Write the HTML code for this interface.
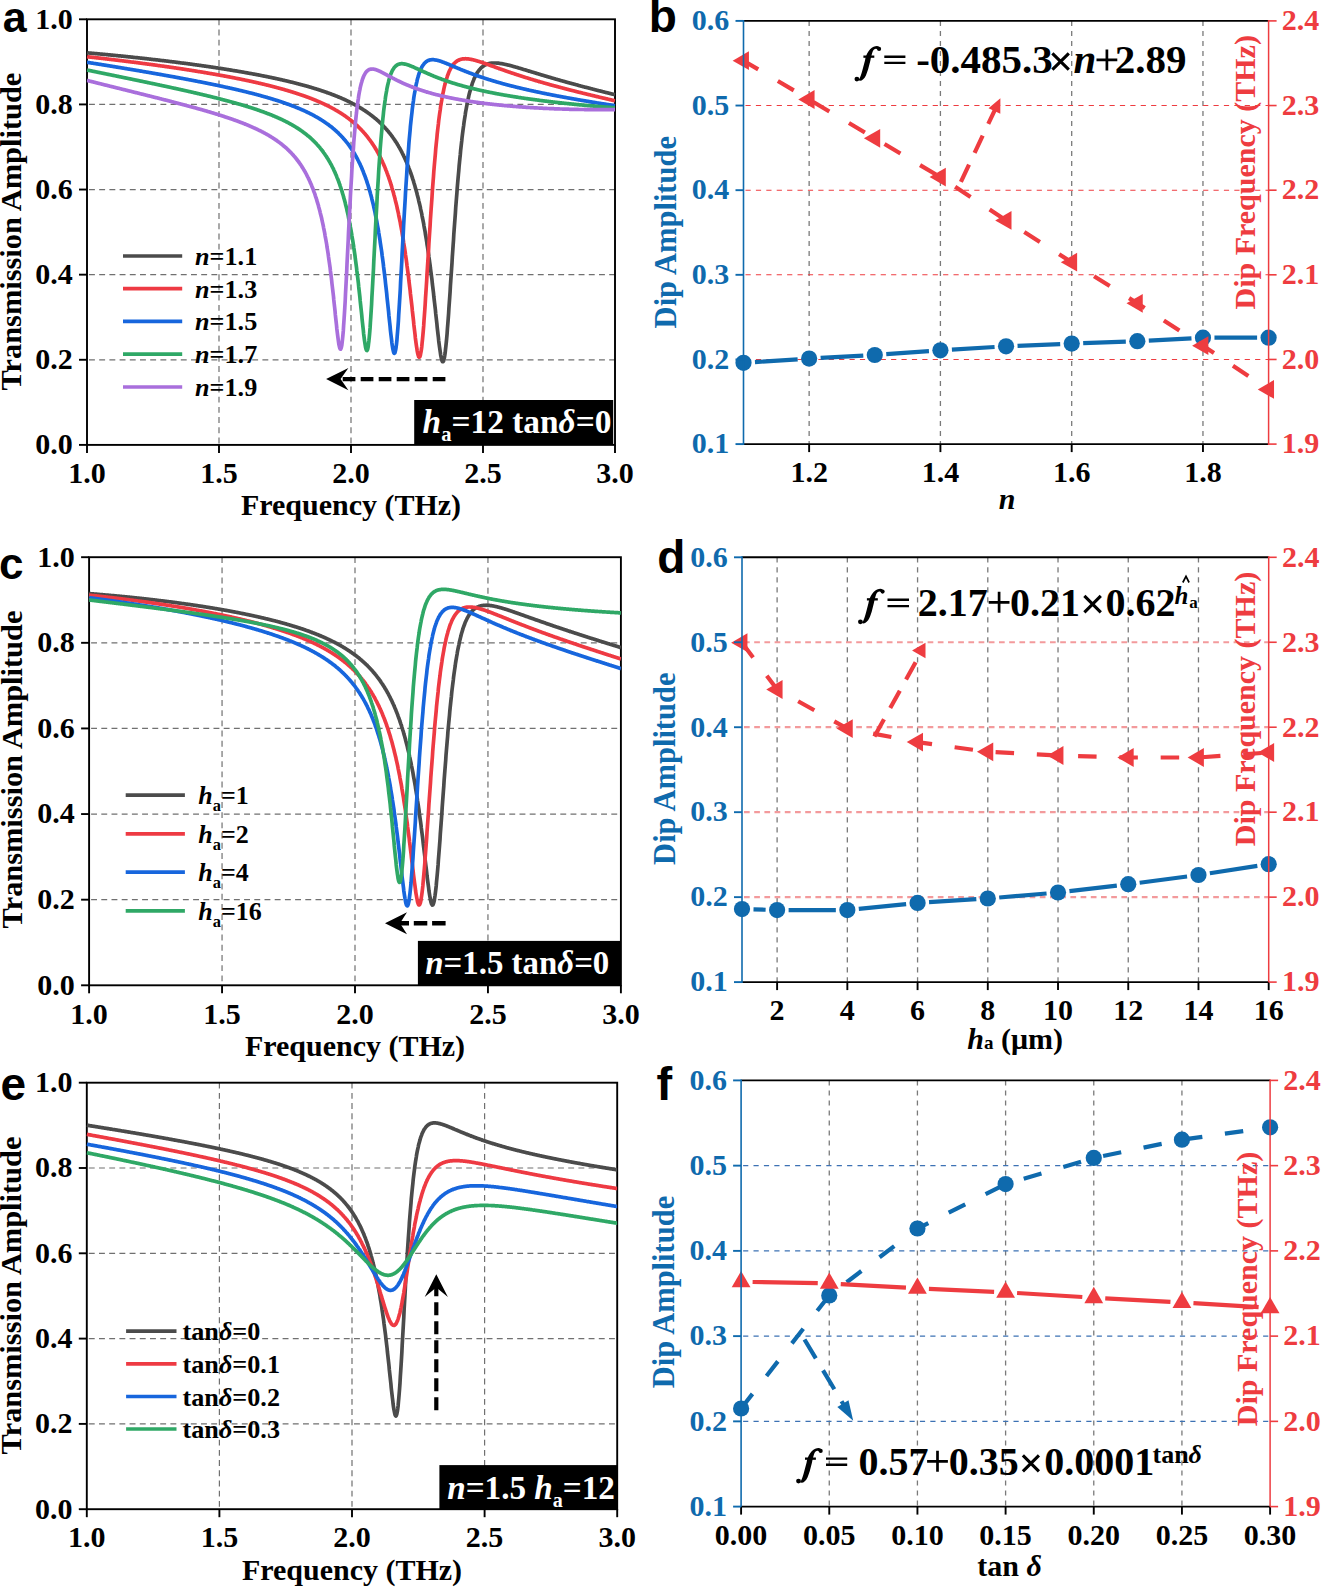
<!DOCTYPE html>
<html><head><meta charset="utf-8"><style>html,body{margin:0;padding:0;background:#fff;overflow:hidden}svg{display:block}</style></head><body>
<svg width="1321" height="1587" viewBox="0 0 1321 1587" font-family="Liberation Serif, serif" font-weight="bold">
<rect width="1321" height="1587" fill="#fff"/>
<line x1="219.00" y1="19.30" x2="219.00" y2="444.90" stroke="#707070" stroke-width="1.2" stroke-dasharray="5.9 4.3"/>
<line x1="351.00" y1="19.30" x2="351.00" y2="444.90" stroke="#707070" stroke-width="1.2" stroke-dasharray="5.9 4.3"/>
<line x1="483.00" y1="19.30" x2="483.00" y2="444.90" stroke="#707070" stroke-width="1.2" stroke-dasharray="5.9 4.3"/>
<line x1="89.00" y1="359.78" x2="615.00" y2="359.78" stroke="#707070" stroke-width="1.2" stroke-dasharray="5.9 4.3"/>
<line x1="89.00" y1="274.66" x2="615.00" y2="274.66" stroke="#707070" stroke-width="1.2" stroke-dasharray="5.9 4.3"/>
<line x1="89.00" y1="189.54" x2="615.00" y2="189.54" stroke="#707070" stroke-width="1.2" stroke-dasharray="5.9 4.3"/>
<line x1="89.00" y1="104.42" x2="615.00" y2="104.42" stroke="#707070" stroke-width="1.2" stroke-dasharray="5.9 4.3"/>
<clipPath id="clipa"><rect x="86.5" y="19.3" width="529.0" height="425.59999999999997"/></clipPath>
<rect x="87.00" y="19.30" width="528.00" height="425.60" fill="none" stroke="#000" stroke-width="1.9"/>
<g clip-path="url(#clipa)" fill="none" stroke-width="3.7" stroke-linejoin="round">
<polyline points="87.0,52.8 87.4,52.9 87.8,52.9 88.1,52.9 88.5,53.0 88.9,53.0 89.3,53.0 89.6,53.1 90.0,53.1 90.4,53.1 90.8,53.2 91.2,53.2 91.5,53.2 91.9,53.3 92.3,53.3 92.7,53.3 93.0,53.4 93.4,53.4 93.8,53.4 94.2,53.5 94.5,53.5 94.9,53.5 95.3,53.6 95.7,53.6 96.1,53.6 96.4,53.7 96.8,53.7 97.2,53.7 97.6,53.8 97.9,53.8 98.3,53.8 98.7,53.9 99.1,53.9 99.5,53.9 99.8,54.0 100.2,54.0 100.6,54.0 101.0,54.1 101.3,54.1 101.7,54.2 102.1,54.2 102.5,54.2 102.9,54.3 103.2,54.3 103.6,54.3 104.0,54.4 104.4,54.4 104.7,54.4 105.1,54.5 105.5,54.5 105.9,54.5 106.2,54.6 106.6,54.6 107.0,54.7 107.4,54.7 107.8,54.7 108.1,54.8 108.5,54.8 108.9,54.8 109.3,54.9 109.6,54.9 110.0,54.9 110.4,55.0 110.8,55.0 111.2,55.1 111.5,55.1 111.9,55.1 112.3,55.2 112.7,55.2 113.0,55.2 113.4,55.3 113.8,55.3 114.2,55.3 114.6,55.4 114.9,55.4 115.3,55.5 115.7,55.5 116.1,55.5 116.4,55.6 116.8,55.6 117.2,55.6 117.6,55.7 117.9,55.7 118.3,55.8 118.7,55.8 119.1,55.8 119.5,55.9 119.8,55.9 120.2,55.9 120.6,56.0 121.0,56.0 121.3,56.1 121.7,56.1 122.1,56.1 122.5,56.2 122.9,56.2 123.2,56.2 123.6,56.3 124.0,56.3 124.4,56.4 124.7,56.4 125.1,56.4 125.5,56.5 125.9,56.5 126.3,56.6 126.6,56.6 127.0,56.6 127.4,56.7 127.8,56.7 128.1,56.8 128.5,56.8 128.9,56.8 129.3,56.9 129.6,56.9 130.0,56.9 130.4,57.0 130.8,57.0 131.2,57.1 131.5,57.1 131.9,57.1 132.3,57.2 132.7,57.2 133.0,57.3 133.4,57.3 133.8,57.3 134.2,57.4 134.6,57.4 134.9,57.5 135.3,57.5 135.7,57.5 136.1,57.6 136.4,57.6 136.8,57.7 137.2,57.7 137.6,57.7 138.0,57.8 138.3,57.8 138.7,57.9 139.1,57.9 139.5,58.0 139.8,58.0 140.2,58.0 140.6,58.1 141.0,58.1 141.3,58.2 141.7,58.2 142.1,58.2 142.5,58.3 142.9,58.3 143.2,58.4 143.6,58.4 144.0,58.4 144.4,58.5 144.7,58.5 145.1,58.6 145.5,58.6 145.9,58.7 146.3,58.7 146.6,58.7 147.0,58.8 147.4,58.8 147.8,58.9 148.1,58.9 148.5,59.0 148.9,59.0 149.3,59.0 149.7,59.1 150.0,59.1 150.4,59.2 150.8,59.2 151.2,59.3 151.5,59.3 151.9,59.3 152.3,59.4 152.7,59.4 153.0,59.5 153.4,59.5 153.8,59.6 154.2,59.6 154.6,59.6 154.9,59.7 155.3,59.7 155.7,59.8 156.1,59.8 156.4,59.9 156.8,59.9 157.2,59.9 157.6,60.0 158.0,60.0 158.3,60.1 158.7,60.1 159.1,60.2 159.5,60.2 159.8,60.3 160.2,60.3 160.6,60.3 161.0,60.4 161.4,60.4 161.7,60.5 162.1,60.5 162.5,60.6 162.9,60.6 163.2,60.7 163.6,60.7 164.0,60.7 164.4,60.8 164.7,60.8 165.1,60.9 165.5,60.9 165.9,61.0 166.3,61.0 166.6,61.1 167.0,61.1 167.4,61.2 167.8,61.2 168.1,61.2 168.5,61.3 168.9,61.3 169.3,61.4 169.7,61.4 170.0,61.5 170.4,61.5 170.8,61.6 171.2,61.6 171.5,61.7 171.9,61.7 172.3,61.8 172.7,61.8 173.1,61.9 173.4,61.9 173.8,61.9 174.2,62.0 174.6,62.0 174.9,62.1 175.3,62.1 175.7,62.2 176.1,62.2 176.4,62.3 176.8,62.3 177.2,62.4 177.6,62.4 178.0,62.5 178.3,62.5 178.7,62.6 179.1,62.6 179.5,62.7 179.8,62.7 180.2,62.8 180.6,62.8 181.0,62.9 181.4,62.9 181.7,63.0 182.1,63.0 182.5,63.1 182.9,63.1 183.2,63.1 183.6,63.2 184.0,63.2 184.4,63.3 184.7,63.3 185.1,63.4 185.5,63.4 185.9,63.5 186.3,63.5 186.6,63.6 187.0,63.6 187.4,63.7 187.8,63.7 188.1,63.8 188.5,63.8 188.9,63.9 189.3,63.9 189.7,64.0 190.0,64.0 190.4,64.1 190.8,64.1 191.2,64.2 191.5,64.2 191.9,64.3 192.3,64.4 192.7,64.4 193.1,64.5 193.4,64.5 193.8,64.6 194.2,64.6 194.6,64.7 194.9,64.7 195.3,64.8 195.7,64.8 196.1,64.9 196.4,64.9 196.8,65.0 197.2,65.0 197.6,65.1 198.0,65.1 198.3,65.2 198.7,65.2 199.1,65.3 199.5,65.3 199.8,65.4 200.2,65.4 200.6,65.5 201.0,65.5 201.4,65.6 201.7,65.7 202.1,65.7 202.5,65.8 202.9,65.8 203.2,65.9 203.6,65.9 204.0,66.0 204.4,66.0 204.8,66.1 205.1,66.1 205.5,66.2 205.9,66.2 206.3,66.3 206.6,66.4 207.0,66.4 207.4,66.5 207.8,66.5 208.1,66.6 208.5,66.6 208.9,66.7 209.3,66.7 209.7,66.8 210.0,66.9 210.4,66.9 210.8,67.0 211.2,67.0 211.5,67.1 211.9,67.1 212.3,67.2 212.7,67.2 213.1,67.3 213.4,67.4 213.8,67.4 214.2,67.5 214.6,67.5 214.9,67.6 215.3,67.6 215.7,67.7 216.1,67.8 216.5,67.8 216.8,67.9 217.2,67.9 217.6,68.0 218.0,68.0 218.3,68.1 218.7,68.2 219.1,68.2 219.5,68.3 219.8,68.3 220.2,68.4 220.6,68.4 221.0,68.5 221.4,68.6 221.7,68.6 222.1,68.7 222.5,68.7 222.9,68.8 223.2,68.9 223.6,68.9 224.0,69.0 224.4,69.0 224.8,69.1 225.1,69.2 225.5,69.2 225.9,69.3 226.3,69.3 226.6,69.4 227.0,69.5 227.4,69.5 227.8,69.6 228.2,69.6 228.5,69.7 228.9,69.8 229.3,69.8 229.7,69.9 230.0,69.9 230.4,70.0 230.8,70.1 231.2,70.1 231.5,70.2 231.9,70.3 232.3,70.3 232.7,70.4 233.1,70.4 233.4,70.5 233.8,70.6 234.2,70.6 234.6,70.7 234.9,70.8 235.3,70.8 235.7,70.9 236.1,70.9 236.5,71.0 236.8,71.1 237.2,71.1 237.6,71.2 238.0,71.3 238.3,71.3 238.7,71.4 239.1,71.5 239.5,71.5 239.9,71.6 240.2,71.7 240.6,71.7 241.0,71.8 241.4,71.9 241.7,71.9 242.1,72.0 242.5,72.0 242.9,72.1 243.2,72.2 243.6,72.2 244.0,72.3 244.4,72.4 244.8,72.4 245.1,72.5 245.5,72.6 245.9,72.6 246.3,72.7 246.6,72.8 247.0,72.8 247.4,72.9 247.8,73.0 248.2,73.1 248.5,73.1 248.9,73.2 249.3,73.3 249.7,73.3 250.0,73.4 250.4,73.5 250.8,73.5 251.2,73.6 251.6,73.7 251.9,73.7 252.3,73.8 252.7,73.9 253.1,74.0 253.4,74.0 253.8,74.1 254.2,74.2 254.6,74.2 254.9,74.3 255.3,74.4 255.7,74.4 256.1,74.5 256.5,74.6 256.8,74.7 257.2,74.7 257.6,74.8 258.0,74.9 258.3,74.9 258.7,75.0 259.1,75.1 259.5,75.2 259.9,75.2 260.2,75.3 260.6,75.4 261.0,75.5 261.4,75.5 261.7,75.6 262.1,75.7 262.5,75.8 262.9,75.8 263.3,75.9 263.6,76.0 264.0,76.1 264.4,76.1 264.8,76.2 265.1,76.3 265.5,76.4 265.9,76.4 266.3,76.5 266.6,76.6 267.0,76.7 267.4,76.7 267.8,76.8 268.2,76.9 268.5,77.0 268.9,77.1 269.3,77.1 269.7,77.2 270.0,77.3 270.4,77.4 270.8,77.4 271.2,77.5 271.6,77.6 271.9,77.7 272.3,77.8 272.7,77.8 273.1,77.9 273.4,78.0 273.8,78.1 274.2,78.2 274.6,78.2 275.0,78.3 275.3,78.4 275.7,78.5 276.1,78.6 276.5,78.7 276.8,78.7 277.2,78.8 277.6,78.9 278.0,79.0 278.3,79.1 278.7,79.2 279.1,79.2 279.5,79.3 279.9,79.4 280.2,79.5 280.6,79.6 281.0,79.7 281.4,79.7 281.7,79.8 282.1,79.9 282.5,80.0 282.9,80.1 283.3,80.2 283.6,80.3 284.0,80.3 284.4,80.4 284.8,80.5 285.1,80.6 285.5,80.7 285.9,80.8 286.3,80.9 286.7,81.0 287.0,81.1 287.4,81.1 287.8,81.2 288.2,81.3 288.5,81.4 288.9,81.5 289.3,81.6 289.7,81.7 290.0,81.8 290.4,81.9 290.8,82.0 291.2,82.1 291.6,82.1 291.9,82.2 292.3,82.3 292.7,82.4 293.1,82.5 293.4,82.6 293.8,82.7 294.2,82.8 294.6,82.9 295.0,83.0 295.3,83.1 295.7,83.2 296.1,83.3 296.5,83.4 296.8,83.5 297.2,83.6 297.6,83.7 298.0,83.8 298.4,83.9 298.7,84.0 299.1,84.1 299.5,84.2 299.9,84.3 300.2,84.4 300.6,84.5 301.0,84.6 301.4,84.7 301.7,84.8 302.1,84.9 302.5,85.0 302.9,85.1 303.3,85.2 303.6,85.3 304.0,85.4 304.4,85.5 304.8,85.6 305.1,85.7 305.5,85.8 305.9,85.9 306.3,86.0 306.7,86.1 307.0,86.2 307.4,86.3 307.8,86.4 308.2,86.6 308.5,86.7 308.9,86.8 309.3,86.9 309.7,87.0 310.1,87.1 310.4,87.2 310.8,87.3 311.2,87.4 311.6,87.5 311.9,87.7 312.3,87.8 312.7,87.9 313.1,88.0 313.4,88.1 313.8,88.2 314.2,88.3 314.6,88.5 315.0,88.6 315.3,88.7 315.7,88.8 316.1,88.9 316.5,89.0 316.8,89.2 317.2,89.3 317.6,89.4 318.0,89.5 318.4,89.6 318.7,89.8 319.1,89.9 319.5,90.0 319.9,90.1 320.2,90.3 320.6,90.4 321.0,90.5 321.4,90.6 321.8,90.7 322.1,90.9 322.5,91.0 322.9,91.1 323.3,91.3 323.6,91.4 324.0,91.5 324.4,91.6 324.8,91.8 325.1,91.9 325.5,92.0 325.9,92.2 326.3,92.3 326.7,92.4 327.0,92.6 327.4,92.7 327.8,92.8 328.2,93.0 328.5,93.1 328.9,93.2 329.3,93.4 329.7,93.5 330.1,93.7 330.4,93.8 330.8,93.9 331.2,94.1 331.6,94.2 331.9,94.4 332.3,94.5 332.7,94.7 333.1,94.8 333.5,94.9 333.8,95.1 334.2,95.2 334.6,95.4 335.0,95.5 335.3,95.7 335.7,95.8 336.1,96.0 336.5,96.1 336.8,96.3 337.2,96.4 337.6,96.6 338.0,96.8 338.4,96.9 338.7,97.1 339.1,97.2 339.5,97.4 339.9,97.5 340.2,97.7 340.6,97.9 341.0,98.0 341.4,98.2 341.8,98.4 342.1,98.5 342.5,98.7 342.9,98.8 343.3,99.0 343.6,99.2 344.0,99.4 344.4,99.5 344.8,99.7 345.2,99.9 345.5,100.0 345.9,100.2 346.3,100.4 346.7,100.6 347.0,100.8 347.4,100.9 347.8,101.1 348.2,101.3 348.5,101.5 348.9,101.7 349.3,101.8 349.7,102.0 350.1,102.2 350.4,102.4 350.8,102.6 351.2,102.8 351.6,103.0 351.9,103.2 352.3,103.4 352.7,103.6 353.1,103.8 353.5,104.0 353.8,104.2 354.2,104.4 354.6,104.6 355.0,104.8 355.3,105.0 355.7,105.2 356.1,105.4 356.5,105.6 356.8,105.8 357.2,106.0 357.6,106.2 358.0,106.5 358.4,106.7 358.7,106.9 359.1,107.1 359.5,107.3 359.9,107.6 360.2,107.8 360.6,108.0 361.0,108.2 361.4,108.5 361.8,108.7 362.1,108.9 362.5,109.2 362.9,109.4 363.3,109.7 363.6,109.9 364.0,110.1 364.4,110.4 364.8,110.6 365.2,110.9 365.5,111.1 365.9,111.4 366.3,111.7 366.7,111.9 367.0,112.2 367.4,112.4 367.8,112.7 368.2,113.0 368.5,113.2 368.9,113.5 369.3,113.8 369.7,114.1 370.1,114.3 370.4,114.6 370.8,114.9 371.2,115.2 371.6,115.5 371.9,115.8 372.3,116.1 372.7,116.4 373.1,116.7 373.5,117.0 373.8,117.3 374.2,117.6 374.6,117.9 375.0,118.2 375.3,118.5 375.7,118.8 376.1,119.1 376.5,119.5 376.9,119.8 377.2,120.1 377.6,120.5 378.0,120.8 378.4,121.1 378.7,121.5 379.1,121.8 379.5,122.2 379.9,122.5 380.2,122.9 380.6,123.3 381.0,123.6 381.4,124.0 381.8,124.4 382.1,124.7 382.5,125.1 382.9,125.5 383.3,125.9 383.6,126.3 384.0,126.7 384.4,127.1 384.8,127.5 385.2,127.9 385.5,128.3 385.9,128.8 386.3,129.2 386.7,129.6 387.0,130.0 387.4,130.5 387.8,130.9 388.2,131.4 388.6,131.8 388.9,132.3 389.3,132.8 389.7,133.2 390.1,133.7 390.4,134.2 390.8,134.7 391.2,135.2 391.6,135.7 391.9,136.2 392.3,136.7 392.7,137.2 393.1,137.8 393.5,138.3 393.8,138.8 394.2,139.4 394.6,139.9 395.0,140.5 395.3,141.1 395.7,141.7 396.1,142.2 396.5,142.8 396.9,143.4 397.2,144.0 397.6,144.7 398.0,145.3 398.4,145.9 398.7,146.6 399.1,147.2 399.5,147.9 399.9,148.6 400.3,149.2 400.6,149.9 401.0,150.6 401.4,151.3 401.8,152.1 402.1,152.8 402.5,153.5 402.9,154.3 403.3,155.1 403.6,155.8 404.0,156.6 404.4,157.4 404.8,158.3 405.2,159.1 405.5,159.9 405.9,160.8 406.3,161.6 406.7,162.5 407.0,163.4 407.4,164.3 407.8,165.3 408.2,166.2 408.6,167.2 408.9,168.1 409.3,169.1 409.7,170.1 410.1,171.2 410.4,172.2 410.8,173.3 411.2,174.3 411.6,175.4 412.0,176.6 412.3,177.7 412.7,178.9 413.1,180.0 413.5,181.2 413.8,182.5 414.2,183.7 414.6,185.0 415.0,186.3 415.3,187.6 415.7,188.9 416.1,190.3 416.5,191.7 416.9,193.1 417.2,194.5 417.6,196.0 418.0,197.5 418.4,199.0 418.7,200.6 419.1,202.2 419.5,203.8 419.9,205.4 420.3,207.1 420.6,208.9 421.0,210.6 421.4,212.4 421.8,214.2 422.1,216.1 422.5,218.0 422.9,219.9 423.3,221.9 423.7,223.9 424.0,226.0 424.4,228.1 424.8,230.2 425.2,232.4 425.5,234.7 425.9,236.9 426.3,239.3 426.7,241.6 427.0,244.1 427.4,246.5 427.8,249.0 428.2,251.6 428.6,254.2 428.9,256.9 429.3,259.6 429.7,262.4 430.1,265.2 430.4,268.1 430.8,271.0 431.2,274.0 431.6,277.1 432.0,280.1 432.3,283.3 432.7,286.5 433.1,289.7 433.5,293.0 433.8,296.3 434.2,299.7 434.6,303.1 435.0,306.5 435.4,309.9 435.7,313.4 436.1,316.9 436.5,320.4 436.9,323.9 437.2,327.3 437.6,330.8 438.0,334.2 438.4,337.5 438.7,340.7 439.1,343.8 439.5,346.8 439.9,349.6 440.3,352.2 440.6,354.6 441.0,356.7 441.4,358.5 441.8,359.9 442.1,361.0 442.5,361.6 442.9,361.7 443.3,361.4 443.7,360.6 444.0,359.3 444.4,357.6 444.8,355.3 445.2,352.6 445.5,349.5 445.9,346.0 446.3,342.2 446.7,338.1 447.1,333.6 447.4,329.0 447.8,324.1 448.2,319.0 448.6,313.7 448.9,308.4 449.3,302.9 449.7,297.3 450.1,291.6 450.4,285.9 450.8,280.2 451.2,274.4 451.6,268.6 452.0,262.8 452.3,257.1 452.7,251.4 453.1,245.7 453.5,240.1 453.8,234.5 454.2,229.0 454.6,223.6 455.0,218.3 455.4,213.0 455.7,207.8 456.1,202.8 456.5,197.8 456.9,193.0 457.2,188.3 457.6,183.6 458.0,179.1 458.4,174.7 458.8,170.4 459.1,166.3 459.5,162.2 459.9,158.3 460.3,154.5 460.6,150.8 461.0,147.2 461.4,143.8 461.8,140.4 462.1,137.2 462.5,134.1 462.9,131.0 463.3,128.1 463.7,125.3 464.0,122.6 464.4,120.0 464.8,117.5 465.2,115.1 465.5,112.7 465.9,110.5 466.3,108.3 466.7,106.2 467.1,104.2 467.4,102.3 467.8,100.5 468.2,98.7 468.6,97.0 468.9,95.4 469.3,93.8 469.7,92.3 470.1,90.9 470.5,89.5 470.8,88.2 471.2,86.9 471.6,85.7 472.0,84.6 472.3,83.4 472.7,82.4 473.1,81.4 473.5,80.4 473.8,79.5 474.2,78.6 474.6,77.7 475.0,76.9 475.4,76.1 475.7,75.4 476.1,74.7 476.5,74.0 476.9,73.4 477.2,72.7 477.6,72.2 478.0,71.6 478.4,71.1 478.8,70.6 479.1,70.1 479.5,69.6 479.9,69.2 480.3,68.8 480.6,68.4 481.0,68.0 481.4,67.6 481.8,67.3 482.2,67.0 482.5,66.7 482.9,66.4 483.3,66.1 483.7,65.9 484.0,65.6 484.4,65.4 484.8,65.2 485.2,65.0 485.5,64.8 485.9,64.6 486.3,64.4 486.7,64.3 487.1,64.1 487.4,64.0 487.8,63.9 488.2,63.8 488.6,63.7 488.9,63.6 489.3,63.5 489.7,63.4 490.1,63.3 490.5,63.3 490.8,63.2 491.2,63.2 491.6,63.1 492.0,63.1 492.3,63.0 492.7,63.0 493.1,63.0 493.5,63.0 493.9,63.0 494.2,63.0 494.6,63.0 495.0,63.0 495.4,63.0 495.7,63.0 496.1,63.0 496.5,63.0 496.9,63.1 497.2,63.1 497.6,63.1 498.0,63.2 498.4,63.2 498.8,63.2 499.1,63.3 499.5,63.3 499.9,63.4 500.3,63.4 500.6,63.5 501.0,63.6 501.4,63.6 501.8,63.7 502.2,63.7 502.5,63.8 502.9,63.9 503.3,64.0 503.7,64.0 504.0,64.1 504.4,64.2 504.8,64.3 505.2,64.4 505.6,64.4 505.9,64.5 506.3,64.6 506.7,64.7 507.1,64.8 507.4,64.9 507.8,65.0 508.2,65.1 508.6,65.1 508.9,65.2 509.3,65.3 509.7,65.4 510.1,65.5 510.5,65.6 510.8,65.7 511.2,65.8 511.6,65.9 512.0,66.0 512.3,66.1 512.7,66.2 513.1,66.3 513.5,66.5 513.9,66.6 514.2,66.7 514.6,66.8 515.0,66.9 515.4,67.0 515.7,67.1 516.1,67.2 516.5,67.3 516.9,67.4 517.3,67.5 517.6,67.6 518.0,67.8 518.4,67.9 518.8,68.0 519.1,68.1 519.5,68.2 519.9,68.3 520.3,68.4 520.6,68.5 521.0,68.7 521.4,68.8 521.8,68.9 522.2,69.0 522.5,69.1 522.9,69.2 523.3,69.3 523.7,69.5 524.0,69.6 524.4,69.7 524.8,69.8 525.2,69.9 525.6,70.0 525.9,70.1 526.3,70.3 526.7,70.4 527.1,70.5 527.4,70.6 527.8,70.7 528.2,70.8 528.6,70.9 528.9,71.1 529.3,71.2 529.7,71.3 530.1,71.4 530.5,71.5 530.8,71.6 531.2,71.8 531.6,71.9 532.0,72.0 532.3,72.1 532.7,72.2 533.1,72.3 533.5,72.4 533.9,72.6 534.2,72.7 534.6,72.8 535.0,72.9 535.4,73.0 535.7,73.1 536.1,73.3 536.5,73.4 536.9,73.5 537.3,73.6 537.6,73.7 538.0,73.8 538.4,73.9 538.8,74.1 539.1,74.2 539.5,74.3 539.9,74.4 540.3,74.5 540.6,74.6 541.0,74.7 541.4,74.9 541.8,75.0 542.2,75.1 542.5,75.2 542.9,75.3 543.3,75.4 543.7,75.5 544.0,75.6 544.4,75.8 544.8,75.9 545.2,76.0 545.6,76.1 545.9,76.2 546.3,76.3 546.7,76.4 547.1,76.5 547.4,76.7 547.8,76.8 548.2,76.9 548.6,77.0 549.0,77.1 549.3,77.2 549.7,77.3 550.1,77.4 550.5,77.5 550.8,77.6 551.2,77.8 551.6,77.9 552.0,78.0 552.3,78.1 552.7,78.2 553.1,78.3 553.5,78.4 553.9,78.5 554.2,78.6 554.6,78.7 555.0,78.9 555.4,79.0 555.7,79.1 556.1,79.2 556.5,79.3 556.9,79.4 557.3,79.5 557.6,79.6 558.0,79.7 558.4,79.8 558.8,79.9 559.1,80.0 559.5,80.2 559.9,80.3 560.3,80.4 560.7,80.5 561.0,80.6 561.4,80.7 561.8,80.8 562.2,80.9 562.5,81.0 562.9,81.1 563.3,81.2 563.7,81.3 564.0,81.4 564.4,81.5 564.8,81.6 565.2,81.7 565.6,81.8 565.9,82.0 566.3,82.1 566.7,82.2 567.1,82.3 567.4,82.4 567.8,82.5 568.2,82.6 568.6,82.7 569.0,82.8 569.3,82.9 569.7,83.0 570.1,83.1 570.5,83.2 570.8,83.3 571.2,83.4 571.6,83.5 572.0,83.6 572.4,83.7 572.7,83.8 573.1,83.9 573.5,84.0 573.9,84.1 574.2,84.2 574.6,84.3 575.0,84.4 575.4,84.5 575.7,84.6 576.1,84.7 576.5,84.8 576.9,84.9 577.3,85.0 577.6,85.1 578.0,85.2 578.4,85.4 578.8,85.5 579.1,85.6 579.5,85.7 579.9,85.8 580.3,85.9 580.7,86.0 581.0,86.1 581.4,86.2 581.8,86.3 582.2,86.4 582.5,86.5 582.9,86.6 583.3,86.7 583.7,86.8 584.1,86.9 584.4,87.0 584.8,87.1 585.2,87.2 585.6,87.3 585.9,87.3 586.3,87.4 586.7,87.5 587.1,87.6 587.4,87.7 587.8,87.8 588.2,87.9 588.6,88.0 589.0,88.1 589.3,88.2 589.7,88.3 590.1,88.4 590.5,88.5 590.8,88.6 591.2,88.7 591.6,88.8 592.0,88.9 592.4,89.0 592.7,89.1 593.1,89.2 593.5,89.3 593.9,89.4 594.2,89.5 594.6,89.6 595.0,89.7 595.4,89.8 595.8,89.9 596.1,90.0 596.5,90.1 596.9,90.2 597.3,90.3 597.6,90.4 598.0,90.5 598.4,90.6 598.8,90.7 599.1,90.8 599.5,90.8 599.9,90.9 600.3,91.0 600.7,91.1 601.0,91.2 601.4,91.3 601.8,91.4 602.2,91.5 602.5,91.6 602.9,91.7 603.3,91.8 603.7,91.9 604.1,92.0 604.4,92.1 604.8,92.2 605.2,92.3 605.6,92.4 605.9,92.5 606.3,92.6 606.7,92.7 607.1,92.7 607.5,92.8 607.8,92.9 608.2,93.0 608.6,93.1 609.0,93.2 609.3,93.3 609.7,93.4 610.1,93.5 610.5,93.6 610.8,93.7 611.2,93.8 611.6,93.9 612.0,94.0 612.4,94.1 612.7,94.2 613.1,94.2 613.5,94.3 613.9,94.4 614.2,94.5 614.6,94.6 615.0,94.7" stroke="#4b4b4b"/>
<polyline points="87.0,56.7 87.4,56.8 87.8,56.8 88.1,56.8 88.5,56.9 88.9,56.9 89.3,57.0 89.6,57.0 90.0,57.1 90.4,57.1 90.8,57.1 91.2,57.2 91.5,57.2 91.9,57.3 92.3,57.3 92.7,57.4 93.0,57.4 93.4,57.4 93.8,57.5 94.2,57.5 94.5,57.6 94.9,57.6 95.3,57.6 95.7,57.7 96.1,57.7 96.4,57.8 96.8,57.8 97.2,57.9 97.6,57.9 97.9,57.9 98.3,58.0 98.7,58.0 99.1,58.1 99.5,58.1 99.8,58.2 100.2,58.2 100.6,58.2 101.0,58.3 101.3,58.3 101.7,58.4 102.1,58.4 102.5,58.5 102.9,58.5 103.2,58.5 103.6,58.6 104.0,58.6 104.4,58.7 104.7,58.7 105.1,58.8 105.5,58.8 105.9,58.9 106.2,58.9 106.6,58.9 107.0,59.0 107.4,59.0 107.8,59.1 108.1,59.1 108.5,59.2 108.9,59.2 109.3,59.3 109.6,59.3 110.0,59.3 110.4,59.4 110.8,59.4 111.2,59.5 111.5,59.5 111.9,59.6 112.3,59.6 112.7,59.7 113.0,59.7 113.4,59.7 113.8,59.8 114.2,59.8 114.6,59.9 114.9,59.9 115.3,60.0 115.7,60.0 116.1,60.1 116.4,60.1 116.8,60.1 117.2,60.2 117.6,60.2 117.9,60.3 118.3,60.3 118.7,60.4 119.1,60.4 119.5,60.5 119.8,60.5 120.2,60.6 120.6,60.6 121.0,60.7 121.3,60.7 121.7,60.7 122.1,60.8 122.5,60.8 122.9,60.9 123.2,60.9 123.6,61.0 124.0,61.0 124.4,61.1 124.7,61.1 125.1,61.2 125.5,61.2 125.9,61.3 126.3,61.3 126.6,61.3 127.0,61.4 127.4,61.4 127.8,61.5 128.1,61.5 128.5,61.6 128.9,61.6 129.3,61.7 129.6,61.7 130.0,61.8 130.4,61.8 130.8,61.9 131.2,61.9 131.5,62.0 131.9,62.0 132.3,62.1 132.7,62.1 133.0,62.2 133.4,62.2 133.8,62.2 134.2,62.3 134.6,62.3 134.9,62.4 135.3,62.4 135.7,62.5 136.1,62.5 136.4,62.6 136.8,62.6 137.2,62.7 137.6,62.7 138.0,62.8 138.3,62.8 138.7,62.9 139.1,62.9 139.5,63.0 139.8,63.0 140.2,63.1 140.6,63.1 141.0,63.2 141.3,63.2 141.7,63.3 142.1,63.3 142.5,63.4 142.9,63.4 143.2,63.5 143.6,63.5 144.0,63.6 144.4,63.6 144.7,63.7 145.1,63.7 145.5,63.8 145.9,63.8 146.3,63.9 146.6,63.9 147.0,64.0 147.4,64.0 147.8,64.1 148.1,64.1 148.5,64.2 148.9,64.2 149.3,64.3 149.7,64.3 150.0,64.4 150.4,64.4 150.8,64.5 151.2,64.5 151.5,64.6 151.9,64.6 152.3,64.7 152.7,64.7 153.0,64.8 153.4,64.8 153.8,64.9 154.2,64.9 154.6,65.0 154.9,65.0 155.3,65.1 155.7,65.1 156.1,65.2 156.4,65.2 156.8,65.3 157.2,65.3 157.6,65.4 158.0,65.4 158.3,65.5 158.7,65.6 159.1,65.6 159.5,65.7 159.8,65.7 160.2,65.8 160.6,65.8 161.0,65.9 161.4,65.9 161.7,66.0 162.1,66.0 162.5,66.1 162.9,66.1 163.2,66.2 163.6,66.2 164.0,66.3 164.4,66.3 164.7,66.4 165.1,66.5 165.5,66.5 165.9,66.6 166.3,66.6 166.6,66.7 167.0,66.7 167.4,66.8 167.8,66.8 168.1,66.9 168.5,66.9 168.9,67.0 169.3,67.0 169.7,67.1 170.0,67.2 170.4,67.2 170.8,67.3 171.2,67.3 171.5,67.4 171.9,67.4 172.3,67.5 172.7,67.5 173.1,67.6 173.4,67.6 173.8,67.7 174.2,67.8 174.6,67.8 174.9,67.9 175.3,67.9 175.7,68.0 176.1,68.0 176.4,68.1 176.8,68.2 177.2,68.2 177.6,68.3 178.0,68.3 178.3,68.4 178.7,68.4 179.1,68.5 179.5,68.5 179.8,68.6 180.2,68.7 180.6,68.7 181.0,68.8 181.4,68.8 181.7,68.9 182.1,68.9 182.5,69.0 182.9,69.1 183.2,69.1 183.6,69.2 184.0,69.2 184.4,69.3 184.7,69.3 185.1,69.4 185.5,69.5 185.9,69.5 186.3,69.6 186.6,69.6 187.0,69.7 187.4,69.8 187.8,69.8 188.1,69.9 188.5,69.9 188.9,70.0 189.3,70.0 189.7,70.1 190.0,70.2 190.4,70.2 190.8,70.3 191.2,70.3 191.5,70.4 191.9,70.5 192.3,70.5 192.7,70.6 193.1,70.6 193.4,70.7 193.8,70.8 194.2,70.8 194.6,70.9 194.9,70.9 195.3,71.0 195.7,71.1 196.1,71.1 196.4,71.2 196.8,71.3 197.2,71.3 197.6,71.4 198.0,71.4 198.3,71.5 198.7,71.6 199.1,71.6 199.5,71.7 199.8,71.7 200.2,71.8 200.6,71.9 201.0,71.9 201.4,72.0 201.7,72.1 202.1,72.1 202.5,72.2 202.9,72.2 203.2,72.3 203.6,72.4 204.0,72.4 204.4,72.5 204.8,72.6 205.1,72.6 205.5,72.7 205.9,72.7 206.3,72.8 206.6,72.9 207.0,72.9 207.4,73.0 207.8,73.1 208.1,73.1 208.5,73.2 208.9,73.3 209.3,73.3 209.7,73.4 210.0,73.5 210.4,73.5 210.8,73.6 211.2,73.6 211.5,73.7 211.9,73.8 212.3,73.8 212.7,73.9 213.1,74.0 213.4,74.0 213.8,74.1 214.2,74.2 214.6,74.2 214.9,74.3 215.3,74.4 215.7,74.4 216.1,74.5 216.5,74.6 216.8,74.6 217.2,74.7 217.6,74.8 218.0,74.8 218.3,74.9 218.7,75.0 219.1,75.0 219.5,75.1 219.8,75.2 220.2,75.3 220.6,75.3 221.0,75.4 221.4,75.5 221.7,75.5 222.1,75.6 222.5,75.7 222.9,75.7 223.2,75.8 223.6,75.9 224.0,75.9 224.4,76.0 224.8,76.1 225.1,76.2 225.5,76.2 225.9,76.3 226.3,76.4 226.6,76.4 227.0,76.5 227.4,76.6 227.8,76.7 228.2,76.7 228.5,76.8 228.9,76.9 229.3,76.9 229.7,77.0 230.0,77.1 230.4,77.2 230.8,77.2 231.2,77.3 231.5,77.4 231.9,77.4 232.3,77.5 232.7,77.6 233.1,77.7 233.4,77.7 233.8,77.8 234.2,77.9 234.6,78.0 234.9,78.0 235.3,78.1 235.7,78.2 236.1,78.3 236.5,78.3 236.8,78.4 237.2,78.5 237.6,78.6 238.0,78.6 238.3,78.7 238.7,78.8 239.1,78.9 239.5,78.9 239.9,79.0 240.2,79.1 240.6,79.2 241.0,79.2 241.4,79.3 241.7,79.4 242.1,79.5 242.5,79.6 242.9,79.6 243.2,79.7 243.6,79.8 244.0,79.9 244.4,79.9 244.8,80.0 245.1,80.1 245.5,80.2 245.9,80.3 246.3,80.3 246.6,80.4 247.0,80.5 247.4,80.6 247.8,80.7 248.2,80.7 248.5,80.8 248.9,80.9 249.3,81.0 249.7,81.1 250.0,81.1 250.4,81.2 250.8,81.3 251.2,81.4 251.6,81.5 251.9,81.6 252.3,81.6 252.7,81.7 253.1,81.8 253.4,81.9 253.8,82.0 254.2,82.1 254.6,82.1 254.9,82.2 255.3,82.3 255.7,82.4 256.1,82.5 256.5,82.6 256.8,82.7 257.2,82.7 257.6,82.8 258.0,82.9 258.3,83.0 258.7,83.1 259.1,83.2 259.5,83.3 259.9,83.4 260.2,83.4 260.6,83.5 261.0,83.6 261.4,83.7 261.7,83.8 262.1,83.9 262.5,84.0 262.9,84.1 263.3,84.2 263.6,84.2 264.0,84.3 264.4,84.4 264.8,84.5 265.1,84.6 265.5,84.7 265.9,84.8 266.3,84.9 266.6,85.0 267.0,85.1 267.4,85.2 267.8,85.2 268.2,85.3 268.5,85.4 268.9,85.5 269.3,85.6 269.7,85.7 270.0,85.8 270.4,85.9 270.8,86.0 271.2,86.1 271.6,86.2 271.9,86.3 272.3,86.4 272.7,86.5 273.1,86.6 273.4,86.7 273.8,86.8 274.2,86.9 274.6,87.0 275.0,87.1 275.3,87.2 275.7,87.3 276.1,87.4 276.5,87.5 276.8,87.6 277.2,87.7 277.6,87.8 278.0,87.9 278.3,88.0 278.7,88.1 279.1,88.2 279.5,88.3 279.9,88.4 280.2,88.5 280.6,88.6 281.0,88.7 281.4,88.8 281.7,88.9 282.1,89.0 282.5,89.1 282.9,89.2 283.3,89.3 283.6,89.4 284.0,89.5 284.4,89.7 284.8,89.8 285.1,89.9 285.5,90.0 285.9,90.1 286.3,90.2 286.7,90.3 287.0,90.4 287.4,90.5 287.8,90.6 288.2,90.8 288.5,90.9 288.9,91.0 289.3,91.1 289.7,91.2 290.0,91.3 290.4,91.4 290.8,91.6 291.2,91.7 291.6,91.8 291.9,91.9 292.3,92.0 292.7,92.1 293.1,92.3 293.4,92.4 293.8,92.5 294.2,92.6 294.6,92.7 295.0,92.8 295.3,93.0 295.7,93.1 296.1,93.2 296.5,93.3 296.8,93.5 297.2,93.6 297.6,93.7 298.0,93.8 298.4,94.0 298.7,94.1 299.1,94.2 299.5,94.3 299.9,94.5 300.2,94.6 300.6,94.7 301.0,94.8 301.4,95.0 301.7,95.1 302.1,95.2 302.5,95.4 302.9,95.5 303.3,95.6 303.6,95.8 304.0,95.9 304.4,96.0 304.8,96.2 305.1,96.3 305.5,96.4 305.9,96.6 306.3,96.7 306.7,96.8 307.0,97.0 307.4,97.1 307.8,97.3 308.2,97.4 308.5,97.5 308.9,97.7 309.3,97.8 309.7,98.0 310.1,98.1 310.4,98.3 310.8,98.4 311.2,98.5 311.6,98.7 311.9,98.8 312.3,99.0 312.7,99.1 313.1,99.3 313.4,99.4 313.8,99.6 314.2,99.7 314.6,99.9 315.0,100.1 315.3,100.2 315.7,100.4 316.1,100.5 316.5,100.7 316.8,100.8 317.2,101.0 317.6,101.2 318.0,101.3 318.4,101.5 318.7,101.6 319.1,101.8 319.5,102.0 319.9,102.1 320.2,102.3 320.6,102.5 321.0,102.6 321.4,102.8 321.8,103.0 322.1,103.1 322.5,103.3 322.9,103.5 323.3,103.7 323.6,103.8 324.0,104.0 324.4,104.2 324.8,104.4 325.1,104.6 325.5,104.7 325.9,104.9 326.3,105.1 326.7,105.3 327.0,105.5 327.4,105.7 327.8,105.8 328.2,106.0 328.5,106.2 328.9,106.4 329.3,106.6 329.7,106.8 330.1,107.0 330.4,107.2 330.8,107.4 331.2,107.6 331.6,107.8 331.9,108.0 332.3,108.2 332.7,108.4 333.1,108.6 333.5,108.8 333.8,109.0 334.2,109.2 334.6,109.4 335.0,109.7 335.3,109.9 335.7,110.1 336.1,110.3 336.5,110.5 336.8,110.7 337.2,111.0 337.6,111.2 338.0,111.4 338.4,111.6 338.7,111.9 339.1,112.1 339.5,112.3 339.9,112.6 340.2,112.8 340.6,113.0 341.0,113.3 341.4,113.5 341.8,113.8 342.1,114.0 342.5,114.3 342.9,114.5 343.3,114.8 343.6,115.0 344.0,115.3 344.4,115.5 344.8,115.8 345.2,116.1 345.5,116.3 345.9,116.6 346.3,116.9 346.7,117.1 347.0,117.4 347.4,117.7 347.8,117.9 348.2,118.2 348.5,118.5 348.9,118.8 349.3,119.1 349.7,119.4 350.1,119.7 350.4,120.0 350.8,120.3 351.2,120.6 351.6,120.9 351.9,121.2 352.3,121.5 352.7,121.8 353.1,122.1 353.5,122.4 353.8,122.8 354.2,123.1 354.6,123.4 355.0,123.7 355.3,124.1 355.7,124.4 356.1,124.7 356.5,125.1 356.8,125.4 357.2,125.8 357.6,126.1 358.0,126.5 358.4,126.9 358.7,127.2 359.1,127.6 359.5,128.0 359.9,128.4 360.2,128.7 360.6,129.1 361.0,129.5 361.4,129.9 361.8,130.3 362.1,130.7 362.5,131.1 362.9,131.5 363.3,131.9 363.6,132.4 364.0,132.8 364.4,133.2 364.8,133.6 365.2,134.1 365.5,134.5 365.9,135.0 366.3,135.4 366.7,135.9 367.0,136.4 367.4,136.8 367.8,137.3 368.2,137.8 368.5,138.3 368.9,138.8 369.3,139.3 369.7,139.8 370.1,140.3 370.4,140.8 370.8,141.4 371.2,141.9 371.6,142.4 371.9,143.0 372.3,143.5 372.7,144.1 373.1,144.7 373.5,145.3 373.8,145.8 374.2,146.4 374.6,147.0 375.0,147.7 375.3,148.3 375.7,148.9 376.1,149.5 376.5,150.2 376.9,150.8 377.2,151.5 377.6,152.2 378.0,152.9 378.4,153.6 378.7,154.3 379.1,155.0 379.5,155.7 379.9,156.4 380.2,157.2 380.6,158.0 381.0,158.7 381.4,159.5 381.8,160.3 382.1,161.1 382.5,161.9 382.9,162.8 383.3,163.6 383.6,164.5 384.0,165.4 384.4,166.2 384.8,167.1 385.2,168.1 385.5,169.0 385.9,170.0 386.3,170.9 386.7,171.9 387.0,172.9 387.4,173.9 387.8,175.0 388.2,176.0 388.6,177.1 388.9,178.2 389.3,179.3 389.7,180.4 390.1,181.6 390.4,182.7 390.8,183.9 391.2,185.2 391.6,186.4 391.9,187.7 392.3,189.0 392.7,190.3 393.1,191.6 393.5,193.0 393.8,194.4 394.2,195.8 394.6,197.2 395.0,198.7 395.3,200.2 395.7,201.7 396.1,203.3 396.5,204.9 396.9,206.5 397.2,208.2 397.6,209.8 398.0,211.6 398.4,213.3 398.7,215.1 399.1,217.0 399.5,218.8 399.9,220.8 400.3,222.7 400.6,224.7 401.0,226.7 401.4,228.8 401.8,230.9 402.1,233.1 402.5,235.3 402.9,237.6 403.3,239.9 403.6,242.2 404.0,244.7 404.4,247.1 404.8,249.6 405.2,252.2 405.5,254.8 405.9,257.4 406.3,260.1 406.7,262.9 407.0,265.7 407.4,268.6 407.8,271.5 408.2,274.5 408.6,277.5 408.9,280.6 409.3,283.8 409.7,287.0 410.1,290.2 410.4,293.5 410.8,296.8 411.2,300.1 411.6,303.5 412.0,306.9 412.3,310.4 412.7,313.8 413.1,317.3 413.5,320.7 413.8,324.2 414.2,327.6 414.6,330.9 415.0,334.2 415.3,337.4 415.7,340.5 416.1,343.4 416.5,346.2 416.9,348.7 417.2,351.0 417.6,353.0 418.0,354.6 418.4,355.9 418.7,356.8 419.1,357.2 419.5,357.2 419.9,356.6 420.3,355.6 420.6,354.0 421.0,352.0 421.4,349.4 421.8,346.4 422.1,343.0 422.5,339.2 422.9,335.0 423.3,330.5 423.7,325.7 424.0,320.6 424.4,315.3 424.8,309.8 425.2,304.2 425.5,298.4 425.9,292.5 426.3,286.5 426.7,280.4 427.0,274.3 427.4,268.1 427.8,261.9 428.2,255.8 428.6,249.6 428.9,243.5 429.3,237.5 429.7,231.4 430.1,225.5 430.4,219.6 430.8,213.9 431.2,208.2 431.6,202.6 432.0,197.1 432.3,191.8 432.7,186.5 433.1,181.4 433.5,176.4 433.8,171.6 434.2,166.9 434.6,162.3 435.0,157.8 435.4,153.5 435.7,149.3 436.1,145.3 436.5,141.4 436.9,137.6 437.2,134.0 437.6,130.5 438.0,127.1 438.4,123.8 438.7,120.7 439.1,117.7 439.5,114.8 439.9,112.1 440.3,109.4 440.6,106.8 441.0,104.4 441.4,102.0 441.8,99.8 442.1,97.7 442.5,95.6 442.9,93.6 443.3,91.8 443.7,90.0 444.0,88.3 444.4,86.6 444.8,85.1 445.2,83.6 445.5,82.2 445.9,80.8 446.3,79.5 446.7,78.3 447.1,77.1 447.4,76.0 447.8,75.0 448.2,74.0 448.6,73.0 448.9,72.1 449.3,71.2 449.7,70.4 450.1,69.6 450.4,68.9 450.8,68.2 451.2,67.6 451.6,66.9 452.0,66.3 452.3,65.8 452.7,65.2 453.1,64.8 453.5,64.3 453.8,63.8 454.2,63.4 454.6,63.0 455.0,62.7 455.4,62.3 455.7,62.0 456.1,61.7 456.5,61.4 456.9,61.1 457.2,60.9 457.6,60.7 458.0,60.4 458.4,60.2 458.8,60.1 459.1,59.9 459.5,59.7 459.9,59.6 460.3,59.5 460.6,59.4 461.0,59.3 461.4,59.2 461.8,59.1 462.1,59.0 462.5,58.9 462.9,58.9 463.3,58.8 463.7,58.8 464.0,58.8 464.4,58.8 464.8,58.8 465.2,58.7 465.5,58.7 465.9,58.8 466.3,58.8 466.7,58.8 467.1,58.8 467.4,58.8 467.8,58.9 468.2,58.9 468.6,59.0 468.9,59.0 469.3,59.1 469.7,59.1 470.1,59.2 470.5,59.3 470.8,59.3 471.2,59.4 471.6,59.5 472.0,59.6 472.3,59.6 472.7,59.7 473.1,59.8 473.5,59.9 473.8,60.0 474.2,60.1 474.6,60.2 475.0,60.3 475.4,60.4 475.7,60.5 476.1,60.6 476.5,60.7 476.9,60.8 477.2,61.0 477.6,61.1 478.0,61.2 478.4,61.3 478.8,61.4 479.1,61.5 479.5,61.7 479.9,61.8 480.3,61.9 480.6,62.0 481.0,62.1 481.4,62.3 481.8,62.4 482.2,62.5 482.5,62.7 482.9,62.8 483.3,62.9 483.7,63.0 484.0,63.2 484.4,63.3 484.8,63.4 485.2,63.6 485.5,63.7 485.9,63.8 486.3,64.0 486.7,64.1 487.1,64.2 487.4,64.4 487.8,64.5 488.2,64.6 488.6,64.8 488.9,64.9 489.3,65.0 489.7,65.2 490.1,65.3 490.5,65.4 490.8,65.6 491.2,65.7 491.6,65.9 492.0,66.0 492.3,66.1 492.7,66.3 493.1,66.4 493.5,66.5 493.9,66.7 494.2,66.8 494.6,66.9 495.0,67.1 495.4,67.2 495.7,67.4 496.1,67.5 496.5,67.6 496.9,67.8 497.2,67.9 497.6,68.0 498.0,68.2 498.4,68.3 498.8,68.4 499.1,68.6 499.5,68.7 499.9,68.8 500.3,69.0 500.6,69.1 501.0,69.2 501.4,69.4 501.8,69.5 502.2,69.6 502.5,69.8 502.9,69.9 503.3,70.0 503.7,70.2 504.0,70.3 504.4,70.4 504.8,70.6 505.2,70.7 505.6,70.8 505.9,71.0 506.3,71.1 506.7,71.2 507.1,71.4 507.4,71.5 507.8,71.6 508.2,71.8 508.6,71.9 508.9,72.0 509.3,72.1 509.7,72.3 510.1,72.4 510.5,72.5 510.8,72.7 511.2,72.8 511.6,72.9 512.0,73.0 512.3,73.2 512.7,73.3 513.1,73.4 513.5,73.5 513.9,73.7 514.2,73.8 514.6,73.9 515.0,74.1 515.4,74.2 515.7,74.3 516.1,74.4 516.5,74.6 516.9,74.7 517.3,74.8 517.6,74.9 518.0,75.0 518.4,75.2 518.8,75.3 519.1,75.4 519.5,75.5 519.9,75.7 520.3,75.8 520.6,75.9 521.0,76.0 521.4,76.1 521.8,76.3 522.2,76.4 522.5,76.5 522.9,76.6 523.3,76.7 523.7,76.9 524.0,77.0 524.4,77.1 524.8,77.2 525.2,77.3 525.6,77.5 525.9,77.6 526.3,77.7 526.7,77.8 527.1,77.9 527.4,78.0 527.8,78.2 528.2,78.3 528.6,78.4 528.9,78.5 529.3,78.6 529.7,78.7 530.1,78.9 530.5,79.0 530.8,79.1 531.2,79.2 531.6,79.3 532.0,79.4 532.3,79.5 532.7,79.7 533.1,79.8 533.5,79.9 533.9,80.0 534.2,80.1 534.6,80.2 535.0,80.3 535.4,80.4 535.7,80.6 536.1,80.7 536.5,80.8 536.9,80.9 537.3,81.0 537.6,81.1 538.0,81.2 538.4,81.3 538.8,81.4 539.1,81.6 539.5,81.7 539.9,81.8 540.3,81.9 540.6,82.0 541.0,82.1 541.4,82.2 541.8,82.3 542.2,82.4 542.5,82.5 542.9,82.6 543.3,82.8 543.7,82.9 544.0,83.0 544.4,83.1 544.8,83.2 545.2,83.3 545.6,83.4 545.9,83.5 546.3,83.6 546.7,83.7 547.1,83.8 547.4,83.9 547.8,84.0 548.2,84.1 548.6,84.2 549.0,84.3 549.3,84.5 549.7,84.6 550.1,84.7 550.5,84.8 550.8,84.9 551.2,85.0 551.6,85.1 552.0,85.2 552.3,85.3 552.7,85.4 553.1,85.5 553.5,85.6 553.9,85.7 554.2,85.8 554.6,85.9 555.0,86.0 555.4,86.1 555.7,86.2 556.1,86.3 556.5,86.4 556.9,86.5 557.3,86.6 557.6,86.7 558.0,86.8 558.4,86.9 558.8,87.0 559.1,87.1 559.5,87.2 559.9,87.3 560.3,87.4 560.7,87.5 561.0,87.6 561.4,87.7 561.8,87.8 562.2,87.9 562.5,88.0 562.9,88.1 563.3,88.2 563.7,88.3 564.0,88.4 564.4,88.5 564.8,88.6 565.2,88.7 565.6,88.8 565.9,88.9 566.3,89.0 566.7,89.1 567.1,89.2 567.4,89.3 567.8,89.4 568.2,89.5 568.6,89.6 569.0,89.7 569.3,89.8 569.7,89.9 570.1,90.0 570.5,90.1 570.8,90.2 571.2,90.3 571.6,90.4 572.0,90.5 572.4,90.5 572.7,90.6 573.1,90.7 573.5,90.8 573.9,90.9 574.2,91.0 574.6,91.1 575.0,91.2 575.4,91.3 575.7,91.4 576.1,91.5 576.5,91.6 576.9,91.7 577.3,91.8 577.6,91.9 578.0,92.0 578.4,92.1 578.8,92.2 579.1,92.3 579.5,92.3 579.9,92.4 580.3,92.5 580.7,92.6 581.0,92.7 581.4,92.8 581.8,92.9 582.2,93.0 582.5,93.1 582.9,93.2 583.3,93.3 583.7,93.4 584.1,93.5 584.4,93.6 584.8,93.6 585.2,93.7 585.6,93.8 585.9,93.9 586.3,94.0 586.7,94.1 587.1,94.2 587.4,94.3 587.8,94.4 588.2,94.5 588.6,94.6 589.0,94.7 589.3,94.7 589.7,94.8 590.1,94.9 590.5,95.0 590.8,95.1 591.2,95.2 591.6,95.3 592.0,95.4 592.4,95.5 592.7,95.6 593.1,95.7 593.5,95.7 593.9,95.8 594.2,95.9 594.6,96.0 595.0,96.1 595.4,96.2 595.8,96.3 596.1,96.4 596.5,96.5 596.9,96.6 597.3,96.6 597.6,96.7 598.0,96.8 598.4,96.9 598.8,97.0 599.1,97.1 599.5,97.2 599.9,97.3 600.3,97.4 600.7,97.4 601.0,97.5 601.4,97.6 601.8,97.7 602.2,97.8 602.5,97.9 602.9,98.0 603.3,98.1 603.7,98.2 604.1,98.2 604.4,98.3 604.8,98.4 605.2,98.5 605.6,98.6 605.9,98.7 606.3,98.8 606.7,98.9 607.1,98.9 607.5,99.0 607.8,99.1 608.2,99.2 608.6,99.3 609.0,99.4 609.3,99.5 609.7,99.6 610.1,99.6 610.5,99.7 610.8,99.8 611.2,99.9 611.6,100.0 612.0,100.1 612.4,100.2 612.7,100.3 613.1,100.3 613.5,100.4 613.9,100.5 614.2,100.6 614.6,100.7 615.0,100.8" stroke="#ee3a43"/>
<polyline points="87.0,62.3 87.4,62.3 87.8,62.4 88.1,62.5 88.5,62.5 88.9,62.6 89.3,62.6 89.6,62.7 90.0,62.8 90.4,62.8 90.8,62.9 91.2,62.9 91.5,63.0 91.9,63.1 92.3,63.1 92.7,63.2 93.0,63.2 93.4,63.3 93.8,63.4 94.2,63.4 94.5,63.5 94.9,63.5 95.3,63.6 95.7,63.7 96.1,63.7 96.4,63.8 96.8,63.8 97.2,63.9 97.6,64.0 97.9,64.0 98.3,64.1 98.7,64.1 99.1,64.2 99.5,64.3 99.8,64.3 100.2,64.4 100.6,64.4 101.0,64.5 101.3,64.6 101.7,64.6 102.1,64.7 102.5,64.8 102.9,64.8 103.2,64.9 103.6,64.9 104.0,65.0 104.4,65.1 104.7,65.1 105.1,65.2 105.5,65.2 105.9,65.3 106.2,65.4 106.6,65.4 107.0,65.5 107.4,65.5 107.8,65.6 108.1,65.7 108.5,65.7 108.9,65.8 109.3,65.9 109.6,65.9 110.0,66.0 110.4,66.0 110.8,66.1 111.2,66.2 111.5,66.2 111.9,66.3 112.3,66.3 112.7,66.4 113.0,66.5 113.4,66.5 113.8,66.6 114.2,66.7 114.6,66.7 114.9,66.8 115.3,66.8 115.7,66.9 116.1,67.0 116.4,67.0 116.8,67.1 117.2,67.1 117.6,67.2 117.9,67.3 118.3,67.3 118.7,67.4 119.1,67.5 119.5,67.5 119.8,67.6 120.2,67.6 120.6,67.7 121.0,67.8 121.3,67.8 121.7,67.9 122.1,68.0 122.5,68.0 122.9,68.1 123.2,68.1 123.6,68.2 124.0,68.3 124.4,68.3 124.7,68.4 125.1,68.5 125.5,68.5 125.9,68.6 126.3,68.6 126.6,68.7 127.0,68.8 127.4,68.8 127.8,68.9 128.1,69.0 128.5,69.0 128.9,69.1 129.3,69.1 129.6,69.2 130.0,69.3 130.4,69.3 130.8,69.4 131.2,69.5 131.5,69.5 131.9,69.6 132.3,69.7 132.7,69.7 133.0,69.8 133.4,69.8 133.8,69.9 134.2,70.0 134.6,70.0 134.9,70.1 135.3,70.2 135.7,70.2 136.1,70.3 136.4,70.4 136.8,70.4 137.2,70.5 137.6,70.5 138.0,70.6 138.3,70.7 138.7,70.7 139.1,70.8 139.5,70.9 139.8,70.9 140.2,71.0 140.6,71.1 141.0,71.1 141.3,71.2 141.7,71.2 142.1,71.3 142.5,71.4 142.9,71.4 143.2,71.5 143.6,71.6 144.0,71.6 144.4,71.7 144.7,71.8 145.1,71.8 145.5,71.9 145.9,72.0 146.3,72.0 146.6,72.1 147.0,72.2 147.4,72.2 147.8,72.3 148.1,72.3 148.5,72.4 148.9,72.5 149.3,72.5 149.7,72.6 150.0,72.7 150.4,72.7 150.8,72.8 151.2,72.9 151.5,72.9 151.9,73.0 152.3,73.1 152.7,73.1 153.0,73.2 153.4,73.3 153.8,73.3 154.2,73.4 154.6,73.5 154.9,73.5 155.3,73.6 155.7,73.7 156.1,73.7 156.4,73.8 156.8,73.9 157.2,73.9 157.6,74.0 158.0,74.1 158.3,74.1 158.7,74.2 159.1,74.2 159.5,74.3 159.8,74.4 160.2,74.4 160.6,74.5 161.0,74.6 161.4,74.6 161.7,74.7 162.1,74.8 162.5,74.8 162.9,74.9 163.2,75.0 163.6,75.0 164.0,75.1 164.4,75.2 164.7,75.3 165.1,75.3 165.5,75.4 165.9,75.5 166.3,75.5 166.6,75.6 167.0,75.7 167.4,75.7 167.8,75.8 168.1,75.9 168.5,75.9 168.9,76.0 169.3,76.1 169.7,76.1 170.0,76.2 170.4,76.3 170.8,76.3 171.2,76.4 171.5,76.5 171.9,76.5 172.3,76.6 172.7,76.7 173.1,76.7 173.4,76.8 173.8,76.9 174.2,76.9 174.6,77.0 174.9,77.1 175.3,77.2 175.7,77.2 176.1,77.3 176.4,77.4 176.8,77.4 177.2,77.5 177.6,77.6 178.0,77.6 178.3,77.7 178.7,77.8 179.1,77.8 179.5,77.9 179.8,78.0 180.2,78.1 180.6,78.1 181.0,78.2 181.4,78.3 181.7,78.3 182.1,78.4 182.5,78.5 182.9,78.5 183.2,78.6 183.6,78.7 184.0,78.8 184.4,78.8 184.7,78.9 185.1,79.0 185.5,79.0 185.9,79.1 186.3,79.2 186.6,79.3 187.0,79.3 187.4,79.4 187.8,79.5 188.1,79.5 188.5,79.6 188.9,79.7 189.3,79.8 189.7,79.8 190.0,79.9 190.4,80.0 190.8,80.0 191.2,80.1 191.5,80.2 191.9,80.3 192.3,80.3 192.7,80.4 193.1,80.5 193.4,80.5 193.8,80.6 194.2,80.7 194.6,80.8 194.9,80.8 195.3,80.9 195.7,81.0 196.1,81.1 196.4,81.1 196.8,81.2 197.2,81.3 197.6,81.4 198.0,81.4 198.3,81.5 198.7,81.6 199.1,81.6 199.5,81.7 199.8,81.8 200.2,81.9 200.6,81.9 201.0,82.0 201.4,82.1 201.7,82.2 202.1,82.2 202.5,82.3 202.9,82.4 203.2,82.5 203.6,82.5 204.0,82.6 204.4,82.7 204.8,82.8 205.1,82.8 205.5,82.9 205.9,83.0 206.3,83.1 206.6,83.1 207.0,83.2 207.4,83.3 207.8,83.4 208.1,83.5 208.5,83.5 208.9,83.6 209.3,83.7 209.7,83.8 210.0,83.8 210.4,83.9 210.8,84.0 211.2,84.1 211.5,84.1 211.9,84.2 212.3,84.3 212.7,84.4 213.1,84.5 213.4,84.5 213.8,84.6 214.2,84.7 214.6,84.8 214.9,84.8 215.3,84.9 215.7,85.0 216.1,85.1 216.5,85.2 216.8,85.2 217.2,85.3 217.6,85.4 218.0,85.5 218.3,85.6 218.7,85.6 219.1,85.7 219.5,85.8 219.8,85.9 220.2,86.0 220.6,86.0 221.0,86.1 221.4,86.2 221.7,86.3 222.1,86.4 222.5,86.4 222.9,86.5 223.2,86.6 223.6,86.7 224.0,86.8 224.4,86.9 224.8,86.9 225.1,87.0 225.5,87.1 225.9,87.2 226.3,87.3 226.6,87.4 227.0,87.4 227.4,87.5 227.8,87.6 228.2,87.7 228.5,87.8 228.9,87.9 229.3,87.9 229.7,88.0 230.0,88.1 230.4,88.2 230.8,88.3 231.2,88.4 231.5,88.4 231.9,88.5 232.3,88.6 232.7,88.7 233.1,88.8 233.4,88.9 233.8,89.0 234.2,89.0 234.6,89.1 234.9,89.2 235.3,89.3 235.7,89.4 236.1,89.5 236.5,89.6 236.8,89.7 237.2,89.7 237.6,89.8 238.0,89.9 238.3,90.0 238.7,90.1 239.1,90.2 239.5,90.3 239.9,90.4 240.2,90.5 240.6,90.5 241.0,90.6 241.4,90.7 241.7,90.8 242.1,90.9 242.5,91.0 242.9,91.1 243.2,91.2 243.6,91.3 244.0,91.4 244.4,91.5 244.8,91.5 245.1,91.6 245.5,91.7 245.9,91.8 246.3,91.9 246.6,92.0 247.0,92.1 247.4,92.2 247.8,92.3 248.2,92.4 248.5,92.5 248.9,92.6 249.3,92.7 249.7,92.8 250.0,92.9 250.4,93.0 250.8,93.0 251.2,93.1 251.6,93.2 251.9,93.3 252.3,93.4 252.7,93.5 253.1,93.6 253.4,93.7 253.8,93.8 254.2,93.9 254.6,94.0 254.9,94.1 255.3,94.2 255.7,94.3 256.1,94.4 256.5,94.5 256.8,94.6 257.2,94.7 257.6,94.8 258.0,94.9 258.3,95.0 258.7,95.1 259.1,95.2 259.5,95.3 259.9,95.4 260.2,95.5 260.6,95.6 261.0,95.7 261.4,95.8 261.7,96.0 262.1,96.1 262.5,96.2 262.9,96.3 263.3,96.4 263.6,96.5 264.0,96.6 264.4,96.7 264.8,96.8 265.1,96.9 265.5,97.0 265.9,97.1 266.3,97.2 266.6,97.3 267.0,97.4 267.4,97.6 267.8,97.7 268.2,97.8 268.5,97.9 268.9,98.0 269.3,98.1 269.7,98.2 270.0,98.3 270.4,98.4 270.8,98.6 271.2,98.7 271.6,98.8 271.9,98.9 272.3,99.0 272.7,99.1 273.1,99.2 273.4,99.4 273.8,99.5 274.2,99.6 274.6,99.7 275.0,99.8 275.3,99.9 275.7,100.1 276.1,100.2 276.5,100.3 276.8,100.4 277.2,100.5 277.6,100.7 278.0,100.8 278.3,100.9 278.7,101.0 279.1,101.2 279.5,101.3 279.9,101.4 280.2,101.5 280.6,101.7 281.0,101.8 281.4,101.9 281.7,102.0 282.1,102.2 282.5,102.3 282.9,102.4 283.3,102.5 283.6,102.7 284.0,102.8 284.4,102.9 284.8,103.1 285.1,103.2 285.5,103.3 285.9,103.5 286.3,103.6 286.7,103.7 287.0,103.9 287.4,104.0 287.8,104.1 288.2,104.3 288.5,104.4 288.9,104.5 289.3,104.7 289.7,104.8 290.0,105.0 290.4,105.1 290.8,105.2 291.2,105.4 291.6,105.5 291.9,105.7 292.3,105.8 292.7,106.0 293.1,106.1 293.4,106.3 293.8,106.4 294.2,106.5 294.6,106.7 295.0,106.8 295.3,107.0 295.7,107.1 296.1,107.3 296.5,107.5 296.8,107.6 297.2,107.8 297.6,107.9 298.0,108.1 298.4,108.2 298.7,108.4 299.1,108.5 299.5,108.7 299.9,108.9 300.2,109.0 300.6,109.2 301.0,109.3 301.4,109.5 301.7,109.7 302.1,109.8 302.5,110.0 302.9,110.2 303.3,110.3 303.6,110.5 304.0,110.7 304.4,110.9 304.8,111.0 305.1,111.2 305.5,111.4 305.9,111.6 306.3,111.7 306.7,111.9 307.0,112.1 307.4,112.3 307.8,112.5 308.2,112.6 308.5,112.8 308.9,113.0 309.3,113.2 309.7,113.4 310.1,113.6 310.4,113.8 310.8,114.0 311.2,114.1 311.6,114.3 311.9,114.5 312.3,114.7 312.7,114.9 313.1,115.1 313.4,115.3 313.8,115.5 314.2,115.7 314.6,115.9 315.0,116.2 315.3,116.4 315.7,116.6 316.1,116.8 316.5,117.0 316.8,117.2 317.2,117.4 317.6,117.6 318.0,117.9 318.4,118.1 318.7,118.3 319.1,118.5 319.5,118.8 319.9,119.0 320.2,119.2 320.6,119.5 321.0,119.7 321.4,119.9 321.8,120.2 322.1,120.4 322.5,120.6 322.9,120.9 323.3,121.1 323.6,121.4 324.0,121.6 324.4,121.9 324.8,122.1 325.1,122.4 325.5,122.7 325.9,122.9 326.3,123.2 326.7,123.5 327.0,123.7 327.4,124.0 327.8,124.3 328.2,124.5 328.5,124.8 328.9,125.1 329.3,125.4 329.7,125.7 330.1,126.0 330.4,126.3 330.8,126.5 331.2,126.8 331.6,127.1 331.9,127.4 332.3,127.8 332.7,128.1 333.1,128.4 333.5,128.7 333.8,129.0 334.2,129.3 334.6,129.7 335.0,130.0 335.3,130.3 335.7,130.7 336.1,131.0 336.5,131.3 336.8,131.7 337.2,132.0 337.6,132.4 338.0,132.8 338.4,133.1 338.7,133.5 339.1,133.9 339.5,134.2 339.9,134.6 340.2,135.0 340.6,135.4 341.0,135.8 341.4,136.2 341.8,136.6 342.1,137.0 342.5,137.4 342.9,137.8 343.3,138.2 343.6,138.7 344.0,139.1 344.4,139.5 344.8,140.0 345.2,140.4 345.5,140.9 345.9,141.3 346.3,141.8 346.7,142.3 347.0,142.7 347.4,143.2 347.8,143.7 348.2,144.2 348.5,144.7 348.9,145.2 349.3,145.8 349.7,146.3 350.1,146.8 350.4,147.4 350.8,147.9 351.2,148.5 351.6,149.0 351.9,149.6 352.3,150.2 352.7,150.8 353.1,151.4 353.5,152.0 353.8,152.6 354.2,153.2 354.6,153.9 355.0,154.5 355.3,155.2 355.7,155.8 356.1,156.5 356.5,157.2 356.8,157.9 357.2,158.6 357.6,159.3 358.0,160.1 358.4,160.8 358.7,161.6 359.1,162.3 359.5,163.1 359.9,163.9 360.2,164.7 360.6,165.5 361.0,166.4 361.4,167.2 361.8,168.1 362.1,169.0 362.5,169.9 362.9,170.8 363.3,171.8 363.6,172.7 364.0,173.7 364.4,174.7 364.8,175.7 365.2,176.7 365.5,177.8 365.9,178.8 366.3,179.9 366.7,181.0 367.0,182.2 367.4,183.3 367.8,184.5 368.2,185.7 368.5,186.9 368.9,188.2 369.3,189.4 369.7,190.8 370.1,192.1 370.4,193.4 370.8,194.8 371.2,196.3 371.6,197.7 371.9,199.2 372.3,200.7 372.7,202.3 373.1,203.9 373.5,205.5 373.8,207.1 374.2,208.8 374.6,210.6 375.0,212.3 375.3,214.2 375.7,216.0 376.1,217.9 376.5,219.9 376.9,221.9 377.2,223.9 377.6,226.0 378.0,228.1 378.4,230.3 378.7,232.5 379.1,234.8 379.5,237.2 379.9,239.6 380.2,242.1 380.6,244.6 381.0,247.2 381.4,249.8 381.8,252.5 382.1,255.3 382.5,258.1 382.9,261.0 383.3,264.0 383.6,267.0 384.0,270.1 384.4,273.3 384.8,276.5 385.2,279.8 385.5,283.1 385.9,286.5 386.3,290.0 386.7,293.5 387.0,297.1 387.4,300.7 387.8,304.4 388.2,308.1 388.6,311.8 388.9,315.5 389.3,319.2 389.7,322.9 390.1,326.5 390.4,330.1 390.8,333.6 391.2,336.9 391.6,340.1 391.9,343.0 392.3,345.7 392.7,348.1 393.1,350.1 393.5,351.7 393.8,352.8 394.2,353.3 394.6,353.3 395.0,352.7 395.3,351.4 395.7,349.6 396.1,347.1 396.5,343.9 396.9,340.3 397.2,336.1 397.6,331.4 398.0,326.3 398.4,320.8 398.7,314.9 399.1,308.8 399.5,302.4 399.9,295.9 400.3,289.1 400.6,282.2 401.0,275.2 401.4,268.2 401.8,261.1 402.1,253.9 402.5,246.8 402.9,239.8 403.3,232.7 403.6,225.8 404.0,219.0 404.4,212.2 404.8,205.6 405.2,199.1 405.5,192.8 405.9,186.6 406.3,180.6 406.7,174.7 407.0,169.1 407.4,163.6 407.8,158.3 408.2,153.2 408.6,148.2 408.9,143.5 409.3,138.9 409.7,134.6 410.1,130.4 410.4,126.4 410.8,122.6 411.2,118.9 411.6,115.4 412.0,112.1 412.3,108.9 412.7,105.9 413.1,103.1 413.5,100.4 413.8,97.8 414.2,95.3 414.6,93.0 415.0,90.8 415.3,88.8 415.7,86.8 416.1,85.0 416.5,83.2 416.9,81.6 417.2,80.0 417.6,78.5 418.0,77.2 418.4,75.9 418.7,74.6 419.1,73.5 419.5,72.4 419.9,71.4 420.3,70.5 420.6,69.6 421.0,68.7 421.4,68.0 421.8,67.2 422.1,66.5 422.5,65.9 422.9,65.3 423.3,64.8 423.7,64.3 424.0,63.8 424.4,63.4 424.8,62.9 425.2,62.6 425.5,62.2 425.9,61.9 426.3,61.6 426.7,61.4 427.0,61.1 427.4,60.9 427.8,60.7 428.2,60.5 428.6,60.4 428.9,60.2 429.3,60.1 429.7,60.0 430.1,59.9 430.4,59.9 430.8,59.8 431.2,59.8 431.6,59.7 432.0,59.7 432.3,59.7 432.7,59.7 433.1,59.7 433.5,59.7 433.8,59.7 434.2,59.8 434.6,59.8 435.0,59.9 435.4,59.9 435.7,60.0 436.1,60.1 436.5,60.1 436.9,60.2 437.2,60.3 437.6,60.4 438.0,60.5 438.4,60.6 438.7,60.7 439.1,60.8 439.5,60.9 439.9,61.0 440.3,61.2 440.6,61.3 441.0,61.4 441.4,61.5 441.8,61.7 442.1,61.8 442.5,62.0 442.9,62.1 443.3,62.2 443.7,62.4 444.0,62.5 444.4,62.7 444.8,62.8 445.2,63.0 445.5,63.1 445.9,63.3 446.3,63.4 446.7,63.6 447.1,63.7 447.4,63.9 447.8,64.0 448.2,64.2 448.6,64.3 448.9,64.5 449.3,64.7 449.7,64.8 450.1,65.0 450.4,65.1 450.8,65.3 451.2,65.4 451.6,65.6 452.0,65.8 452.3,65.9 452.7,66.1 453.1,66.2 453.5,66.4 453.8,66.6 454.2,66.7 454.6,66.9 455.0,67.0 455.4,67.2 455.7,67.4 456.1,67.5 456.5,67.7 456.9,67.8 457.2,68.0 457.6,68.1 458.0,68.3 458.4,68.5 458.8,68.6 459.1,68.8 459.5,68.9 459.9,69.1 460.3,69.2 460.6,69.4 461.0,69.6 461.4,69.7 461.8,69.9 462.1,70.0 462.5,70.2 462.9,70.3 463.3,70.5 463.7,70.6 464.0,70.8 464.4,70.9 464.8,71.1 465.2,71.2 465.5,71.4 465.9,71.5 466.3,71.7 466.7,71.8 467.1,72.0 467.4,72.1 467.8,72.3 468.2,72.4 468.6,72.5 468.9,72.7 469.3,72.8 469.7,73.0 470.1,73.1 470.5,73.3 470.8,73.4 471.2,73.5 471.6,73.7 472.0,73.8 472.3,74.0 472.7,74.1 473.1,74.2 473.5,74.4 473.8,74.5 474.2,74.6 474.6,74.8 475.0,74.9 475.4,75.1 475.7,75.2 476.1,75.3 476.5,75.5 476.9,75.6 477.2,75.7 477.6,75.9 478.0,76.0 478.4,76.1 478.8,76.3 479.1,76.4 479.5,76.5 479.9,76.6 480.3,76.8 480.6,76.9 481.0,77.0 481.4,77.2 481.8,77.3 482.2,77.4 482.5,77.5 482.9,77.7 483.3,77.8 483.7,77.9 484.0,78.0 484.4,78.2 484.8,78.3 485.2,78.4 485.5,78.5 485.9,78.6 486.3,78.8 486.7,78.9 487.1,79.0 487.4,79.1 487.8,79.2 488.2,79.4 488.6,79.5 488.9,79.6 489.3,79.7 489.7,79.8 490.1,79.9 490.5,80.1 490.8,80.2 491.2,80.3 491.6,80.4 492.0,80.5 492.3,80.6 492.7,80.7 493.1,80.9 493.5,81.0 493.9,81.1 494.2,81.2 494.6,81.3 495.0,81.4 495.4,81.5 495.7,81.6 496.1,81.8 496.5,81.9 496.9,82.0 497.2,82.1 497.6,82.2 498.0,82.3 498.4,82.4 498.8,82.5 499.1,82.6 499.5,82.7 499.9,82.8 500.3,82.9 500.6,83.0 501.0,83.2 501.4,83.3 501.8,83.4 502.2,83.5 502.5,83.6 502.9,83.7 503.3,83.8 503.7,83.9 504.0,84.0 504.4,84.1 504.8,84.2 505.2,84.3 505.6,84.4 505.9,84.5 506.3,84.6 506.7,84.7 507.1,84.8 507.4,84.9 507.8,85.0 508.2,85.1 508.6,85.2 508.9,85.3 509.3,85.4 509.7,85.5 510.1,85.6 510.5,85.7 510.8,85.8 511.2,85.9 511.6,86.0 512.0,86.1 512.3,86.2 512.7,86.2 513.1,86.3 513.5,86.4 513.9,86.5 514.2,86.6 514.6,86.7 515.0,86.8 515.4,86.9 515.7,87.0 516.1,87.1 516.5,87.2 516.9,87.3 517.3,87.4 517.6,87.5 518.0,87.6 518.4,87.6 518.8,87.7 519.1,87.8 519.5,87.9 519.9,88.0 520.3,88.1 520.6,88.2 521.0,88.3 521.4,88.4 521.8,88.5 522.2,88.5 522.5,88.6 522.9,88.7 523.3,88.8 523.7,88.9 524.0,89.0 524.4,89.1 524.8,89.2 525.2,89.2 525.6,89.3 525.9,89.4 526.3,89.5 526.7,89.6 527.1,89.7 527.4,89.8 527.8,89.8 528.2,89.9 528.6,90.0 528.9,90.1 529.3,90.2 529.7,90.3 530.1,90.4 530.5,90.4 530.8,90.5 531.2,90.6 531.6,90.7 532.0,90.8 532.3,90.9 532.7,90.9 533.1,91.0 533.5,91.1 533.9,91.2 534.2,91.3 534.6,91.3 535.0,91.4 535.4,91.5 535.7,91.6 536.1,91.7 536.5,91.8 536.9,91.8 537.3,91.9 537.6,92.0 538.0,92.1 538.4,92.2 538.8,92.2 539.1,92.3 539.5,92.4 539.9,92.5 540.3,92.5 540.6,92.6 541.0,92.7 541.4,92.8 541.8,92.9 542.2,92.9 542.5,93.0 542.9,93.1 543.3,93.2 543.7,93.3 544.0,93.3 544.4,93.4 544.8,93.5 545.2,93.6 545.6,93.6 545.9,93.7 546.3,93.8 546.7,93.9 547.1,93.9 547.4,94.0 547.8,94.1 548.2,94.2 548.6,94.2 549.0,94.3 549.3,94.4 549.7,94.5 550.1,94.5 550.5,94.6 550.8,94.7 551.2,94.8 551.6,94.8 552.0,94.9 552.3,95.0 552.7,95.1 553.1,95.1 553.5,95.2 553.9,95.3 554.2,95.4 554.6,95.4 555.0,95.5 555.4,95.6 555.7,95.6 556.1,95.7 556.5,95.8 556.9,95.9 557.3,95.9 557.6,96.0 558.0,96.1 558.4,96.1 558.8,96.2 559.1,96.3 559.5,96.4 559.9,96.4 560.3,96.5 560.7,96.6 561.0,96.6 561.4,96.7 561.8,96.8 562.2,96.9 562.5,96.9 562.9,97.0 563.3,97.1 563.7,97.1 564.0,97.2 564.4,97.3 564.8,97.3 565.2,97.4 565.6,97.5 565.9,97.5 566.3,97.6 566.7,97.7 567.1,97.8 567.4,97.8 567.8,97.9 568.2,98.0 568.6,98.0 569.0,98.1 569.3,98.2 569.7,98.2 570.1,98.3 570.5,98.4 570.8,98.4 571.2,98.5 571.6,98.6 572.0,98.6 572.4,98.7 572.7,98.8 573.1,98.8 573.5,98.9 573.9,99.0 574.2,99.0 574.6,99.1 575.0,99.2 575.4,99.2 575.7,99.3 576.1,99.4 576.5,99.4 576.9,99.5 577.3,99.6 577.6,99.6 578.0,99.7 578.4,99.8 578.8,99.8 579.1,99.9 579.5,100.0 579.9,100.0 580.3,100.1 580.7,100.2 581.0,100.2 581.4,100.3 581.8,100.3 582.2,100.4 582.5,100.5 582.9,100.5 583.3,100.6 583.7,100.7 584.1,100.7 584.4,100.8 584.8,100.9 585.2,100.9 585.6,101.0 585.9,101.0 586.3,101.1 586.7,101.2 587.1,101.2 587.4,101.3 587.8,101.4 588.2,101.4 588.6,101.5 589.0,101.6 589.3,101.6 589.7,101.7 590.1,101.7 590.5,101.8 590.8,101.9 591.2,101.9 591.6,102.0 592.0,102.1 592.4,102.1 592.7,102.2 593.1,102.2 593.5,102.3 593.9,102.4 594.2,102.4 594.6,102.5 595.0,102.5 595.4,102.6 595.8,102.7 596.1,102.7 596.5,102.8 596.9,102.9 597.3,102.9 597.6,103.0 598.0,103.0 598.4,103.1 598.8,103.2 599.1,103.2 599.5,103.3 599.9,103.3 600.3,103.4 600.7,103.5 601.0,103.5 601.4,103.6 601.8,103.6 602.2,103.7 602.5,103.8 602.9,103.8 603.3,103.9 603.7,103.9 604.1,104.0 604.4,104.1 604.8,104.1 605.2,104.2 605.6,104.2 605.9,104.3 606.3,104.4 606.7,104.4 607.1,104.5 607.5,104.5 607.8,104.6 608.2,104.7 608.6,104.7 609.0,104.8 609.3,104.8 609.7,104.9 610.1,104.9 610.5,105.0 610.8,105.1 611.2,105.1 611.6,105.2 612.0,105.2 612.4,105.3 612.7,105.4 613.1,105.4 613.5,105.5 613.9,105.5 614.2,105.6 614.6,105.6 615.0,105.7" stroke="#1766dd"/>
<polyline points="87.0,70.0 87.4,70.1 87.8,70.2 88.1,70.3 88.5,70.3 88.9,70.4 89.3,70.5 89.6,70.6 90.0,70.6 90.4,70.7 90.8,70.8 91.2,70.9 91.5,70.9 91.9,71.0 92.3,71.1 92.7,71.2 93.0,71.3 93.4,71.3 93.8,71.4 94.2,71.5 94.5,71.6 94.9,71.6 95.3,71.7 95.7,71.8 96.1,71.9 96.4,72.0 96.8,72.0 97.2,72.1 97.6,72.2 97.9,72.3 98.3,72.3 98.7,72.4 99.1,72.5 99.5,72.6 99.8,72.6 100.2,72.7 100.6,72.8 101.0,72.9 101.3,73.0 101.7,73.0 102.1,73.1 102.5,73.2 102.9,73.3 103.2,73.3 103.6,73.4 104.0,73.5 104.4,73.6 104.7,73.7 105.1,73.7 105.5,73.8 105.9,73.9 106.2,74.0 106.6,74.0 107.0,74.1 107.4,74.2 107.8,74.3 108.1,74.4 108.5,74.4 108.9,74.5 109.3,74.6 109.6,74.7 110.0,74.7 110.4,74.8 110.8,74.9 111.2,75.0 111.5,75.0 111.9,75.1 112.3,75.2 112.7,75.3 113.0,75.4 113.4,75.4 113.8,75.5 114.2,75.6 114.6,75.7 114.9,75.7 115.3,75.8 115.7,75.9 116.1,76.0 116.4,76.1 116.8,76.1 117.2,76.2 117.6,76.3 117.9,76.4 118.3,76.4 118.7,76.5 119.1,76.6 119.5,76.7 119.8,76.8 120.2,76.8 120.6,76.9 121.0,77.0 121.3,77.1 121.7,77.1 122.1,77.2 122.5,77.3 122.9,77.4 123.2,77.5 123.6,77.5 124.0,77.6 124.4,77.7 124.7,77.8 125.1,77.8 125.5,77.9 125.9,78.0 126.3,78.1 126.6,78.2 127.0,78.2 127.4,78.3 127.8,78.4 128.1,78.5 128.5,78.5 128.9,78.6 129.3,78.7 129.6,78.8 130.0,78.9 130.4,78.9 130.8,79.0 131.2,79.1 131.5,79.2 131.9,79.2 132.3,79.3 132.7,79.4 133.0,79.5 133.4,79.6 133.8,79.6 134.2,79.7 134.6,79.8 134.9,79.9 135.3,80.0 135.7,80.0 136.1,80.1 136.4,80.2 136.8,80.3 137.2,80.3 137.6,80.4 138.0,80.5 138.3,80.6 138.7,80.7 139.1,80.7 139.5,80.8 139.8,80.9 140.2,81.0 140.6,81.1 141.0,81.1 141.3,81.2 141.7,81.3 142.1,81.4 142.5,81.4 142.9,81.5 143.2,81.6 143.6,81.7 144.0,81.8 144.4,81.8 144.7,81.9 145.1,82.0 145.5,82.1 145.9,82.2 146.3,82.2 146.6,82.3 147.0,82.4 147.4,82.5 147.8,82.6 148.1,82.6 148.5,82.7 148.9,82.8 149.3,82.9 149.7,82.9 150.0,83.0 150.4,83.1 150.8,83.2 151.2,83.3 151.5,83.3 151.9,83.4 152.3,83.5 152.7,83.6 153.0,83.7 153.4,83.7 153.8,83.8 154.2,83.9 154.6,84.0 154.9,84.1 155.3,84.1 155.7,84.2 156.1,84.3 156.4,84.4 156.8,84.5 157.2,84.5 157.6,84.6 158.0,84.7 158.3,84.8 158.7,84.9 159.1,84.9 159.5,85.0 159.8,85.1 160.2,85.2 160.6,85.3 161.0,85.3 161.4,85.4 161.7,85.5 162.1,85.6 162.5,85.7 162.9,85.8 163.2,85.8 163.6,85.9 164.0,86.0 164.4,86.1 164.7,86.2 165.1,86.2 165.5,86.3 165.9,86.4 166.3,86.5 166.6,86.6 167.0,86.6 167.4,86.7 167.8,86.8 168.1,86.9 168.5,87.0 168.9,87.0 169.3,87.1 169.7,87.2 170.0,87.3 170.4,87.4 170.8,87.5 171.2,87.5 171.5,87.6 171.9,87.7 172.3,87.8 172.7,87.9 173.1,88.0 173.4,88.0 173.8,88.1 174.2,88.2 174.6,88.3 174.9,88.4 175.3,88.4 175.7,88.5 176.1,88.6 176.4,88.7 176.8,88.8 177.2,88.9 177.6,88.9 178.0,89.0 178.3,89.1 178.7,89.2 179.1,89.3 179.5,89.4 179.8,89.4 180.2,89.5 180.6,89.6 181.0,89.7 181.4,89.8 181.7,89.9 182.1,89.9 182.5,90.0 182.9,90.1 183.2,90.2 183.6,90.3 184.0,90.4 184.4,90.5 184.7,90.5 185.1,90.6 185.5,90.7 185.9,90.8 186.3,90.9 186.6,91.0 187.0,91.0 187.4,91.1 187.8,91.2 188.1,91.3 188.5,91.4 188.9,91.5 189.3,91.6 189.7,91.6 190.0,91.7 190.4,91.8 190.8,91.9 191.2,92.0 191.5,92.1 191.9,92.2 192.3,92.2 192.7,92.3 193.1,92.4 193.4,92.5 193.8,92.6 194.2,92.7 194.6,92.8 194.9,92.9 195.3,92.9 195.7,93.0 196.1,93.1 196.4,93.2 196.8,93.3 197.2,93.4 197.6,93.5 198.0,93.6 198.3,93.6 198.7,93.7 199.1,93.8 199.5,93.9 199.8,94.0 200.2,94.1 200.6,94.2 201.0,94.3 201.4,94.3 201.7,94.4 202.1,94.5 202.5,94.6 202.9,94.7 203.2,94.8 203.6,94.9 204.0,95.0 204.4,95.1 204.8,95.2 205.1,95.2 205.5,95.3 205.9,95.4 206.3,95.5 206.6,95.6 207.0,95.7 207.4,95.8 207.8,95.9 208.1,96.0 208.5,96.1 208.9,96.2 209.3,96.2 209.7,96.3 210.0,96.4 210.4,96.5 210.8,96.6 211.2,96.7 211.5,96.8 211.9,96.9 212.3,97.0 212.7,97.1 213.1,97.2 213.4,97.3 213.8,97.4 214.2,97.5 214.6,97.6 214.9,97.6 215.3,97.7 215.7,97.8 216.1,97.9 216.5,98.0 216.8,98.1 217.2,98.2 217.6,98.3 218.0,98.4 218.3,98.5 218.7,98.6 219.1,98.7 219.5,98.8 219.8,98.9 220.2,99.0 220.6,99.1 221.0,99.2 221.4,99.3 221.7,99.4 222.1,99.5 222.5,99.6 222.9,99.7 223.2,99.8 223.6,99.9 224.0,100.0 224.4,100.1 224.8,100.2 225.1,100.3 225.5,100.4 225.9,100.5 226.3,100.6 226.6,100.7 227.0,100.8 227.4,100.9 227.8,101.0 228.2,101.1 228.5,101.2 228.9,101.3 229.3,101.4 229.7,101.5 230.0,101.6 230.4,101.7 230.8,101.8 231.2,101.9 231.5,102.0 231.9,102.1 232.3,102.2 232.7,102.3 233.1,102.4 233.4,102.5 233.8,102.6 234.2,102.7 234.6,102.8 234.9,102.9 235.3,103.0 235.7,103.1 236.1,103.2 236.5,103.4 236.8,103.5 237.2,103.6 237.6,103.7 238.0,103.8 238.3,103.9 238.7,104.0 239.1,104.1 239.5,104.2 239.9,104.3 240.2,104.4 240.6,104.5 241.0,104.7 241.4,104.8 241.7,104.9 242.1,105.0 242.5,105.1 242.9,105.2 243.2,105.3 243.6,105.4 244.0,105.6 244.4,105.7 244.8,105.8 245.1,105.9 245.5,106.0 245.9,106.1 246.3,106.2 246.6,106.4 247.0,106.5 247.4,106.6 247.8,106.7 248.2,106.8 248.5,106.9 248.9,107.1 249.3,107.2 249.7,107.3 250.0,107.4 250.4,107.5 250.8,107.7 251.2,107.8 251.6,107.9 251.9,108.0 252.3,108.1 252.7,108.3 253.1,108.4 253.4,108.5 253.8,108.6 254.2,108.8 254.6,108.9 254.9,109.0 255.3,109.1 255.7,109.3 256.1,109.4 256.5,109.5 256.8,109.6 257.2,109.8 257.6,109.9 258.0,110.0 258.3,110.2 258.7,110.3 259.1,110.4 259.5,110.6 259.9,110.7 260.2,110.8 260.6,111.0 261.0,111.1 261.4,111.2 261.7,111.4 262.1,111.5 262.5,111.6 262.9,111.8 263.3,111.9 263.6,112.0 264.0,112.2 264.4,112.3 264.8,112.5 265.1,112.6 265.5,112.7 265.9,112.9 266.3,113.0 266.6,113.2 267.0,113.3 267.4,113.5 267.8,113.6 268.2,113.7 268.5,113.9 268.9,114.0 269.3,114.2 269.7,114.3 270.0,114.5 270.4,114.6 270.8,114.8 271.2,114.9 271.6,115.1 271.9,115.2 272.3,115.4 272.7,115.6 273.1,115.7 273.4,115.9 273.8,116.0 274.2,116.2 274.6,116.3 275.0,116.5 275.3,116.7 275.7,116.8 276.1,117.0 276.5,117.1 276.8,117.3 277.2,117.5 277.6,117.6 278.0,117.8 278.3,118.0 278.7,118.1 279.1,118.3 279.5,118.5 279.9,118.7 280.2,118.8 280.6,119.0 281.0,119.2 281.4,119.4 281.7,119.5 282.1,119.7 282.5,119.9 282.9,120.1 283.3,120.3 283.6,120.4 284.0,120.6 284.4,120.8 284.8,121.0 285.1,121.2 285.5,121.4 285.9,121.6 286.3,121.8 286.7,122.0 287.0,122.2 287.4,122.4 287.8,122.5 288.2,122.7 288.5,122.9 288.9,123.1 289.3,123.4 289.7,123.6 290.0,123.8 290.4,124.0 290.8,124.2 291.2,124.4 291.6,124.6 291.9,124.8 292.3,125.0 292.7,125.3 293.1,125.5 293.4,125.7 293.8,125.9 294.2,126.1 294.6,126.4 295.0,126.6 295.3,126.8 295.7,127.1 296.1,127.3 296.5,127.5 296.8,127.8 297.2,128.0 297.6,128.2 298.0,128.5 298.4,128.7 298.7,129.0 299.1,129.2 299.5,129.5 299.9,129.7 300.2,130.0 300.6,130.3 301.0,130.5 301.4,130.8 301.7,131.0 302.1,131.3 302.5,131.6 302.9,131.9 303.3,132.1 303.6,132.4 304.0,132.7 304.4,133.0 304.8,133.3 305.1,133.6 305.5,133.8 305.9,134.1 306.3,134.4 306.7,134.7 307.0,135.0 307.4,135.4 307.8,135.7 308.2,136.0 308.5,136.3 308.9,136.6 309.3,136.9 309.7,137.3 310.1,137.6 310.4,137.9 310.8,138.3 311.2,138.6 311.6,139.0 311.9,139.3 312.3,139.7 312.7,140.0 313.1,140.4 313.4,140.7 313.8,141.1 314.2,141.5 314.6,141.9 315.0,142.3 315.3,142.6 315.7,143.0 316.1,143.4 316.5,143.8 316.8,144.2 317.2,144.7 317.6,145.1 318.0,145.5 318.4,145.9 318.7,146.4 319.1,146.8 319.5,147.2 319.9,147.7 320.2,148.1 320.6,148.6 321.0,149.1 321.4,149.6 321.8,150.0 322.1,150.5 322.5,151.0 322.9,151.5 323.3,152.0 323.6,152.6 324.0,153.1 324.4,153.6 324.8,154.1 325.1,154.7 325.5,155.3 325.9,155.8 326.3,156.4 326.7,157.0 327.0,157.6 327.4,158.2 327.8,158.8 328.2,159.4 328.5,160.0 328.9,160.7 329.3,161.3 329.7,162.0 330.1,162.6 330.4,163.3 330.8,164.0 331.2,164.7 331.6,165.4 331.9,166.2 332.3,166.9 332.7,167.7 333.1,168.4 333.5,169.2 333.8,170.0 334.2,170.8 334.6,171.6 335.0,172.5 335.3,173.3 335.7,174.2 336.1,175.1 336.5,176.0 336.8,176.9 337.2,177.9 337.6,178.8 338.0,179.8 338.4,180.8 338.7,181.8 339.1,182.8 339.5,183.9 339.9,185.0 340.2,186.1 340.6,187.2 341.0,188.3 341.4,189.5 341.8,190.7 342.1,191.9 342.5,193.2 342.9,194.5 343.3,195.8 343.6,197.1 344.0,198.5 344.4,199.8 344.8,201.3 345.2,202.7 345.5,204.2 345.9,205.7 346.3,207.3 346.7,208.9 347.0,210.5 347.4,212.2 347.8,213.9 348.2,215.7 348.5,217.5 348.9,219.3 349.3,221.2 349.7,223.1 350.1,225.1 350.4,227.1 350.8,229.2 351.2,231.3 351.6,233.5 351.9,235.7 352.3,238.0 352.7,240.4 353.1,242.8 353.5,245.3 353.8,247.8 354.2,250.4 354.6,253.1 355.0,255.8 355.3,258.6 355.7,261.4 356.1,264.4 356.5,267.4 356.8,270.4 357.2,273.5 357.6,276.7 358.0,280.0 358.4,283.3 358.7,286.7 359.1,290.2 359.5,293.7 359.9,297.3 360.2,300.9 360.6,304.5 361.0,308.2 361.4,311.9 361.8,315.6 362.1,319.3 362.5,322.9 362.9,326.5 363.3,330.0 363.6,333.4 364.0,336.6 364.4,339.7 364.8,342.4 365.2,344.9 365.5,347.0 365.9,348.6 366.3,349.8 366.7,350.4 367.0,350.5 367.4,349.9 367.8,348.6 368.2,346.7 368.5,344.1 368.9,340.9 369.3,337.0 369.7,332.6 370.1,327.7 370.4,322.4 370.8,316.6 371.2,310.4 371.6,304.0 371.9,297.2 372.3,290.3 372.7,283.2 373.1,275.9 373.5,268.5 373.8,261.1 374.2,253.7 374.6,246.2 375.0,238.8 375.3,231.5 375.7,224.2 376.1,217.0 376.5,209.9 376.9,203.0 377.2,196.2 377.6,189.7 378.0,183.2 378.4,177.0 378.7,171.0 379.1,165.1 379.5,159.5 379.9,154.1 380.2,148.9 380.6,143.9 381.0,139.2 381.4,134.6 381.8,130.2 382.1,126.1 382.5,122.2 382.9,118.4 383.3,114.8 383.6,111.5 384.0,108.3 384.4,105.2 384.8,102.4 385.2,99.7 385.5,97.1 385.9,94.7 386.3,92.5 386.7,90.3 387.0,88.3 387.4,86.5 387.8,84.7 388.2,83.1 388.6,81.5 388.9,80.1 389.3,78.7 389.7,77.4 390.1,76.3 390.4,75.2 390.8,74.1 391.2,73.2 391.6,72.3 391.9,71.5 392.3,70.7 392.7,70.0 393.1,69.3 393.5,68.7 393.8,68.2 394.2,67.7 394.6,67.2 395.0,66.8 395.3,66.4 395.7,66.0 396.1,65.7 396.5,65.4 396.9,65.1 397.2,64.9 397.6,64.7 398.0,64.5 398.4,64.3 398.7,64.2 399.1,64.1 399.5,64.0 399.9,63.9 400.3,63.8 400.6,63.8 401.0,63.7 401.4,63.7 401.8,63.7 402.1,63.7 402.5,63.7 402.9,63.8 403.3,63.8 403.6,63.9 404.0,63.9 404.4,64.0 404.8,64.1 405.2,64.1 405.5,64.2 405.9,64.3 406.3,64.4 406.7,64.5 407.0,64.6 407.4,64.8 407.8,64.9 408.2,65.0 408.6,65.1 408.9,65.3 409.3,65.4 409.7,65.6 410.1,65.7 410.4,65.8 410.8,66.0 411.2,66.2 411.6,66.3 412.0,66.5 412.3,66.6 412.7,66.8 413.1,66.9 413.5,67.1 413.8,67.3 414.2,67.4 414.6,67.6 415.0,67.8 415.3,68.0 415.7,68.1 416.1,68.3 416.5,68.5 416.9,68.6 417.2,68.8 417.6,69.0 418.0,69.2 418.4,69.3 418.7,69.5 419.1,69.7 419.5,69.9 419.9,70.0 420.3,70.2 420.6,70.4 421.0,70.5 421.4,70.7 421.8,70.9 422.1,71.1 422.5,71.2 422.9,71.4 423.3,71.6 423.7,71.8 424.0,71.9 424.4,72.1 424.8,72.3 425.2,72.4 425.5,72.6 425.9,72.8 426.3,72.9 426.7,73.1 427.0,73.3 427.4,73.4 427.8,73.6 428.2,73.8 428.6,73.9 428.9,74.1 429.3,74.3 429.7,74.4 430.1,74.6 430.4,74.7 430.8,74.9 431.2,75.1 431.6,75.2 432.0,75.4 432.3,75.5 432.7,75.7 433.1,75.9 433.5,76.0 433.8,76.2 434.2,76.3 434.6,76.5 435.0,76.6 435.4,76.8 435.7,76.9 436.1,77.1 436.5,77.2 436.9,77.4 437.2,77.5 437.6,77.7 438.0,77.8 438.4,78.0 438.7,78.1 439.1,78.2 439.5,78.4 439.9,78.5 440.3,78.7 440.6,78.8 441.0,78.9 441.4,79.1 441.8,79.2 442.1,79.4 442.5,79.5 442.9,79.6 443.3,79.8 443.7,79.9 444.0,80.0 444.4,80.2 444.8,80.3 445.2,80.4 445.5,80.6 445.9,80.7 446.3,80.8 446.7,81.0 447.1,81.1 447.4,81.2 447.8,81.4 448.2,81.5 448.6,81.6 448.9,81.7 449.3,81.9 449.7,82.0 450.1,82.1 450.4,82.2 450.8,82.3 451.2,82.5 451.6,82.6 452.0,82.7 452.3,82.8 452.7,83.0 453.1,83.1 453.5,83.2 453.8,83.3 454.2,83.4 454.6,83.5 455.0,83.7 455.4,83.8 455.7,83.9 456.1,84.0 456.5,84.1 456.9,84.2 457.2,84.3 457.6,84.5 458.0,84.6 458.4,84.7 458.8,84.8 459.1,84.9 459.5,85.0 459.9,85.1 460.3,85.2 460.6,85.3 461.0,85.4 461.4,85.5 461.8,85.6 462.1,85.8 462.5,85.9 462.9,86.0 463.3,86.1 463.7,86.2 464.0,86.3 464.4,86.4 464.8,86.5 465.2,86.6 465.5,86.7 465.9,86.8 466.3,86.9 466.7,87.0 467.1,87.1 467.4,87.2 467.8,87.3 468.2,87.4 468.6,87.5 468.9,87.6 469.3,87.7 469.7,87.8 470.1,87.9 470.5,88.0 470.8,88.0 471.2,88.1 471.6,88.2 472.0,88.3 472.3,88.4 472.7,88.5 473.1,88.6 473.5,88.7 473.8,88.8 474.2,88.9 474.6,89.0 475.0,89.1 475.4,89.2 475.7,89.2 476.1,89.3 476.5,89.4 476.9,89.5 477.2,89.6 477.6,89.7 478.0,89.8 478.4,89.9 478.8,89.9 479.1,90.0 479.5,90.1 479.9,90.2 480.3,90.3 480.6,90.4 481.0,90.5 481.4,90.5 481.8,90.6 482.2,90.7 482.5,90.8 482.9,90.9 483.3,90.9 483.7,91.0 484.0,91.1 484.4,91.2 484.8,91.3 485.2,91.4 485.5,91.4 485.9,91.5 486.3,91.6 486.7,91.7 487.1,91.8 487.4,91.8 487.8,91.9 488.2,92.0 488.6,92.1 488.9,92.1 489.3,92.2 489.7,92.3 490.1,92.4 490.5,92.4 490.8,92.5 491.2,92.6 491.6,92.7 492.0,92.7 492.3,92.8 492.7,92.9 493.1,93.0 493.5,93.0 493.9,93.1 494.2,93.2 494.6,93.3 495.0,93.3 495.4,93.4 495.7,93.5 496.1,93.6 496.5,93.6 496.9,93.7 497.2,93.8 497.6,93.8 498.0,93.9 498.4,94.0 498.8,94.0 499.1,94.1 499.5,94.2 499.9,94.3 500.3,94.3 500.6,94.4 501.0,94.5 501.4,94.5 501.8,94.6 502.2,94.7 502.5,94.7 502.9,94.8 503.3,94.9 503.7,94.9 504.0,95.0 504.4,95.1 504.8,95.1 505.2,95.2 505.6,95.3 505.9,95.3 506.3,95.4 506.7,95.5 507.1,95.5 507.4,95.6 507.8,95.6 508.2,95.7 508.6,95.8 508.9,95.8 509.3,95.9 509.7,96.0 510.1,96.0 510.5,96.1 510.8,96.2 511.2,96.2 511.6,96.3 512.0,96.3 512.3,96.4 512.7,96.5 513.1,96.5 513.5,96.6 513.9,96.6 514.2,96.7 514.6,96.8 515.0,96.8 515.4,96.9 515.7,96.9 516.1,97.0 516.5,97.1 516.9,97.1 517.3,97.2 517.6,97.2 518.0,97.3 518.4,97.4 518.8,97.4 519.1,97.5 519.5,97.5 519.9,97.6 520.3,97.6 520.6,97.7 521.0,97.8 521.4,97.8 521.8,97.9 522.2,97.9 522.5,98.0 522.9,98.0 523.3,98.1 523.7,98.2 524.0,98.2 524.4,98.3 524.8,98.3 525.2,98.4 525.6,98.4 525.9,98.5 526.3,98.5 526.7,98.6 527.1,98.6 527.4,98.7 527.8,98.8 528.2,98.8 528.6,98.9 528.9,98.9 529.3,99.0 529.7,99.0 530.1,99.1 530.5,99.1 530.8,99.2 531.2,99.2 531.6,99.3 532.0,99.3 532.3,99.4 532.7,99.4 533.1,99.5 533.5,99.5 533.9,99.6 534.2,99.6 534.6,99.7 535.0,99.7 535.4,99.8 535.7,99.8 536.1,99.9 536.5,99.9 536.9,100.0 537.3,100.0 537.6,100.1 538.0,100.1 538.4,100.2 538.8,100.2 539.1,100.3 539.5,100.3 539.9,100.4 540.3,100.4 540.6,100.5 541.0,100.5 541.4,100.6 541.8,100.6 542.2,100.7 542.5,100.7 542.9,100.8 543.3,100.8 543.7,100.9 544.0,100.9 544.4,101.0 544.8,101.0 545.2,101.1 545.6,101.1 545.9,101.1 546.3,101.2 546.7,101.2 547.1,101.3 547.4,101.3 547.8,101.4 548.2,101.4 548.6,101.5 549.0,101.5 549.3,101.6 549.7,101.6 550.1,101.6 550.5,101.7 550.8,101.7 551.2,101.8 551.6,101.8 552.0,101.9 552.3,101.9 552.7,102.0 553.1,102.0 553.5,102.0 553.9,102.1 554.2,102.1 554.6,102.2 555.0,102.2 555.4,102.3 555.7,102.3 556.1,102.3 556.5,102.4 556.9,102.4 557.3,102.5 557.6,102.5 558.0,102.6 558.4,102.6 558.8,102.6 559.1,102.7 559.5,102.7 559.9,102.8 560.3,102.8 560.7,102.9 561.0,102.9 561.4,102.9 561.8,103.0 562.2,103.0 562.5,103.1 562.9,103.1 563.3,103.1 563.7,103.2 564.0,103.2 564.4,103.3 564.8,103.3 565.2,103.3 565.6,103.4 565.9,103.4 566.3,103.5 566.7,103.5 567.1,103.5 567.4,103.6 567.8,103.6 568.2,103.7 568.6,103.7 569.0,103.7 569.3,103.8 569.7,103.8 570.1,103.9 570.5,103.9 570.8,103.9 571.2,104.0 571.6,104.0 572.0,104.0 572.4,104.1 572.7,104.1 573.1,104.2 573.5,104.2 573.9,104.2 574.2,104.3 574.6,104.3 575.0,104.4 575.4,104.4 575.7,104.4 576.1,104.5 576.5,104.5 576.9,104.5 577.3,104.6 577.6,104.6 578.0,104.6 578.4,104.7 578.8,104.7 579.1,104.8 579.5,104.8 579.9,104.8 580.3,104.9 580.7,104.9 581.0,104.9 581.4,105.0 581.8,105.0 582.2,105.0 582.5,105.1 582.9,105.1 583.3,105.1 583.7,105.2 584.1,105.2 584.4,105.3 584.8,105.3 585.2,105.3 585.6,105.4 585.9,105.4 586.3,105.4 586.7,105.5 587.1,105.5 587.4,105.5 587.8,105.6 588.2,105.6 588.6,105.6 589.0,105.7 589.3,105.7 589.7,105.7 590.1,105.8 590.5,105.8 590.8,105.8 591.2,105.9 591.6,105.9 592.0,105.9 592.4,106.0 592.7,106.0 593.1,106.0 593.5,106.1 593.9,106.1 594.2,106.1 594.6,106.2 595.0,106.2 595.4,106.2 595.8,106.3 596.1,106.3 596.5,106.3 596.9,106.4 597.3,106.4 597.6,106.4 598.0,106.5 598.4,106.5 598.8,106.5 599.1,106.5 599.5,106.6 599.9,106.6 600.3,106.6 600.7,106.7 601.0,106.7 601.4,106.7 601.8,106.8 602.2,106.8 602.5,106.8 602.9,106.9 603.3,106.9 603.7,106.9 604.1,106.9 604.4,107.0 604.8,107.0 605.2,107.0 605.6,107.1 605.9,107.1 606.3,107.1 606.7,107.2 607.1,107.2 607.5,107.2 607.8,107.2 608.2,107.3 608.6,107.3 609.0,107.3 609.3,107.4 609.7,107.4 610.1,107.4 610.5,107.4 610.8,107.5 611.2,107.5 611.6,107.5 612.0,107.6 612.4,107.6 612.7,107.6 613.1,107.7 613.5,107.7 613.9,107.7 614.2,107.7 614.6,107.8 615.0,107.8" stroke="#2fa866"/>
<polyline points="87.0,80.4 87.4,80.5 87.8,80.6 88.1,80.7 88.5,80.8 88.9,80.9 89.3,81.0 89.6,81.1 90.0,81.2 90.4,81.3 90.8,81.4 91.2,81.5 91.5,81.6 91.9,81.7 92.3,81.7 92.7,81.8 93.0,81.9 93.4,82.0 93.8,82.1 94.2,82.2 94.5,82.3 94.9,82.4 95.3,82.5 95.7,82.6 96.1,82.7 96.4,82.8 96.8,82.9 97.2,83.0 97.6,83.1 97.9,83.2 98.3,83.3 98.7,83.4 99.1,83.5 99.5,83.5 99.8,83.6 100.2,83.7 100.6,83.8 101.0,83.9 101.3,84.0 101.7,84.1 102.1,84.2 102.5,84.3 102.9,84.4 103.2,84.5 103.6,84.6 104.0,84.7 104.4,84.8 104.7,84.9 105.1,85.0 105.5,85.1 105.9,85.1 106.2,85.2 106.6,85.3 107.0,85.4 107.4,85.5 107.8,85.6 108.1,85.7 108.5,85.8 108.9,85.9 109.3,86.0 109.6,86.1 110.0,86.2 110.4,86.3 110.8,86.4 111.2,86.5 111.5,86.6 111.9,86.7 112.3,86.7 112.7,86.8 113.0,86.9 113.4,87.0 113.8,87.1 114.2,87.2 114.6,87.3 114.9,87.4 115.3,87.5 115.7,87.6 116.1,87.7 116.4,87.8 116.8,87.9 117.2,88.0 117.6,88.1 117.9,88.2 118.3,88.2 118.7,88.3 119.1,88.4 119.5,88.5 119.8,88.6 120.2,88.7 120.6,88.8 121.0,88.9 121.3,89.0 121.7,89.1 122.1,89.2 122.5,89.3 122.9,89.4 123.2,89.5 123.6,89.6 124.0,89.6 124.4,89.7 124.7,89.8 125.1,89.9 125.5,90.0 125.9,90.1 126.3,90.2 126.6,90.3 127.0,90.4 127.4,90.5 127.8,90.6 128.1,90.7 128.5,90.8 128.9,90.9 129.3,91.0 129.6,91.1 130.0,91.1 130.4,91.2 130.8,91.3 131.2,91.4 131.5,91.5 131.9,91.6 132.3,91.7 132.7,91.8 133.0,91.9 133.4,92.0 133.8,92.1 134.2,92.2 134.6,92.3 134.9,92.4 135.3,92.5 135.7,92.6 136.1,92.6 136.4,92.7 136.8,92.8 137.2,92.9 137.6,93.0 138.0,93.1 138.3,93.2 138.7,93.3 139.1,93.4 139.5,93.5 139.8,93.6 140.2,93.7 140.6,93.8 141.0,93.9 141.3,94.0 141.7,94.1 142.1,94.2 142.5,94.2 142.9,94.3 143.2,94.4 143.6,94.5 144.0,94.6 144.4,94.7 144.7,94.8 145.1,94.9 145.5,95.0 145.9,95.1 146.3,95.2 146.6,95.3 147.0,95.4 147.4,95.5 147.8,95.6 148.1,95.7 148.5,95.8 148.9,95.8 149.3,95.9 149.7,96.0 150.0,96.1 150.4,96.2 150.8,96.3 151.2,96.4 151.5,96.5 151.9,96.6 152.3,96.7 152.7,96.8 153.0,96.9 153.4,97.0 153.8,97.1 154.2,97.2 154.6,97.3 154.9,97.4 155.3,97.5 155.7,97.6 156.1,97.7 156.4,97.7 156.8,97.8 157.2,97.9 157.6,98.0 158.0,98.1 158.3,98.2 158.7,98.3 159.1,98.4 159.5,98.5 159.8,98.6 160.2,98.7 160.6,98.8 161.0,98.9 161.4,99.0 161.7,99.1 162.1,99.2 162.5,99.3 162.9,99.4 163.2,99.5 163.6,99.6 164.0,99.7 164.4,99.8 164.7,99.9 165.1,99.9 165.5,100.0 165.9,100.1 166.3,100.2 166.6,100.3 167.0,100.4 167.4,100.5 167.8,100.6 168.1,100.7 168.5,100.8 168.9,100.9 169.3,101.0 169.7,101.1 170.0,101.2 170.4,101.3 170.8,101.4 171.2,101.5 171.5,101.6 171.9,101.7 172.3,101.8 172.7,101.9 173.1,102.0 173.4,102.1 173.8,102.2 174.2,102.3 174.6,102.4 174.9,102.5 175.3,102.6 175.7,102.7 176.1,102.8 176.4,102.9 176.8,103.0 177.2,103.1 177.6,103.2 178.0,103.3 178.3,103.4 178.7,103.5 179.1,103.6 179.5,103.7 179.8,103.8 180.2,103.9 180.6,104.0 181.0,104.1 181.4,104.2 181.7,104.3 182.1,104.4 182.5,104.5 182.9,104.6 183.2,104.7 183.6,104.8 184.0,104.9 184.4,105.0 184.7,105.1 185.1,105.2 185.5,105.3 185.9,105.4 186.3,105.5 186.6,105.6 187.0,105.7 187.4,105.8 187.8,105.9 188.1,106.0 188.5,106.1 188.9,106.2 189.3,106.3 189.7,106.4 190.0,106.5 190.4,106.6 190.8,106.7 191.2,106.8 191.5,106.9 191.9,107.0 192.3,107.1 192.7,107.2 193.1,107.3 193.4,107.4 193.8,107.5 194.2,107.6 194.6,107.7 194.9,107.8 195.3,107.9 195.7,108.0 196.1,108.1 196.4,108.2 196.8,108.4 197.2,108.5 197.6,108.6 198.0,108.7 198.3,108.8 198.7,108.9 199.1,109.0 199.5,109.1 199.8,109.2 200.2,109.3 200.6,109.4 201.0,109.5 201.4,109.6 201.7,109.7 202.1,109.8 202.5,109.9 202.9,110.1 203.2,110.2 203.6,110.3 204.0,110.4 204.4,110.5 204.8,110.6 205.1,110.7 205.5,110.8 205.9,110.9 206.3,111.0 206.6,111.1 207.0,111.3 207.4,111.4 207.8,111.5 208.1,111.6 208.5,111.7 208.9,111.8 209.3,111.9 209.7,112.0 210.0,112.1 210.4,112.3 210.8,112.4 211.2,112.5 211.5,112.6 211.9,112.7 212.3,112.8 212.7,112.9 213.1,113.1 213.4,113.2 213.8,113.3 214.2,113.4 214.6,113.5 214.9,113.6 215.3,113.7 215.7,113.9 216.1,114.0 216.5,114.1 216.8,114.2 217.2,114.3 217.6,114.4 218.0,114.6 218.3,114.7 218.7,114.8 219.1,114.9 219.5,115.0 219.8,115.2 220.2,115.3 220.6,115.4 221.0,115.5 221.4,115.6 221.7,115.8 222.1,115.9 222.5,116.0 222.9,116.1 223.2,116.2 223.6,116.4 224.0,116.5 224.4,116.6 224.8,116.7 225.1,116.9 225.5,117.0 225.9,117.1 226.3,117.2 226.6,117.4 227.0,117.5 227.4,117.6 227.8,117.7 228.2,117.9 228.5,118.0 228.9,118.1 229.3,118.2 229.7,118.4 230.0,118.5 230.4,118.6 230.8,118.8 231.2,118.9 231.5,119.0 231.9,119.2 232.3,119.3 232.7,119.4 233.1,119.6 233.4,119.7 233.8,119.8 234.2,120.0 234.6,120.1 234.9,120.2 235.3,120.4 235.7,120.5 236.1,120.6 236.5,120.8 236.8,120.9 237.2,121.0 237.6,121.2 238.0,121.3 238.3,121.5 238.7,121.6 239.1,121.7 239.5,121.9 239.9,122.0 240.2,122.2 240.6,122.3 241.0,122.5 241.4,122.6 241.7,122.8 242.1,122.9 242.5,123.0 242.9,123.2 243.2,123.3 243.6,123.5 244.0,123.6 244.4,123.8 244.8,123.9 245.1,124.1 245.5,124.2 245.9,124.4 246.3,124.6 246.6,124.7 247.0,124.9 247.4,125.0 247.8,125.2 248.2,125.3 248.5,125.5 248.9,125.6 249.3,125.8 249.7,126.0 250.0,126.1 250.4,126.3 250.8,126.5 251.2,126.6 251.6,126.8 251.9,127.0 252.3,127.1 252.7,127.3 253.1,127.5 253.4,127.6 253.8,127.8 254.2,128.0 254.6,128.1 254.9,128.3 255.3,128.5 255.7,128.7 256.1,128.8 256.5,129.0 256.8,129.2 257.2,129.4 257.6,129.6 258.0,129.7 258.3,129.9 258.7,130.1 259.1,130.3 259.5,130.5 259.9,130.7 260.2,130.8 260.6,131.0 261.0,131.2 261.4,131.4 261.7,131.6 262.1,131.8 262.5,132.0 262.9,132.2 263.3,132.4 263.6,132.6 264.0,132.8 264.4,133.0 264.8,133.2 265.1,133.4 265.5,133.6 265.9,133.8 266.3,134.0 266.6,134.3 267.0,134.5 267.4,134.7 267.8,134.9 268.2,135.1 268.5,135.3 268.9,135.6 269.3,135.8 269.7,136.0 270.0,136.2 270.4,136.5 270.8,136.7 271.2,136.9 271.6,137.2 271.9,137.4 272.3,137.6 272.7,137.9 273.1,138.1 273.4,138.4 273.8,138.6 274.2,138.9 274.6,139.1 275.0,139.4 275.3,139.6 275.7,139.9 276.1,140.1 276.5,140.4 276.8,140.6 277.2,140.9 277.6,141.2 278.0,141.5 278.3,141.7 278.7,142.0 279.1,142.3 279.5,142.6 279.9,142.8 280.2,143.1 280.6,143.4 281.0,143.7 281.4,144.0 281.7,144.3 282.1,144.6 282.5,144.9 282.9,145.2 283.3,145.5 283.6,145.9 284.0,146.2 284.4,146.5 284.8,146.8 285.1,147.1 285.5,147.5 285.9,147.8 286.3,148.1 286.7,148.5 287.0,148.8 287.4,149.2 287.8,149.5 288.2,149.9 288.5,150.3 288.9,150.6 289.3,151.0 289.7,151.4 290.0,151.8 290.4,152.1 290.8,152.5 291.2,152.9 291.6,153.3 291.9,153.7 292.3,154.1 292.7,154.5 293.1,155.0 293.4,155.4 293.8,155.8 294.2,156.3 294.6,156.7 295.0,157.1 295.3,157.6 295.7,158.1 296.1,158.5 296.5,159.0 296.8,159.5 297.2,160.0 297.6,160.5 298.0,161.0 298.4,161.5 298.7,162.0 299.1,162.5 299.5,163.0 299.9,163.6 300.2,164.1 300.6,164.7 301.0,165.2 301.4,165.8 301.7,166.4 302.1,167.0 302.5,167.6 302.9,168.2 303.3,168.8 303.6,169.4 304.0,170.1 304.4,170.7 304.8,171.4 305.1,172.0 305.5,172.7 305.9,173.4 306.3,174.1 306.7,174.8 307.0,175.6 307.4,176.3 307.8,177.1 308.2,177.8 308.5,178.6 308.9,179.4 309.3,180.2 309.7,181.1 310.1,181.9 310.4,182.8 310.8,183.6 311.2,184.5 311.6,185.4 311.9,186.4 312.3,187.3 312.7,188.3 313.1,189.3 313.4,190.3 313.8,191.3 314.2,192.4 314.6,193.4 315.0,194.5 315.3,195.6 315.7,196.8 316.1,198.0 316.5,199.1 316.8,200.4 317.2,201.6 317.6,202.9 318.0,204.2 318.4,205.5 318.7,206.9 319.1,208.3 319.5,209.7 319.9,211.2 320.2,212.6 320.6,214.2 321.0,215.7 321.4,217.3 321.8,219.0 322.1,220.7 322.5,222.4 322.9,224.2 323.3,226.0 323.6,227.8 324.0,229.7 324.4,231.7 324.8,233.7 325.1,235.8 325.5,237.9 325.9,240.0 326.3,242.3 326.7,244.5 327.0,246.9 327.4,249.3 327.8,251.7 328.2,254.2 328.5,256.8 328.9,259.5 329.3,262.2 329.7,265.0 330.1,267.8 330.4,270.7 330.8,273.7 331.2,276.8 331.6,279.9 331.9,283.1 332.3,286.4 332.7,289.7 333.1,293.1 333.5,296.5 333.8,300.0 334.2,303.6 334.6,307.1 335.0,310.7 335.3,314.4 335.7,318.0 336.1,321.5 336.5,325.1 336.8,328.5 337.2,331.9 337.6,335.1 338.0,338.1 338.4,340.9 338.7,343.3 339.1,345.4 339.5,347.1 339.9,348.3 340.2,349.0 340.6,349.1 341.0,348.5 341.4,347.2 341.8,345.3 342.1,342.7 342.5,339.4 342.9,335.4 343.3,330.9 343.6,325.8 344.0,320.2 344.4,314.2 344.8,307.7 345.2,301.0 345.5,294.0 345.9,286.7 346.3,279.2 346.7,271.6 347.0,264.0 347.4,256.2 347.8,248.4 348.2,240.7 348.5,233.0 348.9,225.3 349.3,217.8 349.7,210.4 350.1,203.1 350.4,196.1 350.8,189.2 351.2,182.5 351.6,176.0 351.9,169.7 352.3,163.7 352.7,157.9 353.1,152.3 353.5,147.0 353.8,141.9 354.2,137.0 354.6,132.4 355.0,128.1 355.3,123.9 355.7,120.0 356.1,116.3 356.5,112.8 356.8,109.5 357.2,106.4 357.6,103.5 358.0,100.8 358.4,98.2 358.7,95.9 359.1,93.6 359.5,91.5 359.9,89.6 360.2,87.8 360.6,86.1 361.0,84.5 361.4,83.1 361.8,81.7 362.1,80.5 362.5,79.3 362.9,78.3 363.3,77.3 363.6,76.4 364.0,75.5 364.4,74.8 364.8,74.1 365.2,73.4 365.5,72.9 365.9,72.3 366.3,71.9 366.7,71.4 367.0,71.1 367.4,70.7 367.8,70.4 368.2,70.2 368.5,69.9 368.9,69.7 369.3,69.5 369.7,69.4 370.1,69.3 370.4,69.2 370.8,69.1 371.2,69.1 371.6,69.0 371.9,69.0 372.3,69.0 372.7,69.0 373.1,69.1 373.5,69.1 373.8,69.2 374.2,69.3 374.6,69.3 375.0,69.4 375.3,69.5 375.7,69.7 376.1,69.8 376.5,69.9 376.9,70.0 377.2,70.2 377.6,70.3 378.0,70.5 378.4,70.7 378.7,70.8 379.1,71.0 379.5,71.2 379.9,71.3 380.2,71.5 380.6,71.7 381.0,71.9 381.4,72.1 381.8,72.3 382.1,72.5 382.5,72.7 382.9,72.9 383.3,73.1 383.6,73.3 384.0,73.5 384.4,73.7 384.8,73.9 385.2,74.1 385.5,74.3 385.9,74.5 386.3,74.7 386.7,74.9 387.0,75.1 387.4,75.3 387.8,75.5 388.2,75.7 388.6,75.9 388.9,76.1 389.3,76.3 389.7,76.5 390.1,76.7 390.4,76.9 390.8,77.1 391.2,77.3 391.6,77.5 391.9,77.7 392.3,77.9 392.7,78.1 393.1,78.3 393.5,78.5 393.8,78.7 394.2,78.9 394.6,79.1 395.0,79.3 395.3,79.5 395.7,79.7 396.1,79.9 396.5,80.1 396.9,80.3 397.2,80.4 397.6,80.6 398.0,80.8 398.4,81.0 398.7,81.2 399.1,81.4 399.5,81.5 399.9,81.7 400.3,81.9 400.6,82.1 401.0,82.3 401.4,82.4 401.8,82.6 402.1,82.8 402.5,83.0 402.9,83.1 403.3,83.3 403.6,83.5 404.0,83.6 404.4,83.8 404.8,84.0 405.2,84.1 405.5,84.3 405.9,84.5 406.3,84.6 406.7,84.8 407.0,84.9 407.4,85.1 407.8,85.3 408.2,85.4 408.6,85.6 408.9,85.7 409.3,85.9 409.7,86.0 410.1,86.2 410.4,86.3 410.8,86.5 411.2,86.6 411.6,86.8 412.0,86.9 412.3,87.1 412.7,87.2 413.1,87.4 413.5,87.5 413.8,87.6 414.2,87.8 414.6,87.9 415.0,88.1 415.3,88.2 415.7,88.3 416.1,88.5 416.5,88.6 416.9,88.7 417.2,88.9 417.6,89.0 418.0,89.1 418.4,89.3 418.7,89.4 419.1,89.5 419.5,89.7 419.9,89.8 420.3,89.9 420.6,90.0 421.0,90.2 421.4,90.3 421.8,90.4 422.1,90.5 422.5,90.7 422.9,90.8 423.3,90.9 423.7,91.0 424.0,91.1 424.4,91.3 424.8,91.4 425.2,91.5 425.5,91.6 425.9,91.7 426.3,91.8 426.7,91.9 427.0,92.1 427.4,92.2 427.8,92.3 428.2,92.4 428.6,92.5 428.9,92.6 429.3,92.7 429.7,92.8 430.1,92.9 430.4,93.0 430.8,93.1 431.2,93.3 431.6,93.4 432.0,93.5 432.3,93.6 432.7,93.7 433.1,93.8 433.5,93.9 433.8,94.0 434.2,94.1 434.6,94.2 435.0,94.3 435.4,94.4 435.7,94.5 436.1,94.6 436.5,94.7 436.9,94.8 437.2,94.8 437.6,94.9 438.0,95.0 438.4,95.1 438.7,95.2 439.1,95.3 439.5,95.4 439.9,95.5 440.3,95.6 440.6,95.7 441.0,95.8 441.4,95.9 441.8,95.9 442.1,96.0 442.5,96.1 442.9,96.2 443.3,96.3 443.7,96.4 444.0,96.5 444.4,96.6 444.8,96.6 445.2,96.7 445.5,96.8 445.9,96.9 446.3,97.0 446.7,97.1 447.1,97.1 447.4,97.2 447.8,97.3 448.2,97.4 448.6,97.5 448.9,97.5 449.3,97.6 449.7,97.7 450.1,97.8 450.4,97.9 450.8,97.9 451.2,98.0 451.6,98.1 452.0,98.2 452.3,98.2 452.7,98.3 453.1,98.4 453.5,98.5 453.8,98.5 454.2,98.6 454.6,98.7 455.0,98.8 455.4,98.8 455.7,98.9 456.1,99.0 456.5,99.0 456.9,99.1 457.2,99.2 457.6,99.2 458.0,99.3 458.4,99.4 458.8,99.5 459.1,99.5 459.5,99.6 459.9,99.7 460.3,99.7 460.6,99.8 461.0,99.9 461.4,99.9 461.8,100.0 462.1,100.1 462.5,100.1 462.9,100.2 463.3,100.2 463.7,100.3 464.0,100.4 464.4,100.4 464.8,100.5 465.2,100.6 465.5,100.6 465.9,100.7 466.3,100.7 466.7,100.8 467.1,100.9 467.4,100.9 467.8,101.0 468.2,101.1 468.6,101.1 468.9,101.2 469.3,101.2 469.7,101.3 470.1,101.3 470.5,101.4 470.8,101.5 471.2,101.5 471.6,101.6 472.0,101.6 472.3,101.7 472.7,101.7 473.1,101.8 473.5,101.9 473.8,101.9 474.2,102.0 474.6,102.0 475.0,102.1 475.4,102.1 475.7,102.2 476.1,102.2 476.5,102.3 476.9,102.3 477.2,102.4 477.6,102.4 478.0,102.5 478.4,102.6 478.8,102.6 479.1,102.7 479.5,102.7 479.9,102.8 480.3,102.8 480.6,102.9 481.0,102.9 481.4,103.0 481.8,103.0 482.2,103.1 482.5,103.1 482.9,103.2 483.3,103.2 483.7,103.2 484.0,103.3 484.4,103.3 484.8,103.4 485.2,103.4 485.5,103.5 485.9,103.5 486.3,103.6 486.7,103.6 487.1,103.7 487.4,103.7 487.8,103.8 488.2,103.8 488.6,103.9 488.9,103.9 489.3,103.9 489.7,104.0 490.1,104.0 490.5,104.1 490.8,104.1 491.2,104.2 491.6,104.2 492.0,104.2 492.3,104.3 492.7,104.3 493.1,104.4 493.5,104.4 493.9,104.5 494.2,104.5 494.6,104.5 495.0,104.6 495.4,104.6 495.7,104.7 496.1,104.7 496.5,104.7 496.9,104.8 497.2,104.8 497.6,104.9 498.0,104.9 498.4,104.9 498.8,105.0 499.1,105.0 499.5,105.1 499.9,105.1 500.3,105.1 500.6,105.2 501.0,105.2 501.4,105.2 501.8,105.3 502.2,105.3 502.5,105.4 502.9,105.4 503.3,105.4 503.7,105.5 504.0,105.5 504.4,105.5 504.8,105.6 505.2,105.6 505.6,105.6 505.9,105.7 506.3,105.7 506.7,105.7 507.1,105.8 507.4,105.8 507.8,105.8 508.2,105.9 508.6,105.9 508.9,105.9 509.3,106.0 509.7,106.0 510.1,106.0 510.5,106.1 510.8,106.1 511.2,106.1 511.6,106.2 512.0,106.2 512.3,106.2 512.7,106.3 513.1,106.3 513.5,106.3 513.9,106.4 514.2,106.4 514.6,106.4 515.0,106.5 515.4,106.5 515.7,106.5 516.1,106.5 516.5,106.6 516.9,106.6 517.3,106.6 517.6,106.7 518.0,106.7 518.4,106.7 518.8,106.8 519.1,106.8 519.5,106.8 519.9,106.8 520.3,106.9 520.6,106.9 521.0,106.9 521.4,106.9 521.8,107.0 522.2,107.0 522.5,107.0 522.9,107.1 523.3,107.1 523.7,107.1 524.0,107.1 524.4,107.2 524.8,107.2 525.2,107.2 525.6,107.2 525.9,107.3 526.3,107.3 526.7,107.3 527.1,107.3 527.4,107.4 527.8,107.4 528.2,107.4 528.6,107.4 528.9,107.5 529.3,107.5 529.7,107.5 530.1,107.5 530.5,107.6 530.8,107.6 531.2,107.6 531.6,107.6 532.0,107.7 532.3,107.7 532.7,107.7 533.1,107.7 533.5,107.7 533.9,107.8 534.2,107.8 534.6,107.8 535.0,107.8 535.4,107.9 535.7,107.9 536.1,107.9 536.5,107.9 536.9,107.9 537.3,108.0 537.6,108.0 538.0,108.0 538.4,108.0 538.8,108.0 539.1,108.1 539.5,108.1 539.9,108.1 540.3,108.1 540.6,108.1 541.0,108.2 541.4,108.2 541.8,108.2 542.2,108.2 542.5,108.2 542.9,108.3 543.3,108.3 543.7,108.3 544.0,108.3 544.4,108.3 544.8,108.4 545.2,108.4 545.6,108.4 545.9,108.4 546.3,108.4 546.7,108.4 547.1,108.5 547.4,108.5 547.8,108.5 548.2,108.5 548.6,108.5 549.0,108.5 549.3,108.6 549.7,108.6 550.1,108.6 550.5,108.6 550.8,108.6 551.2,108.6 551.6,108.7 552.0,108.7 552.3,108.7 552.7,108.7 553.1,108.7 553.5,108.7 553.9,108.7 554.2,108.8 554.6,108.8 555.0,108.8 555.4,108.8 555.7,108.8 556.1,108.8 556.5,108.8 556.9,108.9 557.3,108.9 557.6,108.9 558.0,108.9 558.4,108.9 558.8,108.9 559.1,108.9 559.5,109.0 559.9,109.0 560.3,109.0 560.7,109.0 561.0,109.0 561.4,109.0 561.8,109.0 562.2,109.0 562.5,109.1 562.9,109.1 563.3,109.1 563.7,109.1 564.0,109.1 564.4,109.1 564.8,109.1 565.2,109.1 565.6,109.1 565.9,109.2 566.3,109.2 566.7,109.2 567.1,109.2 567.4,109.2 567.8,109.2 568.2,109.2 568.6,109.2 569.0,109.2 569.3,109.3 569.7,109.3 570.1,109.3 570.5,109.3 570.8,109.3 571.2,109.3 571.6,109.3 572.0,109.3 572.4,109.3 572.7,109.3 573.1,109.3 573.5,109.4 573.9,109.4 574.2,109.4 574.6,109.4 575.0,109.4 575.4,109.4 575.7,109.4 576.1,109.4 576.5,109.4 576.9,109.4 577.3,109.4 577.6,109.4 578.0,109.4 578.4,109.5 578.8,109.5 579.1,109.5 579.5,109.5 579.9,109.5 580.3,109.5 580.7,109.5 581.0,109.5 581.4,109.5 581.8,109.5 582.2,109.5 582.5,109.5 582.9,109.5 583.3,109.5 583.7,109.5 584.1,109.5 584.4,109.6 584.8,109.6 585.2,109.6 585.6,109.6 585.9,109.6 586.3,109.6 586.7,109.6 587.1,109.6 587.4,109.6 587.8,109.6 588.2,109.6 588.6,109.6 589.0,109.6 589.3,109.6 589.7,109.6 590.1,109.6 590.5,109.6 590.8,109.6 591.2,109.6 591.6,109.6 592.0,109.6 592.4,109.6 592.7,109.6 593.1,109.6 593.5,109.7 593.9,109.7 594.2,109.7 594.6,109.7 595.0,109.7 595.4,109.7 595.8,109.7 596.1,109.7 596.5,109.7 596.9,109.7 597.3,109.7 597.6,109.7 598.0,109.7 598.4,109.7 598.8,109.7 599.1,109.7 599.5,109.7 599.9,109.7 600.3,109.7 600.7,109.7 601.0,109.7 601.4,109.7 601.8,109.7 602.2,109.7 602.5,109.7 602.9,109.7 603.3,109.7 603.7,109.7 604.1,109.7 604.4,109.7 604.8,109.7 605.2,109.7 605.6,109.7 605.9,109.7 606.3,109.7 606.7,109.7 607.1,109.7 607.5,109.7 607.8,109.7 608.2,109.7 608.6,109.7 609.0,109.7 609.3,109.7 609.7,109.7 610.1,109.7 610.5,109.7 610.8,109.7 611.2,109.7 611.6,109.7 612.0,109.7 612.4,109.7 612.7,109.7 613.1,109.7 613.5,109.6 613.9,109.6 614.2,109.6 614.6,109.6 615.0,109.6" stroke="#a96fdc"/>
</g>
<line x1="87.00" y1="444.90" x2="87.00" y2="452.90" stroke="#000" stroke-width="1.9"/>
<text x="87.00" y="483.10" font-size="30" text-anchor="middle" fill="#000" >1.0</text>
<line x1="219.00" y1="444.90" x2="219.00" y2="452.90" stroke="#000" stroke-width="1.9"/>
<text x="219.00" y="483.10" font-size="30" text-anchor="middle" fill="#000" >1.5</text>
<line x1="351.00" y1="444.90" x2="351.00" y2="452.90" stroke="#000" stroke-width="1.9"/>
<text x="351.00" y="483.10" font-size="30" text-anchor="middle" fill="#000" >2.0</text>
<line x1="483.00" y1="444.90" x2="483.00" y2="452.90" stroke="#000" stroke-width="1.9"/>
<text x="483.00" y="483.10" font-size="30" text-anchor="middle" fill="#000" >2.5</text>
<line x1="615.00" y1="444.90" x2="615.00" y2="452.90" stroke="#000" stroke-width="1.9"/>
<text x="615.00" y="483.10" font-size="30" text-anchor="middle" fill="#000" >3.0</text>
<line x1="79.00" y1="444.90" x2="87.00" y2="444.90" stroke="#000" stroke-width="1.9"/>
<text x="72.70" y="454.20" font-size="30" text-anchor="end" fill="#000" >0.0</text>
<line x1="79.00" y1="359.78" x2="87.00" y2="359.78" stroke="#000" stroke-width="1.9"/>
<text x="72.70" y="369.08" font-size="30" text-anchor="end" fill="#000" >0.2</text>
<line x1="79.00" y1="274.66" x2="87.00" y2="274.66" stroke="#000" stroke-width="1.9"/>
<text x="72.70" y="283.96" font-size="30" text-anchor="end" fill="#000" >0.4</text>
<line x1="79.00" y1="189.54" x2="87.00" y2="189.54" stroke="#000" stroke-width="1.9"/>
<text x="72.70" y="198.84" font-size="30" text-anchor="end" fill="#000" >0.6</text>
<line x1="79.00" y1="104.42" x2="87.00" y2="104.42" stroke="#000" stroke-width="1.9"/>
<text x="72.70" y="113.72" font-size="30" text-anchor="end" fill="#000" >0.8</text>
<line x1="79.00" y1="19.30" x2="87.00" y2="19.30" stroke="#000" stroke-width="1.9"/>
<text x="72.70" y="28.60" font-size="30" text-anchor="end" fill="#000" >1.0</text>
<text x="351.00" y="515.30" font-size="30" text-anchor="middle" fill="#000" >Frequency (THz)</text>
<text x="0" y="0" font-size="30.4" text-anchor="middle" transform="translate(20.80,231.60) rotate(-90)">Transmission Amplitude</text>
<line x1="123" y1="256" x2="182.2" y2="256" stroke="#4b4b4b" stroke-width="3.7"/>
<text x="195.0" y="265.00" font-size="26.2"><tspan font-style="italic">n</tspan>=1.1</text>
<line x1="123" y1="288.7" x2="182.2" y2="288.7" stroke="#ee3a43" stroke-width="3.7"/>
<text x="195.0" y="297.70" font-size="26.2"><tspan font-style="italic">n</tspan>=1.3</text>
<line x1="123" y1="321.3" x2="182.2" y2="321.3" stroke="#1766dd" stroke-width="3.7"/>
<text x="195.0" y="330.30" font-size="26.2"><tspan font-style="italic">n</tspan>=1.5</text>
<line x1="123" y1="354.1" x2="182.2" y2="354.1" stroke="#2fa866" stroke-width="3.7"/>
<text x="195.0" y="363.10" font-size="26.2"><tspan font-style="italic">n</tspan>=1.7</text>
<line x1="123" y1="387" x2="182.2" y2="387" stroke="#a96fdc" stroke-width="3.7"/>
<text x="195.0" y="396.00" font-size="26.2"><tspan font-style="italic">n</tspan>=1.9</text>
<rect x="414.2" y="400" width="199" height="44.9" fill="#000"/>
<text x="422.6" y="432.5" font-size="33.4" fill="#fff"><tspan font-style="italic">h</tspan><tspan font-size="20.5" dy="8.3">a</tspan><tspan dy="-8.3">=12 tan</tspan><tspan font-style="italic">δ</tspan>=0</text>
<text x="2.81" y="32.4" font-family="Liberation Sans, sans-serif" font-weight="bold" font-size="43">a</text>
<line x1="445.40" y1="379.10" x2="339.60" y2="379.10" stroke="#000" stroke-width="4.2" stroke-dasharray="12.7 5.3"/>
<polygon points="326.10,379.10 348.40,367.90 340.60,379.10 348.40,390.30" fill="#000"/>
<line x1="222.05" y1="557.20" x2="222.05" y2="985.30" stroke="#707070" stroke-width="1.2" stroke-dasharray="5.9 4.3"/>
<line x1="355.00" y1="557.20" x2="355.00" y2="985.30" stroke="#707070" stroke-width="1.2" stroke-dasharray="5.9 4.3"/>
<line x1="487.95" y1="557.20" x2="487.95" y2="985.30" stroke="#707070" stroke-width="1.2" stroke-dasharray="5.9 4.3"/>
<line x1="91.10" y1="899.68" x2="620.90" y2="899.68" stroke="#707070" stroke-width="1.2" stroke-dasharray="5.9 4.3"/>
<line x1="91.10" y1="814.06" x2="620.90" y2="814.06" stroke="#707070" stroke-width="1.2" stroke-dasharray="5.9 4.3"/>
<line x1="91.10" y1="728.44" x2="620.90" y2="728.44" stroke="#707070" stroke-width="1.2" stroke-dasharray="5.9 4.3"/>
<line x1="91.10" y1="642.82" x2="620.90" y2="642.82" stroke="#707070" stroke-width="1.2" stroke-dasharray="5.9 4.3"/>
<clipPath id="clipc"><rect x="88.6" y="557.2" width="532.8" height="428.0999999999999"/></clipPath>
<rect x="89.10" y="557.20" width="531.80" height="428.10" fill="none" stroke="#000" stroke-width="1.9"/>
<g clip-path="url(#clipc)" fill="none" stroke-width="3.7" stroke-linejoin="round">
<polyline points="89.1,593.6 89.5,593.6 89.9,593.7 90.2,593.7 90.6,593.7 91.0,593.8 91.4,593.8 91.8,593.8 92.1,593.8 92.5,593.9 92.9,593.9 93.3,593.9 93.7,594.0 94.0,594.0 94.4,594.0 94.8,594.1 95.2,594.1 95.6,594.1 95.9,594.2 96.3,594.2 96.7,594.2 97.1,594.2 97.5,594.3 97.8,594.3 98.2,594.3 98.6,594.4 99.0,594.4 99.4,594.4 99.7,594.5 100.1,594.5 100.5,594.5 100.9,594.6 101.3,594.6 101.6,594.6 102.0,594.7 102.4,594.7 102.8,594.7 103.2,594.8 103.5,594.8 103.9,594.8 104.3,594.9 104.7,594.9 105.1,594.9 105.4,595.0 105.8,595.0 106.2,595.0 106.6,595.1 107.0,595.1 107.3,595.1 107.7,595.2 108.1,595.2 108.5,595.2 108.9,595.3 109.2,595.3 109.6,595.3 110.0,595.4 110.4,595.4 110.8,595.4 111.1,595.5 111.5,595.5 111.9,595.5 112.3,595.6 112.7,595.6 113.0,595.6 113.4,595.7 113.8,595.7 114.2,595.7 114.6,595.8 114.9,595.8 115.3,595.8 115.7,595.9 116.1,595.9 116.5,596.0 116.8,596.0 117.2,596.0 117.6,596.1 118.0,596.1 118.4,596.1 118.8,596.2 119.1,596.2 119.5,596.2 119.9,596.3 120.3,596.3 120.7,596.3 121.0,596.4 121.4,596.4 121.8,596.5 122.2,596.5 122.6,596.5 122.9,596.6 123.3,596.6 123.7,596.6 124.1,596.7 124.5,596.7 124.8,596.8 125.2,596.8 125.6,596.8 126.0,596.9 126.4,596.9 126.7,596.9 127.1,597.0 127.5,597.0 127.9,597.1 128.3,597.1 128.6,597.1 129.0,597.2 129.4,597.2 129.8,597.2 130.2,597.3 130.5,597.3 130.9,597.4 131.3,597.4 131.7,597.4 132.1,597.5 132.4,597.5 132.8,597.6 133.2,597.6 133.6,597.6 134.0,597.7 134.3,597.7 134.7,597.8 135.1,597.8 135.5,597.8 135.9,597.9 136.2,597.9 136.6,598.0 137.0,598.0 137.4,598.0 137.8,598.1 138.1,598.1 138.5,598.2 138.9,598.2 139.3,598.2 139.7,598.3 140.0,598.3 140.4,598.4 140.8,598.4 141.2,598.4 141.6,598.5 141.9,598.5 142.3,598.6 142.7,598.6 143.1,598.6 143.5,598.7 143.8,598.7 144.2,598.8 144.6,598.8 145.0,598.9 145.4,598.9 145.7,598.9 146.1,599.0 146.5,599.0 146.9,599.1 147.3,599.1 147.6,599.2 148.0,599.2 148.4,599.2 148.8,599.3 149.2,599.3 149.5,599.4 149.9,599.4 150.3,599.5 150.7,599.5 151.1,599.5 151.4,599.6 151.8,599.6 152.2,599.7 152.6,599.7 153.0,599.8 153.3,599.8 153.7,599.8 154.1,599.9 154.5,599.9 154.9,600.0 155.2,600.0 155.6,600.1 156.0,600.1 156.4,600.2 156.8,600.2 157.1,600.3 157.5,600.3 157.9,600.3 158.3,600.4 158.7,600.4 159.0,600.5 159.4,600.5 159.8,600.6 160.2,600.6 160.6,600.7 160.9,600.7 161.3,600.8 161.7,600.8 162.1,600.8 162.5,600.9 162.8,600.9 163.2,601.0 163.6,601.0 164.0,601.1 164.4,601.1 164.7,601.2 165.1,601.2 165.5,601.3 165.9,601.3 166.3,601.4 166.6,601.4 167.0,601.5 167.4,601.5 167.8,601.6 168.2,601.6 168.5,601.7 168.9,601.7 169.3,601.8 169.7,601.8 170.1,601.9 170.4,601.9 170.8,601.9 171.2,602.0 171.6,602.0 172.0,602.1 172.3,602.1 172.7,602.2 173.1,602.2 173.5,602.3 173.9,602.3 174.2,602.4 174.6,602.4 175.0,602.5 175.4,602.5 175.8,602.6 176.1,602.6 176.5,602.7 176.9,602.7 177.3,602.8 177.7,602.8 178.1,602.9 178.4,603.0 178.8,603.0 179.2,603.1 179.6,603.1 180.0,603.2 180.3,603.2 180.7,603.3 181.1,603.3 181.5,603.4 181.9,603.4 182.2,603.5 182.6,603.5 183.0,603.6 183.4,603.6 183.8,603.7 184.1,603.7 184.5,603.8 184.9,603.8 185.3,603.9 185.7,603.9 186.0,604.0 186.4,604.1 186.8,604.1 187.2,604.2 187.6,604.2 187.9,604.3 188.3,604.3 188.7,604.4 189.1,604.4 189.5,604.5 189.8,604.5 190.2,604.6 190.6,604.7 191.0,604.7 191.4,604.8 191.7,604.8 192.1,604.9 192.5,604.9 192.9,605.0 193.3,605.0 193.6,605.1 194.0,605.2 194.4,605.2 194.8,605.3 195.2,605.3 195.5,605.4 195.9,605.4 196.3,605.5 196.7,605.6 197.1,605.6 197.4,605.7 197.8,605.7 198.2,605.8 198.6,605.8 199.0,605.9 199.3,606.0 199.7,606.0 200.1,606.1 200.5,606.1 200.9,606.2 201.2,606.2 201.6,606.3 202.0,606.4 202.4,606.4 202.8,606.5 203.1,606.5 203.5,606.6 203.9,606.7 204.3,606.7 204.7,606.8 205.0,606.8 205.4,606.9 205.8,607.0 206.2,607.0 206.6,607.1 206.9,607.1 207.3,607.2 207.7,607.3 208.1,607.3 208.5,607.4 208.8,607.4 209.2,607.5 209.6,607.6 210.0,607.6 210.4,607.7 210.7,607.8 211.1,607.8 211.5,607.9 211.9,607.9 212.3,608.0 212.6,608.1 213.0,608.1 213.4,608.2 213.8,608.3 214.2,608.3 214.5,608.4 214.9,608.5 215.3,608.5 215.7,608.6 216.1,608.6 216.4,608.7 216.8,608.8 217.2,608.8 217.6,608.9 218.0,609.0 218.3,609.0 218.7,609.1 219.1,609.2 219.5,609.2 219.9,609.3 220.2,609.4 220.6,609.4 221.0,609.5 221.4,609.6 221.8,609.6 222.1,609.7 222.5,609.8 222.9,609.8 223.3,609.9 223.7,610.0 224.0,610.0 224.4,610.1 224.8,610.2 225.2,610.2 225.6,610.3 225.9,610.4 226.3,610.4 226.7,610.5 227.1,610.6 227.5,610.6 227.8,610.7 228.2,610.8 228.6,610.9 229.0,610.9 229.4,611.0 229.7,611.1 230.1,611.1 230.5,611.2 230.9,611.3 231.3,611.3 231.6,611.4 232.0,611.5 232.4,611.6 232.8,611.6 233.2,611.7 233.5,611.8 233.9,611.8 234.3,611.9 234.7,612.0 235.1,612.1 235.4,612.1 235.8,612.2 236.2,612.3 236.6,612.4 237.0,612.4 237.4,612.5 237.7,612.6 238.1,612.7 238.5,612.7 238.9,612.8 239.3,612.9 239.6,613.0 240.0,613.0 240.4,613.1 240.8,613.2 241.2,613.3 241.5,613.3 241.9,613.4 242.3,613.5 242.7,613.6 243.1,613.6 243.4,613.7 243.8,613.8 244.2,613.9 244.6,613.9 245.0,614.0 245.3,614.1 245.7,614.2 246.1,614.3 246.5,614.3 246.9,614.4 247.2,614.5 247.6,614.6 248.0,614.7 248.4,614.7 248.8,614.8 249.1,614.9 249.5,615.0 249.9,615.1 250.3,615.1 250.7,615.2 251.0,615.3 251.4,615.4 251.8,615.5 252.2,615.5 252.6,615.6 252.9,615.7 253.3,615.8 253.7,615.9 254.1,616.0 254.5,616.0 254.8,616.1 255.2,616.2 255.6,616.3 256.0,616.4 256.4,616.5 256.7,616.6 257.1,616.6 257.5,616.7 257.9,616.8 258.3,616.9 258.6,617.0 259.0,617.1 259.4,617.2 259.8,617.2 260.2,617.3 260.5,617.4 260.9,617.5 261.3,617.6 261.7,617.7 262.1,617.8 262.4,617.9 262.8,617.9 263.2,618.0 263.6,618.1 264.0,618.2 264.3,618.3 264.7,618.4 265.1,618.5 265.5,618.6 265.9,618.7 266.2,618.8 266.6,618.8 267.0,618.9 267.4,619.0 267.8,619.1 268.1,619.2 268.5,619.3 268.9,619.4 269.3,619.5 269.7,619.6 270.0,619.7 270.4,619.8 270.8,619.9 271.2,620.0 271.6,620.1 271.9,620.2 272.3,620.3 272.7,620.4 273.1,620.5 273.5,620.5 273.8,620.6 274.2,620.7 274.6,620.8 275.0,620.9 275.4,621.0 275.7,621.1 276.1,621.2 276.5,621.3 276.9,621.4 277.3,621.5 277.6,621.6 278.0,621.7 278.4,621.8 278.8,621.9 279.2,622.0 279.5,622.1 279.9,622.3 280.3,622.4 280.7,622.5 281.1,622.6 281.4,622.7 281.8,622.8 282.2,622.9 282.6,623.0 283.0,623.1 283.3,623.2 283.7,623.3 284.1,623.4 284.5,623.5 284.9,623.6 285.2,623.7 285.6,623.8 286.0,623.9 286.4,624.1 286.8,624.2 287.1,624.3 287.5,624.4 287.9,624.5 288.3,624.6 288.7,624.7 289.0,624.8 289.4,624.9 289.8,625.1 290.2,625.2 290.6,625.3 290.9,625.4 291.3,625.5 291.7,625.6 292.1,625.7 292.5,625.9 292.8,626.0 293.2,626.1 293.6,626.2 294.0,626.3 294.4,626.4 294.7,626.6 295.1,626.7 295.5,626.8 295.9,626.9 296.3,627.0 296.7,627.2 297.0,627.3 297.4,627.4 297.8,627.5 298.2,627.6 298.6,627.8 298.9,627.9 299.3,628.0 299.7,628.1 300.1,628.3 300.5,628.4 300.8,628.5 301.2,628.6 301.6,628.8 302.0,628.9 302.4,629.0 302.7,629.1 303.1,629.3 303.5,629.4 303.9,629.5 304.3,629.7 304.6,629.8 305.0,629.9 305.4,630.1 305.8,630.2 306.2,630.3 306.5,630.5 306.9,630.6 307.3,630.7 307.7,630.9 308.1,631.0 308.4,631.1 308.8,631.3 309.2,631.4 309.6,631.6 310.0,631.7 310.3,631.8 310.7,632.0 311.1,632.1 311.5,632.3 311.9,632.4 312.2,632.6 312.6,632.7 313.0,632.8 313.4,633.0 313.8,633.1 314.1,633.3 314.5,633.4 314.9,633.6 315.3,633.7 315.7,633.9 316.0,634.0 316.4,634.2 316.8,634.3 317.2,634.5 317.6,634.6 317.9,634.8 318.3,634.9 318.7,635.1 319.1,635.3 319.5,635.4 319.8,635.6 320.2,635.7 320.6,635.9 321.0,636.0 321.4,636.2 321.7,636.4 322.1,636.5 322.5,636.7 322.9,636.9 323.3,637.0 323.6,637.2 324.0,637.4 324.4,637.5 324.8,637.7 325.2,637.9 325.5,638.0 325.9,638.2 326.3,638.4 326.7,638.6 327.1,638.7 327.4,638.9 327.8,639.1 328.2,639.3 328.6,639.4 329.0,639.6 329.3,639.8 329.7,640.0 330.1,640.2 330.5,640.3 330.9,640.5 331.2,640.7 331.6,640.9 332.0,641.1 332.4,641.3 332.8,641.5 333.1,641.7 333.5,641.8 333.9,642.0 334.3,642.2 334.7,642.4 335.0,642.6 335.4,642.8 335.8,643.0 336.2,643.2 336.6,643.4 336.9,643.6 337.3,643.8 337.7,644.0 338.1,644.2 338.5,644.5 338.8,644.7 339.2,644.9 339.6,645.1 340.0,645.3 340.4,645.5 340.7,645.7 341.1,645.9 341.5,646.2 341.9,646.4 342.3,646.6 342.6,646.8 343.0,647.1 343.4,647.3 343.8,647.5 344.2,647.7 344.5,648.0 344.9,648.2 345.3,648.4 345.7,648.7 346.1,648.9 346.4,649.2 346.8,649.4 347.2,649.6 347.6,649.9 348.0,650.1 348.3,650.4 348.7,650.6 349.1,650.9 349.5,651.1 349.9,651.4 350.2,651.6 350.6,651.9 351.0,652.2 351.4,652.4 351.8,652.7 352.1,653.0 352.5,653.2 352.9,653.5 353.3,653.8 353.7,654.0 354.0,654.3 354.4,654.6 354.8,654.9 355.2,655.2 355.6,655.4 356.0,655.7 356.3,656.0 356.7,656.3 357.1,656.6 357.5,656.9 357.9,657.2 358.2,657.5 358.6,657.8 359.0,658.1 359.4,658.4 359.8,658.8 360.1,659.1 360.5,659.4 360.9,659.7 361.3,660.0 361.7,660.4 362.0,660.7 362.4,661.0 362.8,661.4 363.2,661.7 363.6,662.0 363.9,662.4 364.3,662.7 364.7,663.1 365.1,663.4 365.5,663.8 365.8,664.2 366.2,664.5 366.6,664.9 367.0,665.3 367.4,665.6 367.7,666.0 368.1,666.4 368.5,666.8 368.9,667.2 369.3,667.6 369.6,668.0 370.0,668.4 370.4,668.8 370.8,669.2 371.2,669.6 371.5,670.0 371.9,670.4 372.3,670.9 372.7,671.3 373.1,671.7 373.4,672.2 373.8,672.6 374.2,673.1 374.6,673.5 375.0,674.0 375.3,674.4 375.7,674.9 376.1,675.4 376.5,675.9 376.9,676.4 377.2,676.8 377.6,677.3 378.0,677.8 378.4,678.3 378.8,678.9 379.1,679.4 379.5,679.9 379.9,680.4 380.3,681.0 380.7,681.5 381.0,682.1 381.4,682.6 381.8,683.2 382.2,683.8 382.6,684.3 382.9,684.9 383.3,685.5 383.7,686.1 384.1,686.7 384.5,687.3 384.8,688.0 385.2,688.6 385.6,689.2 386.0,689.9 386.4,690.5 386.7,691.2 387.1,691.9 387.5,692.6 387.9,693.2 388.3,693.9 388.6,694.7 389.0,695.4 389.4,696.1 389.8,696.8 390.2,697.6 390.5,698.4 390.9,699.1 391.3,699.9 391.7,700.7 392.1,701.5 392.4,702.3 392.8,703.1 393.2,704.0 393.6,704.8 394.0,705.7 394.3,706.6 394.7,707.5 395.1,708.4 395.5,709.3 395.9,710.2 396.2,711.2 396.6,712.1 397.0,713.1 397.4,714.1 397.8,715.1 398.1,716.1 398.5,717.2 398.9,718.2 399.3,719.3 399.7,720.4 400.0,721.5 400.4,722.6 400.8,723.8 401.2,724.9 401.6,726.1 401.9,727.3 402.3,728.5 402.7,729.8 403.1,731.0 403.5,732.3 403.8,733.6 404.2,735.0 404.6,736.3 405.0,737.7 405.4,739.1 405.7,740.5 406.1,742.0 406.5,743.5 406.9,745.0 407.3,746.5 407.6,748.1 408.0,749.7 408.4,751.3 408.8,752.9 409.2,754.6 409.5,756.3 409.9,758.0 410.3,759.8 410.7,761.6 411.1,763.5 411.4,765.3 411.8,767.2 412.2,769.2 412.6,771.2 413.0,773.2 413.3,775.2 413.7,777.3 414.1,779.4 414.5,781.6 414.9,783.8 415.3,786.1 415.6,788.4 416.0,790.7 416.4,793.1 416.8,795.5 417.2,798.0 417.5,800.5 417.9,803.0 418.3,805.6 418.7,808.3 419.1,810.9 419.4,813.7 419.8,816.5 420.2,819.3 420.6,822.1 421.0,825.0 421.3,828.0 421.7,831.0 422.1,834.0 422.5,837.1 422.9,840.2 423.2,843.3 423.6,846.5 424.0,849.7 424.4,852.9 424.8,856.2 425.1,859.4 425.5,862.7 425.9,865.9 426.3,869.1 426.7,872.4 427.0,875.6 427.4,878.7 427.8,881.8 428.2,884.8 428.6,887.6 428.9,890.4 429.3,893.0 429.7,895.5 430.1,897.7 430.5,899.7 430.8,901.5 431.2,902.9 431.6,904.0 432.0,904.7 432.4,905.1 432.7,905.0 433.1,904.5 433.5,903.6 433.9,902.2 434.3,900.5 434.6,898.3 435.0,895.8 435.4,892.8 435.8,889.6 436.2,886.0 436.5,882.2 436.9,878.1 437.3,873.8 437.7,869.3 438.1,864.7 438.4,859.8 438.8,854.9 439.2,849.8 439.6,844.7 440.0,839.5 440.3,834.2 440.7,828.8 441.1,823.5 441.5,818.1 441.9,812.7 442.2,807.3 442.6,801.9 443.0,796.5 443.4,791.2 443.8,785.9 444.1,780.7 444.5,775.5 444.9,770.4 445.3,765.3 445.7,760.3 446.0,755.4 446.4,750.6 446.8,745.8 447.2,741.1 447.6,736.6 447.9,732.1 448.3,727.7 448.7,723.4 449.1,719.2 449.5,715.1 449.8,711.2 450.2,707.3 450.6,703.5 451.0,699.8 451.4,696.2 451.7,692.8 452.1,689.4 452.5,686.1 452.9,682.9 453.3,679.9 453.6,676.9 454.0,674.0 454.4,671.2 454.8,668.5 455.2,665.9 455.5,663.4 455.9,660.9 456.3,658.6 456.7,656.3 457.1,654.1 457.4,652.0 457.8,649.9 458.2,648.0 458.6,646.1 459.0,644.3 459.3,642.5 459.7,640.8 460.1,639.2 460.5,637.6 460.9,636.1 461.2,634.7 461.6,633.3 462.0,631.9 462.4,630.6 462.8,629.4 463.1,628.2 463.5,627.1 463.9,626.0 464.3,625.0 464.7,624.0 465.0,623.0 465.4,622.1 465.8,621.2 466.2,620.3 466.6,619.5 466.9,618.8 467.3,618.0 467.7,617.3 468.1,616.6 468.5,616.0 468.8,615.3 469.2,614.8 469.6,614.2 470.0,613.6 470.4,613.1 470.7,612.6 471.1,612.2 471.5,611.7 471.9,611.3 472.3,610.9 472.6,610.5 473.0,610.1 473.4,609.8 473.8,609.5 474.2,609.1 474.6,608.8 474.9,608.6 475.3,608.3 475.7,608.0 476.1,607.8 476.5,607.6 476.8,607.4 477.2,607.2 477.6,607.0 478.0,606.8 478.4,606.7 478.7,606.5 479.1,606.4 479.5,606.2 479.9,606.1 480.3,606.0 480.6,605.9 481.0,605.8 481.4,605.7 481.8,605.6 482.2,605.6 482.5,605.5 482.9,605.5 483.3,605.4 483.7,605.4 484.1,605.3 484.4,605.3 484.8,605.3 485.2,605.3 485.6,605.3 486.0,605.2 486.3,605.2 486.7,605.3 487.1,605.3 487.5,605.3 487.9,605.3 488.2,605.3 488.6,605.4 489.0,605.4 489.4,605.4 489.8,605.5 490.1,605.5 490.5,605.6 490.9,605.6 491.3,605.7 491.7,605.7 492.0,605.8 492.4,605.8 492.8,605.9 493.2,606.0 493.6,606.0 493.9,606.1 494.3,606.2 494.7,606.3 495.1,606.4 495.5,606.4 495.8,606.5 496.2,606.6 496.6,606.7 497.0,606.8 497.4,606.9 497.7,607.0 498.1,607.1 498.5,607.2 498.9,607.3 499.3,607.4 499.6,607.5 500.0,607.6 500.4,607.7 500.8,607.8 501.2,607.9 501.5,608.0 501.9,608.1 502.3,608.2 502.7,608.3 503.1,608.5 503.4,608.6 503.8,608.7 504.2,608.8 504.6,608.9 505.0,609.0 505.3,609.2 505.7,609.3 506.1,609.4 506.5,609.5 506.9,609.6 507.2,609.8 507.6,609.9 508.0,610.0 508.4,610.1 508.8,610.3 509.1,610.4 509.5,610.5 509.9,610.6 510.3,610.8 510.7,610.9 511.0,611.0 511.4,611.2 511.8,611.3 512.2,611.4 512.6,611.5 512.9,611.7 513.3,611.8 513.7,611.9 514.1,612.1 514.5,612.2 514.8,612.3 515.2,612.5 515.6,612.6 516.0,612.7 516.4,612.9 516.7,613.0 517.1,613.1 517.5,613.3 517.9,613.4 518.3,613.5 518.6,613.7 519.0,613.8 519.4,613.9 519.8,614.1 520.2,614.2 520.5,614.3 520.9,614.5 521.3,614.6 521.7,614.7 522.1,614.9 522.4,615.0 522.8,615.1 523.2,615.3 523.6,615.4 524.0,615.6 524.3,615.7 524.7,615.8 525.1,616.0 525.5,616.1 525.9,616.2 526.2,616.4 526.6,616.5 527.0,616.6 527.4,616.8 527.8,616.9 528.1,617.0 528.5,617.2 528.9,617.3 529.3,617.5 529.7,617.6 530.0,617.7 530.4,617.9 530.8,618.0 531.2,618.1 531.6,618.3 531.9,618.4 532.3,618.5 532.7,618.7 533.1,618.8 533.5,618.9 533.9,619.1 534.2,619.2 534.6,619.3 535.0,619.5 535.4,619.6 535.8,619.7 536.1,619.9 536.5,620.0 536.9,620.1 537.3,620.3 537.7,620.4 538.0,620.5 538.4,620.7 538.8,620.8 539.2,620.9 539.6,621.1 539.9,621.2 540.3,621.3 540.7,621.5 541.1,621.6 541.5,621.7 541.8,621.9 542.2,622.0 542.6,622.1 543.0,622.3 543.4,622.4 543.7,622.5 544.1,622.7 544.5,622.8 544.9,622.9 545.3,623.1 545.6,623.2 546.0,623.3 546.4,623.5 546.8,623.6 547.2,623.7 547.5,623.9 547.9,624.0 548.3,624.1 548.7,624.3 549.1,624.4 549.4,624.5 549.8,624.7 550.2,624.8 550.6,624.9 551.0,625.0 551.3,625.2 551.7,625.3 552.1,625.4 552.5,625.6 552.9,625.7 553.2,625.8 553.6,626.0 554.0,626.1 554.4,626.2 554.8,626.3 555.1,626.5 555.5,626.6 555.9,626.7 556.3,626.9 556.7,627.0 557.0,627.1 557.4,627.2 557.8,627.4 558.2,627.5 558.6,627.6 558.9,627.8 559.3,627.9 559.7,628.0 560.1,628.1 560.5,628.3 560.8,628.4 561.2,628.5 561.6,628.7 562.0,628.8 562.4,628.9 562.7,629.0 563.1,629.2 563.5,629.3 563.9,629.4 564.3,629.5 564.6,629.7 565.0,629.8 565.4,629.9 565.8,630.0 566.2,630.2 566.5,630.3 566.9,630.4 567.3,630.6 567.7,630.7 568.1,630.8 568.4,630.9 568.8,631.1 569.2,631.2 569.6,631.3 570.0,631.4 570.3,631.6 570.7,631.7 571.1,631.8 571.5,631.9 571.9,632.1 572.2,632.2 572.6,632.3 573.0,632.4 573.4,632.6 573.8,632.7 574.1,632.8 574.5,632.9 574.9,633.1 575.3,633.2 575.7,633.3 576.0,633.4 576.4,633.5 576.8,633.7 577.2,633.8 577.6,633.9 577.9,634.0 578.3,634.2 578.7,634.3 579.1,634.4 579.5,634.5 579.8,634.7 580.2,634.8 580.6,634.9 581.0,635.0 581.4,635.2 581.7,635.3 582.1,635.4 582.5,635.5 582.9,635.6 583.3,635.8 583.6,635.9 584.0,636.0 584.4,636.1 584.8,636.3 585.2,636.4 585.5,636.5 585.9,636.6 586.3,636.7 586.7,636.9 587.1,637.0 587.4,637.1 587.8,637.2 588.2,637.3 588.6,637.5 589.0,637.6 589.3,637.7 589.7,637.8 590.1,638.0 590.5,638.1 590.9,638.2 591.2,638.3 591.6,638.4 592.0,638.6 592.4,638.7 592.8,638.8 593.2,638.9 593.5,639.0 593.9,639.2 594.3,639.3 594.7,639.4 595.1,639.5 595.4,639.6 595.8,639.8 596.2,639.9 596.6,640.0 597.0,640.1 597.3,640.2 597.7,640.4 598.1,640.5 598.5,640.6 598.9,640.7 599.2,640.8 599.6,641.0 600.0,641.1 600.4,641.2 600.8,641.3 601.1,641.4 601.5,641.6 601.9,641.7 602.3,641.8 602.7,641.9 603.0,642.0 603.4,642.2 603.8,642.3 604.2,642.4 604.6,642.5 604.9,642.6 605.3,642.8 605.7,642.9 606.1,643.0 606.5,643.1 606.8,643.2 607.2,643.3 607.6,643.5 608.0,643.6 608.4,643.7 608.7,643.8 609.1,643.9 609.5,644.1 609.9,644.2 610.3,644.3 610.6,644.4 611.0,644.5 611.4,644.7 611.8,644.8 612.2,644.9 612.5,645.0 612.9,645.1 613.3,645.2 613.7,645.4 614.1,645.5 614.4,645.6 614.8,645.7 615.2,645.8 615.6,645.9 616.0,646.1 616.3,646.2 616.7,646.3 617.1,646.4 617.5,646.5 617.9,646.7 618.2,646.8 618.6,646.9 619.0,647.0 619.4,647.1 619.8,647.2 620.1,647.4 620.5,647.5 620.9,647.6" stroke="#4b4b4b"/>
<polyline points="89.1,595.2 89.5,595.2 89.9,595.2 90.2,595.3 90.6,595.3 91.0,595.4 91.4,595.4 91.8,595.4 92.1,595.5 92.5,595.5 92.9,595.6 93.3,595.6 93.7,595.6 94.0,595.7 94.4,595.7 94.8,595.8 95.2,595.8 95.6,595.9 95.9,595.9 96.3,595.9 96.7,596.0 97.1,596.0 97.5,596.1 97.8,596.1 98.2,596.1 98.6,596.2 99.0,596.2 99.4,596.3 99.7,596.3 100.1,596.4 100.5,596.4 100.9,596.4 101.3,596.5 101.6,596.5 102.0,596.6 102.4,596.6 102.8,596.6 103.2,596.7 103.5,596.7 103.9,596.8 104.3,596.8 104.7,596.9 105.1,596.9 105.4,596.9 105.8,597.0 106.2,597.0 106.6,597.1 107.0,597.1 107.3,597.2 107.7,597.2 108.1,597.3 108.5,597.3 108.9,597.3 109.2,597.4 109.6,597.4 110.0,597.5 110.4,597.5 110.8,597.6 111.1,597.6 111.5,597.7 111.9,597.7 112.3,597.7 112.7,597.8 113.0,597.8 113.4,597.9 113.8,597.9 114.2,598.0 114.6,598.0 114.9,598.1 115.3,598.1 115.7,598.1 116.1,598.2 116.5,598.2 116.8,598.3 117.2,598.3 117.6,598.4 118.0,598.4 118.4,598.5 118.8,598.5 119.1,598.6 119.5,598.6 119.9,598.7 120.3,598.7 120.7,598.7 121.0,598.8 121.4,598.8 121.8,598.9 122.2,598.9 122.6,599.0 122.9,599.0 123.3,599.1 123.7,599.1 124.1,599.2 124.5,599.2 124.8,599.3 125.2,599.3 125.6,599.4 126.0,599.4 126.4,599.5 126.7,599.5 127.1,599.6 127.5,599.6 127.9,599.7 128.3,599.7 128.6,599.7 129.0,599.8 129.4,599.8 129.8,599.9 130.2,599.9 130.5,600.0 130.9,600.0 131.3,600.1 131.7,600.1 132.1,600.2 132.4,600.2 132.8,600.3 133.2,600.3 133.6,600.4 134.0,600.4 134.3,600.5 134.7,600.5 135.1,600.6 135.5,600.6 135.9,600.7 136.2,600.7 136.6,600.8 137.0,600.8 137.4,600.9 137.8,600.9 138.1,601.0 138.5,601.0 138.9,601.1 139.3,601.1 139.7,601.2 140.0,601.2 140.4,601.3 140.8,601.4 141.2,601.4 141.6,601.5 141.9,601.5 142.3,601.6 142.7,601.6 143.1,601.7 143.5,601.7 143.8,601.8 144.2,601.8 144.6,601.9 145.0,601.9 145.4,602.0 145.7,602.0 146.1,602.1 146.5,602.1 146.9,602.2 147.3,602.2 147.6,602.3 148.0,602.3 148.4,602.4 148.8,602.5 149.2,602.5 149.5,602.6 149.9,602.6 150.3,602.7 150.7,602.7 151.1,602.8 151.4,602.8 151.8,602.9 152.2,602.9 152.6,603.0 153.0,603.1 153.3,603.1 153.7,603.2 154.1,603.2 154.5,603.3 154.9,603.3 155.2,603.4 155.6,603.4 156.0,603.5 156.4,603.6 156.8,603.6 157.1,603.7 157.5,603.7 157.9,603.8 158.3,603.8 158.7,603.9 159.0,603.9 159.4,604.0 159.8,604.1 160.2,604.1 160.6,604.2 160.9,604.2 161.3,604.3 161.7,604.3 162.1,604.4 162.5,604.5 162.8,604.5 163.2,604.6 163.6,604.6 164.0,604.7 164.4,604.7 164.7,604.8 165.1,604.9 165.5,604.9 165.9,605.0 166.3,605.0 166.6,605.1 167.0,605.2 167.4,605.2 167.8,605.3 168.2,605.3 168.5,605.4 168.9,605.4 169.3,605.5 169.7,605.6 170.1,605.6 170.4,605.7 170.8,605.7 171.2,605.8 171.6,605.9 172.0,605.9 172.3,606.0 172.7,606.0 173.1,606.1 173.5,606.2 173.9,606.2 174.2,606.3 174.6,606.4 175.0,606.4 175.4,606.5 175.8,606.5 176.1,606.6 176.5,606.7 176.9,606.7 177.3,606.8 177.7,606.8 178.1,606.9 178.4,607.0 178.8,607.0 179.2,607.1 179.6,607.2 180.0,607.2 180.3,607.3 180.7,607.3 181.1,607.4 181.5,607.5 181.9,607.5 182.2,607.6 182.6,607.7 183.0,607.7 183.4,607.8 183.8,607.9 184.1,607.9 184.5,608.0 184.9,608.0 185.3,608.1 185.7,608.2 186.0,608.2 186.4,608.3 186.8,608.4 187.2,608.4 187.6,608.5 187.9,608.6 188.3,608.6 188.7,608.7 189.1,608.8 189.5,608.8 189.8,608.9 190.2,609.0 190.6,609.0 191.0,609.1 191.4,609.2 191.7,609.2 192.1,609.3 192.5,609.4 192.9,609.4 193.3,609.5 193.6,609.6 194.0,609.6 194.4,609.7 194.8,609.8 195.2,609.8 195.5,609.9 195.9,610.0 196.3,610.0 196.7,610.1 197.1,610.2 197.4,610.3 197.8,610.3 198.2,610.4 198.6,610.5 199.0,610.5 199.3,610.6 199.7,610.7 200.1,610.7 200.5,610.8 200.9,610.9 201.2,610.9 201.6,611.0 202.0,611.1 202.4,611.2 202.8,611.2 203.1,611.3 203.5,611.4 203.9,611.4 204.3,611.5 204.7,611.6 205.0,611.7 205.4,611.7 205.8,611.8 206.2,611.9 206.6,611.9 206.9,612.0 207.3,612.1 207.7,612.2 208.1,612.2 208.5,612.3 208.8,612.4 209.2,612.5 209.6,612.5 210.0,612.6 210.4,612.7 210.7,612.8 211.1,612.8 211.5,612.9 211.9,613.0 212.3,613.1 212.6,613.1 213.0,613.2 213.4,613.3 213.8,613.4 214.2,613.4 214.5,613.5 214.9,613.6 215.3,613.7 215.7,613.7 216.1,613.8 216.4,613.9 216.8,614.0 217.2,614.0 217.6,614.1 218.0,614.2 218.3,614.3 218.7,614.4 219.1,614.4 219.5,614.5 219.9,614.6 220.2,614.7 220.6,614.7 221.0,614.8 221.4,614.9 221.8,615.0 222.1,615.1 222.5,615.1 222.9,615.2 223.3,615.3 223.7,615.4 224.0,615.5 224.4,615.5 224.8,615.6 225.2,615.7 225.6,615.8 225.9,615.9 226.3,616.0 226.7,616.0 227.1,616.1 227.5,616.2 227.8,616.3 228.2,616.4 228.6,616.4 229.0,616.5 229.4,616.6 229.7,616.7 230.1,616.8 230.5,616.9 230.9,616.9 231.3,617.0 231.6,617.1 232.0,617.2 232.4,617.3 232.8,617.4 233.2,617.5 233.5,617.5 233.9,617.6 234.3,617.7 234.7,617.8 235.1,617.9 235.4,618.0 235.8,618.1 236.2,618.1 236.6,618.2 237.0,618.3 237.4,618.4 237.7,618.5 238.1,618.6 238.5,618.7 238.9,618.8 239.3,618.8 239.6,618.9 240.0,619.0 240.4,619.1 240.8,619.2 241.2,619.3 241.5,619.4 241.9,619.5 242.3,619.6 242.7,619.7 243.1,619.8 243.4,619.8 243.8,619.9 244.2,620.0 244.6,620.1 245.0,620.2 245.3,620.3 245.7,620.4 246.1,620.5 246.5,620.6 246.9,620.7 247.2,620.8 247.6,620.9 248.0,621.0 248.4,621.1 248.8,621.1 249.1,621.2 249.5,621.3 249.9,621.4 250.3,621.5 250.7,621.6 251.0,621.7 251.4,621.8 251.8,621.9 252.2,622.0 252.6,622.1 252.9,622.2 253.3,622.3 253.7,622.4 254.1,622.5 254.5,622.6 254.8,622.7 255.2,622.8 255.6,622.9 256.0,623.0 256.4,623.1 256.7,623.2 257.1,623.3 257.5,623.4 257.9,623.5 258.3,623.6 258.6,623.7 259.0,623.8 259.4,623.9 259.8,624.0 260.2,624.1 260.5,624.2 260.9,624.3 261.3,624.4 261.7,624.5 262.1,624.6 262.4,624.7 262.8,624.9 263.2,625.0 263.6,625.1 264.0,625.2 264.3,625.3 264.7,625.4 265.1,625.5 265.5,625.6 265.9,625.7 266.2,625.8 266.6,625.9 267.0,626.0 267.4,626.1 267.8,626.3 268.1,626.4 268.5,626.5 268.9,626.6 269.3,626.7 269.7,626.8 270.0,626.9 270.4,627.0 270.8,627.1 271.2,627.3 271.6,627.4 271.9,627.5 272.3,627.6 272.7,627.7 273.1,627.8 273.5,627.9 273.8,628.1 274.2,628.2 274.6,628.3 275.0,628.4 275.4,628.5 275.7,628.6 276.1,628.8 276.5,628.9 276.9,629.0 277.3,629.1 277.6,629.2 278.0,629.4 278.4,629.5 278.8,629.6 279.2,629.7 279.5,629.8 279.9,630.0 280.3,630.1 280.7,630.2 281.1,630.3 281.4,630.5 281.8,630.6 282.2,630.7 282.6,630.8 283.0,631.0 283.3,631.1 283.7,631.2 284.1,631.3 284.5,631.5 284.9,631.6 285.2,631.7 285.6,631.9 286.0,632.0 286.4,632.1 286.8,632.2 287.1,632.4 287.5,632.5 287.9,632.6 288.3,632.8 288.7,632.9 289.0,633.0 289.4,633.2 289.8,633.3 290.2,633.4 290.6,633.6 290.9,633.7 291.3,633.9 291.7,634.0 292.1,634.1 292.5,634.3 292.8,634.4 293.2,634.6 293.6,634.7 294.0,634.8 294.4,635.0 294.7,635.1 295.1,635.3 295.5,635.4 295.9,635.5 296.3,635.7 296.7,635.8 297.0,636.0 297.4,636.1 297.8,636.3 298.2,636.4 298.6,636.6 298.9,636.7 299.3,636.9 299.7,637.0 300.1,637.2 300.5,637.3 300.8,637.5 301.2,637.6 301.6,637.8 302.0,637.9 302.4,638.1 302.7,638.2 303.1,638.4 303.5,638.6 303.9,638.7 304.3,638.9 304.6,639.0 305.0,639.2 305.4,639.4 305.8,639.5 306.2,639.7 306.5,639.8 306.9,640.0 307.3,640.2 307.7,640.3 308.1,640.5 308.4,640.7 308.8,640.8 309.2,641.0 309.6,641.2 310.0,641.4 310.3,641.5 310.7,641.7 311.1,641.9 311.5,642.0 311.9,642.2 312.2,642.4 312.6,642.6 313.0,642.7 313.4,642.9 313.8,643.1 314.1,643.3 314.5,643.5 314.9,643.6 315.3,643.8 315.7,644.0 316.0,644.2 316.4,644.4 316.8,644.6 317.2,644.8 317.6,645.0 317.9,645.1 318.3,645.3 318.7,645.5 319.1,645.7 319.5,645.9 319.8,646.1 320.2,646.3 320.6,646.5 321.0,646.7 321.4,646.9 321.7,647.1 322.1,647.3 322.5,647.5 322.9,647.7 323.3,647.9 323.6,648.1 324.0,648.3 324.4,648.5 324.8,648.8 325.2,649.0 325.5,649.2 325.9,649.4 326.3,649.6 326.7,649.8 327.1,650.0 327.4,650.3 327.8,650.5 328.2,650.7 328.6,650.9 329.0,651.2 329.3,651.4 329.7,651.6 330.1,651.9 330.5,652.1 330.9,652.3 331.2,652.5 331.6,652.8 332.0,653.0 332.4,653.3 332.8,653.5 333.1,653.7 333.5,654.0 333.9,654.2 334.3,654.5 334.7,654.7 335.0,655.0 335.4,655.2 335.8,655.5 336.2,655.7 336.6,656.0 336.9,656.3 337.3,656.5 337.7,656.8 338.1,657.1 338.5,657.3 338.8,657.6 339.2,657.9 339.6,658.1 340.0,658.4 340.4,658.7 340.7,659.0 341.1,659.3 341.5,659.5 341.9,659.8 342.3,660.1 342.6,660.4 343.0,660.7 343.4,661.0 343.8,661.3 344.2,661.6 344.5,661.9 344.9,662.2 345.3,662.5 345.7,662.8 346.1,663.1 346.4,663.4 346.8,663.8 347.2,664.1 347.6,664.4 348.0,664.7 348.3,665.1 348.7,665.4 349.1,665.7 349.5,666.1 349.9,666.4 350.2,666.7 350.6,667.1 351.0,667.4 351.4,667.8 351.8,668.1 352.1,668.5 352.5,668.9 352.9,669.2 353.3,669.6 353.7,670.0 354.0,670.3 354.4,670.7 354.8,671.1 355.2,671.5 355.6,671.9 356.0,672.3 356.3,672.7 356.7,673.1 357.1,673.5 357.5,673.9 357.9,674.3 358.2,674.7 358.6,675.1 359.0,675.6 359.4,676.0 359.8,676.4 360.1,676.9 360.5,677.3 360.9,677.8 361.3,678.2 361.7,678.7 362.0,679.1 362.4,679.6 362.8,680.1 363.2,680.5 363.6,681.0 363.9,681.5 364.3,682.0 364.7,682.5 365.1,683.0 365.5,683.5 365.8,684.0 366.2,684.6 366.6,685.1 367.0,685.6 367.4,686.2 367.7,686.7 368.1,687.3 368.5,687.8 368.9,688.4 369.3,688.9 369.6,689.5 370.0,690.1 370.4,690.7 370.8,691.3 371.2,691.9 371.5,692.5 371.9,693.2 372.3,693.8 372.7,694.4 373.1,695.1 373.4,695.7 373.8,696.4 374.2,697.1 374.6,697.7 375.0,698.4 375.3,699.1 375.7,699.8 376.1,700.6 376.5,701.3 376.9,702.0 377.2,702.8 377.6,703.5 378.0,704.3 378.4,705.1 378.8,705.9 379.1,706.7 379.5,707.5 379.9,708.3 380.3,709.2 380.7,710.0 381.0,710.9 381.4,711.7 381.8,712.6 382.2,713.5 382.6,714.4 382.9,715.4 383.3,716.3 383.7,717.3 384.1,718.2 384.5,719.2 384.8,720.2 385.2,721.3 385.6,722.3 386.0,723.3 386.4,724.4 386.7,725.5 387.1,726.6 387.5,727.7 387.9,728.9 388.3,730.0 388.6,731.2 389.0,732.4 389.4,733.6 389.8,734.8 390.2,736.1 390.5,737.4 390.9,738.7 391.3,740.0 391.7,741.3 392.1,742.7 392.4,744.1 392.8,745.5 393.2,747.0 393.6,748.4 394.0,749.9 394.3,751.5 394.7,753.0 395.1,754.6 395.5,756.2 395.9,757.8 396.2,759.5 396.6,761.2 397.0,762.9 397.4,764.7 397.8,766.5 398.1,768.3 398.5,770.2 398.9,772.1 399.3,774.0 399.7,776.0 400.0,778.0 400.4,780.0 400.8,782.1 401.2,784.2 401.6,786.4 401.9,788.6 402.3,790.8 402.7,793.1 403.1,795.4 403.5,797.8 403.8,800.2 404.2,802.6 404.6,805.1 405.0,807.7 405.4,810.3 405.7,812.9 406.1,815.6 406.5,818.3 406.9,821.0 407.3,823.8 407.6,826.7 408.0,829.6 408.4,832.5 408.8,835.5 409.2,838.5 409.5,841.5 409.9,844.6 410.3,847.7 410.7,850.9 411.1,854.0 411.4,857.2 411.8,860.4 412.2,863.6 412.6,866.8 413.0,870.0 413.3,873.1 413.7,876.3 414.1,879.3 414.5,882.4 414.9,885.3 415.3,888.2 415.6,890.9 416.0,893.5 416.4,895.8 416.8,898.0 417.2,900.0 417.5,901.7 417.9,903.1 418.3,904.1 418.7,904.8 419.1,905.0 419.4,904.9 419.8,904.4 420.2,903.4 420.6,901.9 421.0,900.1 421.3,897.8 421.7,895.2 422.1,892.2 422.5,888.9 422.9,885.2 423.2,881.3 423.6,877.1 424.0,872.7 424.4,868.1 424.8,863.3 425.1,858.4 425.5,853.3 425.9,848.1 426.3,842.8 426.7,837.5 427.0,832.1 427.4,826.6 427.8,821.1 428.2,815.6 428.6,810.1 428.9,804.6 429.3,799.1 429.7,793.6 430.1,788.1 430.5,782.7 430.8,777.4 431.2,772.1 431.6,766.9 432.0,761.7 432.4,756.6 432.7,751.6 433.1,746.7 433.5,741.9 433.9,737.1 434.3,732.5 434.6,727.9 435.0,723.5 435.4,719.2 435.8,715.0 436.2,710.8 436.5,706.8 436.9,702.9 437.3,699.1 437.7,695.5 438.1,691.9 438.4,688.4 438.8,685.0 439.2,681.8 439.6,678.6 440.0,675.6 440.3,672.6 440.7,669.8 441.1,667.0 441.5,664.4 441.9,661.8 442.2,659.4 442.6,657.0 443.0,654.7 443.4,652.5 443.8,650.4 444.1,648.3 444.5,646.3 444.9,644.5 445.3,642.6 445.7,640.9 446.0,639.2 446.4,637.6 446.8,636.1 447.2,634.6 447.6,633.2 447.9,631.8 448.3,630.5 448.7,629.3 449.1,628.1 449.5,626.9 449.8,625.8 450.2,624.8 450.6,623.8 451.0,622.9 451.4,621.9 451.7,621.1 452.1,620.2 452.5,619.4 452.9,618.7 453.3,618.0 453.6,617.3 454.0,616.6 454.4,616.0 454.8,615.4 455.2,614.8 455.5,614.3 455.9,613.8 456.3,613.3 456.7,612.9 457.1,612.4 457.4,612.0 457.8,611.6 458.2,611.3 458.6,610.9 459.0,610.6 459.3,610.3 459.7,610.0 460.1,609.7 460.5,609.5 460.9,609.2 461.2,609.0 461.6,608.8 462.0,608.6 462.4,608.4 462.8,608.2 463.1,608.1 463.5,607.9 463.9,607.8 464.3,607.7 464.7,607.6 465.0,607.5 465.4,607.4 465.8,607.3 466.2,607.3 466.6,607.2 466.9,607.1 467.3,607.1 467.7,607.1 468.1,607.0 468.5,607.0 468.8,607.0 469.2,607.0 469.6,607.0 470.0,607.0 470.4,607.0 470.7,607.0 471.1,607.1 471.5,607.1 471.9,607.1 472.3,607.2 472.6,607.2 473.0,607.3 473.4,607.3 473.8,607.4 474.2,607.4 474.6,607.5 474.9,607.6 475.3,607.6 475.7,607.7 476.1,607.8 476.5,607.9 476.8,608.0 477.2,608.1 477.6,608.1 478.0,608.2 478.4,608.3 478.7,608.4 479.1,608.5 479.5,608.6 479.9,608.7 480.3,608.9 480.6,609.0 481.0,609.1 481.4,609.2 481.8,609.3 482.2,609.4 482.5,609.6 482.9,609.7 483.3,609.8 483.7,609.9 484.1,610.1 484.4,610.2 484.8,610.3 485.2,610.4 485.6,610.6 486.0,610.7 486.3,610.8 486.7,611.0 487.1,611.1 487.5,611.2 487.9,611.4 488.2,611.5 488.6,611.7 489.0,611.8 489.4,611.9 489.8,612.1 490.1,612.2 490.5,612.4 490.9,612.5 491.3,612.7 491.7,612.8 492.0,612.9 492.4,613.1 492.8,613.2 493.2,613.4 493.6,613.5 493.9,613.7 494.3,613.8 494.7,614.0 495.1,614.1 495.5,614.3 495.8,614.4 496.2,614.6 496.6,614.7 497.0,614.9 497.4,615.0 497.7,615.2 498.1,615.3 498.5,615.5 498.9,615.6 499.3,615.8 499.6,615.9 500.0,616.1 500.4,616.2 500.8,616.4 501.2,616.5 501.5,616.7 501.9,616.9 502.3,617.0 502.7,617.2 503.1,617.3 503.4,617.5 503.8,617.6 504.2,617.8 504.6,617.9 505.0,618.1 505.3,618.2 505.7,618.4 506.1,618.5 506.5,618.7 506.9,618.8 507.2,619.0 507.6,619.1 508.0,619.3 508.4,619.4 508.8,619.6 509.1,619.8 509.5,619.9 509.9,620.1 510.3,620.2 510.7,620.4 511.0,620.5 511.4,620.7 511.8,620.8 512.2,621.0 512.6,621.1 512.9,621.3 513.3,621.4 513.7,621.6 514.1,621.7 514.5,621.9 514.8,622.0 515.2,622.2 515.6,622.3 516.0,622.5 516.4,622.6 516.7,622.8 517.1,622.9 517.5,623.1 517.9,623.2 518.3,623.4 518.6,623.5 519.0,623.7 519.4,623.8 519.8,624.0 520.2,624.1 520.5,624.3 520.9,624.4 521.3,624.6 521.7,624.7 522.1,624.9 522.4,625.0 522.8,625.2 523.2,625.3 523.6,625.4 524.0,625.6 524.3,625.7 524.7,625.9 525.1,626.0 525.5,626.2 525.9,626.3 526.2,626.5 526.6,626.6 527.0,626.8 527.4,626.9 527.8,627.1 528.1,627.2 528.5,627.3 528.9,627.5 529.3,627.6 529.7,627.8 530.0,627.9 530.4,628.1 530.8,628.2 531.2,628.4 531.6,628.5 531.9,628.6 532.3,628.8 532.7,628.9 533.1,629.1 533.5,629.2 533.9,629.4 534.2,629.5 534.6,629.6 535.0,629.8 535.4,629.9 535.8,630.1 536.1,630.2 536.5,630.4 536.9,630.5 537.3,630.6 537.7,630.8 538.0,630.9 538.4,631.1 538.8,631.2 539.2,631.3 539.6,631.5 539.9,631.6 540.3,631.8 540.7,631.9 541.1,632.0 541.5,632.2 541.8,632.3 542.2,632.5 542.6,632.6 543.0,632.7 543.4,632.9 543.7,633.0 544.1,633.1 544.5,633.3 544.9,633.4 545.3,633.6 545.6,633.7 546.0,633.8 546.4,634.0 546.8,634.1 547.2,634.3 547.5,634.4 547.9,634.5 548.3,634.7 548.7,634.8 549.1,634.9 549.4,635.1 549.8,635.2 550.2,635.3 550.6,635.5 551.0,635.6 551.3,635.7 551.7,635.9 552.1,636.0 552.5,636.2 552.9,636.3 553.2,636.4 553.6,636.6 554.0,636.7 554.4,636.8 554.8,637.0 555.1,637.1 555.5,637.2 555.9,637.4 556.3,637.5 556.7,637.6 557.0,637.8 557.4,637.9 557.8,638.0 558.2,638.2 558.6,638.3 558.9,638.4 559.3,638.6 559.7,638.7 560.1,638.8 560.5,639.0 560.8,639.1 561.2,639.2 561.6,639.4 562.0,639.5 562.4,639.6 562.7,639.8 563.1,639.9 563.5,640.0 563.9,640.2 564.3,640.3 564.6,640.4 565.0,640.5 565.4,640.7 565.8,640.8 566.2,640.9 566.5,641.1 566.9,641.2 567.3,641.3 567.7,641.5 568.1,641.6 568.4,641.7 568.8,641.9 569.2,642.0 569.6,642.1 570.0,642.2 570.3,642.4 570.7,642.5 571.1,642.6 571.5,642.8 571.9,642.9 572.2,643.0 572.6,643.1 573.0,643.3 573.4,643.4 573.8,643.5 574.1,643.7 574.5,643.8 574.9,643.9 575.3,644.0 575.7,644.2 576.0,644.3 576.4,644.4 576.8,644.6 577.2,644.7 577.6,644.8 577.9,644.9 578.3,645.1 578.7,645.2 579.1,645.3 579.5,645.5 579.8,645.6 580.2,645.7 580.6,645.8 581.0,646.0 581.4,646.1 581.7,646.2 582.1,646.3 582.5,646.5 582.9,646.6 583.3,646.7 583.6,646.9 584.0,647.0 584.4,647.1 584.8,647.2 585.2,647.4 585.5,647.5 585.9,647.6 586.3,647.7 586.7,647.9 587.1,648.0 587.4,648.1 587.8,648.2 588.2,648.4 588.6,648.5 589.0,648.6 589.3,648.7 589.7,648.9 590.1,649.0 590.5,649.1 590.9,649.2 591.2,649.4 591.6,649.5 592.0,649.6 592.4,649.7 592.8,649.9 593.2,650.0 593.5,650.1 593.9,650.2 594.3,650.4 594.7,650.5 595.1,650.6 595.4,650.7 595.8,650.9 596.2,651.0 596.6,651.1 597.0,651.2 597.3,651.4 597.7,651.5 598.1,651.6 598.5,651.7 598.9,651.9 599.2,652.0 599.6,652.1 600.0,652.2 600.4,652.4 600.8,652.5 601.1,652.6 601.5,652.7 601.9,652.9 602.3,653.0 602.7,653.1 603.0,653.2 603.4,653.4 603.8,653.5 604.2,653.6 604.6,653.7 604.9,653.8 605.3,654.0 605.7,654.1 606.1,654.2 606.5,654.3 606.8,654.5 607.2,654.6 607.6,654.7 608.0,654.8 608.4,655.0 608.7,655.1 609.1,655.2 609.5,655.3 609.9,655.4 610.3,655.6 610.6,655.7 611.0,655.8 611.4,655.9 611.8,656.1 612.2,656.2 612.5,656.3 612.9,656.4 613.3,656.6 613.7,656.7 614.1,656.8 614.4,656.9 614.8,657.0 615.2,657.2 615.6,657.3 616.0,657.4 616.3,657.5 616.7,657.7 617.1,657.8 617.5,657.9 617.9,658.0 618.2,658.1 618.6,658.3 619.0,658.4 619.4,658.5 619.8,658.6 620.1,658.8 620.5,658.9 620.9,659.0" stroke="#ee3a43"/>
<polyline points="89.1,597.7 89.5,597.8 89.9,597.8 90.2,597.9 90.6,597.9 91.0,598.0 91.4,598.0 91.8,598.1 92.1,598.1 92.5,598.2 92.9,598.2 93.3,598.3 93.7,598.3 94.0,598.4 94.4,598.4 94.8,598.5 95.2,598.5 95.6,598.6 95.9,598.6 96.3,598.7 96.7,598.7 97.1,598.8 97.5,598.8 97.8,598.9 98.2,598.9 98.6,599.0 99.0,599.0 99.4,599.1 99.7,599.1 100.1,599.2 100.5,599.2 100.9,599.3 101.3,599.3 101.6,599.4 102.0,599.4 102.4,599.5 102.8,599.5 103.2,599.6 103.5,599.6 103.9,599.7 104.3,599.7 104.7,599.8 105.1,599.8 105.4,599.9 105.8,599.9 106.2,600.0 106.6,600.0 107.0,600.1 107.3,600.2 107.7,600.2 108.1,600.3 108.5,600.3 108.9,600.4 109.2,600.4 109.6,600.5 110.0,600.5 110.4,600.6 110.8,600.6 111.1,600.7 111.5,600.7 111.9,600.8 112.3,600.8 112.7,600.9 113.0,600.9 113.4,601.0 113.8,601.1 114.2,601.1 114.6,601.2 114.9,601.2 115.3,601.3 115.7,601.3 116.1,601.4 116.5,601.4 116.8,601.5 117.2,601.5 117.6,601.6 118.0,601.6 118.4,601.7 118.8,601.8 119.1,601.8 119.5,601.9 119.9,601.9 120.3,602.0 120.7,602.0 121.0,602.1 121.4,602.1 121.8,602.2 122.2,602.3 122.6,602.3 122.9,602.4 123.3,602.4 123.7,602.5 124.1,602.5 124.5,602.6 124.8,602.6 125.2,602.7 125.6,602.8 126.0,602.8 126.4,602.9 126.7,602.9 127.1,603.0 127.5,603.0 127.9,603.1 128.3,603.1 128.6,603.2 129.0,603.3 129.4,603.3 129.8,603.4 130.2,603.4 130.5,603.5 130.9,603.5 131.3,603.6 131.7,603.7 132.1,603.7 132.4,603.8 132.8,603.8 133.2,603.9 133.6,604.0 134.0,604.0 134.3,604.1 134.7,604.1 135.1,604.2 135.5,604.2 135.9,604.3 136.2,604.4 136.6,604.4 137.0,604.5 137.4,604.5 137.8,604.6 138.1,604.7 138.5,604.7 138.9,604.8 139.3,604.8 139.7,604.9 140.0,605.0 140.4,605.0 140.8,605.1 141.2,605.1 141.6,605.2 141.9,605.3 142.3,605.3 142.7,605.4 143.1,605.4 143.5,605.5 143.8,605.6 144.2,605.6 144.6,605.7 145.0,605.7 145.4,605.8 145.7,605.9 146.1,605.9 146.5,606.0 146.9,606.0 147.3,606.1 147.6,606.2 148.0,606.2 148.4,606.3 148.8,606.3 149.2,606.4 149.5,606.5 149.9,606.5 150.3,606.6 150.7,606.7 151.1,606.7 151.4,606.8 151.8,606.8 152.2,606.9 152.6,607.0 153.0,607.0 153.3,607.1 153.7,607.2 154.1,607.2 154.5,607.3 154.9,607.3 155.2,607.4 155.6,607.5 156.0,607.5 156.4,607.6 156.8,607.7 157.1,607.7 157.5,607.8 157.9,607.9 158.3,607.9 158.7,608.0 159.0,608.1 159.4,608.1 159.8,608.2 160.2,608.2 160.6,608.3 160.9,608.4 161.3,608.4 161.7,608.5 162.1,608.6 162.5,608.6 162.8,608.7 163.2,608.8 163.6,608.8 164.0,608.9 164.4,609.0 164.7,609.0 165.1,609.1 165.5,609.2 165.9,609.2 166.3,609.3 166.6,609.4 167.0,609.4 167.4,609.5 167.8,609.6 168.2,609.6 168.5,609.7 168.9,609.8 169.3,609.8 169.7,609.9 170.1,610.0 170.4,610.0 170.8,610.1 171.2,610.2 171.6,610.2 172.0,610.3 172.3,610.4 172.7,610.5 173.1,610.5 173.5,610.6 173.9,610.7 174.2,610.7 174.6,610.8 175.0,610.9 175.4,610.9 175.8,611.0 176.1,611.1 176.5,611.1 176.9,611.2 177.3,611.3 177.7,611.4 178.1,611.4 178.4,611.5 178.8,611.6 179.2,611.6 179.6,611.7 180.0,611.8 180.3,611.8 180.7,611.9 181.1,612.0 181.5,612.1 181.9,612.1 182.2,612.2 182.6,612.3 183.0,612.3 183.4,612.4 183.8,612.5 184.1,612.6 184.5,612.6 184.9,612.7 185.3,612.8 185.7,612.9 186.0,612.9 186.4,613.0 186.8,613.1 187.2,613.1 187.6,613.2 187.9,613.3 188.3,613.4 188.7,613.4 189.1,613.5 189.5,613.6 189.8,613.7 190.2,613.7 190.6,613.8 191.0,613.9 191.4,614.0 191.7,614.0 192.1,614.1 192.5,614.2 192.9,614.3 193.3,614.3 193.6,614.4 194.0,614.5 194.4,614.6 194.8,614.6 195.2,614.7 195.5,614.8 195.9,614.9 196.3,615.0 196.7,615.0 197.1,615.1 197.4,615.2 197.8,615.3 198.2,615.3 198.6,615.4 199.0,615.5 199.3,615.6 199.7,615.6 200.1,615.7 200.5,615.8 200.9,615.9 201.2,616.0 201.6,616.0 202.0,616.1 202.4,616.2 202.8,616.3 203.1,616.4 203.5,616.4 203.9,616.5 204.3,616.6 204.7,616.7 205.0,616.8 205.4,616.8 205.8,616.9 206.2,617.0 206.6,617.1 206.9,617.2 207.3,617.2 207.7,617.3 208.1,617.4 208.5,617.5 208.8,617.6 209.2,617.7 209.6,617.7 210.0,617.8 210.4,617.9 210.7,618.0 211.1,618.1 211.5,618.1 211.9,618.2 212.3,618.3 212.6,618.4 213.0,618.5 213.4,618.6 213.8,618.7 214.2,618.7 214.5,618.8 214.9,618.9 215.3,619.0 215.7,619.1 216.1,619.2 216.4,619.2 216.8,619.3 217.2,619.4 217.6,619.5 218.0,619.6 218.3,619.7 218.7,619.8 219.1,619.8 219.5,619.9 219.9,620.0 220.2,620.1 220.6,620.2 221.0,620.3 221.4,620.4 221.8,620.5 222.1,620.5 222.5,620.6 222.9,620.7 223.3,620.8 223.7,620.9 224.0,621.0 224.4,621.1 224.8,621.2 225.2,621.3 225.6,621.4 225.9,621.4 226.3,621.5 226.7,621.6 227.1,621.7 227.5,621.8 227.8,621.9 228.2,622.0 228.6,622.1 229.0,622.2 229.4,622.3 229.7,622.4 230.1,622.4 230.5,622.5 230.9,622.6 231.3,622.7 231.6,622.8 232.0,622.9 232.4,623.0 232.8,623.1 233.2,623.2 233.5,623.3 233.9,623.4 234.3,623.5 234.7,623.6 235.1,623.7 235.4,623.8 235.8,623.9 236.2,624.0 236.6,624.1 237.0,624.2 237.4,624.3 237.7,624.3 238.1,624.4 238.5,624.5 238.9,624.6 239.3,624.7 239.6,624.8 240.0,624.9 240.4,625.0 240.8,625.1 241.2,625.2 241.5,625.3 241.9,625.4 242.3,625.5 242.7,625.6 243.1,625.7 243.4,625.8 243.8,625.9 244.2,626.0 244.6,626.1 245.0,626.2 245.3,626.3 245.7,626.4 246.1,626.6 246.5,626.7 246.9,626.8 247.2,626.9 247.6,627.0 248.0,627.1 248.4,627.2 248.8,627.3 249.1,627.4 249.5,627.5 249.9,627.6 250.3,627.7 250.7,627.8 251.0,627.9 251.4,628.0 251.8,628.1 252.2,628.2 252.6,628.3 252.9,628.5 253.3,628.6 253.7,628.7 254.1,628.8 254.5,628.9 254.8,629.0 255.2,629.1 255.6,629.2 256.0,629.3 256.4,629.4 256.7,629.6 257.1,629.7 257.5,629.8 257.9,629.9 258.3,630.0 258.6,630.1 259.0,630.2 259.4,630.3 259.8,630.5 260.2,630.6 260.5,630.7 260.9,630.8 261.3,630.9 261.7,631.0 262.1,631.1 262.4,631.3 262.8,631.4 263.2,631.5 263.6,631.6 264.0,631.7 264.3,631.8 264.7,632.0 265.1,632.1 265.5,632.2 265.9,632.3 266.2,632.4 266.6,632.6 267.0,632.7 267.4,632.8 267.8,632.9 268.1,633.1 268.5,633.2 268.9,633.3 269.3,633.4 269.7,633.5 270.0,633.7 270.4,633.8 270.8,633.9 271.2,634.0 271.6,634.2 271.9,634.3 272.3,634.4 272.7,634.6 273.1,634.7 273.5,634.8 273.8,634.9 274.2,635.1 274.6,635.2 275.0,635.3 275.4,635.5 275.7,635.6 276.1,635.7 276.5,635.9 276.9,636.0 277.3,636.1 277.6,636.2 278.0,636.4 278.4,636.5 278.8,636.7 279.2,636.8 279.5,636.9 279.9,637.1 280.3,637.2 280.7,637.3 281.1,637.5 281.4,637.6 281.8,637.7 282.2,637.9 282.6,638.0 283.0,638.2 283.3,638.3 283.7,638.5 284.1,638.6 284.5,638.7 284.9,638.9 285.2,639.0 285.6,639.2 286.0,639.3 286.4,639.5 286.8,639.6 287.1,639.8 287.5,639.9 287.9,640.0 288.3,640.2 288.7,640.3 289.0,640.5 289.4,640.6 289.8,640.8 290.2,641.0 290.6,641.1 290.9,641.3 291.3,641.4 291.7,641.6 292.1,641.7 292.5,641.9 292.8,642.0 293.2,642.2 293.6,642.3 294.0,642.5 294.4,642.7 294.7,642.8 295.1,643.0 295.5,643.1 295.9,643.3 296.3,643.5 296.7,643.6 297.0,643.8 297.4,644.0 297.8,644.1 298.2,644.3 298.6,644.5 298.9,644.6 299.3,644.8 299.7,645.0 300.1,645.1 300.5,645.3 300.8,645.5 301.2,645.7 301.6,645.8 302.0,646.0 302.4,646.2 302.7,646.4 303.1,646.5 303.5,646.7 303.9,646.9 304.3,647.1 304.6,647.3 305.0,647.4 305.4,647.6 305.8,647.8 306.2,648.0 306.5,648.2 306.9,648.4 307.3,648.6 307.7,648.8 308.1,648.9 308.4,649.1 308.8,649.3 309.2,649.5 309.6,649.7 310.0,649.9 310.3,650.1 310.7,650.3 311.1,650.5 311.5,650.7 311.9,650.9 312.2,651.1 312.6,651.3 313.0,651.5 313.4,651.7 313.8,651.9 314.1,652.1 314.5,652.3 314.9,652.6 315.3,652.8 315.7,653.0 316.0,653.2 316.4,653.4 316.8,653.6 317.2,653.8 317.6,654.1 317.9,654.3 318.3,654.5 318.7,654.7 319.1,655.0 319.5,655.2 319.8,655.4 320.2,655.6 320.6,655.9 321.0,656.1 321.4,656.3 321.7,656.6 322.1,656.8 322.5,657.0 322.9,657.3 323.3,657.5 323.6,657.8 324.0,658.0 324.4,658.3 324.8,658.5 325.2,658.8 325.5,659.0 325.9,659.3 326.3,659.5 326.7,659.8 327.1,660.0 327.4,660.3 327.8,660.6 328.2,660.8 328.6,661.1 329.0,661.4 329.3,661.6 329.7,661.9 330.1,662.2 330.5,662.5 330.9,662.7 331.2,663.0 331.6,663.3 332.0,663.6 332.4,663.9 332.8,664.2 333.1,664.5 333.5,664.7 333.9,665.0 334.3,665.3 334.7,665.6 335.0,665.9 335.4,666.3 335.8,666.6 336.2,666.9 336.6,667.2 336.9,667.5 337.3,667.8 337.7,668.1 338.1,668.5 338.5,668.8 338.8,669.1 339.2,669.5 339.6,669.8 340.0,670.1 340.4,670.5 340.7,670.8 341.1,671.2 341.5,671.5 341.9,671.9 342.3,672.2 342.6,672.6 343.0,673.0 343.4,673.3 343.8,673.7 344.2,674.1 344.5,674.4 344.9,674.8 345.3,675.2 345.7,675.6 346.1,676.0 346.4,676.4 346.8,676.8 347.2,677.2 347.6,677.6 348.0,678.0 348.3,678.4 348.7,678.9 349.1,679.3 349.5,679.7 349.9,680.1 350.2,680.6 350.6,681.0 351.0,681.5 351.4,681.9 351.8,682.4 352.1,682.9 352.5,683.3 352.9,683.8 353.3,684.3 353.7,684.8 354.0,685.2 354.4,685.7 354.8,686.2 355.2,686.7 355.6,687.3 356.0,687.8 356.3,688.3 356.7,688.8 357.1,689.4 357.5,689.9 357.9,690.5 358.2,691.0 358.6,691.6 359.0,692.1 359.4,692.7 359.8,693.3 360.1,693.9 360.5,694.5 360.9,695.1 361.3,695.7 361.7,696.3 362.0,697.0 362.4,697.6 362.8,698.2 363.2,698.9 363.6,699.6 363.9,700.2 364.3,700.9 364.7,701.6 365.1,702.3 365.5,703.0 365.8,703.7 366.2,704.5 366.6,705.2 367.0,706.0 367.4,706.7 367.7,707.5 368.1,708.3 368.5,709.1 368.9,709.9 369.3,710.7 369.6,711.5 370.0,712.4 370.4,713.2 370.8,714.1 371.2,715.0 371.5,715.9 371.9,716.8 372.3,717.7 372.7,718.7 373.1,719.6 373.4,720.6 373.8,721.6 374.2,722.6 374.6,723.6 375.0,724.6 375.3,725.7 375.7,726.7 376.1,727.8 376.5,728.9 376.9,730.1 377.2,731.2 377.6,732.4 378.0,733.6 378.4,734.8 378.8,736.0 379.1,737.2 379.5,738.5 379.9,739.8 380.3,741.1 380.7,742.5 381.0,743.8 381.4,745.2 381.8,746.6 382.2,748.1 382.6,749.5 382.9,751.0 383.3,752.6 383.7,754.1 384.1,755.7 384.5,757.3 384.8,759.0 385.2,760.6 385.6,762.4 386.0,764.1 386.4,765.9 386.7,767.7 387.1,769.5 387.5,771.4 387.9,773.3 388.3,775.3 388.6,777.3 389.0,779.4 389.4,781.4 389.8,783.6 390.2,785.7 390.5,787.9 390.9,790.2 391.3,792.5 391.7,794.8 392.1,797.2 392.4,799.7 392.8,802.1 393.2,804.7 393.6,807.3 394.0,809.9 394.3,812.6 394.7,815.3 395.1,818.1 395.5,820.9 395.9,823.8 396.2,826.7 396.6,829.7 397.0,832.7 397.4,835.8 397.8,838.9 398.1,842.1 398.5,845.3 398.9,848.5 399.3,851.8 399.7,855.1 400.0,858.4 400.4,861.8 400.8,865.1 401.2,868.5 401.6,871.8 401.9,875.1 402.3,878.4 402.7,881.6 403.1,884.8 403.5,887.8 403.8,890.8 404.2,893.6 404.6,896.1 405.0,898.5 405.4,900.6 405.7,902.5 406.1,903.9 406.5,905.0 406.9,905.7 407.3,905.9 407.6,905.7 408.0,904.9 408.4,903.7 408.8,901.9 409.2,899.7 409.5,897.0 409.9,893.9 410.3,890.4 410.7,886.5 411.1,882.3 411.4,877.8 411.8,873.0 412.2,868.0 412.6,862.8 413.0,857.4 413.3,851.8 413.7,846.2 414.1,840.4 414.5,834.5 414.9,828.6 415.3,822.6 415.6,816.6 416.0,810.6 416.4,804.5 416.8,798.5 417.2,792.5 417.5,786.6 417.9,780.7 418.3,774.8 418.7,769.1 419.1,763.4 419.4,757.8 419.8,752.2 420.2,746.8 420.6,741.5 421.0,736.3 421.3,731.2 421.7,726.2 422.1,721.4 422.5,716.7 422.9,712.1 423.2,707.6 423.6,703.3 424.0,699.1 424.4,695.0 424.8,691.0 425.1,687.2 425.5,683.5 425.9,680.0 426.3,676.6 426.7,673.2 427.0,670.1 427.4,667.0 427.8,664.0 428.2,661.2 428.6,658.5 428.9,655.9 429.3,653.4 429.7,651.0 430.1,648.7 430.5,646.5 430.8,644.3 431.2,642.3 431.6,640.4 432.0,638.6 432.4,636.8 432.7,635.1 433.1,633.5 433.5,632.0 433.9,630.5 434.3,629.1 434.6,627.8 435.0,626.5 435.4,625.4 435.8,624.2 436.2,623.1 436.5,622.1 436.9,621.1 437.3,620.2 437.7,619.3 438.1,618.5 438.4,617.7 438.8,617.0 439.2,616.3 439.6,615.6 440.0,615.0 440.3,614.4 440.7,613.8 441.1,613.3 441.5,612.8 441.9,612.3 442.2,611.9 442.6,611.5 443.0,611.1 443.4,610.7 443.8,610.4 444.1,610.1 444.5,609.8 444.9,609.5 445.3,609.3 445.7,609.0 446.0,608.8 446.4,608.6 446.8,608.5 447.2,608.3 447.6,608.1 447.9,608.0 448.3,607.9 448.7,607.8 449.1,607.7 449.5,607.6 449.8,607.6 450.2,607.5 450.6,607.5 451.0,607.4 451.4,607.4 451.7,607.4 452.1,607.4 452.5,607.4 452.9,607.4 453.3,607.4 453.6,607.4 454.0,607.5 454.4,607.5 454.8,607.6 455.2,607.6 455.5,607.7 455.9,607.7 456.3,607.8 456.7,607.9 457.1,608.0 457.4,608.0 457.8,608.1 458.2,608.2 458.6,608.3 459.0,608.4 459.3,608.5 459.7,608.6 460.1,608.8 460.5,608.9 460.9,609.0 461.2,609.1 461.6,609.2 462.0,609.4 462.4,609.5 462.8,609.6 463.1,609.8 463.5,609.9 463.9,610.1 464.3,610.2 464.7,610.3 465.0,610.5 465.4,610.6 465.8,610.8 466.2,610.9 466.6,611.1 466.9,611.2 467.3,611.4 467.7,611.6 468.1,611.7 468.5,611.9 468.8,612.0 469.2,612.2 469.6,612.4 470.0,612.5 470.4,612.7 470.7,612.8 471.1,613.0 471.5,613.2 471.9,613.3 472.3,613.5 472.6,613.7 473.0,613.8 473.4,614.0 473.8,614.2 474.2,614.4 474.6,614.5 474.9,614.7 475.3,614.9 475.7,615.0 476.1,615.2 476.5,615.4 476.8,615.6 477.2,615.7 477.6,615.9 478.0,616.1 478.4,616.2 478.7,616.4 479.1,616.6 479.5,616.8 479.9,616.9 480.3,617.1 480.6,617.3 481.0,617.5 481.4,617.6 481.8,617.8 482.2,618.0 482.5,618.2 482.9,618.3 483.3,618.5 483.7,618.7 484.1,618.8 484.4,619.0 484.8,619.2 485.2,619.4 485.6,619.5 486.0,619.7 486.3,619.9 486.7,620.1 487.1,620.2 487.5,620.4 487.9,620.6 488.2,620.7 488.6,620.9 489.0,621.1 489.4,621.3 489.8,621.4 490.1,621.6 490.5,621.8 490.9,621.9 491.3,622.1 491.7,622.3 492.0,622.4 492.4,622.6 492.8,622.8 493.2,623.0 493.6,623.1 493.9,623.3 494.3,623.5 494.7,623.6 495.1,623.8 495.5,624.0 495.8,624.1 496.2,624.3 496.6,624.5 497.0,624.6 497.4,624.8 497.7,625.0 498.1,625.1 498.5,625.3 498.9,625.4 499.3,625.6 499.6,625.8 500.0,625.9 500.4,626.1 500.8,626.3 501.2,626.4 501.5,626.6 501.9,626.8 502.3,626.9 502.7,627.1 503.1,627.2 503.4,627.4 503.8,627.6 504.2,627.7 504.6,627.9 505.0,628.0 505.3,628.2 505.7,628.4 506.1,628.5 506.5,628.7 506.9,628.8 507.2,629.0 507.6,629.1 508.0,629.3 508.4,629.5 508.8,629.6 509.1,629.8 509.5,629.9 509.9,630.1 510.3,630.2 510.7,630.4 511.0,630.6 511.4,630.7 511.8,630.9 512.2,631.0 512.6,631.2 512.9,631.3 513.3,631.5 513.7,631.6 514.1,631.8 514.5,631.9 514.8,632.1 515.2,632.2 515.6,632.4 516.0,632.5 516.4,632.7 516.7,632.9 517.1,633.0 517.5,633.2 517.9,633.3 518.3,633.5 518.6,633.6 519.0,633.8 519.4,633.9 519.8,634.1 520.2,634.2 520.5,634.4 520.9,634.5 521.3,634.6 521.7,634.8 522.1,634.9 522.4,635.1 522.8,635.2 523.2,635.4 523.6,635.5 524.0,635.7 524.3,635.8 524.7,636.0 525.1,636.1 525.5,636.3 525.9,636.4 526.2,636.6 526.6,636.7 527.0,636.8 527.4,637.0 527.8,637.1 528.1,637.3 528.5,637.4 528.9,637.6 529.3,637.7 529.7,637.9 530.0,638.0 530.4,638.1 530.8,638.3 531.2,638.4 531.6,638.6 531.9,638.7 532.3,638.8 532.7,639.0 533.1,639.1 533.5,639.3 533.9,639.4 534.2,639.6 534.6,639.7 535.0,639.8 535.4,640.0 535.8,640.1 536.1,640.3 536.5,640.4 536.9,640.5 537.3,640.7 537.7,640.8 538.0,641.0 538.4,641.1 538.8,641.2 539.2,641.4 539.6,641.5 539.9,641.6 540.3,641.8 540.7,641.9 541.1,642.1 541.5,642.2 541.8,642.3 542.2,642.5 542.6,642.6 543.0,642.7 543.4,642.9 543.7,643.0 544.1,643.2 544.5,643.3 544.9,643.4 545.3,643.6 545.6,643.7 546.0,643.8 546.4,644.0 546.8,644.1 547.2,644.2 547.5,644.4 547.9,644.5 548.3,644.6 548.7,644.8 549.1,644.9 549.4,645.0 549.8,645.2 550.2,645.3 550.6,645.4 551.0,645.6 551.3,645.7 551.7,645.8 552.1,646.0 552.5,646.1 552.9,646.2 553.2,646.4 553.6,646.5 554.0,646.6 554.4,646.8 554.8,646.9 555.1,647.0 555.5,647.2 555.9,647.3 556.3,647.4 556.7,647.6 557.0,647.7 557.4,647.8 557.8,648.0 558.2,648.1 558.6,648.2 558.9,648.3 559.3,648.5 559.7,648.6 560.1,648.7 560.5,648.9 560.8,649.0 561.2,649.1 561.6,649.3 562.0,649.4 562.4,649.5 562.7,649.6 563.1,649.8 563.5,649.9 563.9,650.0 564.3,650.2 564.6,650.3 565.0,650.4 565.4,650.6 565.8,650.7 566.2,650.8 566.5,650.9 566.9,651.1 567.3,651.2 567.7,651.3 568.1,651.5 568.4,651.6 568.8,651.7 569.2,651.8 569.6,652.0 570.0,652.1 570.3,652.2 570.7,652.3 571.1,652.5 571.5,652.6 571.9,652.7 572.2,652.9 572.6,653.0 573.0,653.1 573.4,653.2 573.8,653.4 574.1,653.5 574.5,653.6 574.9,653.7 575.3,653.9 575.7,654.0 576.0,654.1 576.4,654.2 576.8,654.4 577.2,654.5 577.6,654.6 577.9,654.7 578.3,654.9 578.7,655.0 579.1,655.1 579.5,655.3 579.8,655.4 580.2,655.5 580.6,655.6 581.0,655.8 581.4,655.9 581.7,656.0 582.1,656.1 582.5,656.3 582.9,656.4 583.3,656.5 583.6,656.6 584.0,656.7 584.4,656.9 584.8,657.0 585.2,657.1 585.5,657.2 585.9,657.4 586.3,657.5 586.7,657.6 587.1,657.7 587.4,657.9 587.8,658.0 588.2,658.1 588.6,658.2 589.0,658.4 589.3,658.5 589.7,658.6 590.1,658.7 590.5,658.9 590.9,659.0 591.2,659.1 591.6,659.2 592.0,659.3 592.4,659.5 592.8,659.6 593.2,659.7 593.5,659.8 593.9,660.0 594.3,660.1 594.7,660.2 595.1,660.3 595.4,660.5 595.8,660.6 596.2,660.7 596.6,660.8 597.0,660.9 597.3,661.1 597.7,661.2 598.1,661.3 598.5,661.4 598.9,661.6 599.2,661.7 599.6,661.8 600.0,661.9 600.4,662.0 600.8,662.2 601.1,662.3 601.5,662.4 601.9,662.5 602.3,662.7 602.7,662.8 603.0,662.9 603.4,663.0 603.8,663.1 604.2,663.3 604.6,663.4 604.9,663.5 605.3,663.6 605.7,663.7 606.1,663.9 606.5,664.0 606.8,664.1 607.2,664.2 607.6,664.4 608.0,664.5 608.4,664.6 608.7,664.7 609.1,664.8 609.5,665.0 609.9,665.1 610.3,665.2 610.6,665.3 611.0,665.4 611.4,665.6 611.8,665.7 612.2,665.8 612.5,665.9 612.9,666.0 613.3,666.2 613.7,666.3 614.1,666.4 614.4,666.5 614.8,666.6 615.2,666.8 615.6,666.9 616.0,667.0 616.3,667.1 616.7,667.2 617.1,667.4 617.5,667.5 617.9,667.6 618.2,667.7 618.6,667.9 619.0,668.0 619.4,668.1 619.8,668.2 620.1,668.3 620.5,668.5 620.9,668.6" stroke="#1766dd"/>
<polyline points="89.1,600.0 89.5,600.0 89.9,600.1 90.2,600.1 90.6,600.1 91.0,600.2 91.4,600.2 91.8,600.3 92.1,600.3 92.5,600.4 92.9,600.4 93.3,600.5 93.7,600.5 94.0,600.6 94.4,600.6 94.8,600.7 95.2,600.7 95.6,600.7 95.9,600.8 96.3,600.8 96.7,600.9 97.1,600.9 97.5,601.0 97.8,601.0 98.2,601.1 98.6,601.1 99.0,601.2 99.4,601.2 99.7,601.3 100.1,601.3 100.5,601.4 100.9,601.4 101.3,601.4 101.6,601.5 102.0,601.5 102.4,601.6 102.8,601.6 103.2,601.7 103.5,601.7 103.9,601.8 104.3,601.8 104.7,601.9 105.1,601.9 105.4,602.0 105.8,602.0 106.2,602.0 106.6,602.1 107.0,602.1 107.3,602.2 107.7,602.2 108.1,602.3 108.5,602.3 108.9,602.4 109.2,602.4 109.6,602.5 110.0,602.5 110.4,602.6 110.8,602.6 111.1,602.6 111.5,602.7 111.9,602.7 112.3,602.8 112.7,602.8 113.0,602.9 113.4,602.9 113.8,603.0 114.2,603.0 114.6,603.1 114.9,603.1 115.3,603.2 115.7,603.2 116.1,603.3 116.5,603.3 116.8,603.3 117.2,603.4 117.6,603.4 118.0,603.5 118.4,603.5 118.8,603.6 119.1,603.6 119.5,603.7 119.9,603.7 120.3,603.8 120.7,603.8 121.0,603.9 121.4,603.9 121.8,603.9 122.2,604.0 122.6,604.0 122.9,604.1 123.3,604.1 123.7,604.2 124.1,604.2 124.5,604.3 124.8,604.3 125.2,604.4 125.6,604.4 126.0,604.5 126.4,604.5 126.7,604.6 127.1,604.6 127.5,604.7 127.9,604.7 128.3,604.7 128.6,604.8 129.0,604.8 129.4,604.9 129.8,604.9 130.2,605.0 130.5,605.0 130.9,605.1 131.3,605.1 131.7,605.2 132.1,605.2 132.4,605.3 132.8,605.3 133.2,605.4 133.6,605.4 134.0,605.5 134.3,605.5 134.7,605.5 135.1,605.6 135.5,605.6 135.9,605.7 136.2,605.7 136.6,605.8 137.0,605.8 137.4,605.9 137.8,605.9 138.1,606.0 138.5,606.0 138.9,606.1 139.3,606.1 139.7,606.2 140.0,606.2 140.4,606.3 140.8,606.3 141.2,606.3 141.6,606.4 141.9,606.4 142.3,606.5 142.7,606.5 143.1,606.6 143.5,606.6 143.8,606.7 144.2,606.7 144.6,606.8 145.0,606.8 145.4,606.9 145.7,606.9 146.1,607.0 146.5,607.0 146.9,607.1 147.3,607.1 147.6,607.2 148.0,607.2 148.4,607.3 148.8,607.3 149.2,607.3 149.5,607.4 149.9,607.4 150.3,607.5 150.7,607.5 151.1,607.6 151.4,607.6 151.8,607.7 152.2,607.7 152.6,607.8 153.0,607.8 153.3,607.9 153.7,607.9 154.1,608.0 154.5,608.0 154.9,608.1 155.2,608.1 155.6,608.2 156.0,608.2 156.4,608.3 156.8,608.3 157.1,608.4 157.5,608.4 157.9,608.5 158.3,608.5 158.7,608.6 159.0,608.6 159.4,608.7 159.8,608.7 160.2,608.8 160.6,608.8 160.9,608.8 161.3,608.9 161.7,608.9 162.1,609.0 162.5,609.0 162.8,609.1 163.2,609.1 163.6,609.2 164.0,609.2 164.4,609.3 164.7,609.3 165.1,609.4 165.5,609.4 165.9,609.5 166.3,609.5 166.6,609.6 167.0,609.6 167.4,609.7 167.8,609.7 168.2,609.8 168.5,609.8 168.9,609.9 169.3,609.9 169.7,610.0 170.1,610.0 170.4,610.1 170.8,610.1 171.2,610.2 171.6,610.2 172.0,610.3 172.3,610.3 172.7,610.4 173.1,610.4 173.5,610.5 173.9,610.5 174.2,610.6 174.6,610.6 175.0,610.7 175.4,610.7 175.8,610.8 176.1,610.8 176.5,610.9 176.9,610.9 177.3,611.0 177.7,611.0 178.1,611.1 178.4,611.1 178.8,611.2 179.2,611.2 179.6,611.3 180.0,611.3 180.3,611.4 180.7,611.4 181.1,611.5 181.5,611.5 181.9,611.6 182.2,611.6 182.6,611.7 183.0,611.7 183.4,611.8 183.8,611.8 184.1,611.9 184.5,611.9 184.9,612.0 185.3,612.0 185.7,612.1 186.0,612.2 186.4,612.2 186.8,612.3 187.2,612.3 187.6,612.4 187.9,612.4 188.3,612.5 188.7,612.5 189.1,612.6 189.5,612.6 189.8,612.7 190.2,612.7 190.6,612.8 191.0,612.8 191.4,612.9 191.7,612.9 192.1,613.0 192.5,613.0 192.9,613.1 193.3,613.1 193.6,613.2 194.0,613.2 194.4,613.3 194.8,613.4 195.2,613.4 195.5,613.5 195.9,613.5 196.3,613.6 196.7,613.6 197.1,613.7 197.4,613.7 197.8,613.8 198.2,613.8 198.6,613.9 199.0,613.9 199.3,614.0 199.7,614.0 200.1,614.1 200.5,614.2 200.9,614.2 201.2,614.3 201.6,614.3 202.0,614.4 202.4,614.4 202.8,614.5 203.1,614.5 203.5,614.6 203.9,614.6 204.3,614.7 204.7,614.7 205.0,614.8 205.4,614.9 205.8,614.9 206.2,615.0 206.6,615.0 206.9,615.1 207.3,615.1 207.7,615.2 208.1,615.2 208.5,615.3 208.8,615.4 209.2,615.4 209.6,615.5 210.0,615.5 210.4,615.6 210.7,615.6 211.1,615.7 211.5,615.7 211.9,615.8 212.3,615.9 212.6,615.9 213.0,616.0 213.4,616.0 213.8,616.1 214.2,616.1 214.5,616.2 214.9,616.3 215.3,616.3 215.7,616.4 216.1,616.4 216.4,616.5 216.8,616.5 217.2,616.6 217.6,616.7 218.0,616.7 218.3,616.8 218.7,616.8 219.1,616.9 219.5,616.9 219.9,617.0 220.2,617.1 220.6,617.1 221.0,617.2 221.4,617.2 221.8,617.3 222.1,617.4 222.5,617.4 222.9,617.5 223.3,617.5 223.7,617.6 224.0,617.7 224.4,617.7 224.8,617.8 225.2,617.8 225.6,617.9 225.9,618.0 226.3,618.0 226.7,618.1 227.1,618.1 227.5,618.2 227.8,618.3 228.2,618.3 228.6,618.4 229.0,618.4 229.4,618.5 229.7,618.6 230.1,618.6 230.5,618.7 230.9,618.7 231.3,618.8 231.6,618.9 232.0,618.9 232.4,619.0 232.8,619.1 233.2,619.1 233.5,619.2 233.9,619.2 234.3,619.3 234.7,619.4 235.1,619.4 235.4,619.5 235.8,619.6 236.2,619.6 236.6,619.7 237.0,619.8 237.4,619.8 237.7,619.9 238.1,619.9 238.5,620.0 238.9,620.1 239.3,620.1 239.6,620.2 240.0,620.3 240.4,620.3 240.8,620.4 241.2,620.5 241.5,620.5 241.9,620.6 242.3,620.7 242.7,620.7 243.1,620.8 243.4,620.9 243.8,620.9 244.2,621.0 244.6,621.1 245.0,621.1 245.3,621.2 245.7,621.3 246.1,621.3 246.5,621.4 246.9,621.5 247.2,621.5 247.6,621.6 248.0,621.7 248.4,621.7 248.8,621.8 249.1,621.9 249.5,622.0 249.9,622.0 250.3,622.1 250.7,622.2 251.0,622.2 251.4,622.3 251.8,622.4 252.2,622.5 252.6,622.5 252.9,622.6 253.3,622.7 253.7,622.7 254.1,622.8 254.5,622.9 254.8,623.0 255.2,623.0 255.6,623.1 256.0,623.2 256.4,623.2 256.7,623.3 257.1,623.4 257.5,623.5 257.9,623.5 258.3,623.6 258.6,623.7 259.0,623.8 259.4,623.8 259.8,623.9 260.2,624.0 260.5,624.1 260.9,624.2 261.3,624.2 261.7,624.3 262.1,624.4 262.4,624.5 262.8,624.5 263.2,624.6 263.6,624.7 264.0,624.8 264.3,624.9 264.7,624.9 265.1,625.0 265.5,625.1 265.9,625.2 266.2,625.3 266.6,625.3 267.0,625.4 267.4,625.5 267.8,625.6 268.1,625.7 268.5,625.7 268.9,625.8 269.3,625.9 269.7,626.0 270.0,626.1 270.4,626.2 270.8,626.2 271.2,626.3 271.6,626.4 271.9,626.5 272.3,626.6 272.7,626.7 273.1,626.8 273.5,626.8 273.8,626.9 274.2,627.0 274.6,627.1 275.0,627.2 275.4,627.3 275.7,627.4 276.1,627.5 276.5,627.5 276.9,627.6 277.3,627.7 277.6,627.8 278.0,627.9 278.4,628.0 278.8,628.1 279.2,628.2 279.5,628.3 279.9,628.4 280.3,628.5 280.7,628.6 281.1,628.7 281.4,628.7 281.8,628.8 282.2,628.9 282.6,629.0 283.0,629.1 283.3,629.2 283.7,629.3 284.1,629.4 284.5,629.5 284.9,629.6 285.2,629.7 285.6,629.8 286.0,629.9 286.4,630.0 286.8,630.1 287.1,630.2 287.5,630.3 287.9,630.4 288.3,630.5 288.7,630.6 289.0,630.7 289.4,630.9 289.8,631.0 290.2,631.1 290.6,631.2 290.9,631.3 291.3,631.4 291.7,631.5 292.1,631.6 292.5,631.7 292.8,631.8 293.2,631.9 293.6,632.1 294.0,632.2 294.4,632.3 294.7,632.4 295.1,632.5 295.5,632.6 295.9,632.7 296.3,632.9 296.7,633.0 297.0,633.1 297.4,633.2 297.8,633.3 298.2,633.4 298.6,633.6 298.9,633.7 299.3,633.8 299.7,633.9 300.1,634.1 300.5,634.2 300.8,634.3 301.2,634.4 301.6,634.6 302.0,634.7 302.4,634.8 302.7,634.9 303.1,635.1 303.5,635.2 303.9,635.3 304.3,635.5 304.6,635.6 305.0,635.7 305.4,635.9 305.8,636.0 306.2,636.1 306.5,636.3 306.9,636.4 307.3,636.5 307.7,636.7 308.1,636.8 308.4,637.0 308.8,637.1 309.2,637.3 309.6,637.4 310.0,637.6 310.3,637.7 310.7,637.8 311.1,638.0 311.5,638.2 311.9,638.3 312.2,638.5 312.6,638.6 313.0,638.8 313.4,638.9 313.8,639.1 314.1,639.2 314.5,639.4 314.9,639.6 315.3,639.7 315.7,639.9 316.0,640.0 316.4,640.2 316.8,640.4 317.2,640.6 317.6,640.7 317.9,640.9 318.3,641.1 318.7,641.2 319.1,641.4 319.5,641.6 319.8,641.8 320.2,642.0 320.6,642.1 321.0,642.3 321.4,642.5 321.7,642.7 322.1,642.9 322.5,643.1 322.9,643.3 323.3,643.5 323.6,643.6 324.0,643.8 324.4,644.0 324.8,644.2 325.2,644.4 325.5,644.6 325.9,644.9 326.3,645.1 326.7,645.3 327.1,645.5 327.4,645.7 327.8,645.9 328.2,646.1 328.6,646.3 329.0,646.6 329.3,646.8 329.7,647.0 330.1,647.2 330.5,647.5 330.9,647.7 331.2,647.9 331.6,648.2 332.0,648.4 332.4,648.7 332.8,648.9 333.1,649.2 333.5,649.4 333.9,649.7 334.3,649.9 334.7,650.2 335.0,650.4 335.4,650.7 335.8,651.0 336.2,651.2 336.6,651.5 336.9,651.8 337.3,652.0 337.7,652.3 338.1,652.6 338.5,652.9 338.8,653.2 339.2,653.5 339.6,653.8 340.0,654.1 340.4,654.4 340.7,654.7 341.1,655.0 341.5,655.3 341.9,655.6 342.3,656.0 342.6,656.3 343.0,656.6 343.4,657.0 343.8,657.3 344.2,657.6 344.5,658.0 344.9,658.3 345.3,658.7 345.7,659.0 346.1,659.4 346.4,659.8 346.8,660.2 347.2,660.5 347.6,660.9 348.0,661.3 348.3,661.7 348.7,662.1 349.1,662.5 349.5,662.9 349.9,663.3 350.2,663.8 350.6,664.2 351.0,664.6 351.4,665.1 351.8,665.5 352.1,666.0 352.5,666.4 352.9,666.9 353.3,667.4 353.7,667.9 354.0,668.3 354.4,668.8 354.8,669.3 355.2,669.9 355.6,670.4 356.0,670.9 356.3,671.4 356.7,672.0 357.1,672.5 357.5,673.1 357.9,673.7 358.2,674.2 358.6,674.8 359.0,675.4 359.4,676.0 359.8,676.7 360.1,677.3 360.5,677.9 360.9,678.6 361.3,679.2 361.7,679.9 362.0,680.6 362.4,681.3 362.8,682.0 363.2,682.7 363.6,683.5 363.9,684.2 364.3,685.0 364.7,685.7 365.1,686.5 365.5,687.3 365.8,688.2 366.2,689.0 366.6,689.8 367.0,690.7 367.4,691.6 367.7,692.5 368.1,693.4 368.5,694.4 368.9,695.3 369.3,696.3 369.6,697.3 370.0,698.3 370.4,699.3 370.8,700.4 371.2,701.5 371.5,702.6 371.9,703.7 372.3,704.9 372.7,706.0 373.1,707.2 373.4,708.5 373.8,709.7 374.2,711.0 374.6,712.3 375.0,713.7 375.3,715.0 375.7,716.4 376.1,717.9 376.5,719.3 376.9,720.8 377.2,722.4 377.6,724.0 378.0,725.6 378.4,727.2 378.8,728.9 379.1,730.6 379.5,732.4 379.9,734.2 380.3,736.1 380.7,738.0 381.0,739.9 381.4,741.9 381.8,744.0 382.2,746.1 382.6,748.2 382.9,750.5 383.3,752.7 383.7,755.0 384.1,757.4 384.5,759.9 384.8,762.4 385.2,764.9 385.6,767.5 386.0,770.2 386.4,773.0 386.7,775.8 387.1,778.7 387.5,781.7 387.9,784.7 388.3,787.8 388.6,791.0 389.0,794.2 389.4,797.6 389.8,801.0 390.2,804.4 390.5,807.9 390.9,811.5 391.3,815.2 391.7,818.9 392.1,822.7 392.4,826.5 392.8,830.4 393.2,834.3 393.6,838.2 394.0,842.1 394.3,846.0 394.7,849.9 395.1,853.7 395.5,857.5 395.9,861.1 396.2,864.7 396.6,868.0 397.0,871.1 397.4,874.0 397.8,876.5 398.1,878.7 398.5,880.4 398.9,881.7 399.3,882.4 399.7,882.5 400.0,882.1 400.4,881.0 400.8,879.3 401.2,876.9 401.6,873.9 401.9,870.4 402.3,866.3 402.7,861.8 403.1,856.8 403.5,851.4 403.8,845.6 404.2,839.6 404.6,833.3 405.0,826.8 405.4,820.1 405.7,813.3 406.1,806.4 406.5,799.4 406.9,792.4 407.3,785.4 407.6,778.4 408.0,771.5 408.4,764.6 408.8,757.8 409.2,751.1 409.5,744.6 409.9,738.1 410.3,731.8 410.7,725.6 411.1,719.6 411.4,713.8 411.8,708.1 412.2,702.6 412.6,697.3 413.0,692.2 413.3,687.2 413.7,682.4 414.1,677.9 414.5,673.4 414.9,669.2 415.3,665.1 415.6,661.2 416.0,657.5 416.4,653.9 416.8,650.5 417.2,647.2 417.5,644.1 417.9,641.2 418.3,638.3 418.7,635.6 419.1,633.1 419.4,630.6 419.8,628.3 420.2,626.1 420.6,624.0 421.0,622.0 421.3,620.1 421.7,618.3 422.1,616.6 422.5,615.0 422.9,613.4 423.2,612.0 423.6,610.6 424.0,609.3 424.4,608.1 424.8,606.9 425.1,605.8 425.5,604.7 425.9,603.7 426.3,602.8 426.7,601.9 427.0,601.1 427.4,600.3 427.8,599.5 428.2,598.8 428.6,598.1 428.9,597.5 429.3,596.9 429.7,596.4 430.1,595.8 430.5,595.3 430.8,594.9 431.2,594.4 431.6,594.0 432.0,593.6 432.4,593.3 432.7,592.9 433.1,592.6 433.5,592.3 433.9,592.0 434.3,591.8 434.6,591.5 435.0,591.3 435.4,591.1 435.8,590.9 436.2,590.7 436.5,590.6 436.9,590.4 437.3,590.3 437.7,590.2 438.1,590.0 438.4,589.9 438.8,589.8 439.2,589.8 439.6,589.7 440.0,589.6 440.3,589.6 440.7,589.5 441.1,589.5 441.5,589.4 441.9,589.4 442.2,589.4 442.6,589.4 443.0,589.4 443.4,589.3 443.8,589.3 444.1,589.4 444.5,589.4 444.9,589.4 445.3,589.4 445.7,589.4 446.0,589.4 446.4,589.5 446.8,589.5 447.2,589.6 447.6,589.6 447.9,589.6 448.3,589.7 448.7,589.7 449.1,589.8 449.5,589.8 449.8,589.9 450.2,590.0 450.6,590.0 451.0,590.1 451.4,590.2 451.7,590.2 452.1,590.3 452.5,590.4 452.9,590.4 453.3,590.5 453.6,590.6 454.0,590.7 454.4,590.7 454.8,590.8 455.2,590.9 455.5,591.0 455.9,591.1 456.3,591.1 456.7,591.2 457.1,591.3 457.4,591.4 457.8,591.5 458.2,591.6 458.6,591.6 459.0,591.7 459.3,591.8 459.7,591.9 460.1,592.0 460.5,592.1 460.9,592.2 461.2,592.3 461.6,592.4 462.0,592.4 462.4,592.5 462.8,592.6 463.1,592.7 463.5,592.8 463.9,592.9 464.3,593.0 464.7,593.1 465.0,593.2 465.4,593.3 465.8,593.3 466.2,593.4 466.6,593.5 466.9,593.6 467.3,593.7 467.7,593.8 468.1,593.9 468.5,594.0 468.8,594.1 469.2,594.2 469.6,594.3 470.0,594.3 470.4,594.4 470.7,594.5 471.1,594.6 471.5,594.7 471.9,594.8 472.3,594.9 472.6,595.0 473.0,595.1 473.4,595.1 473.8,595.2 474.2,595.3 474.6,595.4 474.9,595.5 475.3,595.6 475.7,595.7 476.1,595.8 476.5,595.8 476.8,595.9 477.2,596.0 477.6,596.1 478.0,596.2 478.4,596.3 478.7,596.4 479.1,596.4 479.5,596.5 479.9,596.6 480.3,596.7 480.6,596.8 481.0,596.9 481.4,596.9 481.8,597.0 482.2,597.1 482.5,597.2 482.9,597.3 483.3,597.4 483.7,597.4 484.1,597.5 484.4,597.6 484.8,597.7 485.2,597.8 485.6,597.8 486.0,597.9 486.3,598.0 486.7,598.1 487.1,598.1 487.5,598.2 487.9,598.3 488.2,598.4 488.6,598.5 489.0,598.5 489.4,598.6 489.8,598.7 490.1,598.8 490.5,598.8 490.9,598.9 491.3,599.0 491.7,599.1 492.0,599.1 492.4,599.2 492.8,599.3 493.2,599.4 493.6,599.4 493.9,599.5 494.3,599.6 494.7,599.6 495.1,599.7 495.5,599.8 495.8,599.9 496.2,599.9 496.6,600.0 497.0,600.1 497.4,600.1 497.7,600.2 498.1,600.3 498.5,600.3 498.9,600.4 499.3,600.5 499.6,600.5 500.0,600.6 500.4,600.7 500.8,600.8 501.2,600.8 501.5,600.9 501.9,601.0 502.3,601.0 502.7,601.1 503.1,601.1 503.4,601.2 503.8,601.3 504.2,601.3 504.6,601.4 505.0,601.5 505.3,601.5 505.7,601.6 506.1,601.7 506.5,601.7 506.9,601.8 507.2,601.8 507.6,601.9 508.0,602.0 508.4,602.0 508.8,602.1 509.1,602.2 509.5,602.2 509.9,602.3 510.3,602.3 510.7,602.4 511.0,602.5 511.4,602.5 511.8,602.6 512.2,602.6 512.6,602.7 512.9,602.8 513.3,602.8 513.7,602.9 514.1,602.9 514.5,603.0 514.8,603.0 515.2,603.1 515.6,603.2 516.0,603.2 516.4,603.3 516.7,603.3 517.1,603.4 517.5,603.4 517.9,603.5 518.3,603.5 518.6,603.6 519.0,603.7 519.4,603.7 519.8,603.8 520.2,603.8 520.5,603.9 520.9,603.9 521.3,604.0 521.7,604.0 522.1,604.1 522.4,604.1 522.8,604.2 523.2,604.2 523.6,604.3 524.0,604.3 524.3,604.4 524.7,604.4 525.1,604.5 525.5,604.5 525.9,604.6 526.2,604.7 526.6,604.7 527.0,604.8 527.4,604.8 527.8,604.9 528.1,604.9 528.5,604.9 528.9,605.0 529.3,605.0 529.7,605.1 530.0,605.1 530.4,605.2 530.8,605.2 531.2,605.3 531.6,605.3 531.9,605.4 532.3,605.4 532.7,605.5 533.1,605.5 533.5,605.6 533.9,605.6 534.2,605.7 534.6,605.7 535.0,605.8 535.4,605.8 535.8,605.9 536.1,605.9 536.5,605.9 536.9,606.0 537.3,606.0 537.7,606.1 538.0,606.1 538.4,606.2 538.8,606.2 539.2,606.3 539.6,606.3 539.9,606.3 540.3,606.4 540.7,606.4 541.1,606.5 541.5,606.5 541.8,606.6 542.2,606.6 542.6,606.6 543.0,606.7 543.4,606.7 543.7,606.8 544.1,606.8 544.5,606.9 544.9,606.9 545.3,606.9 545.6,607.0 546.0,607.0 546.4,607.1 546.8,607.1 547.2,607.1 547.5,607.2 547.9,607.2 548.3,607.3 548.7,607.3 549.1,607.3 549.4,607.4 549.8,607.4 550.2,607.5 550.6,607.5 551.0,607.5 551.3,607.6 551.7,607.6 552.1,607.7 552.5,607.7 552.9,607.7 553.2,607.8 553.6,607.8 554.0,607.9 554.4,607.9 554.8,607.9 555.1,608.0 555.5,608.0 555.9,608.0 556.3,608.1 556.7,608.1 557.0,608.2 557.4,608.2 557.8,608.2 558.2,608.3 558.6,608.3 558.9,608.3 559.3,608.4 559.7,608.4 560.1,608.4 560.5,608.5 560.8,608.5 561.2,608.6 561.6,608.6 562.0,608.6 562.4,608.7 562.7,608.7 563.1,608.7 563.5,608.8 563.9,608.8 564.3,608.8 564.6,608.9 565.0,608.9 565.4,608.9 565.8,609.0 566.2,609.0 566.5,609.0 566.9,609.1 567.3,609.1 567.7,609.1 568.1,609.2 568.4,609.2 568.8,609.2 569.2,609.3 569.6,609.3 570.0,609.3 570.3,609.4 570.7,609.4 571.1,609.4 571.5,609.5 571.9,609.5 572.2,609.5 572.6,609.6 573.0,609.6 573.4,609.6 573.8,609.7 574.1,609.7 574.5,609.7 574.9,609.8 575.3,609.8 575.7,609.8 576.0,609.9 576.4,609.9 576.8,609.9 577.2,609.9 577.6,610.0 577.9,610.0 578.3,610.0 578.7,610.1 579.1,610.1 579.5,610.1 579.8,610.2 580.2,610.2 580.6,610.2 581.0,610.2 581.4,610.3 581.7,610.3 582.1,610.3 582.5,610.4 582.9,610.4 583.3,610.4 583.6,610.5 584.0,610.5 584.4,610.5 584.8,610.5 585.2,610.6 585.5,610.6 585.9,610.6 586.3,610.7 586.7,610.7 587.1,610.7 587.4,610.7 587.8,610.8 588.2,610.8 588.6,610.8 589.0,610.8 589.3,610.9 589.7,610.9 590.1,610.9 590.5,611.0 590.9,611.0 591.2,611.0 591.6,611.0 592.0,611.1 592.4,611.1 592.8,611.1 593.2,611.1 593.5,611.2 593.9,611.2 594.3,611.2 594.7,611.3 595.1,611.3 595.4,611.3 595.8,611.3 596.2,611.4 596.6,611.4 597.0,611.4 597.3,611.4 597.7,611.5 598.1,611.5 598.5,611.5 598.9,611.5 599.2,611.6 599.6,611.6 600.0,611.6 600.4,611.6 600.8,611.7 601.1,611.7 601.5,611.7 601.9,611.7 602.3,611.8 602.7,611.8 603.0,611.8 603.4,611.8 603.8,611.9 604.2,611.9 604.6,611.9 604.9,611.9 605.3,612.0 605.7,612.0 606.1,612.0 606.5,612.0 606.8,612.1 607.2,612.1 607.6,612.1 608.0,612.1 608.4,612.1 608.7,612.2 609.1,612.2 609.5,612.2 609.9,612.2 610.3,612.3 610.6,612.3 611.0,612.3 611.4,612.3 611.8,612.4 612.2,612.4 612.5,612.4 612.9,612.4 613.3,612.4 613.7,612.5 614.1,612.5 614.4,612.5 614.8,612.5 615.2,612.6 615.6,612.6 616.0,612.6 616.3,612.6 616.7,612.6 617.1,612.7 617.5,612.7 617.9,612.7 618.2,612.7 618.6,612.8 619.0,612.8 619.4,612.8 619.8,612.8 620.1,612.8 620.5,612.9 620.9,612.9" stroke="#2fa866"/>
</g>
<line x1="89.10" y1="985.30" x2="89.10" y2="993.30" stroke="#000" stroke-width="1.9"/>
<text x="89.10" y="1023.50" font-size="30" text-anchor="middle" fill="#000" >1.0</text>
<line x1="222.05" y1="985.30" x2="222.05" y2="993.30" stroke="#000" stroke-width="1.9"/>
<text x="222.05" y="1023.50" font-size="30" text-anchor="middle" fill="#000" >1.5</text>
<line x1="355.00" y1="985.30" x2="355.00" y2="993.30" stroke="#000" stroke-width="1.9"/>
<text x="355.00" y="1023.50" font-size="30" text-anchor="middle" fill="#000" >2.0</text>
<line x1="487.95" y1="985.30" x2="487.95" y2="993.30" stroke="#000" stroke-width="1.9"/>
<text x="487.95" y="1023.50" font-size="30" text-anchor="middle" fill="#000" >2.5</text>
<line x1="620.90" y1="985.30" x2="620.90" y2="993.30" stroke="#000" stroke-width="1.9"/>
<text x="620.90" y="1023.50" font-size="30" text-anchor="middle" fill="#000" >3.0</text>
<line x1="81.10" y1="985.30" x2="89.10" y2="985.30" stroke="#000" stroke-width="1.9"/>
<text x="74.80" y="994.60" font-size="30" text-anchor="end" fill="#000" >0.0</text>
<line x1="81.10" y1="899.68" x2="89.10" y2="899.68" stroke="#000" stroke-width="1.9"/>
<text x="74.80" y="908.98" font-size="30" text-anchor="end" fill="#000" >0.2</text>
<line x1="81.10" y1="814.06" x2="89.10" y2="814.06" stroke="#000" stroke-width="1.9"/>
<text x="74.80" y="823.36" font-size="30" text-anchor="end" fill="#000" >0.4</text>
<line x1="81.10" y1="728.44" x2="89.10" y2="728.44" stroke="#000" stroke-width="1.9"/>
<text x="74.80" y="737.74" font-size="30" text-anchor="end" fill="#000" >0.6</text>
<line x1="81.10" y1="642.82" x2="89.10" y2="642.82" stroke="#000" stroke-width="1.9"/>
<text x="74.80" y="652.12" font-size="30" text-anchor="end" fill="#000" >0.8</text>
<line x1="81.10" y1="557.20" x2="89.10" y2="557.20" stroke="#000" stroke-width="1.9"/>
<text x="74.80" y="566.50" font-size="30" text-anchor="end" fill="#000" >1.0</text>
<text x="355.00" y="1055.70" font-size="30" text-anchor="middle" fill="#000" >Frequency (THz)</text>
<text x="0" y="0" font-size="30.4" text-anchor="middle" transform="translate(21.70,769.50) rotate(-90)">Transmission Amplitude</text>
<line x1="125.7" y1="795.2" x2="184.9" y2="795.2" stroke="#4b4b4b" stroke-width="3.7"/>
<text x="198.2" y="804.20" font-size="26"><tspan font-style="italic">h</tspan><tspan font-size="16.5" dy="7">a</tspan><tspan dy="-7">=1</tspan></text>
<line x1="125.7" y1="833.8" x2="184.9" y2="833.8" stroke="#ee3a43" stroke-width="3.7"/>
<text x="198.2" y="842.80" font-size="26"><tspan font-style="italic">h</tspan><tspan font-size="16.5" dy="7">a</tspan><tspan dy="-7">=2</tspan></text>
<line x1="125.7" y1="872.2" x2="184.9" y2="872.2" stroke="#1766dd" stroke-width="3.7"/>
<text x="198.2" y="881.20" font-size="26"><tspan font-style="italic">h</tspan><tspan font-size="16.5" dy="7">a</tspan><tspan dy="-7">=4</tspan></text>
<line x1="125.7" y1="910.8" x2="184.9" y2="910.8" stroke="#2fa866" stroke-width="3.7"/>
<text x="198.2" y="919.80" font-size="26"><tspan font-style="italic">h</tspan><tspan font-size="16.5" dy="7">a</tspan><tspan dy="-7">=16</tspan></text>
<line x1="445.60" y1="923.20" x2="399.00" y2="923.20" stroke="#000" stroke-width="4.4" stroke-dasharray="13.5 4.8"/>
<polygon points="385.00,923.20 407.00,912.20 400.00,923.20 407.00,934.20" fill="#000"/>
<rect x="417.9" y="940.9" width="203" height="44.4" fill="#000"/>
<text x="425.2" y="974.3" font-size="32.9" fill="#fff"><tspan font-style="italic">n</tspan>=1.5 tan<tspan font-style="italic">δ</tspan>=0</text>
<text x="-0.96" y="579.4" font-family="Liberation Sans, sans-serif" font-weight="bold" font-size="44">c</text>
<line x1="219.40" y1="1082.70" x2="219.40" y2="1509.20" stroke="#707070" stroke-width="1.2" stroke-dasharray="5.9 4.3"/>
<line x1="352.00" y1="1082.70" x2="352.00" y2="1509.20" stroke="#707070" stroke-width="1.2" stroke-dasharray="5.9 4.3"/>
<line x1="484.60" y1="1082.70" x2="484.60" y2="1509.20" stroke="#707070" stroke-width="1.2" stroke-dasharray="5.9 4.3"/>
<line x1="88.80" y1="1423.90" x2="617.20" y2="1423.90" stroke="#707070" stroke-width="1.2" stroke-dasharray="5.9 4.3"/>
<line x1="88.80" y1="1338.60" x2="617.20" y2="1338.60" stroke="#707070" stroke-width="1.2" stroke-dasharray="5.9 4.3"/>
<line x1="88.80" y1="1253.30" x2="617.20" y2="1253.30" stroke="#707070" stroke-width="1.2" stroke-dasharray="5.9 4.3"/>
<line x1="88.80" y1="1168.00" x2="617.20" y2="1168.00" stroke="#707070" stroke-width="1.2" stroke-dasharray="5.9 4.3"/>
<clipPath id="clipe"><rect x="86.3" y="1082.7" width="531.4000000000001" height="426.5"/></clipPath>
<rect x="86.80" y="1082.70" width="530.40" height="426.50" fill="none" stroke="#000" stroke-width="1.9"/>
<g clip-path="url(#clipe)" fill="none" stroke-width="3.7" stroke-linejoin="round">
<polyline points="86.8,1125.2 87.2,1125.3 87.6,1125.3 87.9,1125.4 88.3,1125.4 88.7,1125.5 89.1,1125.6 89.5,1125.6 89.8,1125.7 90.2,1125.8 90.6,1125.8 91.0,1125.9 91.3,1125.9 91.7,1126.0 92.1,1126.1 92.5,1126.1 92.9,1126.2 93.2,1126.2 93.6,1126.3 94.0,1126.4 94.4,1126.4 94.8,1126.5 95.1,1126.5 95.5,1126.6 95.9,1126.7 96.3,1126.7 96.7,1126.8 97.0,1126.8 97.4,1126.9 97.8,1127.0 98.2,1127.0 98.6,1127.1 98.9,1127.1 99.3,1127.2 99.7,1127.3 100.1,1127.3 100.4,1127.4 100.8,1127.5 101.2,1127.5 101.6,1127.6 102.0,1127.6 102.3,1127.7 102.7,1127.8 103.1,1127.8 103.5,1127.9 103.9,1127.9 104.2,1128.0 104.6,1128.1 105.0,1128.1 105.4,1128.2 105.8,1128.3 106.1,1128.3 106.5,1128.4 106.9,1128.4 107.3,1128.5 107.7,1128.6 108.0,1128.6 108.4,1128.7 108.8,1128.7 109.2,1128.8 109.5,1128.9 109.9,1128.9 110.3,1129.0 110.7,1129.1 111.1,1129.1 111.4,1129.2 111.8,1129.2 112.2,1129.3 112.6,1129.4 113.0,1129.4 113.3,1129.5 113.7,1129.5 114.1,1129.6 114.5,1129.7 114.9,1129.7 115.2,1129.8 115.6,1129.9 116.0,1129.9 116.4,1130.0 116.8,1130.0 117.1,1130.1 117.5,1130.2 117.9,1130.2 118.3,1130.3 118.6,1130.4 119.0,1130.4 119.4,1130.5 119.8,1130.5 120.2,1130.6 120.5,1130.7 120.9,1130.7 121.3,1130.8 121.7,1130.9 122.1,1130.9 122.4,1131.0 122.8,1131.0 123.2,1131.1 123.6,1131.2 124.0,1131.2 124.3,1131.3 124.7,1131.4 125.1,1131.4 125.5,1131.5 125.9,1131.6 126.2,1131.6 126.6,1131.7 127.0,1131.7 127.4,1131.8 127.7,1131.9 128.1,1131.9 128.5,1132.0 128.9,1132.1 129.3,1132.1 129.6,1132.2 130.0,1132.2 130.4,1132.3 130.8,1132.4 131.2,1132.4 131.5,1132.5 131.9,1132.6 132.3,1132.6 132.7,1132.7 133.1,1132.8 133.4,1132.8 133.8,1132.9 134.2,1132.9 134.6,1133.0 134.9,1133.1 135.3,1133.1 135.7,1133.2 136.1,1133.3 136.5,1133.3 136.8,1133.4 137.2,1133.5 137.6,1133.5 138.0,1133.6 138.4,1133.7 138.7,1133.7 139.1,1133.8 139.5,1133.8 139.9,1133.9 140.3,1134.0 140.6,1134.0 141.0,1134.1 141.4,1134.2 141.8,1134.2 142.2,1134.3 142.5,1134.4 142.9,1134.4 143.3,1134.5 143.7,1134.6 144.0,1134.6 144.4,1134.7 144.8,1134.8 145.2,1134.8 145.6,1134.9 145.9,1135.0 146.3,1135.0 146.7,1135.1 147.1,1135.1 147.5,1135.2 147.8,1135.3 148.2,1135.3 148.6,1135.4 149.0,1135.5 149.4,1135.5 149.7,1135.6 150.1,1135.7 150.5,1135.7 150.9,1135.8 151.3,1135.9 151.6,1135.9 152.0,1136.0 152.4,1136.1 152.8,1136.1 153.1,1136.2 153.5,1136.3 153.9,1136.3 154.3,1136.4 154.7,1136.5 155.0,1136.5 155.4,1136.6 155.8,1136.7 156.2,1136.7 156.6,1136.8 156.9,1136.9 157.3,1136.9 157.7,1137.0 158.1,1137.1 158.5,1137.1 158.8,1137.2 159.2,1137.3 159.6,1137.3 160.0,1137.4 160.4,1137.5 160.7,1137.5 161.1,1137.6 161.5,1137.7 161.9,1137.7 162.2,1137.8 162.6,1137.9 163.0,1137.9 163.4,1138.0 163.8,1138.1 164.1,1138.1 164.5,1138.2 164.9,1138.3 165.3,1138.3 165.7,1138.4 166.0,1138.5 166.4,1138.5 166.8,1138.6 167.2,1138.7 167.6,1138.7 167.9,1138.8 168.3,1138.9 168.7,1139.0 169.1,1139.0 169.4,1139.1 169.8,1139.2 170.2,1139.2 170.6,1139.3 171.0,1139.4 171.3,1139.4 171.7,1139.5 172.1,1139.6 172.5,1139.6 172.9,1139.7 173.2,1139.8 173.6,1139.8 174.0,1139.9 174.4,1140.0 174.8,1140.1 175.1,1140.1 175.5,1140.2 175.9,1140.3 176.3,1140.3 176.7,1140.4 177.0,1140.5 177.4,1140.5 177.8,1140.6 178.2,1140.7 178.5,1140.8 178.9,1140.8 179.3,1140.9 179.7,1141.0 180.1,1141.0 180.4,1141.1 180.8,1141.2 181.2,1141.2 181.6,1141.3 182.0,1141.4 182.3,1141.5 182.7,1141.5 183.1,1141.6 183.5,1141.7 183.9,1141.7 184.2,1141.8 184.6,1141.9 185.0,1142.0 185.4,1142.0 185.8,1142.1 186.1,1142.2 186.5,1142.2 186.9,1142.3 187.3,1142.4 187.6,1142.5 188.0,1142.5 188.4,1142.6 188.8,1142.7 189.2,1142.8 189.5,1142.8 189.9,1142.9 190.3,1143.0 190.7,1143.0 191.1,1143.1 191.4,1143.2 191.8,1143.3 192.2,1143.3 192.6,1143.4 193.0,1143.5 193.3,1143.6 193.7,1143.6 194.1,1143.7 194.5,1143.8 194.9,1143.8 195.2,1143.9 195.6,1144.0 196.0,1144.1 196.4,1144.1 196.7,1144.2 197.1,1144.3 197.5,1144.4 197.9,1144.4 198.3,1144.5 198.6,1144.6 199.0,1144.7 199.4,1144.7 199.8,1144.8 200.2,1144.9 200.5,1145.0 200.9,1145.0 201.3,1145.1 201.7,1145.2 202.1,1145.3 202.4,1145.3 202.8,1145.4 203.2,1145.5 203.6,1145.6 204.0,1145.6 204.3,1145.7 204.7,1145.8 205.1,1145.9 205.5,1145.9 205.8,1146.0 206.2,1146.1 206.6,1146.2 207.0,1146.3 207.4,1146.3 207.7,1146.4 208.1,1146.5 208.5,1146.6 208.9,1146.6 209.3,1146.7 209.6,1146.8 210.0,1146.9 210.4,1147.0 210.8,1147.0 211.2,1147.1 211.5,1147.2 211.9,1147.3 212.3,1147.3 212.7,1147.4 213.0,1147.5 213.4,1147.6 213.8,1147.7 214.2,1147.7 214.6,1147.8 214.9,1147.9 215.3,1148.0 215.7,1148.1 216.1,1148.1 216.5,1148.2 216.8,1148.3 217.2,1148.4 217.6,1148.5 218.0,1148.5 218.4,1148.6 218.7,1148.7 219.1,1148.8 219.5,1148.9 219.9,1148.9 220.3,1149.0 220.6,1149.1 221.0,1149.2 221.4,1149.3 221.8,1149.4 222.1,1149.4 222.5,1149.5 222.9,1149.6 223.3,1149.7 223.7,1149.8 224.0,1149.8 224.4,1149.9 224.8,1150.0 225.2,1150.1 225.6,1150.2 225.9,1150.3 226.3,1150.3 226.7,1150.4 227.1,1150.5 227.5,1150.6 227.8,1150.7 228.2,1150.8 228.6,1150.9 229.0,1150.9 229.4,1151.0 229.7,1151.1 230.1,1151.2 230.5,1151.3 230.9,1151.4 231.2,1151.5 231.6,1151.5 232.0,1151.6 232.4,1151.7 232.8,1151.8 233.1,1151.9 233.5,1152.0 233.9,1152.1 234.3,1152.1 234.7,1152.2 235.0,1152.3 235.4,1152.4 235.8,1152.5 236.2,1152.6 236.6,1152.7 236.9,1152.8 237.3,1152.8 237.7,1152.9 238.1,1153.0 238.5,1153.1 238.8,1153.2 239.2,1153.3 239.6,1153.4 240.0,1153.5 240.3,1153.6 240.7,1153.7 241.1,1153.7 241.5,1153.8 241.9,1153.9 242.2,1154.0 242.6,1154.1 243.0,1154.2 243.4,1154.3 243.8,1154.4 244.1,1154.5 244.5,1154.6 244.9,1154.7 245.3,1154.8 245.7,1154.9 246.0,1155.0 246.4,1155.0 246.8,1155.1 247.2,1155.2 247.6,1155.3 247.9,1155.4 248.3,1155.5 248.7,1155.6 249.1,1155.7 249.4,1155.8 249.8,1155.9 250.2,1156.0 250.6,1156.1 251.0,1156.2 251.3,1156.3 251.7,1156.4 252.1,1156.5 252.5,1156.6 252.9,1156.7 253.2,1156.8 253.6,1156.9 254.0,1157.0 254.4,1157.1 254.8,1157.2 255.1,1157.3 255.5,1157.4 255.9,1157.5 256.3,1157.6 256.6,1157.7 257.0,1157.8 257.4,1157.9 257.8,1158.0 258.2,1158.1 258.5,1158.2 258.9,1158.3 259.3,1158.4 259.7,1158.5 260.1,1158.6 260.4,1158.7 260.8,1158.8 261.2,1158.9 261.6,1159.0 262.0,1159.1 262.3,1159.2 262.7,1159.3 263.1,1159.4 263.5,1159.6 263.9,1159.7 264.2,1159.8 264.6,1159.9 265.0,1160.0 265.4,1160.1 265.7,1160.2 266.1,1160.3 266.5,1160.4 266.9,1160.5 267.3,1160.6 267.6,1160.8 268.0,1160.9 268.4,1161.0 268.8,1161.1 269.2,1161.2 269.5,1161.3 269.9,1161.4 270.3,1161.5 270.7,1161.7 271.1,1161.8 271.4,1161.9 271.8,1162.0 272.2,1162.1 272.6,1162.2 273.0,1162.3 273.3,1162.5 273.7,1162.6 274.1,1162.7 274.5,1162.8 274.8,1162.9 275.2,1163.0 275.6,1163.2 276.0,1163.3 276.4,1163.4 276.7,1163.5 277.1,1163.7 277.5,1163.8 277.9,1163.9 278.3,1164.0 278.6,1164.1 279.0,1164.3 279.4,1164.4 279.8,1164.5 280.2,1164.6 280.5,1164.8 280.9,1164.9 281.3,1165.0 281.7,1165.1 282.1,1165.3 282.4,1165.4 282.8,1165.5 283.2,1165.7 283.6,1165.8 283.9,1165.9 284.3,1166.1 284.7,1166.2 285.1,1166.3 285.5,1166.4 285.8,1166.6 286.2,1166.7 286.6,1166.8 287.0,1167.0 287.4,1167.1 287.7,1167.3 288.1,1167.4 288.5,1167.5 288.9,1167.7 289.3,1167.8 289.6,1167.9 290.0,1168.1 290.4,1168.2 290.8,1168.4 291.1,1168.5 291.5,1168.7 291.9,1168.8 292.3,1168.9 292.7,1169.1 293.0,1169.2 293.4,1169.4 293.8,1169.5 294.2,1169.7 294.6,1169.8 294.9,1170.0 295.3,1170.1 295.7,1170.3 296.1,1170.4 296.5,1170.6 296.8,1170.7 297.2,1170.9 297.6,1171.0 298.0,1171.2 298.4,1171.4 298.7,1171.5 299.1,1171.7 299.5,1171.8 299.9,1172.0 300.2,1172.2 300.6,1172.3 301.0,1172.5 301.4,1172.7 301.8,1172.8 302.1,1173.0 302.5,1173.1 302.9,1173.3 303.3,1173.5 303.7,1173.7 304.0,1173.8 304.4,1174.0 304.8,1174.2 305.2,1174.3 305.6,1174.5 305.9,1174.7 306.3,1174.9 306.7,1175.1 307.1,1175.2 307.5,1175.4 307.8,1175.6 308.2,1175.8 308.6,1176.0 309.0,1176.1 309.3,1176.3 309.7,1176.5 310.1,1176.7 310.5,1176.9 310.9,1177.1 311.2,1177.3 311.6,1177.5 312.0,1177.7 312.4,1177.9 312.8,1178.1 313.1,1178.3 313.5,1178.5 313.9,1178.7 314.3,1178.9 314.7,1179.1 315.0,1179.3 315.4,1179.5 315.8,1179.7 316.2,1179.9 316.6,1180.1 316.9,1180.3 317.3,1180.6 317.7,1180.8 318.1,1181.0 318.4,1181.2 318.8,1181.4 319.2,1181.7 319.6,1181.9 320.0,1182.1 320.3,1182.3 320.7,1182.6 321.1,1182.8 321.5,1183.0 321.9,1183.3 322.2,1183.5 322.6,1183.8 323.0,1184.0 323.4,1184.2 323.8,1184.5 324.1,1184.7 324.5,1185.0 324.9,1185.2 325.3,1185.5 325.7,1185.8 326.0,1186.0 326.4,1186.3 326.8,1186.5 327.2,1186.8 327.5,1187.1 327.9,1187.4 328.3,1187.6 328.7,1187.9 329.1,1188.2 329.4,1188.5 329.8,1188.7 330.2,1189.0 330.6,1189.3 331.0,1189.6 331.3,1189.9 331.7,1190.2 332.1,1190.5 332.5,1190.8 332.9,1191.1 333.2,1191.4 333.6,1191.7 334.0,1192.0 334.4,1192.4 334.7,1192.7 335.1,1193.0 335.5,1193.3 335.9,1193.7 336.3,1194.0 336.6,1194.3 337.0,1194.7 337.4,1195.0 337.8,1195.4 338.2,1195.7 338.5,1196.1 338.9,1196.5 339.3,1196.8 339.7,1197.2 340.1,1197.6 340.4,1197.9 340.8,1198.3 341.2,1198.7 341.6,1199.1 342.0,1199.5 342.3,1199.9 342.7,1200.3 343.1,1200.7 343.5,1201.1 343.8,1201.5 344.2,1202.0 344.6,1202.4 345.0,1202.8 345.4,1203.3 345.7,1203.7 346.1,1204.2 346.5,1204.6 346.9,1205.1 347.3,1205.6 347.6,1206.0 348.0,1206.5 348.4,1207.0 348.8,1207.5 349.2,1208.0 349.5,1208.5 349.9,1209.0 350.3,1209.5 350.7,1210.1 351.1,1210.6 351.4,1211.1 351.8,1211.7 352.2,1212.2 352.6,1212.8 352.9,1213.4 353.3,1214.0 353.7,1214.6 354.1,1215.2 354.5,1215.8 354.8,1216.4 355.2,1217.0 355.6,1217.6 356.0,1218.3 356.4,1219.0 356.7,1219.6 357.1,1220.3 357.5,1221.0 357.9,1221.7 358.3,1222.4 358.6,1223.1 359.0,1223.8 359.4,1224.6 359.8,1225.3 360.2,1226.1 360.5,1226.9 360.9,1227.7 361.3,1228.5 361.7,1229.3 362.0,1230.2 362.4,1231.0 362.8,1231.9 363.2,1232.8 363.6,1233.7 363.9,1234.6 364.3,1235.5 364.7,1236.5 365.1,1237.4 365.5,1238.4 365.8,1239.4 366.2,1240.4 366.6,1241.5 367.0,1242.5 367.4,1243.6 367.7,1244.7 368.1,1245.9 368.5,1247.0 368.9,1248.2 369.3,1249.4 369.6,1250.6 370.0,1251.8 370.4,1253.1 370.8,1254.4 371.1,1255.7 371.5,1257.1 371.9,1258.4 372.3,1259.9 372.7,1261.3 373.0,1262.8 373.4,1264.3 373.8,1265.8 374.2,1267.4 374.6,1269.0 374.9,1270.6 375.3,1272.3 375.7,1274.0 376.1,1275.7 376.5,1277.5 376.8,1279.4 377.2,1281.2 377.6,1283.1 378.0,1285.1 378.3,1287.1 378.7,1289.2 379.1,1291.3 379.5,1293.4 379.9,1295.6 380.2,1297.9 380.6,1300.2 381.0,1302.5 381.4,1305.0 381.8,1307.4 382.1,1310.0 382.5,1312.5 382.9,1315.2 383.3,1317.9 383.7,1320.7 384.0,1323.5 384.4,1326.4 384.8,1329.4 385.2,1332.4 385.6,1335.5 385.9,1338.6 386.3,1341.8 386.7,1345.1 387.1,1348.4 387.4,1351.8 387.8,1355.3 388.2,1358.7 388.6,1362.3 389.0,1365.9 389.3,1369.5 389.7,1373.1 390.1,1376.7 390.5,1380.4 390.9,1384.0 391.2,1387.6 391.6,1391.1 392.0,1394.5 392.4,1397.9 392.8,1401.1 393.1,1404.1 393.5,1406.9 393.9,1409.4 394.3,1411.5 394.7,1413.4 395.0,1414.7 395.4,1415.6 395.8,1416.0 396.2,1415.8 396.5,1415.1 396.9,1413.7 397.3,1411.7 397.7,1409.1 398.1,1406.0 398.4,1402.3 398.8,1398.1 399.2,1393.4 399.6,1388.3 400.0,1382.9 400.3,1377.1 400.7,1371.1 401.1,1364.8 401.5,1358.3 401.9,1351.6 402.2,1344.9 402.6,1338.0 403.0,1331.0 403.4,1324.0 403.8,1317.0 404.1,1310.0 404.5,1303.0 404.9,1296.1 405.3,1289.2 405.6,1282.5 406.0,1275.8 406.4,1269.3 406.8,1262.9 407.2,1256.6 407.5,1250.5 407.9,1244.5 408.3,1238.7 408.7,1233.1 409.1,1227.6 409.4,1222.4 409.8,1217.3 410.2,1212.4 410.6,1207.6 411.0,1203.1 411.3,1198.7 411.7,1194.6 412.1,1190.6 412.5,1186.7 412.9,1183.1 413.2,1179.6 413.6,1176.2 414.0,1173.1 414.4,1170.0 414.7,1167.2 415.1,1164.4 415.5,1161.8 415.9,1159.4 416.3,1157.0 416.6,1154.8 417.0,1152.7 417.4,1150.7 417.8,1148.9 418.2,1147.1 418.5,1145.4 418.9,1143.8 419.3,1142.4 419.7,1140.9 420.1,1139.6 420.4,1138.4 420.8,1137.2 421.2,1136.1 421.6,1135.1 421.9,1134.1 422.3,1133.2 422.7,1132.3 423.1,1131.5 423.5,1130.8 423.8,1130.1 424.2,1129.4 424.6,1128.8 425.0,1128.3 425.4,1127.7 425.7,1127.2 426.1,1126.8 426.5,1126.4 426.9,1126.0 427.3,1125.6 427.6,1125.3 428.0,1125.0 428.4,1124.7 428.8,1124.5 429.2,1124.2 429.5,1124.0 429.9,1123.8 430.3,1123.7 430.7,1123.5 431.0,1123.4 431.4,1123.3 431.8,1123.2 432.2,1123.1 432.6,1123.0 432.9,1123.0 433.3,1122.9 433.7,1122.9 434.1,1122.9 434.5,1122.9 434.8,1122.9 435.2,1122.9 435.6,1122.9 436.0,1123.0 436.4,1123.0 436.7,1123.0 437.1,1123.1 437.5,1123.2 437.9,1123.2 438.3,1123.3 438.6,1123.4 439.0,1123.5 439.4,1123.6 439.8,1123.6 440.1,1123.7 440.5,1123.9 440.9,1124.0 441.3,1124.1 441.7,1124.2 442.0,1124.3 442.4,1124.4 442.8,1124.6 443.2,1124.7 443.6,1124.8 443.9,1124.9 444.3,1125.1 444.7,1125.2 445.1,1125.4 445.5,1125.5 445.8,1125.6 446.2,1125.8 446.6,1125.9 447.0,1126.1 447.4,1126.2 447.7,1126.4 448.1,1126.5 448.5,1126.7 448.9,1126.8 449.2,1127.0 449.6,1127.2 450.0,1127.3 450.4,1127.5 450.8,1127.6 451.1,1127.8 451.5,1127.9 451.9,1128.1 452.3,1128.3 452.7,1128.4 453.0,1128.6 453.4,1128.7 453.8,1128.9 454.2,1129.1 454.6,1129.2 454.9,1129.4 455.3,1129.6 455.7,1129.7 456.1,1129.9 456.4,1130.0 456.8,1130.2 457.2,1130.4 457.6,1130.5 458.0,1130.7 458.3,1130.8 458.7,1131.0 459.1,1131.2 459.5,1131.3 459.9,1131.5 460.2,1131.6 460.6,1131.8 461.0,1132.0 461.4,1132.1 461.8,1132.3 462.1,1132.4 462.5,1132.6 462.9,1132.7 463.3,1132.9 463.7,1133.1 464.0,1133.2 464.4,1133.4 464.8,1133.5 465.2,1133.7 465.5,1133.8 465.9,1134.0 466.3,1134.1 466.7,1134.3 467.1,1134.4 467.4,1134.6 467.8,1134.7 468.2,1134.9 468.6,1135.0 469.0,1135.2 469.3,1135.3 469.7,1135.5 470.1,1135.6 470.5,1135.8 470.9,1135.9 471.2,1136.1 471.6,1136.2 472.0,1136.4 472.4,1136.5 472.8,1136.6 473.1,1136.8 473.5,1136.9 473.9,1137.1 474.3,1137.2 474.6,1137.4 475.0,1137.5 475.4,1137.6 475.8,1137.8 476.2,1137.9 476.5,1138.1 476.9,1138.2 477.3,1138.3 477.7,1138.5 478.1,1138.6 478.4,1138.7 478.8,1138.9 479.2,1139.0 479.6,1139.1 480.0,1139.3 480.3,1139.4 480.7,1139.5 481.1,1139.7 481.5,1139.8 481.9,1139.9 482.2,1140.1 482.6,1140.2 483.0,1140.3 483.4,1140.5 483.7,1140.6 484.1,1140.7 484.5,1140.9 484.9,1141.0 485.3,1141.1 485.6,1141.2 486.0,1141.4 486.4,1141.5 486.8,1141.6 487.2,1141.7 487.5,1141.9 487.9,1142.0 488.3,1142.1 488.7,1142.2 489.1,1142.4 489.4,1142.5 489.8,1142.6 490.2,1142.7 490.6,1142.8 491.0,1143.0 491.3,1143.1 491.7,1143.2 492.1,1143.3 492.5,1143.4 492.8,1143.6 493.2,1143.7 493.6,1143.8 494.0,1143.9 494.4,1144.0 494.7,1144.1 495.1,1144.3 495.5,1144.4 495.9,1144.5 496.3,1144.6 496.6,1144.7 497.0,1144.8 497.4,1144.9 497.8,1145.1 498.2,1145.2 498.5,1145.3 498.9,1145.4 499.3,1145.5 499.7,1145.6 500.0,1145.7 500.4,1145.8 500.8,1145.9 501.2,1146.1 501.6,1146.2 501.9,1146.3 502.3,1146.4 502.7,1146.5 503.1,1146.6 503.5,1146.7 503.8,1146.8 504.2,1146.9 504.6,1147.0 505.0,1147.1 505.4,1147.2 505.7,1147.3 506.1,1147.5 506.5,1147.6 506.9,1147.7 507.3,1147.8 507.6,1147.9 508.0,1148.0 508.4,1148.1 508.8,1148.2 509.1,1148.3 509.5,1148.4 509.9,1148.5 510.3,1148.6 510.7,1148.7 511.0,1148.8 511.4,1148.9 511.8,1149.0 512.2,1149.1 512.6,1149.2 512.9,1149.3 513.3,1149.4 513.7,1149.5 514.1,1149.6 514.5,1149.7 514.8,1149.8 515.2,1149.9 515.6,1150.0 516.0,1150.1 516.4,1150.2 516.7,1150.3 517.1,1150.4 517.5,1150.5 517.9,1150.6 518.2,1150.6 518.6,1150.7 519.0,1150.8 519.4,1150.9 519.8,1151.0 520.1,1151.1 520.5,1151.2 520.9,1151.3 521.3,1151.4 521.7,1151.5 522.0,1151.6 522.4,1151.7 522.8,1151.8 523.2,1151.9 523.6,1152.0 523.9,1152.0 524.3,1152.1 524.7,1152.2 525.1,1152.3 525.5,1152.4 525.8,1152.5 526.2,1152.6 526.6,1152.7 527.0,1152.8 527.3,1152.9 527.7,1152.9 528.1,1153.0 528.5,1153.1 528.9,1153.2 529.2,1153.3 529.6,1153.4 530.0,1153.5 530.4,1153.6 530.8,1153.7 531.1,1153.7 531.5,1153.8 531.9,1153.9 532.3,1154.0 532.7,1154.1 533.0,1154.2 533.4,1154.3 533.8,1154.3 534.2,1154.4 534.6,1154.5 534.9,1154.6 535.3,1154.7 535.7,1154.8 536.1,1154.9 536.4,1154.9 536.8,1155.0 537.2,1155.1 537.6,1155.2 538.0,1155.3 538.3,1155.4 538.7,1155.4 539.1,1155.5 539.5,1155.6 539.9,1155.7 540.2,1155.8 540.6,1155.9 541.0,1155.9 541.4,1156.0 541.8,1156.1 542.1,1156.2 542.5,1156.3 542.9,1156.3 543.3,1156.4 543.6,1156.5 544.0,1156.6 544.4,1156.7 544.8,1156.7 545.2,1156.8 545.5,1156.9 545.9,1157.0 546.3,1157.1 546.7,1157.1 547.1,1157.2 547.4,1157.3 547.8,1157.4 548.2,1157.5 548.6,1157.5 549.0,1157.6 549.3,1157.7 549.7,1157.8 550.1,1157.8 550.5,1157.9 550.9,1158.0 551.2,1158.1 551.6,1158.2 552.0,1158.2 552.4,1158.3 552.7,1158.4 553.1,1158.5 553.5,1158.5 553.9,1158.6 554.3,1158.7 554.6,1158.8 555.0,1158.8 555.4,1158.9 555.8,1159.0 556.2,1159.1 556.5,1159.2 556.9,1159.2 557.3,1159.3 557.7,1159.4 558.1,1159.5 558.4,1159.5 558.8,1159.6 559.2,1159.7 559.6,1159.8 560.0,1159.8 560.3,1159.9 560.7,1160.0 561.1,1160.0 561.5,1160.1 561.8,1160.2 562.2,1160.3 562.6,1160.3 563.0,1160.4 563.4,1160.5 563.7,1160.6 564.1,1160.6 564.5,1160.7 564.9,1160.8 565.3,1160.8 565.6,1160.9 566.0,1161.0 566.4,1161.1 566.8,1161.1 567.2,1161.2 567.5,1161.3 567.9,1161.4 568.3,1161.4 568.7,1161.5 569.1,1161.6 569.4,1161.6 569.8,1161.7 570.2,1161.8 570.6,1161.8 570.9,1161.9 571.3,1162.0 571.7,1162.1 572.1,1162.1 572.5,1162.2 572.8,1162.3 573.2,1162.3 573.6,1162.4 574.0,1162.5 574.4,1162.6 574.7,1162.6 575.1,1162.7 575.5,1162.8 575.9,1162.8 576.3,1162.9 576.6,1163.0 577.0,1163.0 577.4,1163.1 577.8,1163.2 578.1,1163.2 578.5,1163.3 578.9,1163.4 579.3,1163.4 579.7,1163.5 580.0,1163.6 580.4,1163.6 580.8,1163.7 581.2,1163.8 581.6,1163.9 581.9,1163.9 582.3,1164.0 582.7,1164.1 583.1,1164.1 583.5,1164.2 583.8,1164.3 584.2,1164.3 584.6,1164.4 585.0,1164.5 585.4,1164.5 585.7,1164.6 586.1,1164.7 586.5,1164.7 586.9,1164.8 587.2,1164.9 587.6,1164.9 588.0,1165.0 588.4,1165.1 588.8,1165.1 589.1,1165.2 589.5,1165.3 589.9,1165.3 590.3,1165.4 590.7,1165.4 591.0,1165.5 591.4,1165.6 591.8,1165.6 592.2,1165.7 592.6,1165.8 592.9,1165.8 593.3,1165.9 593.7,1166.0 594.1,1166.0 594.5,1166.1 594.8,1166.2 595.2,1166.2 595.6,1166.3 596.0,1166.4 596.3,1166.4 596.7,1166.5 597.1,1166.5 597.5,1166.6 597.9,1166.7 598.2,1166.7 598.6,1166.8 599.0,1166.9 599.4,1166.9 599.8,1167.0 600.1,1167.1 600.5,1167.1 600.9,1167.2 601.3,1167.2 601.7,1167.3 602.0,1167.4 602.4,1167.4 602.8,1167.5 603.2,1167.6 603.6,1167.6 603.9,1167.7 604.3,1167.7 604.7,1167.8 605.1,1167.9 605.4,1167.9 605.8,1168.0 606.2,1168.1 606.6,1168.1 607.0,1168.2 607.3,1168.2 607.7,1168.3 608.1,1168.4 608.5,1168.4 608.9,1168.5 609.2,1168.6 609.6,1168.6 610.0,1168.7 610.4,1168.7 610.8,1168.8 611.1,1168.9 611.5,1168.9 611.9,1169.0 612.3,1169.0 612.7,1169.1 613.0,1169.2 613.4,1169.2 613.8,1169.3 614.2,1169.3 614.5,1169.4 614.9,1169.5 615.3,1169.5 615.7,1169.6 616.1,1169.7 616.4,1169.7 616.8,1169.8 617.2,1169.8" stroke="#4b4b4b"/>
<polyline points="86.8,1134.3 87.2,1134.4 87.6,1134.5 87.9,1134.5 88.3,1134.6 88.7,1134.7 89.1,1134.7 89.5,1134.8 89.8,1134.9 90.2,1134.9 90.6,1135.0 91.0,1135.1 91.3,1135.2 91.7,1135.2 92.1,1135.3 92.5,1135.4 92.9,1135.4 93.2,1135.5 93.6,1135.6 94.0,1135.6 94.4,1135.7 94.8,1135.8 95.1,1135.8 95.5,1135.9 95.9,1136.0 96.3,1136.1 96.7,1136.1 97.0,1136.2 97.4,1136.3 97.8,1136.3 98.2,1136.4 98.6,1136.5 98.9,1136.5 99.3,1136.6 99.7,1136.7 100.1,1136.8 100.4,1136.8 100.8,1136.9 101.2,1137.0 101.6,1137.0 102.0,1137.1 102.3,1137.2 102.7,1137.2 103.1,1137.3 103.5,1137.4 103.9,1137.5 104.2,1137.5 104.6,1137.6 105.0,1137.7 105.4,1137.7 105.8,1137.8 106.1,1137.9 106.5,1137.9 106.9,1138.0 107.3,1138.1 107.7,1138.2 108.0,1138.2 108.4,1138.3 108.8,1138.4 109.2,1138.4 109.5,1138.5 109.9,1138.6 110.3,1138.6 110.7,1138.7 111.1,1138.8 111.4,1138.9 111.8,1138.9 112.2,1139.0 112.6,1139.1 113.0,1139.1 113.3,1139.2 113.7,1139.3 114.1,1139.4 114.5,1139.4 114.9,1139.5 115.2,1139.6 115.6,1139.6 116.0,1139.7 116.4,1139.8 116.8,1139.8 117.1,1139.9 117.5,1140.0 117.9,1140.1 118.3,1140.1 118.6,1140.2 119.0,1140.3 119.4,1140.3 119.8,1140.4 120.2,1140.5 120.5,1140.6 120.9,1140.6 121.3,1140.7 121.7,1140.8 122.1,1140.8 122.4,1140.9 122.8,1141.0 123.2,1141.1 123.6,1141.1 124.0,1141.2 124.3,1141.3 124.7,1141.3 125.1,1141.4 125.5,1141.5 125.9,1141.6 126.2,1141.6 126.6,1141.7 127.0,1141.8 127.4,1141.8 127.7,1141.9 128.1,1142.0 128.5,1142.1 128.9,1142.1 129.3,1142.2 129.6,1142.3 130.0,1142.3 130.4,1142.4 130.8,1142.5 131.2,1142.6 131.5,1142.6 131.9,1142.7 132.3,1142.8 132.7,1142.8 133.1,1142.9 133.4,1143.0 133.8,1143.1 134.2,1143.1 134.6,1143.2 134.9,1143.3 135.3,1143.3 135.7,1143.4 136.1,1143.5 136.5,1143.6 136.8,1143.6 137.2,1143.7 137.6,1143.8 138.0,1143.9 138.4,1143.9 138.7,1144.0 139.1,1144.1 139.5,1144.1 139.9,1144.2 140.3,1144.3 140.6,1144.4 141.0,1144.4 141.4,1144.5 141.8,1144.6 142.2,1144.7 142.5,1144.7 142.9,1144.8 143.3,1144.9 143.7,1144.9 144.0,1145.0 144.4,1145.1 144.8,1145.2 145.2,1145.2 145.6,1145.3 145.9,1145.4 146.3,1145.5 146.7,1145.5 147.1,1145.6 147.5,1145.7 147.8,1145.8 148.2,1145.8 148.6,1145.9 149.0,1146.0 149.4,1146.0 149.7,1146.1 150.1,1146.2 150.5,1146.3 150.9,1146.3 151.3,1146.4 151.6,1146.5 152.0,1146.6 152.4,1146.6 152.8,1146.7 153.1,1146.8 153.5,1146.9 153.9,1146.9 154.3,1147.0 154.7,1147.1 155.0,1147.2 155.4,1147.2 155.8,1147.3 156.2,1147.4 156.6,1147.5 156.9,1147.5 157.3,1147.6 157.7,1147.7 158.1,1147.8 158.5,1147.8 158.8,1147.9 159.2,1148.0 159.6,1148.1 160.0,1148.1 160.4,1148.2 160.7,1148.3 161.1,1148.4 161.5,1148.4 161.9,1148.5 162.2,1148.6 162.6,1148.7 163.0,1148.7 163.4,1148.8 163.8,1148.9 164.1,1149.0 164.5,1149.0 164.9,1149.1 165.3,1149.2 165.7,1149.3 166.0,1149.3 166.4,1149.4 166.8,1149.5 167.2,1149.6 167.6,1149.6 167.9,1149.7 168.3,1149.8 168.7,1149.9 169.1,1149.9 169.4,1150.0 169.8,1150.1 170.2,1150.2 170.6,1150.3 171.0,1150.3 171.3,1150.4 171.7,1150.5 172.1,1150.6 172.5,1150.6 172.9,1150.7 173.2,1150.8 173.6,1150.9 174.0,1150.9 174.4,1151.0 174.8,1151.1 175.1,1151.2 175.5,1151.3 175.9,1151.3 176.3,1151.4 176.7,1151.5 177.0,1151.6 177.4,1151.6 177.8,1151.7 178.2,1151.8 178.5,1151.9 178.9,1152.0 179.3,1152.0 179.7,1152.1 180.1,1152.2 180.4,1152.3 180.8,1152.3 181.2,1152.4 181.6,1152.5 182.0,1152.6 182.3,1152.7 182.7,1152.7 183.1,1152.8 183.5,1152.9 183.9,1153.0 184.2,1153.1 184.6,1153.1 185.0,1153.2 185.4,1153.3 185.8,1153.4 186.1,1153.5 186.5,1153.5 186.9,1153.6 187.3,1153.7 187.6,1153.8 188.0,1153.8 188.4,1153.9 188.8,1154.0 189.2,1154.1 189.5,1154.2 189.9,1154.2 190.3,1154.3 190.7,1154.4 191.1,1154.5 191.4,1154.6 191.8,1154.7 192.2,1154.7 192.6,1154.8 193.0,1154.9 193.3,1155.0 193.7,1155.1 194.1,1155.1 194.5,1155.2 194.9,1155.3 195.2,1155.4 195.6,1155.5 196.0,1155.5 196.4,1155.6 196.7,1155.7 197.1,1155.8 197.5,1155.9 197.9,1156.0 198.3,1156.0 198.6,1156.1 199.0,1156.2 199.4,1156.3 199.8,1156.4 200.2,1156.4 200.5,1156.5 200.9,1156.6 201.3,1156.7 201.7,1156.8 202.1,1156.9 202.4,1156.9 202.8,1157.0 203.2,1157.1 203.6,1157.2 204.0,1157.3 204.3,1157.4 204.7,1157.4 205.1,1157.5 205.5,1157.6 205.8,1157.7 206.2,1157.8 206.6,1157.9 207.0,1158.0 207.4,1158.0 207.7,1158.1 208.1,1158.2 208.5,1158.3 208.9,1158.4 209.3,1158.5 209.6,1158.5 210.0,1158.6 210.4,1158.7 210.8,1158.8 211.2,1158.9 211.5,1159.0 211.9,1159.1 212.3,1159.2 212.7,1159.2 213.0,1159.3 213.4,1159.4 213.8,1159.5 214.2,1159.6 214.6,1159.7 214.9,1159.8 215.3,1159.8 215.7,1159.9 216.1,1160.0 216.5,1160.1 216.8,1160.2 217.2,1160.3 217.6,1160.4 218.0,1160.5 218.4,1160.5 218.7,1160.6 219.1,1160.7 219.5,1160.8 219.9,1160.9 220.3,1161.0 220.6,1161.1 221.0,1161.2 221.4,1161.3 221.8,1161.3 222.1,1161.4 222.5,1161.5 222.9,1161.6 223.3,1161.7 223.7,1161.8 224.0,1161.9 224.4,1162.0 224.8,1162.1 225.2,1162.2 225.6,1162.3 225.9,1162.3 226.3,1162.4 226.7,1162.5 227.1,1162.6 227.5,1162.7 227.8,1162.8 228.2,1162.9 228.6,1163.0 229.0,1163.1 229.4,1163.2 229.7,1163.3 230.1,1163.4 230.5,1163.5 230.9,1163.5 231.2,1163.6 231.6,1163.7 232.0,1163.8 232.4,1163.9 232.8,1164.0 233.1,1164.1 233.5,1164.2 233.9,1164.3 234.3,1164.4 234.7,1164.5 235.0,1164.6 235.4,1164.7 235.8,1164.8 236.2,1164.9 236.6,1165.0 236.9,1165.1 237.3,1165.2 237.7,1165.3 238.1,1165.4 238.5,1165.5 238.8,1165.5 239.2,1165.6 239.6,1165.7 240.0,1165.8 240.3,1165.9 240.7,1166.0 241.1,1166.1 241.5,1166.2 241.9,1166.3 242.2,1166.4 242.6,1166.5 243.0,1166.6 243.4,1166.7 243.8,1166.8 244.1,1166.9 244.5,1167.0 244.9,1167.1 245.3,1167.2 245.7,1167.3 246.0,1167.4 246.4,1167.5 246.8,1167.6 247.2,1167.7 247.6,1167.9 247.9,1168.0 248.3,1168.1 248.7,1168.2 249.1,1168.3 249.4,1168.4 249.8,1168.5 250.2,1168.6 250.6,1168.7 251.0,1168.8 251.3,1168.9 251.7,1169.0 252.1,1169.1 252.5,1169.2 252.9,1169.3 253.2,1169.4 253.6,1169.5 254.0,1169.6 254.4,1169.7 254.8,1169.8 255.1,1170.0 255.5,1170.1 255.9,1170.2 256.3,1170.3 256.6,1170.4 257.0,1170.5 257.4,1170.6 257.8,1170.7 258.2,1170.8 258.5,1170.9 258.9,1171.1 259.3,1171.2 259.7,1171.3 260.1,1171.4 260.4,1171.5 260.8,1171.6 261.2,1171.7 261.6,1171.8 262.0,1172.0 262.3,1172.1 262.7,1172.2 263.1,1172.3 263.5,1172.4 263.9,1172.5 264.2,1172.6 264.6,1172.8 265.0,1172.9 265.4,1173.0 265.7,1173.1 266.1,1173.2 266.5,1173.3 266.9,1173.5 267.3,1173.6 267.6,1173.7 268.0,1173.8 268.4,1173.9 268.8,1174.1 269.2,1174.2 269.5,1174.3 269.9,1174.4 270.3,1174.5 270.7,1174.7 271.1,1174.8 271.4,1174.9 271.8,1175.0 272.2,1175.2 272.6,1175.3 273.0,1175.4 273.3,1175.5 273.7,1175.7 274.1,1175.8 274.5,1175.9 274.8,1176.0 275.2,1176.2 275.6,1176.3 276.0,1176.4 276.4,1176.5 276.7,1176.7 277.1,1176.8 277.5,1176.9 277.9,1177.1 278.3,1177.2 278.6,1177.3 279.0,1177.5 279.4,1177.6 279.8,1177.7 280.2,1177.9 280.5,1178.0 280.9,1178.1 281.3,1178.3 281.7,1178.4 282.1,1178.5 282.4,1178.7 282.8,1178.8 283.2,1179.0 283.6,1179.1 283.9,1179.2 284.3,1179.4 284.7,1179.5 285.1,1179.7 285.5,1179.8 285.8,1179.9 286.2,1180.1 286.6,1180.2 287.0,1180.4 287.4,1180.5 287.7,1180.7 288.1,1180.8 288.5,1181.0 288.9,1181.1 289.3,1181.3 289.6,1181.4 290.0,1181.6 290.4,1181.7 290.8,1181.9 291.1,1182.0 291.5,1182.2 291.9,1182.3 292.3,1182.5 292.7,1182.6 293.0,1182.8 293.4,1182.9 293.8,1183.1 294.2,1183.2 294.6,1183.4 294.9,1183.6 295.3,1183.7 295.7,1183.9 296.1,1184.0 296.5,1184.2 296.8,1184.4 297.2,1184.5 297.6,1184.7 298.0,1184.9 298.4,1185.0 298.7,1185.2 299.1,1185.4 299.5,1185.5 299.9,1185.7 300.2,1185.9 300.6,1186.1 301.0,1186.2 301.4,1186.4 301.8,1186.6 302.1,1186.8 302.5,1186.9 302.9,1187.1 303.3,1187.3 303.7,1187.5 304.0,1187.6 304.4,1187.8 304.8,1188.0 305.2,1188.2 305.6,1188.4 305.9,1188.6 306.3,1188.8 306.7,1188.9 307.1,1189.1 307.5,1189.3 307.8,1189.5 308.2,1189.7 308.6,1189.9 309.0,1190.1 309.3,1190.3 309.7,1190.5 310.1,1190.7 310.5,1190.9 310.9,1191.1 311.2,1191.3 311.6,1191.5 312.0,1191.7 312.4,1191.9 312.8,1192.1 313.1,1192.3 313.5,1192.6 313.9,1192.8 314.3,1193.0 314.7,1193.2 315.0,1193.4 315.4,1193.6 315.8,1193.9 316.2,1194.1 316.6,1194.3 316.9,1194.5 317.3,1194.7 317.7,1195.0 318.1,1195.2 318.4,1195.4 318.8,1195.7 319.2,1195.9 319.6,1196.1 320.0,1196.4 320.3,1196.6 320.7,1196.9 321.1,1197.1 321.5,1197.4 321.9,1197.6 322.2,1197.9 322.6,1198.1 323.0,1198.4 323.4,1198.6 323.8,1198.9 324.1,1199.1 324.5,1199.4 324.9,1199.7 325.3,1199.9 325.7,1200.2 326.0,1200.5 326.4,1200.7 326.8,1201.0 327.2,1201.3 327.5,1201.6 327.9,1201.8 328.3,1202.1 328.7,1202.4 329.1,1202.7 329.4,1203.0 329.8,1203.3 330.2,1203.6 330.6,1203.9 331.0,1204.2 331.3,1204.5 331.7,1204.8 332.1,1205.1 332.5,1205.4 332.9,1205.7 333.2,1206.1 333.6,1206.4 334.0,1206.7 334.4,1207.0 334.7,1207.4 335.1,1207.7 335.5,1208.0 335.9,1208.4 336.3,1208.7 336.6,1209.1 337.0,1209.4 337.4,1209.8 337.8,1210.1 338.2,1210.5 338.5,1210.8 338.9,1211.2 339.3,1211.6 339.7,1211.9 340.1,1212.3 340.4,1212.7 340.8,1213.1 341.2,1213.5 341.6,1213.9 342.0,1214.3 342.3,1214.7 342.7,1215.1 343.1,1215.5 343.5,1215.9 343.8,1216.3 344.2,1216.8 344.6,1217.2 345.0,1217.6 345.4,1218.1 345.7,1218.5 346.1,1219.0 346.5,1219.4 346.9,1219.9 347.3,1220.3 347.6,1220.8 348.0,1221.3 348.4,1221.8 348.8,1222.2 349.2,1222.7 349.5,1223.2 349.9,1223.7 350.3,1224.2 350.7,1224.7 351.1,1225.3 351.4,1225.8 351.8,1226.3 352.2,1226.9 352.6,1227.4 352.9,1228.0 353.3,1228.5 353.7,1229.1 354.1,1229.7 354.5,1230.2 354.8,1230.8 355.2,1231.4 355.6,1232.0 356.0,1232.6 356.4,1233.2 356.7,1233.9 357.1,1234.5 357.5,1235.1 357.9,1235.8 358.3,1236.4 358.6,1237.1 359.0,1237.8 359.4,1238.5 359.8,1239.2 360.2,1239.9 360.5,1240.6 360.9,1241.3 361.3,1242.0 361.7,1242.7 362.0,1243.5 362.4,1244.3 362.8,1245.0 363.2,1245.8 363.6,1246.6 363.9,1247.4 364.3,1248.2 364.7,1249.0 365.1,1249.8 365.5,1250.7 365.8,1251.5 366.2,1252.4 366.6,1253.2 367.0,1254.1 367.4,1255.0 367.7,1255.9 368.1,1256.9 368.5,1257.8 368.9,1258.7 369.3,1259.7 369.6,1260.6 370.0,1261.6 370.4,1262.6 370.8,1263.6 371.1,1264.6 371.5,1265.7 371.9,1266.7 372.3,1267.7 372.7,1268.8 373.0,1269.9 373.4,1271.0 373.8,1272.1 374.2,1273.2 374.6,1274.3 374.9,1275.4 375.3,1276.6 375.7,1277.7 376.1,1278.9 376.5,1280.1 376.8,1281.3 377.2,1282.5 377.6,1283.7 378.0,1284.9 378.3,1286.1 378.7,1287.3 379.1,1288.6 379.5,1289.8 379.9,1291.1 380.2,1292.3 380.6,1293.6 381.0,1294.8 381.4,1296.1 381.8,1297.4 382.1,1298.6 382.5,1299.9 382.9,1301.2 383.3,1302.4 383.7,1303.7 384.0,1304.9 384.4,1306.1 384.8,1307.3 385.2,1308.5 385.6,1309.7 385.9,1310.9 386.3,1312.0 386.7,1313.1 387.1,1314.2 387.4,1315.3 387.8,1316.3 388.2,1317.3 388.6,1318.2 389.0,1319.1 389.3,1320.0 389.7,1320.8 390.1,1321.6 390.5,1322.2 390.9,1322.9 391.2,1323.5 391.6,1324.0 392.0,1324.4 392.4,1324.7 392.8,1325.0 393.1,1325.2 393.5,1325.3 393.9,1325.3 394.3,1325.3 394.7,1325.1 395.0,1324.8 395.4,1324.5 395.8,1324.0 396.2,1323.5 396.5,1322.8 396.9,1322.0 397.3,1321.2 397.7,1320.2 398.1,1319.1 398.4,1318.0 398.8,1316.7 399.2,1315.4 399.6,1313.9 400.0,1312.4 400.3,1310.8 400.7,1309.0 401.1,1307.3 401.5,1305.4 401.9,1303.4 402.2,1301.4 402.6,1299.4 403.0,1297.2 403.4,1295.0 403.8,1292.8 404.1,1290.5 404.5,1288.2 404.9,1285.8 405.3,1283.4 405.6,1281.0 406.0,1278.6 406.4,1276.1 406.8,1273.6 407.2,1271.2 407.5,1268.7 407.9,1266.2 408.3,1263.7 408.7,1261.2 409.1,1258.8 409.4,1256.3 409.8,1253.9 410.2,1251.4 410.6,1249.1 411.0,1246.7 411.3,1244.3 411.7,1242.0 412.1,1239.7 412.5,1237.5 412.9,1235.3 413.2,1233.1 413.6,1230.9 414.0,1228.8 414.4,1226.8 414.7,1224.7 415.1,1222.7 415.5,1220.8 415.9,1218.9 416.3,1217.0 416.6,1215.2 417.0,1213.4 417.4,1211.7 417.8,1210.0 418.2,1208.3 418.5,1206.7 418.9,1205.1 419.3,1203.6 419.7,1202.1 420.1,1200.7 420.4,1199.3 420.8,1197.9 421.2,1196.6 421.6,1195.3 421.9,1194.0 422.3,1192.8 422.7,1191.6 423.1,1190.4 423.5,1189.3 423.8,1188.2 424.2,1187.2 424.6,1186.2 425.0,1185.2 425.4,1184.2 425.7,1183.3 426.1,1182.4 426.5,1181.6 426.9,1180.7 427.3,1179.9 427.6,1179.1 428.0,1178.4 428.4,1177.6 428.8,1176.9 429.2,1176.3 429.5,1175.6 429.9,1175.0 430.3,1174.3 430.7,1173.7 431.0,1173.2 431.4,1172.6 431.8,1172.1 432.2,1171.6 432.6,1171.1 432.9,1170.6 433.3,1170.1 433.7,1169.7 434.1,1169.3 434.5,1168.8 434.8,1168.4 435.2,1168.1 435.6,1167.7 436.0,1167.3 436.4,1167.0 436.7,1166.7 437.1,1166.4 437.5,1166.1 437.9,1165.8 438.3,1165.5 438.6,1165.2 439.0,1165.0 439.4,1164.7 439.8,1164.5 440.1,1164.2 440.5,1164.0 440.9,1163.8 441.3,1163.6 441.7,1163.4 442.0,1163.3 442.4,1163.1 442.8,1162.9 443.2,1162.8 443.6,1162.6 443.9,1162.5 444.3,1162.3 444.7,1162.2 445.1,1162.1 445.5,1162.0 445.8,1161.8 446.2,1161.7 446.6,1161.6 447.0,1161.6 447.4,1161.5 447.7,1161.4 448.1,1161.3 448.5,1161.2 448.9,1161.2 449.2,1161.1 449.6,1161.0 450.0,1161.0 450.4,1160.9 450.8,1160.9 451.1,1160.9 451.5,1160.8 451.9,1160.8 452.3,1160.8 452.7,1160.7 453.0,1160.7 453.4,1160.7 453.8,1160.7 454.2,1160.6 454.6,1160.6 454.9,1160.6 455.3,1160.6 455.7,1160.6 456.1,1160.6 456.4,1160.6 456.8,1160.6 457.2,1160.6 457.6,1160.6 458.0,1160.7 458.3,1160.7 458.7,1160.7 459.1,1160.7 459.5,1160.7 459.9,1160.8 460.2,1160.8 460.6,1160.8 461.0,1160.8 461.4,1160.9 461.8,1160.9 462.1,1160.9 462.5,1161.0 462.9,1161.0 463.3,1161.0 463.7,1161.1 464.0,1161.1 464.4,1161.2 464.8,1161.2 465.2,1161.2 465.5,1161.3 465.9,1161.3 466.3,1161.4 466.7,1161.4 467.1,1161.5 467.4,1161.5 467.8,1161.6 468.2,1161.6 468.6,1161.7 469.0,1161.7 469.3,1161.8 469.7,1161.9 470.1,1161.9 470.5,1162.0 470.9,1162.0 471.2,1162.1 471.6,1162.2 472.0,1162.2 472.4,1162.3 472.8,1162.3 473.1,1162.4 473.5,1162.5 473.9,1162.5 474.3,1162.6 474.6,1162.7 475.0,1162.7 475.4,1162.8 475.8,1162.9 476.2,1162.9 476.5,1163.0 476.9,1163.1 477.3,1163.1 477.7,1163.2 478.1,1163.3 478.4,1163.3 478.8,1163.4 479.2,1163.5 479.6,1163.6 480.0,1163.6 480.3,1163.7 480.7,1163.8 481.1,1163.8 481.5,1163.9 481.9,1164.0 482.2,1164.1 482.6,1164.1 483.0,1164.2 483.4,1164.3 483.7,1164.4 484.1,1164.4 484.5,1164.5 484.9,1164.6 485.3,1164.7 485.6,1164.7 486.0,1164.8 486.4,1164.9 486.8,1165.0 487.2,1165.0 487.5,1165.1 487.9,1165.2 488.3,1165.3 488.7,1165.3 489.1,1165.4 489.4,1165.5 489.8,1165.6 490.2,1165.6 490.6,1165.7 491.0,1165.8 491.3,1165.9 491.7,1166.0 492.1,1166.0 492.5,1166.1 492.8,1166.2 493.2,1166.3 493.6,1166.3 494.0,1166.4 494.4,1166.5 494.7,1166.6 495.1,1166.7 495.5,1166.7 495.9,1166.8 496.3,1166.9 496.6,1167.0 497.0,1167.0 497.4,1167.1 497.8,1167.2 498.2,1167.3 498.5,1167.4 498.9,1167.4 499.3,1167.5 499.7,1167.6 500.0,1167.7 500.4,1167.7 500.8,1167.8 501.2,1167.9 501.6,1168.0 501.9,1168.1 502.3,1168.1 502.7,1168.2 503.1,1168.3 503.5,1168.4 503.8,1168.4 504.2,1168.5 504.6,1168.6 505.0,1168.7 505.4,1168.8 505.7,1168.8 506.1,1168.9 506.5,1169.0 506.9,1169.1 507.3,1169.1 507.6,1169.2 508.0,1169.3 508.4,1169.4 508.8,1169.5 509.1,1169.5 509.5,1169.6 509.9,1169.7 510.3,1169.8 510.7,1169.8 511.0,1169.9 511.4,1170.0 511.8,1170.1 512.2,1170.2 512.6,1170.2 512.9,1170.3 513.3,1170.4 513.7,1170.5 514.1,1170.5 514.5,1170.6 514.8,1170.7 515.2,1170.8 515.6,1170.8 516.0,1170.9 516.4,1171.0 516.7,1171.1 517.1,1171.1 517.5,1171.2 517.9,1171.3 518.2,1171.4 518.6,1171.4 519.0,1171.5 519.4,1171.6 519.8,1171.7 520.1,1171.7 520.5,1171.8 520.9,1171.9 521.3,1172.0 521.7,1172.1 522.0,1172.1 522.4,1172.2 522.8,1172.3 523.2,1172.3 523.6,1172.4 523.9,1172.5 524.3,1172.6 524.7,1172.6 525.1,1172.7 525.5,1172.8 525.8,1172.9 526.2,1172.9 526.6,1173.0 527.0,1173.1 527.3,1173.2 527.7,1173.2 528.1,1173.3 528.5,1173.4 528.9,1173.5 529.2,1173.5 529.6,1173.6 530.0,1173.7 530.4,1173.8 530.8,1173.8 531.1,1173.9 531.5,1174.0 531.9,1174.0 532.3,1174.1 532.7,1174.2 533.0,1174.3 533.4,1174.3 533.8,1174.4 534.2,1174.5 534.6,1174.6 534.9,1174.6 535.3,1174.7 535.7,1174.8 536.1,1174.8 536.4,1174.9 536.8,1175.0 537.2,1175.1 537.6,1175.1 538.0,1175.2 538.3,1175.3 538.7,1175.3 539.1,1175.4 539.5,1175.5 539.9,1175.6 540.2,1175.6 540.6,1175.7 541.0,1175.8 541.4,1175.8 541.8,1175.9 542.1,1176.0 542.5,1176.1 542.9,1176.1 543.3,1176.2 543.6,1176.3 544.0,1176.3 544.4,1176.4 544.8,1176.5 545.2,1176.5 545.5,1176.6 545.9,1176.7 546.3,1176.8 546.7,1176.8 547.1,1176.9 547.4,1177.0 547.8,1177.0 548.2,1177.1 548.6,1177.2 549.0,1177.2 549.3,1177.3 549.7,1177.4 550.1,1177.4 550.5,1177.5 550.9,1177.6 551.2,1177.7 551.6,1177.7 552.0,1177.8 552.4,1177.9 552.7,1177.9 553.1,1178.0 553.5,1178.1 553.9,1178.1 554.3,1178.2 554.6,1178.3 555.0,1178.3 555.4,1178.4 555.8,1178.5 556.2,1178.5 556.5,1178.6 556.9,1178.7 557.3,1178.7 557.7,1178.8 558.1,1178.9 558.4,1178.9 558.8,1179.0 559.2,1179.1 559.6,1179.1 560.0,1179.2 560.3,1179.3 560.7,1179.3 561.1,1179.4 561.5,1179.5 561.8,1179.5 562.2,1179.6 562.6,1179.7 563.0,1179.7 563.4,1179.8 563.7,1179.9 564.1,1179.9 564.5,1180.0 564.9,1180.1 565.3,1180.1 565.6,1180.2 566.0,1180.3 566.4,1180.3 566.8,1180.4 567.2,1180.5 567.5,1180.5 567.9,1180.6 568.3,1180.7 568.7,1180.7 569.1,1180.8 569.4,1180.9 569.8,1180.9 570.2,1181.0 570.6,1181.0 570.9,1181.1 571.3,1181.2 571.7,1181.2 572.1,1181.3 572.5,1181.4 572.8,1181.4 573.2,1181.5 573.6,1181.6 574.0,1181.6 574.4,1181.7 574.7,1181.8 575.1,1181.8 575.5,1181.9 575.9,1181.9 576.3,1182.0 576.6,1182.1 577.0,1182.1 577.4,1182.2 577.8,1182.3 578.1,1182.3 578.5,1182.4 578.9,1182.5 579.3,1182.5 579.7,1182.6 580.0,1182.6 580.4,1182.7 580.8,1182.8 581.2,1182.8 581.6,1182.9 581.9,1183.0 582.3,1183.0 582.7,1183.1 583.1,1183.1 583.5,1183.2 583.8,1183.3 584.2,1183.3 584.6,1183.4 585.0,1183.5 585.4,1183.5 585.7,1183.6 586.1,1183.6 586.5,1183.7 586.9,1183.8 587.2,1183.8 587.6,1183.9 588.0,1184.0 588.4,1184.0 588.8,1184.1 589.1,1184.1 589.5,1184.2 589.9,1184.3 590.3,1184.3 590.7,1184.4 591.0,1184.4 591.4,1184.5 591.8,1184.6 592.2,1184.6 592.6,1184.7 592.9,1184.8 593.3,1184.8 593.7,1184.9 594.1,1184.9 594.5,1185.0 594.8,1185.1 595.2,1185.1 595.6,1185.2 596.0,1185.2 596.3,1185.3 596.7,1185.4 597.1,1185.4 597.5,1185.5 597.9,1185.5 598.2,1185.6 598.6,1185.7 599.0,1185.7 599.4,1185.8 599.8,1185.8 600.1,1185.9 600.5,1186.0 600.9,1186.0 601.3,1186.1 601.7,1186.1 602.0,1186.2 602.4,1186.3 602.8,1186.3 603.2,1186.4 603.6,1186.4 603.9,1186.5 604.3,1186.6 604.7,1186.6 605.1,1186.7 605.4,1186.7 605.8,1186.8 606.2,1186.9 606.6,1186.9 607.0,1187.0 607.3,1187.0 607.7,1187.1 608.1,1187.1 608.5,1187.2 608.9,1187.3 609.2,1187.3 609.6,1187.4 610.0,1187.4 610.4,1187.5 610.8,1187.6 611.1,1187.6 611.5,1187.7 611.9,1187.7 612.3,1187.8 612.7,1187.8 613.0,1187.9 613.4,1188.0 613.8,1188.0 614.2,1188.1 614.5,1188.1 614.9,1188.2 615.3,1188.3 615.7,1188.3 616.1,1188.4 616.4,1188.4 616.8,1188.5 617.2,1188.5" stroke="#ee3a43"/>
<polyline points="86.8,1144.2 87.2,1144.3 87.6,1144.3 87.9,1144.4 88.3,1144.5 88.7,1144.5 89.1,1144.6 89.5,1144.7 89.8,1144.7 90.2,1144.8 90.6,1144.9 91.0,1144.9 91.3,1145.0 91.7,1145.1 92.1,1145.2 92.5,1145.2 92.9,1145.3 93.2,1145.4 93.6,1145.4 94.0,1145.5 94.4,1145.6 94.8,1145.6 95.1,1145.7 95.5,1145.8 95.9,1145.8 96.3,1145.9 96.7,1146.0 97.0,1146.0 97.4,1146.1 97.8,1146.2 98.2,1146.3 98.6,1146.3 98.9,1146.4 99.3,1146.5 99.7,1146.5 100.1,1146.6 100.4,1146.7 100.8,1146.7 101.2,1146.8 101.6,1146.9 102.0,1146.9 102.3,1147.0 102.7,1147.1 103.1,1147.2 103.5,1147.2 103.9,1147.3 104.2,1147.4 104.6,1147.4 105.0,1147.5 105.4,1147.6 105.8,1147.6 106.1,1147.7 106.5,1147.8 106.9,1147.9 107.3,1147.9 107.7,1148.0 108.0,1148.1 108.4,1148.1 108.8,1148.2 109.2,1148.3 109.5,1148.3 109.9,1148.4 110.3,1148.5 110.7,1148.6 111.1,1148.6 111.4,1148.7 111.8,1148.8 112.2,1148.8 112.6,1148.9 113.0,1149.0 113.3,1149.0 113.7,1149.1 114.1,1149.2 114.5,1149.3 114.9,1149.3 115.2,1149.4 115.6,1149.5 116.0,1149.5 116.4,1149.6 116.8,1149.7 117.1,1149.8 117.5,1149.8 117.9,1149.9 118.3,1150.0 118.6,1150.0 119.0,1150.1 119.4,1150.2 119.8,1150.2 120.2,1150.3 120.5,1150.4 120.9,1150.5 121.3,1150.5 121.7,1150.6 122.1,1150.7 122.4,1150.7 122.8,1150.8 123.2,1150.9 123.6,1151.0 124.0,1151.0 124.3,1151.1 124.7,1151.2 125.1,1151.2 125.5,1151.3 125.9,1151.4 126.2,1151.5 126.6,1151.5 127.0,1151.6 127.4,1151.7 127.7,1151.8 128.1,1151.8 128.5,1151.9 128.9,1152.0 129.3,1152.0 129.6,1152.1 130.0,1152.2 130.4,1152.3 130.8,1152.3 131.2,1152.4 131.5,1152.5 131.9,1152.5 132.3,1152.6 132.7,1152.7 133.1,1152.8 133.4,1152.8 133.8,1152.9 134.2,1153.0 134.6,1153.1 134.9,1153.1 135.3,1153.2 135.7,1153.3 136.1,1153.3 136.5,1153.4 136.8,1153.5 137.2,1153.6 137.6,1153.6 138.0,1153.7 138.4,1153.8 138.7,1153.9 139.1,1153.9 139.5,1154.0 139.9,1154.1 140.3,1154.2 140.6,1154.2 141.0,1154.3 141.4,1154.4 141.8,1154.4 142.2,1154.5 142.5,1154.6 142.9,1154.7 143.3,1154.7 143.7,1154.8 144.0,1154.9 144.4,1155.0 144.8,1155.0 145.2,1155.1 145.6,1155.2 145.9,1155.3 146.3,1155.3 146.7,1155.4 147.1,1155.5 147.5,1155.6 147.8,1155.6 148.2,1155.7 148.6,1155.8 149.0,1155.9 149.4,1155.9 149.7,1156.0 150.1,1156.1 150.5,1156.2 150.9,1156.2 151.3,1156.3 151.6,1156.4 152.0,1156.5 152.4,1156.5 152.8,1156.6 153.1,1156.7 153.5,1156.8 153.9,1156.8 154.3,1156.9 154.7,1157.0 155.0,1157.1 155.4,1157.1 155.8,1157.2 156.2,1157.3 156.6,1157.4 156.9,1157.4 157.3,1157.5 157.7,1157.6 158.1,1157.7 158.5,1157.7 158.8,1157.8 159.2,1157.9 159.6,1158.0 160.0,1158.1 160.4,1158.1 160.7,1158.2 161.1,1158.3 161.5,1158.4 161.9,1158.4 162.2,1158.5 162.6,1158.6 163.0,1158.7 163.4,1158.7 163.8,1158.8 164.1,1158.9 164.5,1159.0 164.9,1159.1 165.3,1159.1 165.7,1159.2 166.0,1159.3 166.4,1159.4 166.8,1159.4 167.2,1159.5 167.6,1159.6 167.9,1159.7 168.3,1159.8 168.7,1159.8 169.1,1159.9 169.4,1160.0 169.8,1160.1 170.2,1160.1 170.6,1160.2 171.0,1160.3 171.3,1160.4 171.7,1160.5 172.1,1160.5 172.5,1160.6 172.9,1160.7 173.2,1160.8 173.6,1160.9 174.0,1160.9 174.4,1161.0 174.8,1161.1 175.1,1161.2 175.5,1161.3 175.9,1161.3 176.3,1161.4 176.7,1161.5 177.0,1161.6 177.4,1161.7 177.8,1161.7 178.2,1161.8 178.5,1161.9 178.9,1162.0 179.3,1162.1 179.7,1162.1 180.1,1162.2 180.4,1162.3 180.8,1162.4 181.2,1162.5 181.6,1162.5 182.0,1162.6 182.3,1162.7 182.7,1162.8 183.1,1162.9 183.5,1162.9 183.9,1163.0 184.2,1163.1 184.6,1163.2 185.0,1163.3 185.4,1163.4 185.8,1163.4 186.1,1163.5 186.5,1163.6 186.9,1163.7 187.3,1163.8 187.6,1163.9 188.0,1163.9 188.4,1164.0 188.8,1164.1 189.2,1164.2 189.5,1164.3 189.9,1164.3 190.3,1164.4 190.7,1164.5 191.1,1164.6 191.4,1164.7 191.8,1164.8 192.2,1164.8 192.6,1164.9 193.0,1165.0 193.3,1165.1 193.7,1165.2 194.1,1165.3 194.5,1165.4 194.9,1165.4 195.2,1165.5 195.6,1165.6 196.0,1165.7 196.4,1165.8 196.7,1165.9 197.1,1165.9 197.5,1166.0 197.9,1166.1 198.3,1166.2 198.6,1166.3 199.0,1166.4 199.4,1166.5 199.8,1166.5 200.2,1166.6 200.5,1166.7 200.9,1166.8 201.3,1166.9 201.7,1167.0 202.1,1167.1 202.4,1167.2 202.8,1167.2 203.2,1167.3 203.6,1167.4 204.0,1167.5 204.3,1167.6 204.7,1167.7 205.1,1167.8 205.5,1167.9 205.8,1167.9 206.2,1168.0 206.6,1168.1 207.0,1168.2 207.4,1168.3 207.7,1168.4 208.1,1168.5 208.5,1168.6 208.9,1168.7 209.3,1168.7 209.6,1168.8 210.0,1168.9 210.4,1169.0 210.8,1169.1 211.2,1169.2 211.5,1169.3 211.9,1169.4 212.3,1169.5 212.7,1169.6 213.0,1169.6 213.4,1169.7 213.8,1169.8 214.2,1169.9 214.6,1170.0 214.9,1170.1 215.3,1170.2 215.7,1170.3 216.1,1170.4 216.5,1170.5 216.8,1170.6 217.2,1170.7 217.6,1170.7 218.0,1170.8 218.4,1170.9 218.7,1171.0 219.1,1171.1 219.5,1171.2 219.9,1171.3 220.3,1171.4 220.6,1171.5 221.0,1171.6 221.4,1171.7 221.8,1171.8 222.1,1171.9 222.5,1172.0 222.9,1172.1 223.3,1172.2 223.7,1172.2 224.0,1172.3 224.4,1172.4 224.8,1172.5 225.2,1172.6 225.6,1172.7 225.9,1172.8 226.3,1172.9 226.7,1173.0 227.1,1173.1 227.5,1173.2 227.8,1173.3 228.2,1173.4 228.6,1173.5 229.0,1173.6 229.4,1173.7 229.7,1173.8 230.1,1173.9 230.5,1174.0 230.9,1174.1 231.2,1174.2 231.6,1174.3 232.0,1174.4 232.4,1174.5 232.8,1174.6 233.1,1174.7 233.5,1174.8 233.9,1174.9 234.3,1175.0 234.7,1175.1 235.0,1175.2 235.4,1175.3 235.8,1175.4 236.2,1175.5 236.6,1175.6 236.9,1175.7 237.3,1175.8 237.7,1175.9 238.1,1176.0 238.5,1176.1 238.8,1176.2 239.2,1176.3 239.6,1176.4 240.0,1176.5 240.3,1176.6 240.7,1176.7 241.1,1176.8 241.5,1177.0 241.9,1177.1 242.2,1177.2 242.6,1177.3 243.0,1177.4 243.4,1177.5 243.8,1177.6 244.1,1177.7 244.5,1177.8 244.9,1177.9 245.3,1178.0 245.7,1178.1 246.0,1178.2 246.4,1178.3 246.8,1178.5 247.2,1178.6 247.6,1178.7 247.9,1178.8 248.3,1178.9 248.7,1179.0 249.1,1179.1 249.4,1179.2 249.8,1179.3 250.2,1179.5 250.6,1179.6 251.0,1179.7 251.3,1179.8 251.7,1179.9 252.1,1180.0 252.5,1180.1 252.9,1180.2 253.2,1180.4 253.6,1180.5 254.0,1180.6 254.4,1180.7 254.8,1180.8 255.1,1180.9 255.5,1181.0 255.9,1181.2 256.3,1181.3 256.6,1181.4 257.0,1181.5 257.4,1181.6 257.8,1181.8 258.2,1181.9 258.5,1182.0 258.9,1182.1 259.3,1182.2 259.7,1182.3 260.1,1182.5 260.4,1182.6 260.8,1182.7 261.2,1182.8 261.6,1183.0 262.0,1183.1 262.3,1183.2 262.7,1183.3 263.1,1183.4 263.5,1183.6 263.9,1183.7 264.2,1183.8 264.6,1183.9 265.0,1184.1 265.4,1184.2 265.7,1184.3 266.1,1184.4 266.5,1184.6 266.9,1184.7 267.3,1184.8 267.6,1185.0 268.0,1185.1 268.4,1185.2 268.8,1185.3 269.2,1185.5 269.5,1185.6 269.9,1185.7 270.3,1185.9 270.7,1186.0 271.1,1186.1 271.4,1186.3 271.8,1186.4 272.2,1186.5 272.6,1186.7 273.0,1186.8 273.3,1186.9 273.7,1187.1 274.1,1187.2 274.5,1187.3 274.8,1187.5 275.2,1187.6 275.6,1187.8 276.0,1187.9 276.4,1188.0 276.7,1188.2 277.1,1188.3 277.5,1188.5 277.9,1188.6 278.3,1188.7 278.6,1188.9 279.0,1189.0 279.4,1189.2 279.8,1189.3 280.2,1189.5 280.5,1189.6 280.9,1189.7 281.3,1189.9 281.7,1190.0 282.1,1190.2 282.4,1190.3 282.8,1190.5 283.2,1190.6 283.6,1190.8 283.9,1190.9 284.3,1191.1 284.7,1191.2 285.1,1191.4 285.5,1191.5 285.8,1191.7 286.2,1191.9 286.6,1192.0 287.0,1192.2 287.4,1192.3 287.7,1192.5 288.1,1192.6 288.5,1192.8 288.9,1193.0 289.3,1193.1 289.6,1193.3 290.0,1193.4 290.4,1193.6 290.8,1193.8 291.1,1193.9 291.5,1194.1 291.9,1194.3 292.3,1194.4 292.7,1194.6 293.0,1194.8 293.4,1194.9 293.8,1195.1 294.2,1195.3 294.6,1195.5 294.9,1195.6 295.3,1195.8 295.7,1196.0 296.1,1196.1 296.5,1196.3 296.8,1196.5 297.2,1196.7 297.6,1196.9 298.0,1197.0 298.4,1197.2 298.7,1197.4 299.1,1197.6 299.5,1197.8 299.9,1197.9 300.2,1198.1 300.6,1198.3 301.0,1198.5 301.4,1198.7 301.8,1198.9 302.1,1199.1 302.5,1199.3 302.9,1199.5 303.3,1199.6 303.7,1199.8 304.0,1200.0 304.4,1200.2 304.8,1200.4 305.2,1200.6 305.6,1200.8 305.9,1201.0 306.3,1201.2 306.7,1201.4 307.1,1201.6 307.5,1201.8 307.8,1202.1 308.2,1202.3 308.6,1202.5 309.0,1202.7 309.3,1202.9 309.7,1203.1 310.1,1203.3 310.5,1203.5 310.9,1203.8 311.2,1204.0 311.6,1204.2 312.0,1204.4 312.4,1204.6 312.8,1204.9 313.1,1205.1 313.5,1205.3 313.9,1205.5 314.3,1205.8 314.7,1206.0 315.0,1206.2 315.4,1206.5 315.8,1206.7 316.2,1206.9 316.6,1207.2 316.9,1207.4 317.3,1207.6 317.7,1207.9 318.1,1208.1 318.4,1208.4 318.8,1208.6 319.2,1208.9 319.6,1209.1 320.0,1209.4 320.3,1209.6 320.7,1209.9 321.1,1210.1 321.5,1210.4 321.9,1210.7 322.2,1210.9 322.6,1211.2 323.0,1211.5 323.4,1211.7 323.8,1212.0 324.1,1212.3 324.5,1212.5 324.9,1212.8 325.3,1213.1 325.7,1213.4 326.0,1213.7 326.4,1214.0 326.8,1214.2 327.2,1214.5 327.5,1214.8 327.9,1215.1 328.3,1215.4 328.7,1215.7 329.1,1216.0 329.4,1216.3 329.8,1216.6 330.2,1216.9 330.6,1217.2 331.0,1217.5 331.3,1217.8 331.7,1218.2 332.1,1218.5 332.5,1218.8 332.9,1219.1 333.2,1219.4 333.6,1219.8 334.0,1220.1 334.4,1220.4 334.7,1220.8 335.1,1221.1 335.5,1221.4 335.9,1221.8 336.3,1222.1 336.6,1222.5 337.0,1222.8 337.4,1223.2 337.8,1223.5 338.2,1223.9 338.5,1224.3 338.9,1224.6 339.3,1225.0 339.7,1225.4 340.1,1225.7 340.4,1226.1 340.8,1226.5 341.2,1226.9 341.6,1227.3 342.0,1227.7 342.3,1228.0 342.7,1228.4 343.1,1228.8 343.5,1229.2 343.8,1229.7 344.2,1230.1 344.6,1230.5 345.0,1230.9 345.4,1231.3 345.7,1231.7 346.1,1232.2 346.5,1232.6 346.9,1233.0 347.3,1233.4 347.6,1233.9 348.0,1234.3 348.4,1234.8 348.8,1235.2 349.2,1235.7 349.5,1236.1 349.9,1236.6 350.3,1237.1 350.7,1237.5 351.1,1238.0 351.4,1238.5 351.8,1239.0 352.2,1239.4 352.6,1239.9 352.9,1240.4 353.3,1240.9 353.7,1241.4 354.1,1241.9 354.5,1242.4 354.8,1242.9 355.2,1243.4 355.6,1244.0 356.0,1244.5 356.4,1245.0 356.7,1245.5 357.1,1246.1 357.5,1246.6 357.9,1247.1 358.3,1247.7 358.6,1248.2 359.0,1248.8 359.4,1249.3 359.8,1249.9 360.2,1250.5 360.5,1251.0 360.9,1251.6 361.3,1252.2 361.7,1252.8 362.0,1253.3 362.4,1253.9 362.8,1254.5 363.2,1255.1 363.6,1255.7 363.9,1256.3 364.3,1256.9 364.7,1257.5 365.1,1258.1 365.5,1258.7 365.8,1259.3 366.2,1259.9 366.6,1260.5 367.0,1261.2 367.4,1261.8 367.7,1262.4 368.1,1263.0 368.5,1263.6 368.9,1264.3 369.3,1264.9 369.6,1265.5 370.0,1266.1 370.4,1266.8 370.8,1267.4 371.1,1268.0 371.5,1268.7 371.9,1269.3 372.3,1269.9 372.7,1270.5 373.0,1271.2 373.4,1271.8 373.8,1272.4 374.2,1273.0 374.6,1273.6 374.9,1274.3 375.3,1274.9 375.7,1275.5 376.1,1276.1 376.5,1276.7 376.8,1277.3 377.2,1277.8 377.6,1278.4 378.0,1279.0 378.3,1279.6 378.7,1280.1 379.1,1280.7 379.5,1281.2 379.9,1281.7 380.2,1282.3 380.6,1282.8 381.0,1283.3 381.4,1283.8 381.8,1284.2 382.1,1284.7 382.5,1285.2 382.9,1285.6 383.3,1286.0 383.7,1286.4 384.0,1286.8 384.4,1287.2 384.8,1287.5 385.2,1287.9 385.6,1288.2 385.9,1288.5 386.3,1288.8 386.7,1289.0 387.1,1289.3 387.4,1289.5 387.8,1289.7 388.2,1289.8 388.6,1290.0 389.0,1290.1 389.3,1290.2 389.7,1290.3 390.1,1290.3 390.5,1290.3 390.9,1290.3 391.2,1290.3 391.6,1290.2 392.0,1290.1 392.4,1290.0 392.8,1289.9 393.1,1289.7 393.5,1289.5 393.9,1289.2 394.3,1289.0 394.7,1288.7 395.0,1288.4 395.4,1288.0 395.8,1287.6 396.2,1287.2 396.5,1286.8 396.9,1286.3 397.3,1285.8 397.7,1285.3 398.1,1284.8 398.4,1284.2 398.8,1283.6 399.2,1282.9 399.6,1282.3 400.0,1281.6 400.3,1280.9 400.7,1280.2 401.1,1279.4 401.5,1278.6 401.9,1277.8 402.2,1277.0 402.6,1276.2 403.0,1275.3 403.4,1274.5 403.8,1273.6 404.1,1272.6 404.5,1271.7 404.9,1270.8 405.3,1269.8 405.6,1268.8 406.0,1267.9 406.4,1266.9 406.8,1265.9 407.2,1264.8 407.5,1263.8 407.9,1262.8 408.3,1261.7 408.7,1260.7 409.1,1259.6 409.4,1258.6 409.8,1257.5 410.2,1256.5 410.6,1255.4 411.0,1254.3 411.3,1253.3 411.7,1252.2 412.1,1251.1 412.5,1250.1 412.9,1249.0 413.2,1248.0 413.6,1246.9 414.0,1245.9 414.4,1244.8 414.7,1243.8 415.1,1242.7 415.5,1241.7 415.9,1240.7 416.3,1239.7 416.6,1238.7 417.0,1237.7 417.4,1236.7 417.8,1235.7 418.2,1234.7 418.5,1233.8 418.9,1232.8 419.3,1231.9 419.7,1231.0 420.1,1230.0 420.4,1229.1 420.8,1228.2 421.2,1227.3 421.6,1226.5 421.9,1225.6 422.3,1224.8 422.7,1223.9 423.1,1223.1 423.5,1222.3 423.8,1221.5 424.2,1220.7 424.6,1219.9 425.0,1219.1 425.4,1218.4 425.7,1217.6 426.1,1216.9 426.5,1216.2 426.9,1215.5 427.3,1214.8 427.6,1214.1 428.0,1213.4 428.4,1212.7 428.8,1212.1 429.2,1211.5 429.5,1210.8 429.9,1210.2 430.3,1209.6 430.7,1209.0 431.0,1208.4 431.4,1207.9 431.8,1207.3 432.2,1206.8 432.6,1206.2 432.9,1205.7 433.3,1205.2 433.7,1204.7 434.1,1204.2 434.5,1203.7 434.8,1203.2 435.2,1202.7 435.6,1202.3 436.0,1201.8 436.4,1201.4 436.7,1201.0 437.1,1200.6 437.5,1200.1 437.9,1199.7 438.3,1199.3 438.6,1199.0 439.0,1198.6 439.4,1198.2 439.8,1197.9 440.1,1197.5 440.5,1197.2 440.9,1196.8 441.3,1196.5 441.7,1196.2 442.0,1195.9 442.4,1195.6 442.8,1195.3 443.2,1195.0 443.6,1194.7 443.9,1194.4 444.3,1194.1 444.7,1193.9 445.1,1193.6 445.5,1193.3 445.8,1193.1 446.2,1192.9 446.6,1192.6 447.0,1192.4 447.4,1192.2 447.7,1191.9 448.1,1191.7 448.5,1191.5 448.9,1191.3 449.2,1191.1 449.6,1190.9 450.0,1190.7 450.4,1190.6 450.8,1190.4 451.1,1190.2 451.5,1190.0 451.9,1189.9 452.3,1189.7 452.7,1189.6 453.0,1189.4 453.4,1189.3 453.8,1189.1 454.2,1189.0 454.6,1188.9 454.9,1188.7 455.3,1188.6 455.7,1188.5 456.1,1188.4 456.4,1188.2 456.8,1188.1 457.2,1188.0 457.6,1187.9 458.0,1187.8 458.3,1187.7 458.7,1187.6 459.1,1187.5 459.5,1187.4 459.9,1187.3 460.2,1187.3 460.6,1187.2 461.0,1187.1 461.4,1187.0 461.8,1187.0 462.1,1186.9 462.5,1186.8 462.9,1186.8 463.3,1186.7 463.7,1186.6 464.0,1186.6 464.4,1186.5 464.8,1186.5 465.2,1186.4 465.5,1186.4 465.9,1186.3 466.3,1186.3 466.7,1186.2 467.1,1186.2 467.4,1186.2 467.8,1186.1 468.2,1186.1 468.6,1186.1 469.0,1186.0 469.3,1186.0 469.7,1186.0 470.1,1185.9 470.5,1185.9 470.9,1185.9 471.2,1185.9 471.6,1185.9 472.0,1185.8 472.4,1185.8 472.8,1185.8 473.1,1185.8 473.5,1185.8 473.9,1185.8 474.3,1185.8 474.6,1185.8 475.0,1185.8 475.4,1185.8 475.8,1185.8 476.2,1185.8 476.5,1185.8 476.9,1185.8 477.3,1185.8 477.7,1185.8 478.1,1185.8 478.4,1185.8 478.8,1185.8 479.2,1185.8 479.6,1185.8 480.0,1185.8 480.3,1185.8 480.7,1185.8 481.1,1185.8 481.5,1185.9 481.9,1185.9 482.2,1185.9 482.6,1185.9 483.0,1185.9 483.4,1185.9 483.7,1186.0 484.1,1186.0 484.5,1186.0 484.9,1186.0 485.3,1186.1 485.6,1186.1 486.0,1186.1 486.4,1186.1 486.8,1186.2 487.2,1186.2 487.5,1186.2 487.9,1186.2 488.3,1186.3 488.7,1186.3 489.1,1186.3 489.4,1186.4 489.8,1186.4 490.2,1186.4 490.6,1186.5 491.0,1186.5 491.3,1186.5 491.7,1186.6 492.1,1186.6 492.5,1186.6 492.8,1186.7 493.2,1186.7 493.6,1186.7 494.0,1186.8 494.4,1186.8 494.7,1186.9 495.1,1186.9 495.5,1186.9 495.9,1187.0 496.3,1187.0 496.6,1187.1 497.0,1187.1 497.4,1187.1 497.8,1187.2 498.2,1187.2 498.5,1187.3 498.9,1187.3 499.3,1187.4 499.7,1187.4 500.0,1187.5 500.4,1187.5 500.8,1187.5 501.2,1187.6 501.6,1187.6 501.9,1187.7 502.3,1187.7 502.7,1187.8 503.1,1187.8 503.5,1187.9 503.8,1187.9 504.2,1188.0 504.6,1188.0 505.0,1188.1 505.4,1188.1 505.7,1188.2 506.1,1188.2 506.5,1188.3 506.9,1188.3 507.3,1188.4 507.6,1188.4 508.0,1188.5 508.4,1188.5 508.8,1188.6 509.1,1188.6 509.5,1188.7 509.9,1188.7 510.3,1188.8 510.7,1188.9 511.0,1188.9 511.4,1189.0 511.8,1189.0 512.2,1189.1 512.6,1189.1 512.9,1189.2 513.3,1189.2 513.7,1189.3 514.1,1189.3 514.5,1189.4 514.8,1189.5 515.2,1189.5 515.6,1189.6 516.0,1189.6 516.4,1189.7 516.7,1189.7 517.1,1189.8 517.5,1189.9 517.9,1189.9 518.2,1190.0 518.6,1190.0 519.0,1190.1 519.4,1190.1 519.8,1190.2 520.1,1190.3 520.5,1190.3 520.9,1190.4 521.3,1190.4 521.7,1190.5 522.0,1190.6 522.4,1190.6 522.8,1190.7 523.2,1190.7 523.6,1190.8 523.9,1190.9 524.3,1190.9 524.7,1191.0 525.1,1191.0 525.5,1191.1 525.8,1191.2 526.2,1191.2 526.6,1191.3 527.0,1191.3 527.3,1191.4 527.7,1191.5 528.1,1191.5 528.5,1191.6 528.9,1191.6 529.2,1191.7 529.6,1191.8 530.0,1191.8 530.4,1191.9 530.8,1191.9 531.1,1192.0 531.5,1192.1 531.9,1192.1 532.3,1192.2 532.7,1192.3 533.0,1192.3 533.4,1192.4 533.8,1192.4 534.2,1192.5 534.6,1192.6 534.9,1192.6 535.3,1192.7 535.7,1192.8 536.1,1192.8 536.4,1192.9 536.8,1192.9 537.2,1193.0 537.6,1193.1 538.0,1193.1 538.3,1193.2 538.7,1193.3 539.1,1193.3 539.5,1193.4 539.9,1193.4 540.2,1193.5 540.6,1193.6 541.0,1193.6 541.4,1193.7 541.8,1193.8 542.1,1193.8 542.5,1193.9 542.9,1194.0 543.3,1194.0 543.6,1194.1 544.0,1194.1 544.4,1194.2 544.8,1194.3 545.2,1194.3 545.5,1194.4 545.9,1194.5 546.3,1194.5 546.7,1194.6 547.1,1194.7 547.4,1194.7 547.8,1194.8 548.2,1194.8 548.6,1194.9 549.0,1195.0 549.3,1195.0 549.7,1195.1 550.1,1195.2 550.5,1195.2 550.9,1195.3 551.2,1195.4 551.6,1195.4 552.0,1195.5 552.4,1195.6 552.7,1195.6 553.1,1195.7 553.5,1195.7 553.9,1195.8 554.3,1195.9 554.6,1195.9 555.0,1196.0 555.4,1196.1 555.8,1196.1 556.2,1196.2 556.5,1196.3 556.9,1196.3 557.3,1196.4 557.7,1196.5 558.1,1196.5 558.4,1196.6 558.8,1196.6 559.2,1196.7 559.6,1196.8 560.0,1196.8 560.3,1196.9 560.7,1197.0 561.1,1197.0 561.5,1197.1 561.8,1197.2 562.2,1197.2 562.6,1197.3 563.0,1197.4 563.4,1197.4 563.7,1197.5 564.1,1197.6 564.5,1197.6 564.9,1197.7 565.3,1197.7 565.6,1197.8 566.0,1197.9 566.4,1197.9 566.8,1198.0 567.2,1198.1 567.5,1198.1 567.9,1198.2 568.3,1198.3 568.7,1198.3 569.1,1198.4 569.4,1198.5 569.8,1198.5 570.2,1198.6 570.6,1198.6 570.9,1198.7 571.3,1198.8 571.7,1198.8 572.1,1198.9 572.5,1199.0 572.8,1199.0 573.2,1199.1 573.6,1199.2 574.0,1199.2 574.4,1199.3 574.7,1199.4 575.1,1199.4 575.5,1199.5 575.9,1199.6 576.3,1199.6 576.6,1199.7 577.0,1199.7 577.4,1199.8 577.8,1199.9 578.1,1199.9 578.5,1200.0 578.9,1200.1 579.3,1200.1 579.7,1200.2 580.0,1200.3 580.4,1200.3 580.8,1200.4 581.2,1200.5 581.6,1200.5 581.9,1200.6 582.3,1200.7 582.7,1200.7 583.1,1200.8 583.5,1200.8 583.8,1200.9 584.2,1201.0 584.6,1201.0 585.0,1201.1 585.4,1201.2 585.7,1201.2 586.1,1201.3 586.5,1201.4 586.9,1201.4 587.2,1201.5 587.6,1201.6 588.0,1201.6 588.4,1201.7 588.8,1201.7 589.1,1201.8 589.5,1201.9 589.9,1201.9 590.3,1202.0 590.7,1202.1 591.0,1202.1 591.4,1202.2 591.8,1202.3 592.2,1202.3 592.6,1202.4 592.9,1202.5 593.3,1202.5 593.7,1202.6 594.1,1202.6 594.5,1202.7 594.8,1202.8 595.2,1202.8 595.6,1202.9 596.0,1203.0 596.3,1203.0 596.7,1203.1 597.1,1203.2 597.5,1203.2 597.9,1203.3 598.2,1203.4 598.6,1203.4 599.0,1203.5 599.4,1203.5 599.8,1203.6 600.1,1203.7 600.5,1203.7 600.9,1203.8 601.3,1203.9 601.7,1203.9 602.0,1204.0 602.4,1204.1 602.8,1204.1 603.2,1204.2 603.6,1204.3 603.9,1204.3 604.3,1204.4 604.7,1204.4 605.1,1204.5 605.4,1204.6 605.8,1204.6 606.2,1204.7 606.6,1204.8 607.0,1204.8 607.3,1204.9 607.7,1205.0 608.1,1205.0 608.5,1205.1 608.9,1205.1 609.2,1205.2 609.6,1205.3 610.0,1205.3 610.4,1205.4 610.8,1205.5 611.1,1205.5 611.5,1205.6 611.9,1205.7 612.3,1205.7 612.7,1205.8 613.0,1205.8 613.4,1205.9 613.8,1206.0 614.2,1206.0 614.5,1206.1 614.9,1206.2 615.3,1206.2 615.7,1206.3 616.1,1206.4 616.4,1206.4 616.8,1206.5 617.2,1206.5" stroke="#1766dd"/>
<polyline points="86.8,1152.7 87.2,1152.8 87.6,1152.9 87.9,1153.0 88.3,1153.0 88.7,1153.1 89.1,1153.2 89.5,1153.3 89.8,1153.3 90.2,1153.4 90.6,1153.5 91.0,1153.6 91.3,1153.7 91.7,1153.7 92.1,1153.8 92.5,1153.9 92.9,1154.0 93.2,1154.0 93.6,1154.1 94.0,1154.2 94.4,1154.3 94.8,1154.4 95.1,1154.4 95.5,1154.5 95.9,1154.6 96.3,1154.7 96.7,1154.7 97.0,1154.8 97.4,1154.9 97.8,1155.0 98.2,1155.1 98.6,1155.1 98.9,1155.2 99.3,1155.3 99.7,1155.4 100.1,1155.4 100.4,1155.5 100.8,1155.6 101.2,1155.7 101.6,1155.8 102.0,1155.8 102.3,1155.9 102.7,1156.0 103.1,1156.1 103.5,1156.1 103.9,1156.2 104.2,1156.3 104.6,1156.4 105.0,1156.5 105.4,1156.5 105.8,1156.6 106.1,1156.7 106.5,1156.8 106.9,1156.8 107.3,1156.9 107.7,1157.0 108.0,1157.1 108.4,1157.2 108.8,1157.2 109.2,1157.3 109.5,1157.4 109.9,1157.5 110.3,1157.6 110.7,1157.6 111.1,1157.7 111.4,1157.8 111.8,1157.9 112.2,1158.0 112.6,1158.0 113.0,1158.1 113.3,1158.2 113.7,1158.3 114.1,1158.3 114.5,1158.4 114.9,1158.5 115.2,1158.6 115.6,1158.7 116.0,1158.7 116.4,1158.8 116.8,1158.9 117.1,1159.0 117.5,1159.1 117.9,1159.1 118.3,1159.2 118.6,1159.3 119.0,1159.4 119.4,1159.5 119.8,1159.5 120.2,1159.6 120.5,1159.7 120.9,1159.8 121.3,1159.9 121.7,1159.9 122.1,1160.0 122.4,1160.1 122.8,1160.2 123.2,1160.3 123.6,1160.3 124.0,1160.4 124.3,1160.5 124.7,1160.6 125.1,1160.7 125.5,1160.7 125.9,1160.8 126.2,1160.9 126.6,1161.0 127.0,1161.1 127.4,1161.1 127.7,1161.2 128.1,1161.3 128.5,1161.4 128.9,1161.5 129.3,1161.5 129.6,1161.6 130.0,1161.7 130.4,1161.8 130.8,1161.9 131.2,1161.9 131.5,1162.0 131.9,1162.1 132.3,1162.2 132.7,1162.3 133.1,1162.3 133.4,1162.4 133.8,1162.5 134.2,1162.6 134.6,1162.7 134.9,1162.7 135.3,1162.8 135.7,1162.9 136.1,1163.0 136.5,1163.1 136.8,1163.2 137.2,1163.2 137.6,1163.3 138.0,1163.4 138.4,1163.5 138.7,1163.6 139.1,1163.6 139.5,1163.7 139.9,1163.8 140.3,1163.9 140.6,1164.0 141.0,1164.1 141.4,1164.1 141.8,1164.2 142.2,1164.3 142.5,1164.4 142.9,1164.5 143.3,1164.5 143.7,1164.6 144.0,1164.7 144.4,1164.8 144.8,1164.9 145.2,1165.0 145.6,1165.0 145.9,1165.1 146.3,1165.2 146.7,1165.3 147.1,1165.4 147.5,1165.4 147.8,1165.5 148.2,1165.6 148.6,1165.7 149.0,1165.8 149.4,1165.9 149.7,1165.9 150.1,1166.0 150.5,1166.1 150.9,1166.2 151.3,1166.3 151.6,1166.4 152.0,1166.4 152.4,1166.5 152.8,1166.6 153.1,1166.7 153.5,1166.8 153.9,1166.9 154.3,1166.9 154.7,1167.0 155.0,1167.1 155.4,1167.2 155.8,1167.3 156.2,1167.4 156.6,1167.4 156.9,1167.5 157.3,1167.6 157.7,1167.7 158.1,1167.8 158.5,1167.9 158.8,1168.0 159.2,1168.0 159.6,1168.1 160.0,1168.2 160.4,1168.3 160.7,1168.4 161.1,1168.5 161.5,1168.5 161.9,1168.6 162.2,1168.7 162.6,1168.8 163.0,1168.9 163.4,1169.0 163.8,1169.1 164.1,1169.1 164.5,1169.2 164.9,1169.3 165.3,1169.4 165.7,1169.5 166.0,1169.6 166.4,1169.7 166.8,1169.7 167.2,1169.8 167.6,1169.9 167.9,1170.0 168.3,1170.1 168.7,1170.2 169.1,1170.3 169.4,1170.3 169.8,1170.4 170.2,1170.5 170.6,1170.6 171.0,1170.7 171.3,1170.8 171.7,1170.9 172.1,1170.9 172.5,1171.0 172.9,1171.1 173.2,1171.2 173.6,1171.3 174.0,1171.4 174.4,1171.5 174.8,1171.6 175.1,1171.6 175.5,1171.7 175.9,1171.8 176.3,1171.9 176.7,1172.0 177.0,1172.1 177.4,1172.2 177.8,1172.3 178.2,1172.3 178.5,1172.4 178.9,1172.5 179.3,1172.6 179.7,1172.7 180.1,1172.8 180.4,1172.9 180.8,1173.0 181.2,1173.0 181.6,1173.1 182.0,1173.2 182.3,1173.3 182.7,1173.4 183.1,1173.5 183.5,1173.6 183.9,1173.7 184.2,1173.8 184.6,1173.8 185.0,1173.9 185.4,1174.0 185.8,1174.1 186.1,1174.2 186.5,1174.3 186.9,1174.4 187.3,1174.5 187.6,1174.6 188.0,1174.7 188.4,1174.7 188.8,1174.8 189.2,1174.9 189.5,1175.0 189.9,1175.1 190.3,1175.2 190.7,1175.3 191.1,1175.4 191.4,1175.5 191.8,1175.6 192.2,1175.7 192.6,1175.7 193.0,1175.8 193.3,1175.9 193.7,1176.0 194.1,1176.1 194.5,1176.2 194.9,1176.3 195.2,1176.4 195.6,1176.5 196.0,1176.6 196.4,1176.7 196.7,1176.8 197.1,1176.9 197.5,1176.9 197.9,1177.0 198.3,1177.1 198.6,1177.2 199.0,1177.3 199.4,1177.4 199.8,1177.5 200.2,1177.6 200.5,1177.7 200.9,1177.8 201.3,1177.9 201.7,1178.0 202.1,1178.1 202.4,1178.2 202.8,1178.3 203.2,1178.3 203.6,1178.4 204.0,1178.5 204.3,1178.6 204.7,1178.7 205.1,1178.8 205.5,1178.9 205.8,1179.0 206.2,1179.1 206.6,1179.2 207.0,1179.3 207.4,1179.4 207.7,1179.5 208.1,1179.6 208.5,1179.7 208.9,1179.8 209.3,1179.9 209.6,1180.0 210.0,1180.1 210.4,1180.2 210.8,1180.3 211.2,1180.4 211.5,1180.5 211.9,1180.6 212.3,1180.7 212.7,1180.8 213.0,1180.8 213.4,1180.9 213.8,1181.0 214.2,1181.1 214.6,1181.2 214.9,1181.3 215.3,1181.4 215.7,1181.5 216.1,1181.6 216.5,1181.7 216.8,1181.8 217.2,1181.9 217.6,1182.0 218.0,1182.1 218.4,1182.2 218.7,1182.3 219.1,1182.4 219.5,1182.5 219.9,1182.6 220.3,1182.7 220.6,1182.8 221.0,1182.9 221.4,1183.0 221.8,1183.1 222.1,1183.2 222.5,1183.3 222.9,1183.4 223.3,1183.5 223.7,1183.6 224.0,1183.8 224.4,1183.9 224.8,1184.0 225.2,1184.1 225.6,1184.2 225.9,1184.3 226.3,1184.4 226.7,1184.5 227.1,1184.6 227.5,1184.7 227.8,1184.8 228.2,1184.9 228.6,1185.0 229.0,1185.1 229.4,1185.2 229.7,1185.3 230.1,1185.4 230.5,1185.5 230.9,1185.6 231.2,1185.7 231.6,1185.8 232.0,1185.9 232.4,1186.1 232.8,1186.2 233.1,1186.3 233.5,1186.4 233.9,1186.5 234.3,1186.6 234.7,1186.7 235.0,1186.8 235.4,1186.9 235.8,1187.0 236.2,1187.1 236.6,1187.2 236.9,1187.3 237.3,1187.5 237.7,1187.6 238.1,1187.7 238.5,1187.8 238.8,1187.9 239.2,1188.0 239.6,1188.1 240.0,1188.2 240.3,1188.3 240.7,1188.4 241.1,1188.6 241.5,1188.7 241.9,1188.8 242.2,1188.9 242.6,1189.0 243.0,1189.1 243.4,1189.2 243.8,1189.3 244.1,1189.5 244.5,1189.6 244.9,1189.7 245.3,1189.8 245.7,1189.9 246.0,1190.0 246.4,1190.1 246.8,1190.3 247.2,1190.4 247.6,1190.5 247.9,1190.6 248.3,1190.7 248.7,1190.8 249.1,1191.0 249.4,1191.1 249.8,1191.2 250.2,1191.3 250.6,1191.4 251.0,1191.5 251.3,1191.7 251.7,1191.8 252.1,1191.9 252.5,1192.0 252.9,1192.1 253.2,1192.3 253.6,1192.4 254.0,1192.5 254.4,1192.6 254.8,1192.7 255.1,1192.9 255.5,1193.0 255.9,1193.1 256.3,1193.2 256.6,1193.4 257.0,1193.5 257.4,1193.6 257.8,1193.7 258.2,1193.9 258.5,1194.0 258.9,1194.1 259.3,1194.2 259.7,1194.4 260.1,1194.5 260.4,1194.6 260.8,1194.7 261.2,1194.9 261.6,1195.0 262.0,1195.1 262.3,1195.2 262.7,1195.4 263.1,1195.5 263.5,1195.6 263.9,1195.8 264.2,1195.9 264.6,1196.0 265.0,1196.1 265.4,1196.3 265.7,1196.4 266.1,1196.5 266.5,1196.7 266.9,1196.8 267.3,1196.9 267.6,1197.1 268.0,1197.2 268.4,1197.3 268.8,1197.5 269.2,1197.6 269.5,1197.7 269.9,1197.9 270.3,1198.0 270.7,1198.1 271.1,1198.3 271.4,1198.4 271.8,1198.6 272.2,1198.7 272.6,1198.8 273.0,1199.0 273.3,1199.1 273.7,1199.3 274.1,1199.4 274.5,1199.5 274.8,1199.7 275.2,1199.8 275.6,1200.0 276.0,1200.1 276.4,1200.3 276.7,1200.4 277.1,1200.5 277.5,1200.7 277.9,1200.8 278.3,1201.0 278.6,1201.1 279.0,1201.3 279.4,1201.4 279.8,1201.6 280.2,1201.7 280.5,1201.9 280.9,1202.0 281.3,1202.2 281.7,1202.3 282.1,1202.5 282.4,1202.6 282.8,1202.8 283.2,1202.9 283.6,1203.1 283.9,1203.2 284.3,1203.4 284.7,1203.5 285.1,1203.7 285.5,1203.9 285.8,1204.0 286.2,1204.2 286.6,1204.3 287.0,1204.5 287.4,1204.6 287.7,1204.8 288.1,1205.0 288.5,1205.1 288.9,1205.3 289.3,1205.4 289.6,1205.6 290.0,1205.8 290.4,1205.9 290.8,1206.1 291.1,1206.3 291.5,1206.4 291.9,1206.6 292.3,1206.8 292.7,1206.9 293.0,1207.1 293.4,1207.3 293.8,1207.5 294.2,1207.6 294.6,1207.8 294.9,1208.0 295.3,1208.1 295.7,1208.3 296.1,1208.5 296.5,1208.7 296.8,1208.8 297.2,1209.0 297.6,1209.2 298.0,1209.4 298.4,1209.6 298.7,1209.7 299.1,1209.9 299.5,1210.1 299.9,1210.3 300.2,1210.5 300.6,1210.7 301.0,1210.8 301.4,1211.0 301.8,1211.2 302.1,1211.4 302.5,1211.6 302.9,1211.8 303.3,1212.0 303.7,1212.2 304.0,1212.4 304.4,1212.5 304.8,1212.7 305.2,1212.9 305.6,1213.1 305.9,1213.3 306.3,1213.5 306.7,1213.7 307.1,1213.9 307.5,1214.1 307.8,1214.3 308.2,1214.5 308.6,1214.7 309.0,1214.9 309.3,1215.1 309.7,1215.3 310.1,1215.6 310.5,1215.8 310.9,1216.0 311.2,1216.2 311.6,1216.4 312.0,1216.6 312.4,1216.8 312.8,1217.0 313.1,1217.3 313.5,1217.5 313.9,1217.7 314.3,1217.9 314.7,1218.1 315.0,1218.4 315.4,1218.6 315.8,1218.8 316.2,1219.0 316.6,1219.3 316.9,1219.5 317.3,1219.7 317.7,1219.9 318.1,1220.2 318.4,1220.4 318.8,1220.6 319.2,1220.9 319.6,1221.1 320.0,1221.4 320.3,1221.6 320.7,1221.8 321.1,1222.1 321.5,1222.3 321.9,1222.6 322.2,1222.8 322.6,1223.1 323.0,1223.3 323.4,1223.6 323.8,1223.8 324.1,1224.1 324.5,1224.3 324.9,1224.6 325.3,1224.8 325.7,1225.1 326.0,1225.3 326.4,1225.6 326.8,1225.9 327.2,1226.1 327.5,1226.4 327.9,1226.7 328.3,1226.9 328.7,1227.2 329.1,1227.5 329.4,1227.7 329.8,1228.0 330.2,1228.3 330.6,1228.6 331.0,1228.8 331.3,1229.1 331.7,1229.4 332.1,1229.7 332.5,1230.0 332.9,1230.3 333.2,1230.5 333.6,1230.8 334.0,1231.1 334.4,1231.4 334.7,1231.7 335.1,1232.0 335.5,1232.3 335.9,1232.6 336.3,1232.9 336.6,1233.2 337.0,1233.5 337.4,1233.8 337.8,1234.1 338.2,1234.4 338.5,1234.8 338.9,1235.1 339.3,1235.4 339.7,1235.7 340.1,1236.0 340.4,1236.3 340.8,1236.7 341.2,1237.0 341.6,1237.3 342.0,1237.6 342.3,1238.0 342.7,1238.3 343.1,1238.6 343.5,1239.0 343.8,1239.3 344.2,1239.6 344.6,1240.0 345.0,1240.3 345.4,1240.6 345.7,1241.0 346.1,1241.3 346.5,1241.7 346.9,1242.0 347.3,1242.4 347.6,1242.7 348.0,1243.1 348.4,1243.4 348.8,1243.8 349.2,1244.2 349.5,1244.5 349.9,1244.9 350.3,1245.2 350.7,1245.6 351.1,1246.0 351.4,1246.3 351.8,1246.7 352.2,1247.1 352.6,1247.4 352.9,1247.8 353.3,1248.2 353.7,1248.6 354.1,1248.9 354.5,1249.3 354.8,1249.7 355.2,1250.1 355.6,1250.4 356.0,1250.8 356.4,1251.2 356.7,1251.6 357.1,1252.0 357.5,1252.4 357.9,1252.7 358.3,1253.1 358.6,1253.5 359.0,1253.9 359.4,1254.3 359.8,1254.7 360.2,1255.1 360.5,1255.4 360.9,1255.8 361.3,1256.2 361.7,1256.6 362.0,1257.0 362.4,1257.4 362.8,1257.8 363.2,1258.2 363.6,1258.5 363.9,1258.9 364.3,1259.3 364.7,1259.7 365.1,1260.1 365.5,1260.5 365.8,1260.9 366.2,1261.2 366.6,1261.6 367.0,1262.0 367.4,1262.4 367.7,1262.7 368.1,1263.1 368.5,1263.5 368.9,1263.9 369.3,1264.2 369.6,1264.6 370.0,1264.9 370.4,1265.3 370.8,1265.7 371.1,1266.0 371.5,1266.4 371.9,1266.7 372.3,1267.0 372.7,1267.4 373.0,1267.7 373.4,1268.0 373.8,1268.4 374.2,1268.7 374.6,1269.0 374.9,1269.3 375.3,1269.6 375.7,1269.9 376.1,1270.2 376.5,1270.5 376.8,1270.8 377.2,1271.0 377.6,1271.3 378.0,1271.6 378.3,1271.8 378.7,1272.1 379.1,1272.3 379.5,1272.5 379.9,1272.8 380.2,1273.0 380.6,1273.2 381.0,1273.4 381.4,1273.6 381.8,1273.8 382.1,1273.9 382.5,1274.1 382.9,1274.3 383.3,1274.4 383.7,1274.5 384.0,1274.7 384.4,1274.8 384.8,1274.9 385.2,1275.0 385.6,1275.0 385.9,1275.1 386.3,1275.2 386.7,1275.2 387.1,1275.2 387.4,1275.3 387.8,1275.3 388.2,1275.3 388.6,1275.3 389.0,1275.2 389.3,1275.2 389.7,1275.1 390.1,1275.1 390.5,1275.0 390.9,1274.9 391.2,1274.8 391.6,1274.7 392.0,1274.6 392.4,1274.4 392.8,1274.3 393.1,1274.1 393.5,1273.9 393.9,1273.8 394.3,1273.5 394.7,1273.3 395.0,1273.1 395.4,1272.9 395.8,1272.6 396.2,1272.3 396.5,1272.1 396.9,1271.8 397.3,1271.5 397.7,1271.1 398.1,1270.8 398.4,1270.5 398.8,1270.1 399.2,1269.8 399.6,1269.4 400.0,1269.0 400.3,1268.6 400.7,1268.2 401.1,1267.8 401.5,1267.4 401.9,1266.9 402.2,1266.5 402.6,1266.0 403.0,1265.6 403.4,1265.1 403.8,1264.6 404.1,1264.1 404.5,1263.7 404.9,1263.2 405.3,1262.6 405.6,1262.1 406.0,1261.6 406.4,1261.1 406.8,1260.5 407.2,1260.0 407.5,1259.5 407.9,1258.9 408.3,1258.4 408.7,1257.8 409.1,1257.2 409.4,1256.7 409.8,1256.1 410.2,1255.5 410.6,1255.0 411.0,1254.4 411.3,1253.8 411.7,1253.2 412.1,1252.6 412.5,1252.1 412.9,1251.5 413.2,1250.9 413.6,1250.3 414.0,1249.7 414.4,1249.1 414.7,1248.5 415.1,1248.0 415.5,1247.4 415.9,1246.8 416.3,1246.2 416.6,1245.6 417.0,1245.1 417.4,1244.5 417.8,1243.9 418.2,1243.3 418.5,1242.8 418.9,1242.2 419.3,1241.6 419.7,1241.1 420.1,1240.5 420.4,1240.0 420.8,1239.4 421.2,1238.9 421.6,1238.3 421.9,1237.8 422.3,1237.2 422.7,1236.7 423.1,1236.2 423.5,1235.7 423.8,1235.2 424.2,1234.6 424.6,1234.1 425.0,1233.6 425.4,1233.1 425.7,1232.6 426.1,1232.1 426.5,1231.7 426.9,1231.2 427.3,1230.7 427.6,1230.2 428.0,1229.8 428.4,1229.3 428.8,1228.9 429.2,1228.4 429.5,1228.0 429.9,1227.5 430.3,1227.1 430.7,1226.7 431.0,1226.3 431.4,1225.9 431.8,1225.4 432.2,1225.0 432.6,1224.6 432.9,1224.3 433.3,1223.9 433.7,1223.5 434.1,1223.1 434.5,1222.7 434.8,1222.4 435.2,1222.0 435.6,1221.7 436.0,1221.3 436.4,1221.0 436.7,1220.6 437.1,1220.3 437.5,1220.0 437.9,1219.6 438.3,1219.3 438.6,1219.0 439.0,1218.7 439.4,1218.4 439.8,1218.1 440.1,1217.8 440.5,1217.5 440.9,1217.2 441.3,1216.9 441.7,1216.7 442.0,1216.4 442.4,1216.1 442.8,1215.9 443.2,1215.6 443.6,1215.4 443.9,1215.1 444.3,1214.9 444.7,1214.6 445.1,1214.4 445.5,1214.2 445.8,1213.9 446.2,1213.7 446.6,1213.5 447.0,1213.3 447.4,1213.1 447.7,1212.9 448.1,1212.7 448.5,1212.5 448.9,1212.3 449.2,1212.1 449.6,1211.9 450.0,1211.7 450.4,1211.5 450.8,1211.4 451.1,1211.2 451.5,1211.0 451.9,1210.9 452.3,1210.7 452.7,1210.5 453.0,1210.4 453.4,1210.2 453.8,1210.1 454.2,1209.9 454.6,1209.8 454.9,1209.6 455.3,1209.5 455.7,1209.4 456.1,1209.2 456.4,1209.1 456.8,1209.0 457.2,1208.9 457.6,1208.8 458.0,1208.6 458.3,1208.5 458.7,1208.4 459.1,1208.3 459.5,1208.2 459.9,1208.1 460.2,1208.0 460.6,1207.9 461.0,1207.8 461.4,1207.7 461.8,1207.6 462.1,1207.5 462.5,1207.4 462.9,1207.4 463.3,1207.3 463.7,1207.2 464.0,1207.1 464.4,1207.0 464.8,1207.0 465.2,1206.9 465.5,1206.8 465.9,1206.8 466.3,1206.7 466.7,1206.6 467.1,1206.6 467.4,1206.5 467.8,1206.5 468.2,1206.4 468.6,1206.3 469.0,1206.3 469.3,1206.2 469.7,1206.2 470.1,1206.1 470.5,1206.1 470.9,1206.1 471.2,1206.0 471.6,1206.0 472.0,1205.9 472.4,1205.9 472.8,1205.9 473.1,1205.8 473.5,1205.8 473.9,1205.8 474.3,1205.7 474.6,1205.7 475.0,1205.7 475.4,1205.7 475.8,1205.6 476.2,1205.6 476.5,1205.6 476.9,1205.6 477.3,1205.5 477.7,1205.5 478.1,1205.5 478.4,1205.5 478.8,1205.5 479.2,1205.5 479.6,1205.5 480.0,1205.4 480.3,1205.4 480.7,1205.4 481.1,1205.4 481.5,1205.4 481.9,1205.4 482.2,1205.4 482.6,1205.4 483.0,1205.4 483.4,1205.4 483.7,1205.4 484.1,1205.4 484.5,1205.4 484.9,1205.4 485.3,1205.4 485.6,1205.4 486.0,1205.4 486.4,1205.4 486.8,1205.4 487.2,1205.4 487.5,1205.4 487.9,1205.4 488.3,1205.5 488.7,1205.5 489.1,1205.5 489.4,1205.5 489.8,1205.5 490.2,1205.5 490.6,1205.5 491.0,1205.5 491.3,1205.6 491.7,1205.6 492.1,1205.6 492.5,1205.6 492.8,1205.6 493.2,1205.7 493.6,1205.7 494.0,1205.7 494.4,1205.7 494.7,1205.7 495.1,1205.8 495.5,1205.8 495.9,1205.8 496.3,1205.8 496.6,1205.9 497.0,1205.9 497.4,1205.9 497.8,1205.9 498.2,1206.0 498.5,1206.0 498.9,1206.0 499.3,1206.0 499.7,1206.1 500.0,1206.1 500.4,1206.1 500.8,1206.2 501.2,1206.2 501.6,1206.2 501.9,1206.3 502.3,1206.3 502.7,1206.3 503.1,1206.4 503.5,1206.4 503.8,1206.4 504.2,1206.5 504.6,1206.5 505.0,1206.5 505.4,1206.6 505.7,1206.6 506.1,1206.6 506.5,1206.7 506.9,1206.7 507.3,1206.8 507.6,1206.8 508.0,1206.8 508.4,1206.9 508.8,1206.9 509.1,1206.9 509.5,1207.0 509.9,1207.0 510.3,1207.1 510.7,1207.1 511.0,1207.1 511.4,1207.2 511.8,1207.2 512.2,1207.3 512.6,1207.3 512.9,1207.4 513.3,1207.4 513.7,1207.4 514.1,1207.5 514.5,1207.5 514.8,1207.6 515.2,1207.6 515.6,1207.7 516.0,1207.7 516.4,1207.8 516.7,1207.8 517.1,1207.9 517.5,1207.9 517.9,1207.9 518.2,1208.0 518.6,1208.0 519.0,1208.1 519.4,1208.1 519.8,1208.2 520.1,1208.2 520.5,1208.3 520.9,1208.3 521.3,1208.4 521.7,1208.4 522.0,1208.5 522.4,1208.5 522.8,1208.6 523.2,1208.6 523.6,1208.7 523.9,1208.7 524.3,1208.8 524.7,1208.8 525.1,1208.9 525.5,1208.9 525.8,1209.0 526.2,1209.0 526.6,1209.1 527.0,1209.1 527.3,1209.2 527.7,1209.2 528.1,1209.3 528.5,1209.3 528.9,1209.4 529.2,1209.4 529.6,1209.5 530.0,1209.5 530.4,1209.6 530.8,1209.6 531.1,1209.7 531.5,1209.7 531.9,1209.8 532.3,1209.9 532.7,1209.9 533.0,1210.0 533.4,1210.0 533.8,1210.1 534.2,1210.1 534.6,1210.2 534.9,1210.2 535.3,1210.3 535.7,1210.3 536.1,1210.4 536.4,1210.5 536.8,1210.5 537.2,1210.6 537.6,1210.6 538.0,1210.7 538.3,1210.7 538.7,1210.8 539.1,1210.8 539.5,1210.9 539.9,1211.0 540.2,1211.0 540.6,1211.1 541.0,1211.1 541.4,1211.2 541.8,1211.2 542.1,1211.3 542.5,1211.3 542.9,1211.4 543.3,1211.5 543.6,1211.5 544.0,1211.6 544.4,1211.6 544.8,1211.7 545.2,1211.7 545.5,1211.8 545.9,1211.9 546.3,1211.9 546.7,1212.0 547.1,1212.0 547.4,1212.1 547.8,1212.1 548.2,1212.2 548.6,1212.3 549.0,1212.3 549.3,1212.4 549.7,1212.4 550.1,1212.5 550.5,1212.6 550.9,1212.6 551.2,1212.7 551.6,1212.7 552.0,1212.8 552.4,1212.8 552.7,1212.9 553.1,1213.0 553.5,1213.0 553.9,1213.1 554.3,1213.1 554.6,1213.2 555.0,1213.3 555.4,1213.3 555.8,1213.4 556.2,1213.4 556.5,1213.5 556.9,1213.5 557.3,1213.6 557.7,1213.7 558.1,1213.7 558.4,1213.8 558.8,1213.8 559.2,1213.9 559.6,1214.0 560.0,1214.0 560.3,1214.1 560.7,1214.1 561.1,1214.2 561.5,1214.3 561.8,1214.3 562.2,1214.4 562.6,1214.4 563.0,1214.5 563.4,1214.6 563.7,1214.6 564.1,1214.7 564.5,1214.7 564.9,1214.8 565.3,1214.9 565.6,1214.9 566.0,1215.0 566.4,1215.0 566.8,1215.1 567.2,1215.2 567.5,1215.2 567.9,1215.3 568.3,1215.3 568.7,1215.4 569.1,1215.5 569.4,1215.5 569.8,1215.6 570.2,1215.6 570.6,1215.7 570.9,1215.8 571.3,1215.8 571.7,1215.9 572.1,1215.9 572.5,1216.0 572.8,1216.1 573.2,1216.1 573.6,1216.2 574.0,1216.3 574.4,1216.3 574.7,1216.4 575.1,1216.4 575.5,1216.5 575.9,1216.6 576.3,1216.6 576.6,1216.7 577.0,1216.7 577.4,1216.8 577.8,1216.9 578.1,1216.9 578.5,1217.0 578.9,1217.0 579.3,1217.1 579.7,1217.2 580.0,1217.2 580.4,1217.3 580.8,1217.3 581.2,1217.4 581.6,1217.5 581.9,1217.5 582.3,1217.6 582.7,1217.7 583.1,1217.7 583.5,1217.8 583.8,1217.8 584.2,1217.9 584.6,1218.0 585.0,1218.0 585.4,1218.1 585.7,1218.1 586.1,1218.2 586.5,1218.3 586.9,1218.3 587.2,1218.4 587.6,1218.4 588.0,1218.5 588.4,1218.6 588.8,1218.6 589.1,1218.7 589.5,1218.8 589.9,1218.8 590.3,1218.9 590.7,1218.9 591.0,1219.0 591.4,1219.1 591.8,1219.1 592.2,1219.2 592.6,1219.2 592.9,1219.3 593.3,1219.4 593.7,1219.4 594.1,1219.5 594.5,1219.5 594.8,1219.6 595.2,1219.7 595.6,1219.7 596.0,1219.8 596.3,1219.9 596.7,1219.9 597.1,1220.0 597.5,1220.0 597.9,1220.1 598.2,1220.2 598.6,1220.2 599.0,1220.3 599.4,1220.3 599.8,1220.4 600.1,1220.5 600.5,1220.5 600.9,1220.6 601.3,1220.7 601.7,1220.7 602.0,1220.8 602.4,1220.8 602.8,1220.9 603.2,1221.0 603.6,1221.0 603.9,1221.1 604.3,1221.1 604.7,1221.2 605.1,1221.3 605.4,1221.3 605.8,1221.4 606.2,1221.4 606.6,1221.5 607.0,1221.6 607.3,1221.6 607.7,1221.7 608.1,1221.8 608.5,1221.8 608.9,1221.9 609.2,1221.9 609.6,1222.0 610.0,1222.1 610.4,1222.1 610.8,1222.2 611.1,1222.2 611.5,1222.3 611.9,1222.4 612.3,1222.4 612.7,1222.5 613.0,1222.6 613.4,1222.6 613.8,1222.7 614.2,1222.7 614.5,1222.8 614.9,1222.9 615.3,1222.9 615.7,1223.0 616.1,1223.0 616.4,1223.1 616.8,1223.2 617.2,1223.2" stroke="#2fa866"/>
</g>
<line x1="86.80" y1="1509.20" x2="86.80" y2="1517.20" stroke="#000" stroke-width="1.9"/>
<text x="86.80" y="1547.40" font-size="30" text-anchor="middle" fill="#000" >1.0</text>
<line x1="219.40" y1="1509.20" x2="219.40" y2="1517.20" stroke="#000" stroke-width="1.9"/>
<text x="219.40" y="1547.40" font-size="30" text-anchor="middle" fill="#000" >1.5</text>
<line x1="352.00" y1="1509.20" x2="352.00" y2="1517.20" stroke="#000" stroke-width="1.9"/>
<text x="352.00" y="1547.40" font-size="30" text-anchor="middle" fill="#000" >2.0</text>
<line x1="484.60" y1="1509.20" x2="484.60" y2="1517.20" stroke="#000" stroke-width="1.9"/>
<text x="484.60" y="1547.40" font-size="30" text-anchor="middle" fill="#000" >2.5</text>
<line x1="617.20" y1="1509.20" x2="617.20" y2="1517.20" stroke="#000" stroke-width="1.9"/>
<text x="617.20" y="1547.40" font-size="30" text-anchor="middle" fill="#000" >3.0</text>
<line x1="78.80" y1="1509.20" x2="86.80" y2="1509.20" stroke="#000" stroke-width="1.9"/>
<text x="72.50" y="1518.50" font-size="30" text-anchor="end" fill="#000" >0.0</text>
<line x1="78.80" y1="1423.90" x2="86.80" y2="1423.90" stroke="#000" stroke-width="1.9"/>
<text x="72.50" y="1433.20" font-size="30" text-anchor="end" fill="#000" >0.2</text>
<line x1="78.80" y1="1338.60" x2="86.80" y2="1338.60" stroke="#000" stroke-width="1.9"/>
<text x="72.50" y="1347.90" font-size="30" text-anchor="end" fill="#000" >0.4</text>
<line x1="78.80" y1="1253.30" x2="86.80" y2="1253.30" stroke="#000" stroke-width="1.9"/>
<text x="72.50" y="1262.60" font-size="30" text-anchor="end" fill="#000" >0.6</text>
<line x1="78.80" y1="1168.00" x2="86.80" y2="1168.00" stroke="#000" stroke-width="1.9"/>
<text x="72.50" y="1177.30" font-size="30" text-anchor="end" fill="#000" >0.8</text>
<line x1="78.80" y1="1082.70" x2="86.80" y2="1082.70" stroke="#000" stroke-width="1.9"/>
<text x="72.50" y="1092.00" font-size="30" text-anchor="end" fill="#000" >1.0</text>
<text x="352.00" y="1579.60" font-size="30" text-anchor="middle" fill="#000" >Frequency (THz)</text>
<text x="0" y="0" font-size="30.4" text-anchor="middle" transform="translate(21.30,1295.50) rotate(-90)">Transmission Amplitude</text>
<line x1="126.1" y1="1331.1" x2="176.5" y2="1331.1" stroke="#4b4b4b" stroke-width="3.7"/>
<text x="182.5" y="1340.10" font-size="26.2">tan<tspan font-style="italic">δ</tspan>=0</text>
<line x1="126.1" y1="1363.8" x2="176.5" y2="1363.8" stroke="#ee3a43" stroke-width="3.7"/>
<text x="182.5" y="1372.80" font-size="26.2">tan<tspan font-style="italic">δ</tspan>=0.1</text>
<line x1="126.1" y1="1396.5" x2="176.5" y2="1396.5" stroke="#1766dd" stroke-width="3.7"/>
<text x="182.5" y="1405.50" font-size="26.2">tan<tspan font-style="italic">δ</tspan>=0.2</text>
<line x1="126.1" y1="1429" x2="176.5" y2="1429" stroke="#2fa866" stroke-width="3.7"/>
<text x="182.5" y="1438.00" font-size="26.2">tan<tspan font-style="italic">δ</tspan>=0.3</text>
<line x1="436.30" y1="1410.30" x2="436.30" y2="1286.40" stroke="#000" stroke-width="4.2" stroke-dasharray="13 6"/>
<polygon points="436.30,1274.20 447.90,1296.90 436.30,1287.40 424.70,1296.90" fill="#000"/>
<rect x="439.4" y="1465.1" width="178" height="44.1" fill="#000"/>
<text x="447.2" y="1498.5" font-size="33.2" fill="#fff"><tspan font-style="italic">n</tspan>=1.5 <tspan font-style="italic">h</tspan><tspan font-size="20" dy="8">a</tspan><tspan dy="-8">=12</tspan></text>
<text x="0.46" y="1099.6" font-family="Liberation Sans, sans-serif" font-weight="bold" font-size="46">e</text>
<line x1="809.14" y1="20.90" x2="809.14" y2="444.10" stroke="#7a7a7a" stroke-width="1.3" stroke-dasharray="5.1 4.9"/>
<line x1="940.41" y1="20.90" x2="940.41" y2="444.10" stroke="#7a7a7a" stroke-width="1.3" stroke-dasharray="5.1 4.9"/>
<line x1="1071.69" y1="20.90" x2="1071.69" y2="444.10" stroke="#7a7a7a" stroke-width="1.3" stroke-dasharray="5.1 4.9"/>
<line x1="1202.96" y1="20.90" x2="1202.96" y2="444.10" stroke="#7a7a7a" stroke-width="1.3" stroke-dasharray="5.1 4.9"/>
<line x1="745.50" y1="359.46" x2="1268.60" y2="359.46" stroke="#ee3c40" stroke-width="1.1" stroke-dasharray="5.2 5.2"/>
<line x1="745.50" y1="274.82" x2="1268.60" y2="274.82" stroke="#ee3c40" stroke-width="1.1" stroke-dasharray="5.2 5.2"/>
<line x1="745.50" y1="190.18" x2="1268.60" y2="190.18" stroke="#ee3c40" stroke-width="1.1" stroke-dasharray="5.2 5.2"/>
<line x1="745.50" y1="105.54" x2="1268.60" y2="105.54" stroke="#ee3c40" stroke-width="1.1" stroke-dasharray="5.2 5.2"/>
<line x1="754.98" y1="362.07" x2="797.66" y2="359.33" stroke="#0f6aad" stroke-width="4.2"/>
<line x1="820.62" y1="357.97" x2="863.29" y2="355.63" stroke="#0f6aad" stroke-width="4.2"/>
<line x1="886.25" y1="354.18" x2="928.94" y2="351.12" stroke="#0f6aad" stroke-width="4.2"/>
<line x1="951.89" y1="349.60" x2="994.57" y2="347.00" stroke="#0f6aad" stroke-width="4.2"/>
<line x1="1017.54" y1="345.83" x2="1060.20" y2="344.07" stroke="#0f6aad" stroke-width="4.2"/>
<line x1="1083.18" y1="343.18" x2="1125.83" y2="341.62" stroke="#0f6aad" stroke-width="4.2"/>
<line x1="1148.81" y1="340.59" x2="1191.48" y2="338.31" stroke="#0f6aad" stroke-width="4.2"/>
<line x1="1214.46" y1="337.70" x2="1257.10" y2="337.70" stroke="#0f6aad" stroke-width="4.2"/>
<circle cx="743.50" cy="362.80" r="8.1" fill="#0f6aad"/>
<circle cx="809.14" cy="358.60" r="8.1" fill="#0f6aad"/>
<circle cx="874.77" cy="355.00" r="8.1" fill="#0f6aad"/>
<circle cx="940.41" cy="350.30" r="8.1" fill="#0f6aad"/>
<circle cx="1006.05" cy="346.30" r="8.1" fill="#0f6aad"/>
<circle cx="1071.69" cy="343.60" r="8.1" fill="#0f6aad"/>
<circle cx="1137.33" cy="341.20" r="8.1" fill="#0f6aad"/>
<circle cx="1202.96" cy="337.70" r="8.1" fill="#0f6aad"/>
<circle cx="1268.60" cy="337.70" r="8.1" fill="#0f6aad"/>
<path d="M743.50,60.70 L809.14,99.50 L874.77,138.30 L940.41,177.10 L1006.05,220.40 L1071.69,262.20 L1137.33,303.30 L1202.96,345.70 L1268.60,389.40" fill="none" stroke="#ee3c40" stroke-width="4.2" stroke-dasharray="18.5 22.8" stroke-dashoffset="1.4"/>
<polygon points="732.65,60.70 748.93,51.30 748.93,70.10" fill="#ee3c40"/>
<polygon points="798.28,99.50 814.56,90.10 814.56,108.90" fill="#ee3c40"/>
<polygon points="863.92,138.30 880.20,128.90 880.20,147.70" fill="#ee3c40"/>
<polygon points="929.56,177.10 945.84,167.70 945.84,186.50" fill="#ee3c40"/>
<polygon points="995.20,220.40 1011.48,211.00 1011.48,229.80" fill="#ee3c40"/>
<polygon points="1060.83,262.20 1077.11,252.80 1077.11,271.60" fill="#ee3c40"/>
<polygon points="1126.47,303.30 1142.75,293.90 1142.75,312.70" fill="#ee3c40"/>
<polygon points="1192.11,345.70 1208.39,336.30 1208.39,355.10" fill="#ee3c40"/>
<polygon points="1257.75,389.40 1274.03,380.00 1274.03,398.80" fill="#ee3c40"/>
<line x1="960.90" y1="181.80" x2="995.27" y2="109.15" stroke="#ee3c40" stroke-width="4.2" stroke-dasharray="19 13"/>
<polygon points="1000.40,98.30 1000.29,113.73 988.54,108.18" fill="#ee3c40"/>
<line x1="743.50" y1="20.90" x2="1268.60" y2="20.90" stroke="#000" stroke-width="1.9"/>
<line x1="743.50" y1="444.10" x2="1268.60" y2="444.10" stroke="#000" stroke-width="1.9"/>
<line x1="743.50" y1="19.90" x2="743.50" y2="445.10" stroke="#0f6aad" stroke-width="1.6"/>
<line x1="1268.60" y1="19.90" x2="1268.60" y2="445.10" stroke="#ee3c40" stroke-width="1.5"/>
<line x1="809.14" y1="444.10" x2="809.14" y2="452.10" stroke="#000" stroke-width="1.9"/>
<text x="809.14" y="482.30" font-size="30" text-anchor="middle" fill="#000" >1.2</text>
<line x1="940.41" y1="444.10" x2="940.41" y2="452.10" stroke="#000" stroke-width="1.9"/>
<text x="940.41" y="482.30" font-size="30" text-anchor="middle" fill="#000" >1.4</text>
<line x1="1071.69" y1="444.10" x2="1071.69" y2="452.10" stroke="#000" stroke-width="1.9"/>
<text x="1071.69" y="482.30" font-size="30" text-anchor="middle" fill="#000" >1.6</text>
<line x1="1202.96" y1="444.10" x2="1202.96" y2="452.10" stroke="#000" stroke-width="1.9"/>
<text x="1202.96" y="482.30" font-size="30" text-anchor="middle" fill="#000" >1.8</text>
<line x1="735.50" y1="444.10" x2="743.50" y2="444.10" stroke="#0f6aad" stroke-width="1.9"/>
<text x="729.30" y="453.40" font-size="30" text-anchor="end" fill="#0f6aad" >0.1</text>
<line x1="735.50" y1="359.46" x2="743.50" y2="359.46" stroke="#0f6aad" stroke-width="1.9"/>
<text x="729.30" y="368.76" font-size="30" text-anchor="end" fill="#0f6aad" >0.2</text>
<line x1="735.50" y1="274.82" x2="743.50" y2="274.82" stroke="#0f6aad" stroke-width="1.9"/>
<text x="729.30" y="284.12" font-size="30" text-anchor="end" fill="#0f6aad" >0.3</text>
<line x1="735.50" y1="190.18" x2="743.50" y2="190.18" stroke="#0f6aad" stroke-width="1.9"/>
<text x="729.30" y="199.48" font-size="30" text-anchor="end" fill="#0f6aad" >0.4</text>
<line x1="735.50" y1="105.54" x2="743.50" y2="105.54" stroke="#0f6aad" stroke-width="1.9"/>
<text x="729.30" y="114.84" font-size="30" text-anchor="end" fill="#0f6aad" >0.5</text>
<line x1="735.50" y1="20.90" x2="743.50" y2="20.90" stroke="#0f6aad" stroke-width="1.9"/>
<text x="729.30" y="30.20" font-size="30" text-anchor="end" fill="#0f6aad" >0.6</text>
<line x1="1268.60" y1="444.10" x2="1276.60" y2="444.10" stroke="#ee3c40" stroke-width="1.6"/>
<text x="1281.80" y="453.40" font-size="30" text-anchor="start" fill="#ee3c40" >1.9</text>
<line x1="1268.60" y1="359.46" x2="1276.60" y2="359.46" stroke="#ee3c40" stroke-width="1.6"/>
<text x="1281.80" y="368.76" font-size="30" text-anchor="start" fill="#ee3c40" >2.0</text>
<line x1="1268.60" y1="274.82" x2="1276.60" y2="274.82" stroke="#ee3c40" stroke-width="1.6"/>
<text x="1281.80" y="284.12" font-size="30" text-anchor="start" fill="#ee3c40" >2.1</text>
<line x1="1268.60" y1="190.18" x2="1276.60" y2="190.18" stroke="#ee3c40" stroke-width="1.6"/>
<text x="1281.80" y="199.48" font-size="30" text-anchor="start" fill="#ee3c40" >2.2</text>
<line x1="1268.60" y1="105.54" x2="1276.60" y2="105.54" stroke="#ee3c40" stroke-width="1.6"/>
<text x="1281.80" y="114.84" font-size="30" text-anchor="start" fill="#ee3c40" >2.3</text>
<line x1="1268.60" y1="20.90" x2="1276.60" y2="20.90" stroke="#ee3c40" stroke-width="1.6"/>
<text x="1281.80" y="30.20" font-size="30" text-anchor="start" fill="#ee3c40" >2.4</text>
<text x="0" y="0" font-size="30.5" text-anchor="middle" fill="#0f6aad" transform="translate(676.30,232.20) rotate(-90)">Dip Amplitude</text>
<text x="0" y="0" font-size="30" text-anchor="middle" fill="#ee3c40" transform="translate(1255.30,172.30) rotate(-90)">Dip Frequency (THz)</text>
<text x="998.80" y="508.80" font-size="30" text-anchor="start" fill="#000" ><tspan font-style="italic">n</tspan></text>
<g transform="translate(854.50,46.00) scale(1.0)" fill="#000"><path d="M4.0,34.3 C6.5,35.6 9.5,33.5 11.4,29.4 C12.5,26.8 13.2,24.5 13.7,23.1 L15.9,14.4 C16.5,11.5 17.0,9.0 18.0,6.0 C19.0,3.4 20.5,2.6 22.0,2.9 L24.0,3.8 L24.6,0.8 C23.5,-0.3 21.5,-0.2 19.1,0.8 C16.8,1.9 14.2,4.5 12.8,7.2 C11.8,9.0 11.0,11.5 10.5,14.4 L8.7,21.2 C7.9,24.5 7.1,27.0 6.3,29.5 C5.6,31.5 4.8,33.0 3.9,34.0 Z"/><circle cx="24.6" cy="2.9" r="2.05"/><circle cx="2.4" cy="33.1" r="2.4"/><rect x="8.9" y="9.5" width="10.9" height="2.3"/></g>
<path d="M884.30,56.80 H905.40 M884.30,62.90 H905.40" stroke="#000" stroke-width="2.4" fill="none"/>
<text x="916.16" y="73.20" font-size="41" fill="#000" >-0.485.3</text>
<path d="M1052.38,53.28 L1068.81,69.72 M1068.81,53.28 L1052.38,69.72" stroke="#000" stroke-width="3.1" fill="none"/>
<text x="1073.58" y="73.20" font-size="41" font-style="italic" fill="#000" >n</text>
<path d="M1096.50,59.90 H1117.30 M1106.90,49.40 V70.40" stroke="#000" stroke-width="2.7" fill="none"/>
<text x="1114.86" y="73.20" font-size="41" fill="#000" >2.89</text>
<text x="648.71" y="32.3" font-family="Liberation Sans, sans-serif" font-weight="bold" font-size="46">b</text>
<line x1="777.11" y1="557.30" x2="777.11" y2="982.10" stroke="#7a7a7a" stroke-width="1.3" stroke-dasharray="5.1 4.9"/>
<line x1="847.34" y1="557.30" x2="847.34" y2="982.10" stroke="#7a7a7a" stroke-width="1.3" stroke-dasharray="5.1 4.9"/>
<line x1="917.57" y1="557.30" x2="917.57" y2="982.10" stroke="#7a7a7a" stroke-width="1.3" stroke-dasharray="5.1 4.9"/>
<line x1="987.79" y1="557.30" x2="987.79" y2="982.10" stroke="#7a7a7a" stroke-width="1.3" stroke-dasharray="5.1 4.9"/>
<line x1="1058.02" y1="557.30" x2="1058.02" y2="982.10" stroke="#7a7a7a" stroke-width="1.3" stroke-dasharray="5.1 4.9"/>
<line x1="1128.25" y1="557.30" x2="1128.25" y2="982.10" stroke="#7a7a7a" stroke-width="1.3" stroke-dasharray="5.1 4.9"/>
<line x1="1198.47" y1="557.30" x2="1198.47" y2="982.10" stroke="#7a7a7a" stroke-width="1.3" stroke-dasharray="5.1 4.9"/>
<line x1="744.00" y1="897.14" x2="1268.70" y2="897.14" stroke="#f39a9c" stroke-width="2.2" stroke-dasharray="5.7 4.5"/>
<line x1="744.00" y1="812.18" x2="1268.70" y2="812.18" stroke="#f39a9c" stroke-width="2.2" stroke-dasharray="5.7 4.5"/>
<line x1="744.00" y1="727.22" x2="1268.70" y2="727.22" stroke="#f39a9c" stroke-width="2.2" stroke-dasharray="5.7 4.5"/>
<line x1="744.00" y1="642.26" x2="1268.70" y2="642.26" stroke="#f39a9c" stroke-width="2.2" stroke-dasharray="5.7 4.5"/>
<path d="M742.00,642.70 L777.11,689.50 L847.34,728.60 L917.57,742.10 L987.79,751.80 L1058.02,755.50 L1128.25,757.50 L1198.47,757.50 L1268.70,752.50" fill="none" stroke="#ee3c40" stroke-width="4.2" stroke-dasharray="18.5 22.8" stroke-dashoffset="0"/>
<polygon points="731.15,642.70 747.43,633.30 747.43,652.10" fill="#ee3c40"/>
<polygon points="766.26,689.50 782.54,680.10 782.54,698.90" fill="#ee3c40"/>
<polygon points="836.49,728.60 852.77,719.20 852.77,738.00" fill="#ee3c40"/>
<polygon points="906.71,742.10 922.99,732.70 922.99,751.50" fill="#ee3c40"/>
<polygon points="976.94,751.80 993.22,742.40 993.22,761.20" fill="#ee3c40"/>
<polygon points="1047.17,755.50 1063.45,746.10 1063.45,764.90" fill="#ee3c40"/>
<polygon points="1117.39,757.50 1133.67,748.10 1133.67,766.90" fill="#ee3c40"/>
<polygon points="1187.62,757.50 1203.90,748.10 1203.90,766.90" fill="#ee3c40"/>
<polygon points="1257.85,752.50 1274.13,743.10 1274.13,761.90" fill="#ee3c40"/>
<line x1="874.4" y1="736.6" x2="918.3" y2="657.5" stroke="#ee3c40" stroke-width="4.2" stroke-dasharray="19.8 12.8"/>
<polygon points="912.05,650.40 925.47,642.65 925.47,658.15" fill="#ee3c40"/>
<line x1="753.50" y1="909.43" x2="765.62" y2="909.77" stroke="#0f6aad" stroke-width="4.2"/>
<line x1="788.61" y1="910.10" x2="835.84" y2="910.10" stroke="#0f6aad" stroke-width="4.2"/>
<line x1="858.78" y1="908.93" x2="906.13" y2="904.07" stroke="#0f6aad" stroke-width="4.2"/>
<line x1="929.04" y1="902.18" x2="976.32" y2="899.22" stroke="#0f6aad" stroke-width="4.2"/>
<line x1="999.25" y1="897.52" x2="1046.56" y2="893.48" stroke="#0f6aad" stroke-width="4.2"/>
<line x1="1069.44" y1="891.15" x2="1116.83" y2="885.55" stroke="#0f6aad" stroke-width="4.2"/>
<line x1="1139.65" y1="882.71" x2="1187.07" y2="876.49" stroke="#0f6aad" stroke-width="4.2"/>
<line x1="1209.84" y1="873.25" x2="1257.33" y2="865.95" stroke="#0f6aad" stroke-width="4.2"/>
<circle cx="742.00" cy="909.10" r="8.1" fill="#0f6aad"/>
<circle cx="777.11" cy="910.10" r="8.1" fill="#0f6aad"/>
<circle cx="847.34" cy="910.10" r="8.1" fill="#0f6aad"/>
<circle cx="917.57" cy="902.90" r="8.1" fill="#0f6aad"/>
<circle cx="987.79" cy="898.50" r="8.1" fill="#0f6aad"/>
<circle cx="1058.02" cy="892.50" r="8.1" fill="#0f6aad"/>
<circle cx="1128.25" cy="884.20" r="8.1" fill="#0f6aad"/>
<circle cx="1198.47" cy="875.00" r="8.1" fill="#0f6aad"/>
<circle cx="1268.70" cy="864.20" r="8.1" fill="#0f6aad"/>
<line x1="742.00" y1="557.30" x2="1268.70" y2="557.30" stroke="#000" stroke-width="1.9"/>
<line x1="742.00" y1="982.10" x2="1268.70" y2="982.10" stroke="#000" stroke-width="1.9"/>
<line x1="742.00" y1="556.30" x2="742.00" y2="983.10" stroke="#0f6aad" stroke-width="1.6"/>
<line x1="1268.70" y1="556.30" x2="1268.70" y2="983.10" stroke="#ee3c40" stroke-width="1.5"/>
<line x1="777.11" y1="982.10" x2="777.11" y2="990.10" stroke="#000" stroke-width="1.9"/>
<text x="777.11" y="1020.30" font-size="30" text-anchor="middle" fill="#000" >2</text>
<line x1="847.34" y1="982.10" x2="847.34" y2="990.10" stroke="#000" stroke-width="1.9"/>
<text x="847.34" y="1020.30" font-size="30" text-anchor="middle" fill="#000" >4</text>
<line x1="917.57" y1="982.10" x2="917.57" y2="990.10" stroke="#000" stroke-width="1.9"/>
<text x="917.57" y="1020.30" font-size="30" text-anchor="middle" fill="#000" >6</text>
<line x1="987.79" y1="982.10" x2="987.79" y2="990.10" stroke="#000" stroke-width="1.9"/>
<text x="987.79" y="1020.30" font-size="30" text-anchor="middle" fill="#000" >8</text>
<line x1="1058.02" y1="982.10" x2="1058.02" y2="990.10" stroke="#000" stroke-width="1.9"/>
<text x="1058.02" y="1020.30" font-size="30" text-anchor="middle" fill="#000" >10</text>
<line x1="1128.25" y1="982.10" x2="1128.25" y2="990.10" stroke="#000" stroke-width="1.9"/>
<text x="1128.25" y="1020.30" font-size="30" text-anchor="middle" fill="#000" >12</text>
<line x1="1198.47" y1="982.10" x2="1198.47" y2="990.10" stroke="#000" stroke-width="1.9"/>
<text x="1198.47" y="1020.30" font-size="30" text-anchor="middle" fill="#000" >14</text>
<line x1="1268.70" y1="982.10" x2="1268.70" y2="990.10" stroke="#000" stroke-width="1.9"/>
<text x="1268.70" y="1020.30" font-size="30" text-anchor="middle" fill="#000" >16</text>
<line x1="734.00" y1="982.10" x2="742.00" y2="982.10" stroke="#0f6aad" stroke-width="1.9"/>
<text x="727.80" y="991.40" font-size="30" text-anchor="end" fill="#0f6aad" >0.1</text>
<line x1="734.00" y1="897.14" x2="742.00" y2="897.14" stroke="#0f6aad" stroke-width="1.9"/>
<text x="727.80" y="906.44" font-size="30" text-anchor="end" fill="#0f6aad" >0.2</text>
<line x1="734.00" y1="812.18" x2="742.00" y2="812.18" stroke="#0f6aad" stroke-width="1.9"/>
<text x="727.80" y="821.48" font-size="30" text-anchor="end" fill="#0f6aad" >0.3</text>
<line x1="734.00" y1="727.22" x2="742.00" y2="727.22" stroke="#0f6aad" stroke-width="1.9"/>
<text x="727.80" y="736.52" font-size="30" text-anchor="end" fill="#0f6aad" >0.4</text>
<line x1="734.00" y1="642.26" x2="742.00" y2="642.26" stroke="#0f6aad" stroke-width="1.9"/>
<text x="727.80" y="651.56" font-size="30" text-anchor="end" fill="#0f6aad" >0.5</text>
<line x1="734.00" y1="557.30" x2="742.00" y2="557.30" stroke="#0f6aad" stroke-width="1.9"/>
<text x="727.80" y="566.60" font-size="30" text-anchor="end" fill="#0f6aad" >0.6</text>
<line x1="1268.70" y1="982.10" x2="1276.70" y2="982.10" stroke="#ee3c40" stroke-width="1.6"/>
<text x="1281.90" y="991.40" font-size="30" text-anchor="start" fill="#ee3c40" >1.9</text>
<line x1="1268.70" y1="897.14" x2="1276.70" y2="897.14" stroke="#ee3c40" stroke-width="1.6"/>
<text x="1281.90" y="906.44" font-size="30" text-anchor="start" fill="#ee3c40" >2.0</text>
<line x1="1268.70" y1="812.18" x2="1276.70" y2="812.18" stroke="#ee3c40" stroke-width="1.6"/>
<text x="1281.90" y="821.48" font-size="30" text-anchor="start" fill="#ee3c40" >2.1</text>
<line x1="1268.70" y1="727.22" x2="1276.70" y2="727.22" stroke="#ee3c40" stroke-width="1.6"/>
<text x="1281.90" y="736.52" font-size="30" text-anchor="start" fill="#ee3c40" >2.2</text>
<line x1="1268.70" y1="642.26" x2="1276.70" y2="642.26" stroke="#ee3c40" stroke-width="1.6"/>
<text x="1281.90" y="651.56" font-size="30" text-anchor="start" fill="#ee3c40" >2.3</text>
<line x1="1268.70" y1="557.30" x2="1276.70" y2="557.30" stroke="#ee3c40" stroke-width="1.6"/>
<text x="1281.90" y="566.60" font-size="30" text-anchor="start" fill="#ee3c40" >2.4</text>
<text x="0" y="0" font-size="30.5" text-anchor="middle" fill="#0f6aad" transform="translate(674.80,768.70) rotate(-90)">Dip Amplitude</text>
<text x="0" y="0" font-size="30" text-anchor="middle" fill="#ee3c40" transform="translate(1255.40,709.00) rotate(-90)">Dip Frequency (THz)</text>
<text x="967.3" y="1049.4" font-size="30"><tspan font-style="italic">h</tspan><tspan font-size="19">a</tspan> (μm)</text>
<g transform="translate(858.00,588.70) scale(1.0)" fill="#000"><path d="M4.0,34.3 C6.5,35.6 9.5,33.5 11.4,29.4 C12.5,26.8 13.2,24.5 13.7,23.1 L15.9,14.4 C16.5,11.5 17.0,9.0 18.0,6.0 C19.0,3.4 20.5,2.6 22.0,2.9 L24.0,3.8 L24.6,0.8 C23.5,-0.3 21.5,-0.2 19.1,0.8 C16.8,1.9 14.2,4.5 12.8,7.2 C11.8,9.0 11.0,11.5 10.5,14.4 L8.7,21.2 C7.9,24.5 7.1,27.0 6.3,29.5 C5.6,31.5 4.8,33.0 3.9,34.0 Z"/><circle cx="24.6" cy="2.9" r="2.05"/><circle cx="2.4" cy="33.1" r="2.4"/><rect x="8.9" y="9.5" width="10.9" height="2.3"/></g>
<path d="M887.50,599.70 H909.00 M887.50,606.10 H909.00" stroke="#000" stroke-width="2.4" fill="none"/>
<text x="917.80" y="615.60" font-size="40" fill="#000" >2.17</text>
<path d="M988.70,602.30 H1009.50 M999.10,591.80 V612.80" stroke="#000" stroke-width="2.7" fill="none"/>
<text x="1010.10" y="615.60" font-size="40" fill="#000" >0.21</text>
<path d="M1084.38,595.88 L1100.81,612.32 M1100.81,595.88 L1084.38,612.32" stroke="#000" stroke-width="3.1" fill="none"/>
<text x="1105.50" y="615.60" font-size="40" fill="#000" >0.62</text>
<text x="1174.40" y="603.70" font-size="25" font-style="italic" fill="#000" >h</text>
<text x="1189.35" y="607.50" font-size="17" fill="#000" >a</text>
<polyline points="1182.8,582.5 1186,576.4 1189.1,582.5" fill="none" stroke="#000" stroke-width="1.7"/>
<text x="657.16" y="572.6" font-family="Liberation Sans, sans-serif" font-weight="bold" font-size="46">d</text>
<line x1="829.27" y1="1080.40" x2="829.27" y2="1506.60" stroke="#7a7a7a" stroke-width="1.3" stroke-dasharray="5.1 4.9"/>
<line x1="917.43" y1="1080.40" x2="917.43" y2="1506.60" stroke="#7a7a7a" stroke-width="1.3" stroke-dasharray="5.1 4.9"/>
<line x1="1005.60" y1="1080.40" x2="1005.60" y2="1506.60" stroke="#7a7a7a" stroke-width="1.3" stroke-dasharray="5.1 4.9"/>
<line x1="1093.77" y1="1080.40" x2="1093.77" y2="1506.60" stroke="#7a7a7a" stroke-width="1.3" stroke-dasharray="5.1 4.9"/>
<line x1="1181.93" y1="1080.40" x2="1181.93" y2="1506.60" stroke="#7a7a7a" stroke-width="1.3" stroke-dasharray="5.1 4.9"/>
<line x1="743.10" y1="1421.36" x2="1270.10" y2="1421.36" stroke="#3d72b4" stroke-width="1.1" stroke-dasharray="5.2 5.2"/>
<line x1="743.10" y1="1336.12" x2="1270.10" y2="1336.12" stroke="#3d72b4" stroke-width="1.1" stroke-dasharray="5.2 5.2"/>
<line x1="743.10" y1="1250.88" x2="1270.10" y2="1250.88" stroke="#3d72b4" stroke-width="1.1" stroke-dasharray="5.2 5.2"/>
<line x1="743.10" y1="1165.64" x2="1270.10" y2="1165.64" stroke="#3d72b4" stroke-width="1.1" stroke-dasharray="5.2 5.2"/>
<path d="M741.10,1408.50 L829.27,1295.40 L917.43,1228.50 L1005.60,1184.10 L1093.77,1157.90 L1181.93,1139.70 L1270.10,1127.30" fill="none" stroke="#0f6aad" stroke-width="4.2" stroke-dasharray="18.5 22.8" stroke-dashoffset="0"/>
<line x1="804.50" y1="1339.50" x2="843.94" y2="1405.26" stroke="#0f6aad" stroke-width="4.2" stroke-dasharray="22 14"/>
<polygon points="853.20,1420.70 837.34,1406.89 848.49,1400.21" fill="#0f6aad"/>
<circle cx="741.10" cy="1408.50" r="8.1" fill="#0f6aad"/>
<circle cx="829.27" cy="1295.40" r="8.1" fill="#0f6aad"/>
<circle cx="917.43" cy="1228.50" r="8.1" fill="#0f6aad"/>
<circle cx="1005.60" cy="1184.10" r="8.1" fill="#0f6aad"/>
<circle cx="1093.77" cy="1157.90" r="8.1" fill="#0f6aad"/>
<circle cx="1181.93" cy="1139.70" r="8.1" fill="#0f6aad"/>
<circle cx="1270.10" cy="1127.30" r="8.1" fill="#0f6aad"/>
<line x1="752.60" y1="1282.01" x2="817.77" y2="1283.19" stroke="#ee3c40" stroke-width="4.2"/>
<line x1="840.75" y1="1284.04" x2="905.95" y2="1287.66" stroke="#ee3c40" stroke-width="4.2"/>
<line x1="928.92" y1="1288.82" x2="994.11" y2="1291.78" stroke="#ee3c40" stroke-width="4.2"/>
<line x1="1017.08" y1="1293.00" x2="1082.29" y2="1297.00" stroke="#ee3c40" stroke-width="4.2"/>
<line x1="1105.25" y1="1298.33" x2="1170.45" y2="1301.87" stroke="#ee3c40" stroke-width="4.2"/>
<line x1="1193.41" y1="1303.20" x2="1258.62" y2="1307.20" stroke="#ee3c40" stroke-width="4.2"/>
<polygon points="741.10,1270.95 750.50,1287.23 731.70,1287.23" fill="#ee3c40"/>
<polygon points="829.27,1272.55 838.67,1288.83 819.87,1288.83" fill="#ee3c40"/>
<polygon points="917.43,1277.45 926.83,1293.73 908.03,1293.73" fill="#ee3c40"/>
<polygon points="1005.60,1281.45 1015.00,1297.73 996.20,1297.73" fill="#ee3c40"/>
<polygon points="1093.77,1286.85 1103.17,1303.13 1084.37,1303.13" fill="#ee3c40"/>
<polygon points="1181.93,1291.65 1191.33,1307.93 1172.53,1307.93" fill="#ee3c40"/>
<polygon points="1270.10,1297.05 1279.50,1313.33 1260.70,1313.33" fill="#ee3c40"/>
<line x1="741.10" y1="1080.40" x2="1270.10" y2="1080.40" stroke="#000" stroke-width="1.9"/>
<line x1="741.10" y1="1506.60" x2="1270.10" y2="1506.60" stroke="#000" stroke-width="1.9"/>
<line x1="741.10" y1="1079.40" x2="741.10" y2="1507.60" stroke="#0f6aad" stroke-width="1.6"/>
<line x1="1270.10" y1="1079.40" x2="1270.10" y2="1507.60" stroke="#ee3c40" stroke-width="1.5"/>
<line x1="741.10" y1="1506.60" x2="741.10" y2="1514.60" stroke="#000" stroke-width="1.9"/>
<text x="741.10" y="1544.80" font-size="30" text-anchor="middle" fill="#000" >0.00</text>
<line x1="829.27" y1="1506.60" x2="829.27" y2="1514.60" stroke="#000" stroke-width="1.9"/>
<text x="829.27" y="1544.80" font-size="30" text-anchor="middle" fill="#000" >0.05</text>
<line x1="917.43" y1="1506.60" x2="917.43" y2="1514.60" stroke="#000" stroke-width="1.9"/>
<text x="917.43" y="1544.80" font-size="30" text-anchor="middle" fill="#000" >0.10</text>
<line x1="1005.60" y1="1506.60" x2="1005.60" y2="1514.60" stroke="#000" stroke-width="1.9"/>
<text x="1005.60" y="1544.80" font-size="30" text-anchor="middle" fill="#000" >0.15</text>
<line x1="1093.77" y1="1506.60" x2="1093.77" y2="1514.60" stroke="#000" stroke-width="1.9"/>
<text x="1093.77" y="1544.80" font-size="30" text-anchor="middle" fill="#000" >0.20</text>
<line x1="1181.93" y1="1506.60" x2="1181.93" y2="1514.60" stroke="#000" stroke-width="1.9"/>
<text x="1181.93" y="1544.80" font-size="30" text-anchor="middle" fill="#000" >0.25</text>
<line x1="1270.10" y1="1506.60" x2="1270.10" y2="1514.60" stroke="#000" stroke-width="1.9"/>
<text x="1270.10" y="1544.80" font-size="30" text-anchor="middle" fill="#000" >0.30</text>
<line x1="733.10" y1="1506.60" x2="741.10" y2="1506.60" stroke="#0f6aad" stroke-width="1.9"/>
<text x="726.90" y="1515.90" font-size="30" text-anchor="end" fill="#0f6aad" >0.1</text>
<line x1="733.10" y1="1421.36" x2="741.10" y2="1421.36" stroke="#0f6aad" stroke-width="1.9"/>
<text x="726.90" y="1430.66" font-size="30" text-anchor="end" fill="#0f6aad" >0.2</text>
<line x1="733.10" y1="1336.12" x2="741.10" y2="1336.12" stroke="#0f6aad" stroke-width="1.9"/>
<text x="726.90" y="1345.42" font-size="30" text-anchor="end" fill="#0f6aad" >0.3</text>
<line x1="733.10" y1="1250.88" x2="741.10" y2="1250.88" stroke="#0f6aad" stroke-width="1.9"/>
<text x="726.90" y="1260.18" font-size="30" text-anchor="end" fill="#0f6aad" >0.4</text>
<line x1="733.10" y1="1165.64" x2="741.10" y2="1165.64" stroke="#0f6aad" stroke-width="1.9"/>
<text x="726.90" y="1174.94" font-size="30" text-anchor="end" fill="#0f6aad" >0.5</text>
<line x1="733.10" y1="1080.40" x2="741.10" y2="1080.40" stroke="#0f6aad" stroke-width="1.9"/>
<text x="726.90" y="1089.70" font-size="30" text-anchor="end" fill="#0f6aad" >0.6</text>
<line x1="1270.10" y1="1506.60" x2="1278.10" y2="1506.60" stroke="#ee3c40" stroke-width="1.6"/>
<text x="1283.30" y="1515.90" font-size="30" text-anchor="start" fill="#ee3c40" >1.9</text>
<line x1="1270.10" y1="1421.36" x2="1278.10" y2="1421.36" stroke="#ee3c40" stroke-width="1.6"/>
<text x="1283.30" y="1430.66" font-size="30" text-anchor="start" fill="#ee3c40" >2.0</text>
<line x1="1270.10" y1="1336.12" x2="1278.10" y2="1336.12" stroke="#ee3c40" stroke-width="1.6"/>
<text x="1283.30" y="1345.42" font-size="30" text-anchor="start" fill="#ee3c40" >2.1</text>
<line x1="1270.10" y1="1250.88" x2="1278.10" y2="1250.88" stroke="#ee3c40" stroke-width="1.6"/>
<text x="1283.30" y="1260.18" font-size="30" text-anchor="start" fill="#ee3c40" >2.2</text>
<line x1="1270.10" y1="1165.64" x2="1278.10" y2="1165.64" stroke="#ee3c40" stroke-width="1.6"/>
<text x="1283.30" y="1174.94" font-size="30" text-anchor="start" fill="#ee3c40" >2.3</text>
<line x1="1270.10" y1="1080.40" x2="1278.10" y2="1080.40" stroke="#ee3c40" stroke-width="1.6"/>
<text x="1283.30" y="1089.70" font-size="30" text-anchor="start" fill="#ee3c40" >2.4</text>
<text x="0" y="0" font-size="30.5" text-anchor="middle" fill="#0f6aad" transform="translate(673.90,1292.00) rotate(-90)">Dip Amplitude</text>
<text x="0" y="0" font-size="30" text-anchor="middle" fill="#ee3c40" transform="translate(1256.80,1289.00) rotate(-90)">Dip Frequency (THz)</text>
<text x="977.3" y="1576.4" font-size="30">tan <tspan font-style="italic">δ</tspan></text>
<g transform="translate(796.10,1448.00) scale(1.0)" fill="#000"><path d="M4.0,34.3 C6.5,35.6 9.5,33.5 11.4,29.4 C12.5,26.8 13.2,24.5 13.7,23.1 L15.9,14.4 C16.5,11.5 17.0,9.0 18.0,6.0 C19.0,3.4 20.5,2.6 22.0,2.9 L24.0,3.8 L24.6,0.8 C23.5,-0.3 21.5,-0.2 19.1,0.8 C16.8,1.9 14.2,4.5 12.8,7.2 C11.8,9.0 11.0,11.5 10.5,14.4 L8.7,21.2 C7.9,24.5 7.1,27.0 6.3,29.5 C5.6,31.5 4.8,33.0 3.9,34.0 Z"/><circle cx="24.6" cy="2.9" r="2.05"/><circle cx="2.4" cy="33.1" r="2.4"/><rect x="8.9" y="9.5" width="10.9" height="2.3"/></g>
<path d="M826.00,1458.60 H847.20 M826.00,1464.70 H847.20" stroke="#000" stroke-width="2.4" fill="none"/>
<text x="858.50" y="1475.00" font-size="40" fill="#000" >0.57</text>
<path d="M927.10,1461.30 H947.90 M937.50,1450.80 V1471.80" stroke="#000" stroke-width="2.7" fill="none"/>
<text x="948.80" y="1475.00" font-size="40" fill="#000" >0.35</text>
<path d="M1022.89,1455.28 L1038.92,1471.32 M1038.92,1455.28 L1022.89,1471.32" stroke="#000" stroke-width="3.1" fill="none"/>
<text x="1044.20" y="1475.00" font-size="40" fill="#000" >0.0001</text>
<text x="1152.61" y="1462.60" font-size="26" fill="#000" >tan</text>
<text x="1188.41" y="1462.60" font-size="26" font-style="italic" fill="#000" >δ</text>
<text x="656.38" y="1100.1" font-family="Liberation Sans, sans-serif" font-weight="bold" font-size="47">f</text>
</svg>
</body></html>
